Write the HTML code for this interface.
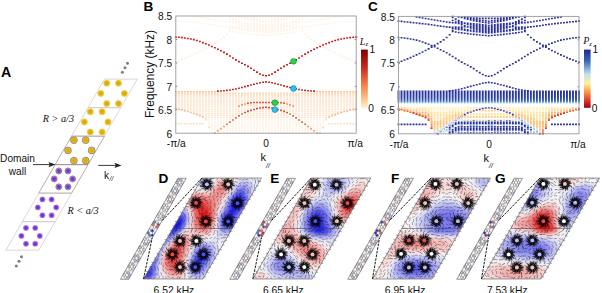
<!DOCTYPE html><html><head><meta charset="utf-8"><style>html,body{margin:0;padding:0;background:#fff;overflow:hidden;width:602px;height:293px;}svg{display:block;}</style></head><body>
<svg width="602" height="293" viewBox="0 0 602 293">
<defs>
<radialGradient id="gy"><stop offset="0" stop-color="#d8a400"/><stop offset="0.6" stop-color="#e3b510"/><stop offset="1" stop-color="#f3dc86"/></radialGradient>
<radialGradient id="gp"><stop offset="0" stop-color="#6a20c8"/><stop offset="0.6" stop-color="#8a48d8"/><stop offset="1" stop-color="#c4a8ec"/></radialGradient>
<linearGradient id="cbB" x1="0" y1="0" x2="0" y2="1"><stop offset="0" stop-color="#7a0000"/><stop offset="0.3" stop-color="#c8281c"/><stop offset="0.6" stop-color="#f2804a"/><stop offset="0.85" stop-color="#fcc890"/><stop offset="1" stop-color="#fff2dc"/></linearGradient>
<linearGradient id="cbC" x1="0" y1="0" x2="0" y2="1"><stop offset="0" stop-color="#1e2a8a"/><stop offset="0.2" stop-color="#3a6ab8"/><stop offset="0.42" stop-color="#bfe0ee"/><stop offset="0.58" stop-color="#fff0a0"/><stop offset="0.75" stop-color="#f88a40"/><stop offset="0.9" stop-color="#d42a20"/><stop offset="1" stop-color="#9a0020"/></linearGradient>
<linearGradient id="colC" x1="0" y1="0" x2="0" y2="1"><stop offset="0" stop-color="#28309a"/><stop offset="0.55" stop-color="#2a3ea6"/><stop offset="0.8" stop-color="#3a6ab8"/><stop offset="1" stop-color="#b8e0f0"/></linearGradient>
<radialGradient id="gR"><stop offset="0" stop-color="#e81818"/><stop offset="0.5" stop-color="#f06a6a" stop-opacity="0.8"/><stop offset="1" stop-color="#f8c8c8" stop-opacity="0"/></radialGradient>
<radialGradient id="gB"><stop offset="0" stop-color="#1c1cf0"/><stop offset="0.5" stop-color="#6a6af0" stop-opacity="0.8"/><stop offset="1" stop-color="#c8c8f8" stop-opacity="0"/></radialGradient>
<radialGradient id="gW"><stop offset="0" stop-color="#ffffff"/><stop offset="1" stop-color="#ffffff" stop-opacity="0"/></radialGradient>
<linearGradient id="colC2" x1="0" y1="0" x2="0" y2="1"><stop offset="0" stop-color="#2a309c"/><stop offset="0.5" stop-color="#3048b0"/><stop offset="1" stop-color="#2a3aa0"/></linearGradient>
<filter id="blur1" x="-10%" y="-10%" width="120%" height="120%"><feGaussianBlur stdDeviation="1.6"/></filter><filter id="blur2" x="-20%" y="-20%" width="140%" height="140%"><feGaussianBlur stdDeviation="1.3"/></filter>
</defs>
<rect width="602" height="293" fill="#fff"/>
<polygon points="104.37,79.15 137.28,79.15 120.83,107.65 87.92,107.65" fill="none" stroke="#cfc6c2" stroke-width="0.7"/>
<polygon points="87.97,107.65 120.88,107.65 104.43,136.15 71.52,136.15" fill="none" stroke="#cfc6c2" stroke-width="0.7"/>
<polygon points="71.57,136.15 104.48,136.15 88.03,164.65 55.12,164.65" fill="none" stroke="#948a86" stroke-width="0.7"/>
<polygon points="55.17,164.65 88.08,164.65 71.63,193.15 38.72,193.15" fill="none" stroke="#948a86" stroke-width="0.7"/>
<polygon points="38.77,193.15 71.68,193.15 55.23,221.65 22.32,221.65" fill="none" stroke="#cfc6c2" stroke-width="0.7"/>
<polygon points="22.37,221.65 55.28,221.65 38.83,250.15 5.92,250.15" fill="none" stroke="#cfc6c2" stroke-width="0.7"/>
<circle cx="124.4" cy="93.4" r="3.5" fill="url(#gy)"/>
<circle cx="118.5" cy="103.62" r="3.5" fill="url(#gy)"/>
<circle cx="106.7" cy="103.62" r="3.5" fill="url(#gy)"/>
<circle cx="100.8" cy="93.4" r="3.5" fill="url(#gy)"/>
<circle cx="106.7" cy="83.18" r="3.5" fill="url(#gy)"/>
<circle cx="118.5" cy="83.18" r="3.5" fill="url(#gy)"/>
<circle cx="108" cy="121.9" r="3.5" fill="url(#gy)"/>
<circle cx="102.1" cy="132.12" r="3.5" fill="url(#gy)"/>
<circle cx="90.3" cy="132.12" r="3.5" fill="url(#gy)"/>
<circle cx="84.4" cy="121.9" r="3.5" fill="url(#gy)"/>
<circle cx="90.3" cy="111.68" r="3.5" fill="url(#gy)"/>
<circle cx="102.1" cy="111.68" r="3.5" fill="url(#gy)"/>
<circle cx="91.6" cy="150.4" r="3.5" fill="url(#gy)"/>
<circle cx="91.6" cy="150.4" r="3.4" fill="none" stroke="#7a7270" stroke-width="0.75"/>
<circle cx="85.7" cy="160.62" r="3.5" fill="url(#gy)"/>
<circle cx="85.7" cy="160.62" r="3.4" fill="none" stroke="#7a7270" stroke-width="0.75"/>
<circle cx="73.9" cy="160.62" r="3.5" fill="url(#gy)"/>
<circle cx="73.9" cy="160.62" r="3.4" fill="none" stroke="#7a7270" stroke-width="0.75"/>
<circle cx="68" cy="150.4" r="3.5" fill="url(#gy)"/>
<circle cx="68" cy="150.4" r="3.4" fill="none" stroke="#7a7270" stroke-width="0.75"/>
<circle cx="73.9" cy="140.18" r="3.5" fill="url(#gy)"/>
<circle cx="73.9" cy="140.18" r="3.4" fill="none" stroke="#7a7270" stroke-width="0.75"/>
<circle cx="85.7" cy="140.18" r="3.5" fill="url(#gy)"/>
<circle cx="85.7" cy="140.18" r="3.4" fill="none" stroke="#7a7270" stroke-width="0.75"/>
<circle cx="72.6" cy="178.9" r="3.0" fill="url(#gp)"/>
<circle cx="72.6" cy="178.9" r="3.0" fill="none" stroke="#7a7270" stroke-width="0.75"/>
<circle cx="68" cy="186.87" r="3.0" fill="url(#gp)"/>
<circle cx="68" cy="186.87" r="3.0" fill="none" stroke="#7a7270" stroke-width="0.75"/>
<circle cx="58.8" cy="186.87" r="3.0" fill="url(#gp)"/>
<circle cx="58.8" cy="186.87" r="3.0" fill="none" stroke="#7a7270" stroke-width="0.75"/>
<circle cx="54.2" cy="178.9" r="3.0" fill="url(#gp)"/>
<circle cx="54.2" cy="178.9" r="3.0" fill="none" stroke="#7a7270" stroke-width="0.75"/>
<circle cx="58.8" cy="170.93" r="3.0" fill="url(#gp)"/>
<circle cx="58.8" cy="170.93" r="3.0" fill="none" stroke="#7a7270" stroke-width="0.75"/>
<circle cx="68" cy="170.93" r="3.0" fill="url(#gp)"/>
<circle cx="68" cy="170.93" r="3.0" fill="none" stroke="#7a7270" stroke-width="0.75"/>
<circle cx="56.2" cy="207.4" r="3.0" fill="url(#gp)"/>
<circle cx="51.6" cy="215.37" r="3.0" fill="url(#gp)"/>
<circle cx="42.4" cy="215.37" r="3.0" fill="url(#gp)"/>
<circle cx="37.8" cy="207.4" r="3.0" fill="url(#gp)"/>
<circle cx="42.4" cy="199.43" r="3.0" fill="url(#gp)"/>
<circle cx="51.6" cy="199.43" r="3.0" fill="url(#gp)"/>
<circle cx="39.8" cy="235.9" r="3.0" fill="url(#gp)"/>
<circle cx="35.2" cy="243.87" r="3.0" fill="url(#gp)"/>
<circle cx="26" cy="243.87" r="3.0" fill="url(#gp)"/>
<circle cx="21.4" cy="235.9" r="3.0" fill="url(#gp)"/>
<circle cx="26" cy="227.93" r="3.0" fill="url(#gp)"/>
<circle cx="35.2" cy="227.93" r="3.0" fill="url(#gp)"/>
<circle cx="127.5" cy="63.3" r="1.5" fill="#8a7878"/>
<circle cx="125" cy="67.8" r="1.5" fill="#8a7878"/>
<circle cx="122.4" cy="72.2" r="1.5" fill="#8a7878"/>
<circle cx="21.5" cy="256.7" r="1.5" fill="#8a7878"/>
<circle cx="19" cy="261.3" r="1.5" fill="#8a7878"/>
<circle cx="16.3" cy="265.9" r="1.5" fill="#8a7878"/>
<line x1="33" y1="164.6" x2="50" y2="164.6" stroke="#222" stroke-width="0.9"/>
<polygon points="55.5,164.6 48.5,161.9 49.8,164.6 48.5,167.3" fill="#222"/>
<line x1="98.3" y1="165.4" x2="116" y2="165.4" stroke="#222" stroke-width="0.9"/>
<polygon points="121.5,165.4 114.5,162.7 115.8,165.4 114.5,168.1" fill="#222"/>
<text x="1" y="77.2" font-size="14.2" text-anchor="start" font-weight="bold" font-style="normal" font-family='"Liberation Sans", sans-serif' fill="#000" >A</text>
<text x="17.5" y="161.8" font-size="10.1" text-anchor="middle" font-weight="normal" font-style="normal" font-family='"Liberation Sans", sans-serif' fill="#111" >Domain</text>
<text x="17.5" y="174.8" font-size="10.1" text-anchor="middle" font-weight="normal" font-style="normal" font-family='"Liberation Sans", sans-serif' fill="#111" >wall</text>
<text x="104" y="179" font-size="10.1" text-anchor="start" font-weight="normal" font-style="normal" font-family='"Liberation Sans", sans-serif' fill="#111" >k</text>
<text x="109.6" y="181.4" font-size="6.5" text-anchor="start" font-weight="normal" font-style="italic" font-family='"Liberation Sans", sans-serif' fill="#111" >//</text>
<text x="42.8" y="122" font-size="10.2" text-anchor="start" font-weight="normal" font-style="italic" font-family='"Liberation Serif", serif' fill="#111" >R &gt; a/3</text>
<text x="67.5" y="214.3" font-size="10.2" text-anchor="start" font-weight="normal" font-style="italic" font-family='"Liberation Serif", serif' fill="#111" >R &lt; a/3</text>
<path fill="#c8181c" d="M174.85 36.3h1.9v1.6h-1.9zM177.86 36.51h1.9v1.6h-1.9zM180.86 36.83h1.9v1.6h-1.9zM183.87 37.23h1.9v1.6h-1.9zM186.88 37.71h1.9v1.6h-1.9zM189.88 38.25h1.9v1.6h-1.9zM192.89 38.87h1.9v1.6h-1.9zM195.9 39.71h1.9v1.6h-1.9zM198.9 40.72h1.9v1.6h-1.9zM201.91 41.85h1.9v1.6h-1.9zM204.92 43.02h1.9v1.6h-1.9zM207.92 44.23h1.9v1.6h-1.9zM210.93 45.55h1.9v1.6h-1.9zM213.94 46.94h1.9v1.6h-1.9zM216.94 48.42h1.9v1.6h-1.9zM219.95 49.96h1.9v1.6h-1.9zM222.96 51.56h1.9v1.6h-1.9zM225.96 53.32h1.9v1.6h-1.9zM228.97 55.21h1.9v1.6h-1.9zM231.98 57.15h1.9v1.6h-1.9zM234.98 59.05h1.9v1.6h-1.9zM237.99 60.83h1.9v1.6h-1.9zM241 62.42h1.9v1.6h-1.9zM244 63.95h1.9v1.6h-1.9zM247.01 65.55h1.9v1.6h-1.9zM250.02 67.38h1.9v1.6h-1.9zM253.02 69.4h1.9v1.6h-1.9zM256.03 71.37h1.9v1.6h-1.9zM259.04 73.25h1.9v1.6h-1.9zM262.04 74.51h1.9v1.6h-1.9zM265.05 74.97h1.9v1.6h-1.9zM268.06 74.51h1.9v1.6h-1.9zM271.06 73.25h1.9v1.6h-1.9zM274.07 71.37h1.9v1.6h-1.9zM277.08 69.4h1.9v1.6h-1.9zM280.08 67.38h1.9v1.6h-1.9zM283.09 65.55h1.9v1.6h-1.9zM286.1 63.95h1.9v1.6h-1.9zM289.1 62.42h1.9v1.6h-1.9zM292.11 60.83h1.9v1.6h-1.9zM295.12 59.05h1.9v1.6h-1.9zM298.12 57.15h1.9v1.6h-1.9zM301.13 55.21h1.9v1.6h-1.9zM304.14 53.32h1.9v1.6h-1.9zM307.14 51.56h1.9v1.6h-1.9zM310.15 49.96h1.9v1.6h-1.9zM313.16 48.42h1.9v1.6h-1.9zM316.16 46.94h1.9v1.6h-1.9zM319.17 45.55h1.9v1.6h-1.9zM322.18 44.23h1.9v1.6h-1.9zM325.18 43.02h1.9v1.6h-1.9zM328.19 41.85h1.9v1.6h-1.9zM331.2 40.72h1.9v1.6h-1.9zM334.2 39.71h1.9v1.6h-1.9zM337.21 38.87h1.9v1.6h-1.9zM340.22 38.25h1.9v1.6h-1.9zM343.22 37.71h1.9v1.6h-1.9zM346.23 37.23h1.9v1.6h-1.9zM349.24 36.83h1.9v1.6h-1.9zM352.24 36.51h1.9v1.6h-1.9zM355.25 36.3h1.9v1.6h-1.9z"/>
<path fill="#c42a1c" d="M216.94 90.33h1.9v1.6h-1.9zM219.95 90.13h1.9v1.6h-1.9zM222.96 89.88h1.9v1.6h-1.9zM225.96 89.58h1.9v1.6h-1.9zM228.97 89.2h1.9v1.6h-1.9zM231.98 88.73h1.9v1.6h-1.9zM234.98 88.17h1.9v1.6h-1.9zM237.99 87.47h1.9v1.6h-1.9zM241 86.68h1.9v1.6h-1.9zM244 85.85h1.9v1.6h-1.9zM247.01 85.05h1.9v1.6h-1.9zM250.02 84.24h1.9v1.6h-1.9zM253.02 83.4h1.9v1.6h-1.9zM256.03 82.63h1.9v1.6h-1.9zM259.04 82.01h1.9v1.6h-1.9zM262.04 81.49h1.9v1.6h-1.9zM265.05 81.07h1.9v1.6h-1.9zM268.06 81.49h1.9v1.6h-1.9zM271.06 82.01h1.9v1.6h-1.9zM274.07 82.63h1.9v1.6h-1.9zM277.08 83.4h1.9v1.6h-1.9zM280.08 84.24h1.9v1.6h-1.9zM283.09 85.05h1.9v1.6h-1.9zM286.1 85.85h1.9v1.6h-1.9zM289.1 86.68h1.9v1.6h-1.9zM292.11 87.47h1.9v1.6h-1.9zM295.12 88.17h1.9v1.6h-1.9zM298.12 88.73h1.9v1.6h-1.9zM301.13 89.2h1.9v1.6h-1.9zM304.14 89.58h1.9v1.6h-1.9zM307.14 89.88h1.9v1.6h-1.9zM310.15 90.13h1.9v1.6h-1.9zM313.16 90.33h1.9v1.6h-1.9z"/>
<path fill="#fef0e0" d="M174.85 61h1.9v1.6h-1.9zM177.86 59.92h1.9v1.6h-1.9zM180.86 58.77h1.9v1.6h-1.9zM183.87 57.57h1.9v1.6h-1.9zM186.88 56.31h1.9v1.6h-1.9zM189.88 55h1.9v1.6h-1.9zM192.89 53.64h1.9v1.6h-1.9zM195.9 52.23h1.9v1.6h-1.9zM198.9 50.76h1.9v1.6h-1.9zM201.91 49.22h1.9v1.6h-1.9zM204.92 47.6h1.9v1.6h-1.9zM207.92 45.89h1.9v1.6h-1.9zM210.93 44.13h1.9v1.6h-1.9zM213.94 42.41h1.9v1.6h-1.9zM216.94 40.61h1.9v1.6h-1.9zM219.95 38.61h1.9v1.6h-1.9zM222.96 36.28h1.9v1.6h-1.9zM225.96 33.51h1.9v1.6h-1.9zM228.97 29.26h1.9v1.6h-1.9zM301.13 29.26h1.9v1.6h-1.9zM304.14 33.51h1.9v1.6h-1.9zM307.14 36.28h1.9v1.6h-1.9zM310.15 38.61h1.9v1.6h-1.9zM313.16 40.61h1.9v1.6h-1.9zM316.16 42.41h1.9v1.6h-1.9zM319.17 44.13h1.9v1.6h-1.9zM322.18 45.89h1.9v1.6h-1.9zM325.18 47.6h1.9v1.6h-1.9zM328.19 49.22h1.9v1.6h-1.9zM331.2 50.76h1.9v1.6h-1.9zM334.2 52.23h1.9v1.6h-1.9zM337.21 53.64h1.9v1.6h-1.9zM340.22 55h1.9v1.6h-1.9zM343.22 56.31h1.9v1.6h-1.9zM346.23 57.57h1.9v1.6h-1.9zM349.24 58.77h1.9v1.6h-1.9zM352.24 59.92h1.9v1.6h-1.9zM355.25 61h1.9v1.6h-1.9z"/>
<path fill="#fff4e8" d="M192.89 15.65h1.9v1.6h-1.9zM195.9 16.21h1.9v1.6h-1.9zM198.9 16.77h1.9v1.6h-1.9zM201.91 17.3h1.9v1.6h-1.9zM204.92 17.82h1.9v1.6h-1.9zM207.92 18.32h1.9v1.6h-1.9zM210.93 18.79h1.9v1.6h-1.9zM213.94 19.28h1.9v1.6h-1.9zM216.94 19.78h1.9v1.6h-1.9zM219.95 20.28h1.9v1.6h-1.9zM222.96 20.74h1.9v1.6h-1.9zM225.96 21.15h1.9v1.6h-1.9zM228.97 21.48h1.9v1.6h-1.9zM231.98 21.71h1.9v1.6h-1.9zM234.98 21.85h1.9v1.6h-1.9zM237.99 21.95h1.9v1.6h-1.9zM241 22.04h1.9v1.6h-1.9zM244 22.14h1.9v1.6h-1.9zM247.01 22.29h1.9v1.6h-1.9zM250.02 22.5h1.9v1.6h-1.9zM253.02 22.77h1.9v1.6h-1.9zM256.03 23.11h1.9v1.6h-1.9zM259.04 23.5h1.9v1.6h-1.9zM262.04 23.92h1.9v1.6h-1.9zM265.05 24.38h1.9v1.6h-1.9zM268.06 23.92h1.9v1.6h-1.9zM271.06 23.5h1.9v1.6h-1.9zM274.07 23.11h1.9v1.6h-1.9zM277.08 22.77h1.9v1.6h-1.9zM280.08 22.5h1.9v1.6h-1.9zM283.09 22.29h1.9v1.6h-1.9zM286.1 22.14h1.9v1.6h-1.9zM289.1 22.04h1.9v1.6h-1.9zM292.11 21.95h1.9v1.6h-1.9zM295.12 21.85h1.9v1.6h-1.9zM298.12 21.71h1.9v1.6h-1.9zM301.13 21.48h1.9v1.6h-1.9zM304.14 21.15h1.9v1.6h-1.9zM307.14 20.74h1.9v1.6h-1.9zM310.15 20.28h1.9v1.6h-1.9zM313.16 19.78h1.9v1.6h-1.9zM316.16 19.28h1.9v1.6h-1.9zM319.17 18.79h1.9v1.6h-1.9zM322.18 18.32h1.9v1.6h-1.9zM325.18 17.82h1.9v1.6h-1.9zM328.19 17.3h1.9v1.6h-1.9zM331.2 16.77h1.9v1.6h-1.9zM334.2 16.21h1.9v1.6h-1.9zM337.21 15.65h1.9v1.6h-1.9zM174.85 19.89h1.9v1.6h-1.9zM177.86 20.2h1.9v1.6h-1.9zM180.86 20.52h1.9v1.6h-1.9zM183.87 20.84h1.9v1.6h-1.9zM186.88 21.16h1.9v1.6h-1.9zM189.88 21.48h1.9v1.6h-1.9zM192.89 21.8h1.9v1.6h-1.9zM195.9 22.13h1.9v1.6h-1.9zM198.9 22.46h1.9v1.6h-1.9zM201.91 22.79h1.9v1.6h-1.9zM204.92 23.15h1.9v1.6h-1.9zM207.92 23.57h1.9v1.6h-1.9zM210.93 24.02h1.9v1.6h-1.9zM213.94 24.47h1.9v1.6h-1.9zM216.94 24.92h1.9v1.6h-1.9zM219.95 25.32h1.9v1.6h-1.9zM222.96 25.68h1.9v1.6h-1.9zM225.96 25.95h1.9v1.6h-1.9zM228.97 26.13h1.9v1.6h-1.9zM231.98 26.18h1.9v1.6h-1.9zM234.98 26.07h1.9v1.6h-1.9zM237.99 25.85h1.9v1.6h-1.9zM241 25.59h1.9v1.6h-1.9zM244 25.37h1.9v1.6h-1.9zM247.01 25.28h1.9v1.6h-1.9zM250.02 25.32h1.9v1.6h-1.9zM253.02 25.43h1.9v1.6h-1.9zM256.03 25.61h1.9v1.6h-1.9zM259.04 25.86h1.9v1.6h-1.9zM262.04 26.19h1.9v1.6h-1.9zM265.05 26.58h1.9v1.6h-1.9zM268.06 26.19h1.9v1.6h-1.9zM271.06 25.86h1.9v1.6h-1.9zM274.07 25.61h1.9v1.6h-1.9zM277.08 25.43h1.9v1.6h-1.9zM280.08 25.32h1.9v1.6h-1.9zM283.09 25.28h1.9v1.6h-1.9zM286.1 25.37h1.9v1.6h-1.9zM289.1 25.59h1.9v1.6h-1.9zM292.11 25.85h1.9v1.6h-1.9zM295.12 26.07h1.9v1.6h-1.9zM298.12 26.18h1.9v1.6h-1.9zM301.13 26.13h1.9v1.6h-1.9zM304.14 25.95h1.9v1.6h-1.9zM307.14 25.68h1.9v1.6h-1.9zM310.15 25.32h1.9v1.6h-1.9zM313.16 24.92h1.9v1.6h-1.9zM316.16 24.47h1.9v1.6h-1.9zM319.17 24.02h1.9v1.6h-1.9zM322.18 23.57h1.9v1.6h-1.9zM325.18 23.15h1.9v1.6h-1.9zM328.19 22.79h1.9v1.6h-1.9zM331.2 22.46h1.9v1.6h-1.9zM334.2 22.13h1.9v1.6h-1.9zM337.21 21.8h1.9v1.6h-1.9zM340.22 21.48h1.9v1.6h-1.9zM343.22 21.16h1.9v1.6h-1.9zM346.23 20.84h1.9v1.6h-1.9zM349.24 20.52h1.9v1.6h-1.9zM352.24 20.2h1.9v1.6h-1.9zM355.25 19.89h1.9v1.6h-1.9zM241 15.53h1.9v1.6h-1.9zM244 16.06h1.9v1.6h-1.9zM247.01 16.51h1.9v1.6h-1.9zM250.02 16.81h1.9v1.6h-1.9zM253.02 16.95h1.9v1.6h-1.9zM256.03 17.05h1.9v1.6h-1.9zM259.04 17.13h1.9v1.6h-1.9zM262.04 17.18h1.9v1.6h-1.9zM265.05 17.2h1.9v1.6h-1.9zM268.06 17.18h1.9v1.6h-1.9zM271.06 17.13h1.9v1.6h-1.9zM274.07 17.05h1.9v1.6h-1.9zM277.08 16.95h1.9v1.6h-1.9zM280.08 16.81h1.9v1.6h-1.9zM283.09 16.51h1.9v1.6h-1.9zM286.1 16.06h1.9v1.6h-1.9zM289.1 15.53h1.9v1.6h-1.9zM237.99 16.23h1.9v1.6h-1.9zM241 17.19h1.9v1.6h-1.9zM244 18.06h1.9v1.6h-1.9zM247.01 18.79h1.9v1.6h-1.9zM250.02 19.43h1.9v1.6h-1.9zM253.02 20.04h1.9v1.6h-1.9zM256.03 20.59h1.9v1.6h-1.9zM259.04 21.07h1.9v1.6h-1.9zM262.04 21.48h1.9v1.6h-1.9zM265.05 21.79h1.9v1.6h-1.9zM268.06 21.48h1.9v1.6h-1.9zM271.06 21.07h1.9v1.6h-1.9zM274.07 20.59h1.9v1.6h-1.9zM277.08 20.04h1.9v1.6h-1.9zM280.08 19.43h1.9v1.6h-1.9zM283.09 18.79h1.9v1.6h-1.9zM286.1 18.06h1.9v1.6h-1.9zM289.1 17.19h1.9v1.6h-1.9zM292.11 16.23h1.9v1.6h-1.9zM228.97 15.3h1.9v1.6h-1.9zM231.98 18.31h1.9v1.6h-1.9zM234.98 20.55h1.9v1.6h-1.9zM237.99 22.61h1.9v1.6h-1.9zM241 24.4h1.9v1.6h-1.9zM244 25.83h1.9v1.6h-1.9zM247.01 26.78h1.9v1.6h-1.9zM250.02 27.44h1.9v1.6h-1.9zM253.02 28.03h1.9v1.6h-1.9zM256.03 28.54h1.9v1.6h-1.9zM259.04 28.93h1.9v1.6h-1.9zM262.04 29.19h1.9v1.6h-1.9zM265.05 29.28h1.9v1.6h-1.9zM268.06 29.19h1.9v1.6h-1.9zM271.06 28.93h1.9v1.6h-1.9zM274.07 28.54h1.9v1.6h-1.9zM277.08 28.03h1.9v1.6h-1.9zM280.08 27.44h1.9v1.6h-1.9zM283.09 26.78h1.9v1.6h-1.9zM286.1 25.83h1.9v1.6h-1.9zM289.1 24.4h1.9v1.6h-1.9zM292.11 22.61h1.9v1.6h-1.9zM295.12 20.55h1.9v1.6h-1.9zM298.12 18.31h1.9v1.6h-1.9zM301.13 15.3h1.9v1.6h-1.9zM228.97 27.28h1.9v1.6h-1.9zM231.98 27.73h1.9v1.6h-1.9zM234.98 28.17h1.9v1.6h-1.9zM237.99 28.59h1.9v1.6h-1.9zM241 29h1.9v1.6h-1.9zM244 29.4h1.9v1.6h-1.9zM247.01 29.78h1.9v1.6h-1.9zM250.02 30.14h1.9v1.6h-1.9zM253.02 30.49h1.9v1.6h-1.9zM256.03 30.83h1.9v1.6h-1.9zM259.04 31.16h1.9v1.6h-1.9zM262.04 31.47h1.9v1.6h-1.9zM265.05 31.77h1.9v1.6h-1.9zM268.06 31.47h1.9v1.6h-1.9zM271.06 31.16h1.9v1.6h-1.9zM274.07 30.83h1.9v1.6h-1.9zM277.08 30.49h1.9v1.6h-1.9zM280.08 30.14h1.9v1.6h-1.9zM283.09 29.78h1.9v1.6h-1.9zM286.1 29.4h1.9v1.6h-1.9zM289.1 29h1.9v1.6h-1.9zM292.11 28.59h1.9v1.6h-1.9zM295.12 28.17h1.9v1.6h-1.9zM298.12 27.73h1.9v1.6h-1.9zM301.13 27.28h1.9v1.6h-1.9zM228.97 30.27h1.9v1.6h-1.9zM231.98 30.75h1.9v1.6h-1.9zM234.98 31.2h1.9v1.6h-1.9zM237.99 31.63h1.9v1.6h-1.9zM241 32.04h1.9v1.6h-1.9zM244 32.42h1.9v1.6h-1.9zM247.01 32.77h1.9v1.6h-1.9zM250.02 33.1h1.9v1.6h-1.9zM253.02 33.41h1.9v1.6h-1.9zM256.03 33.71h1.9v1.6h-1.9zM259.04 33.98h1.9v1.6h-1.9zM262.04 34.24h1.9v1.6h-1.9zM265.05 34.47h1.9v1.6h-1.9zM268.06 34.24h1.9v1.6h-1.9zM271.06 33.98h1.9v1.6h-1.9zM274.07 33.71h1.9v1.6h-1.9zM277.08 33.41h1.9v1.6h-1.9zM280.08 33.1h1.9v1.6h-1.9zM283.09 32.77h1.9v1.6h-1.9zM286.1 32.42h1.9v1.6h-1.9zM289.1 32.04h1.9v1.6h-1.9zM292.11 31.63h1.9v1.6h-1.9zM295.12 31.2h1.9v1.6h-1.9zM298.12 30.75h1.9v1.6h-1.9zM301.13 30.27h1.9v1.6h-1.9zM234.98 15.76h1.9v1.6h-1.9zM237.99 16.3h1.9v1.6h-1.9zM241 16.78h1.9v1.6h-1.9zM244 17.24h1.9v1.6h-1.9zM247.01 17.67h1.9v1.6h-1.9zM250.02 18.09h1.9v1.6h-1.9zM253.02 18.5h1.9v1.6h-1.9zM256.03 18.89h1.9v1.6h-1.9zM259.04 19.27h1.9v1.6h-1.9zM262.04 19.64h1.9v1.6h-1.9zM265.05 19.99h1.9v1.6h-1.9zM268.06 19.64h1.9v1.6h-1.9zM271.06 19.27h1.9v1.6h-1.9zM274.07 18.89h1.9v1.6h-1.9zM277.08 18.5h1.9v1.6h-1.9zM280.08 18.09h1.9v1.6h-1.9zM283.09 17.67h1.9v1.6h-1.9zM286.1 17.24h1.9v1.6h-1.9zM289.1 16.78h1.9v1.6h-1.9zM292.11 16.3h1.9v1.6h-1.9zM295.12 15.76h1.9v1.6h-1.9zM228.97 16.3h1.9v1.6h-1.9zM231.98 17.87h1.9v1.6h-1.9zM234.98 19.28h1.9v1.6h-1.9zM237.99 20.56h1.9v1.6h-1.9zM241 21.85h1.9v1.6h-1.9zM244 22.93h1.9v1.6h-1.9zM247.01 23.59h1.9v1.6h-1.9zM250.02 23.92h1.9v1.6h-1.9zM253.02 24.21h1.9v1.6h-1.9zM256.03 24.45h1.9v1.6h-1.9zM259.04 24.63h1.9v1.6h-1.9zM262.04 24.74h1.9v1.6h-1.9zM265.05 24.78h1.9v1.6h-1.9zM268.06 24.74h1.9v1.6h-1.9zM271.06 24.63h1.9v1.6h-1.9zM274.07 24.45h1.9v1.6h-1.9zM277.08 24.21h1.9v1.6h-1.9zM280.08 23.92h1.9v1.6h-1.9zM283.09 23.59h1.9v1.6h-1.9zM286.1 22.93h1.9v1.6h-1.9zM289.1 21.85h1.9v1.6h-1.9zM292.11 20.56h1.9v1.6h-1.9zM295.12 19.28h1.9v1.6h-1.9zM298.12 17.87h1.9v1.6h-1.9zM301.13 16.3h1.9v1.6h-1.9zM231.98 25.71h1.9v1.6h-1.9zM234.98 26.58h1.9v1.6h-1.9zM237.99 27.36h1.9v1.6h-1.9zM241 28.01h1.9v1.6h-1.9zM244 28.52h1.9v1.6h-1.9zM247.01 28.99h1.9v1.6h-1.9zM250.02 29.43h1.9v1.6h-1.9zM253.02 29.83h1.9v1.6h-1.9zM256.03 30.18h1.9v1.6h-1.9zM259.04 30.46h1.9v1.6h-1.9zM262.04 30.67h1.9v1.6h-1.9zM265.05 30.77h1.9v1.6h-1.9zM268.06 30.67h1.9v1.6h-1.9zM271.06 30.46h1.9v1.6h-1.9zM274.07 30.18h1.9v1.6h-1.9zM277.08 29.83h1.9v1.6h-1.9zM280.08 29.43h1.9v1.6h-1.9zM283.09 28.99h1.9v1.6h-1.9zM286.1 28.52h1.9v1.6h-1.9zM289.1 28.01h1.9v1.6h-1.9zM292.11 27.36h1.9v1.6h-1.9zM295.12 26.58h1.9v1.6h-1.9zM298.12 25.71h1.9v1.6h-1.9zM228.97 19.24h1.9v1.6h-1.9zM231.98 20.76h1.9v1.6h-1.9zM234.98 22.16h1.9v1.6h-1.9zM237.99 23.4h1.9v1.6h-1.9zM241 24.48h1.9v1.6h-1.9zM244 25.34h1.9v1.6h-1.9zM247.01 25.98h1.9v1.6h-1.9zM250.02 26.49h1.9v1.6h-1.9zM253.02 26.96h1.9v1.6h-1.9zM256.03 27.36h1.9v1.6h-1.9zM259.04 27.69h1.9v1.6h-1.9zM262.04 27.9h1.9v1.6h-1.9zM265.05 27.98h1.9v1.6h-1.9zM268.06 27.9h1.9v1.6h-1.9zM271.06 27.69h1.9v1.6h-1.9zM274.07 27.36h1.9v1.6h-1.9zM277.08 26.96h1.9v1.6h-1.9zM280.08 26.49h1.9v1.6h-1.9zM283.09 25.98h1.9v1.6h-1.9zM286.1 25.34h1.9v1.6h-1.9zM289.1 24.48h1.9v1.6h-1.9zM292.11 23.4h1.9v1.6h-1.9zM295.12 22.16h1.9v1.6h-1.9zM298.12 20.76h1.9v1.6h-1.9zM301.13 19.24h1.9v1.6h-1.9z"/>
<path fill="#fbc08e" d="M174.85 90.96h1.9v1.5h-1.9zM177.86 90.96h1.9v1.5h-1.9zM180.86 90.96h1.9v1.5h-1.9zM183.87 90.96h1.9v1.5h-1.9zM186.88 90.96h1.9v1.5h-1.9zM189.88 90.96h1.9v1.5h-1.9zM192.89 90.96h1.9v1.5h-1.9zM195.9 90.96h1.9v1.5h-1.9zM198.9 90.96h1.9v1.5h-1.9zM201.91 90.96h1.9v1.5h-1.9zM204.92 90.96h1.9v1.5h-1.9zM207.92 90.96h1.9v1.5h-1.9zM210.93 90.96h1.9v1.5h-1.9zM213.94 90.96h1.9v1.5h-1.9zM316.16 90.96h1.9v1.5h-1.9zM319.17 90.96h1.9v1.5h-1.9zM322.18 90.96h1.9v1.5h-1.9zM325.18 90.96h1.9v1.5h-1.9zM328.19 90.96h1.9v1.5h-1.9zM331.2 90.96h1.9v1.5h-1.9zM334.2 90.96h1.9v1.5h-1.9zM337.21 90.96h1.9v1.5h-1.9zM340.22 90.96h1.9v1.5h-1.9zM343.22 90.96h1.9v1.5h-1.9zM346.23 90.96h1.9v1.5h-1.9zM349.24 90.96h1.9v1.5h-1.9zM352.24 90.96h1.9v1.5h-1.9zM355.25 90.96h1.9v1.5h-1.9z"/>
<path fill="#fdd8b4" d="M174.85 92.56h1.9v1.5h-1.9zM174.85 94.15h1.9v1.5h-1.9zM177.86 92.56h1.9v1.5h-1.9zM177.86 94.15h1.9v1.5h-1.9zM180.86 92.56h1.9v1.5h-1.9zM180.86 94.15h1.9v1.5h-1.9zM183.87 92.56h1.9v1.5h-1.9zM183.87 94.15h1.9v1.5h-1.9zM186.88 92.56h1.9v1.5h-1.9zM186.88 94.15h1.9v1.5h-1.9zM189.88 92.56h1.9v1.5h-1.9zM189.88 94.15h1.9v1.5h-1.9zM192.89 92.56h1.9v1.5h-1.9zM192.89 94.15h1.9v1.5h-1.9zM195.9 92.56h1.9v1.5h-1.9zM195.9 94.15h1.9v1.5h-1.9zM198.9 92.56h1.9v1.5h-1.9zM198.9 94.15h1.9v1.5h-1.9zM201.91 92.56h1.9v1.5h-1.9zM201.91 94.15h1.9v1.5h-1.9zM204.92 92.56h1.9v1.5h-1.9zM204.92 94.15h1.9v1.5h-1.9zM207.92 92.56h1.9v1.5h-1.9zM207.92 94.15h1.9v1.5h-1.9zM210.93 92.56h1.9v1.5h-1.9zM210.93 94.15h1.9v1.5h-1.9zM213.94 92.56h1.9v1.5h-1.9zM213.94 94.15h1.9v1.5h-1.9zM216.94 92.56h1.9v1.5h-1.9zM216.94 94.15h1.9v1.5h-1.9zM219.95 92.56h1.9v1.5h-1.9zM219.95 94.15h1.9v1.5h-1.9zM222.96 92.56h1.9v1.5h-1.9zM222.96 94.15h1.9v1.5h-1.9zM225.96 92.56h1.9v1.5h-1.9zM225.96 94.15h1.9v1.5h-1.9zM228.97 92.56h1.9v1.5h-1.9zM228.97 94.15h1.9v1.5h-1.9zM231.98 92.56h1.9v1.5h-1.9zM231.98 94.15h1.9v1.5h-1.9zM234.98 92.56h1.9v1.5h-1.9zM234.98 94.15h1.9v1.5h-1.9zM237.99 92.56h1.9v1.5h-1.9zM237.99 94.15h1.9v1.5h-1.9zM241 92.56h1.9v1.5h-1.9zM241 94.15h1.9v1.5h-1.9zM244 92.56h1.9v1.5h-1.9zM244 94.15h1.9v1.5h-1.9zM247.01 92.56h1.9v1.5h-1.9zM247.01 94.15h1.9v1.5h-1.9zM250.02 92.56h1.9v1.5h-1.9zM250.02 94.15h1.9v1.5h-1.9zM253.02 92.56h1.9v1.5h-1.9zM253.02 94.15h1.9v1.5h-1.9zM256.03 92.56h1.9v1.5h-1.9zM256.03 94.15h1.9v1.5h-1.9zM259.04 92.56h1.9v1.5h-1.9zM259.04 94.15h1.9v1.5h-1.9zM262.04 92.56h1.9v1.5h-1.9zM262.04 94.15h1.9v1.5h-1.9zM265.05 92.56h1.9v1.5h-1.9zM265.05 94.15h1.9v1.5h-1.9zM268.06 92.56h1.9v1.5h-1.9zM268.06 94.15h1.9v1.5h-1.9zM271.06 92.56h1.9v1.5h-1.9zM271.06 94.15h1.9v1.5h-1.9zM274.07 92.56h1.9v1.5h-1.9zM274.07 94.15h1.9v1.5h-1.9zM277.08 92.56h1.9v1.5h-1.9zM277.08 94.15h1.9v1.5h-1.9zM280.08 92.56h1.9v1.5h-1.9zM280.08 94.15h1.9v1.5h-1.9zM283.09 92.56h1.9v1.5h-1.9zM283.09 94.15h1.9v1.5h-1.9zM286.1 92.56h1.9v1.5h-1.9zM286.1 94.15h1.9v1.5h-1.9zM289.1 92.56h1.9v1.5h-1.9zM289.1 94.15h1.9v1.5h-1.9zM292.11 92.56h1.9v1.5h-1.9zM292.11 94.15h1.9v1.5h-1.9zM295.12 92.56h1.9v1.5h-1.9zM295.12 94.15h1.9v1.5h-1.9zM298.12 92.56h1.9v1.5h-1.9zM298.12 94.15h1.9v1.5h-1.9zM301.13 92.56h1.9v1.5h-1.9zM301.13 94.15h1.9v1.5h-1.9zM304.14 92.56h1.9v1.5h-1.9zM304.14 94.15h1.9v1.5h-1.9zM307.14 92.56h1.9v1.5h-1.9zM307.14 94.15h1.9v1.5h-1.9zM310.15 92.56h1.9v1.5h-1.9zM310.15 94.15h1.9v1.5h-1.9zM313.16 92.56h1.9v1.5h-1.9zM313.16 94.15h1.9v1.5h-1.9zM316.16 92.56h1.9v1.5h-1.9zM316.16 94.15h1.9v1.5h-1.9zM319.17 92.56h1.9v1.5h-1.9zM319.17 94.15h1.9v1.5h-1.9zM322.18 92.56h1.9v1.5h-1.9zM322.18 94.15h1.9v1.5h-1.9zM325.18 92.56h1.9v1.5h-1.9zM325.18 94.15h1.9v1.5h-1.9zM328.19 92.56h1.9v1.5h-1.9zM328.19 94.15h1.9v1.5h-1.9zM331.2 92.56h1.9v1.5h-1.9zM331.2 94.15h1.9v1.5h-1.9zM334.2 92.56h1.9v1.5h-1.9zM334.2 94.15h1.9v1.5h-1.9zM337.21 92.56h1.9v1.5h-1.9zM337.21 94.15h1.9v1.5h-1.9zM340.22 92.56h1.9v1.5h-1.9zM340.22 94.15h1.9v1.5h-1.9zM343.22 92.56h1.9v1.5h-1.9zM343.22 94.15h1.9v1.5h-1.9zM346.23 92.56h1.9v1.5h-1.9zM346.23 94.15h1.9v1.5h-1.9zM349.24 92.56h1.9v1.5h-1.9zM349.24 94.15h1.9v1.5h-1.9zM352.24 92.56h1.9v1.5h-1.9zM352.24 94.15h1.9v1.5h-1.9zM355.25 92.56h1.9v1.5h-1.9zM355.25 94.15h1.9v1.5h-1.9z"/>
<path fill="#fee8d4" d="M174.85 95.74h1.9v1.5h-1.9zM174.85 97.34h1.9v1.5h-1.9zM174.85 98.93h1.9v1.5h-1.9zM174.85 100.52h1.9v1.5h-1.9zM174.85 102.12h1.9v1.5h-1.9zM174.85 103.71h1.9v1.5h-1.9zM177.86 95.74h1.9v1.5h-1.9zM177.86 97.34h1.9v1.5h-1.9zM177.86 98.93h1.9v1.5h-1.9zM177.86 100.52h1.9v1.5h-1.9zM177.86 102.12h1.9v1.5h-1.9zM177.86 103.71h1.9v1.5h-1.9zM180.86 95.74h1.9v1.5h-1.9zM180.86 97.34h1.9v1.5h-1.9zM180.86 98.93h1.9v1.5h-1.9zM180.86 100.52h1.9v1.5h-1.9zM180.86 102.12h1.9v1.5h-1.9zM180.86 103.71h1.9v1.5h-1.9zM183.87 95.74h1.9v1.5h-1.9zM183.87 97.34h1.9v1.5h-1.9zM183.87 98.93h1.9v1.5h-1.9zM183.87 100.52h1.9v1.5h-1.9zM183.87 102.12h1.9v1.5h-1.9zM183.87 103.71h1.9v1.5h-1.9zM186.88 95.74h1.9v1.5h-1.9zM186.88 97.34h1.9v1.5h-1.9zM186.88 98.93h1.9v1.5h-1.9zM186.88 100.52h1.9v1.5h-1.9zM186.88 102.12h1.9v1.5h-1.9zM186.88 103.71h1.9v1.5h-1.9zM189.88 95.74h1.9v1.5h-1.9zM189.88 97.34h1.9v1.5h-1.9zM189.88 98.93h1.9v1.5h-1.9zM189.88 100.52h1.9v1.5h-1.9zM189.88 102.12h1.9v1.5h-1.9zM189.88 103.71h1.9v1.5h-1.9zM192.89 95.74h1.9v1.5h-1.9zM192.89 97.34h1.9v1.5h-1.9zM192.89 98.93h1.9v1.5h-1.9zM192.89 100.52h1.9v1.5h-1.9zM192.89 102.12h1.9v1.5h-1.9zM192.89 103.71h1.9v1.5h-1.9zM195.9 95.74h1.9v1.5h-1.9zM195.9 97.34h1.9v1.5h-1.9zM195.9 98.93h1.9v1.5h-1.9zM195.9 100.52h1.9v1.5h-1.9zM195.9 102.12h1.9v1.5h-1.9zM195.9 103.71h1.9v1.5h-1.9zM198.9 95.74h1.9v1.5h-1.9zM198.9 97.34h1.9v1.5h-1.9zM198.9 98.93h1.9v1.5h-1.9zM198.9 100.52h1.9v1.5h-1.9zM198.9 102.12h1.9v1.5h-1.9zM198.9 103.71h1.9v1.5h-1.9zM201.91 95.74h1.9v1.5h-1.9zM201.91 97.34h1.9v1.5h-1.9zM201.91 98.93h1.9v1.5h-1.9zM201.91 100.52h1.9v1.5h-1.9zM201.91 102.12h1.9v1.5h-1.9zM201.91 103.71h1.9v1.5h-1.9zM204.92 95.74h1.9v1.5h-1.9zM204.92 97.34h1.9v1.5h-1.9zM204.92 98.93h1.9v1.5h-1.9zM204.92 100.52h1.9v1.5h-1.9zM204.92 102.12h1.9v1.5h-1.9zM204.92 103.71h1.9v1.5h-1.9zM207.92 95.74h1.9v1.5h-1.9zM207.92 97.34h1.9v1.5h-1.9zM207.92 98.93h1.9v1.5h-1.9zM207.92 100.52h1.9v1.5h-1.9zM207.92 102.12h1.9v1.5h-1.9zM207.92 103.71h1.9v1.5h-1.9zM210.93 95.74h1.9v1.5h-1.9zM210.93 97.34h1.9v1.5h-1.9zM210.93 98.93h1.9v1.5h-1.9zM210.93 100.52h1.9v1.5h-1.9zM210.93 102.12h1.9v1.5h-1.9zM210.93 103.71h1.9v1.5h-1.9zM213.94 95.74h1.9v1.5h-1.9zM213.94 97.34h1.9v1.5h-1.9zM213.94 98.93h1.9v1.5h-1.9zM213.94 100.52h1.9v1.5h-1.9zM213.94 102.12h1.9v1.5h-1.9zM213.94 103.71h1.9v1.5h-1.9zM216.94 95.74h1.9v1.5h-1.9zM216.94 97.34h1.9v1.5h-1.9zM216.94 98.93h1.9v1.5h-1.9zM216.94 100.52h1.9v1.5h-1.9zM216.94 102.12h1.9v1.5h-1.9zM216.94 103.71h1.9v1.5h-1.9zM219.95 95.74h1.9v1.5h-1.9zM219.95 97.34h1.9v1.5h-1.9zM219.95 98.93h1.9v1.5h-1.9zM219.95 100.52h1.9v1.5h-1.9zM219.95 102.12h1.9v1.5h-1.9zM219.95 103.71h1.9v1.5h-1.9zM222.96 95.74h1.9v1.5h-1.9zM222.96 97.34h1.9v1.5h-1.9zM222.96 98.93h1.9v1.5h-1.9zM222.96 100.52h1.9v1.5h-1.9zM222.96 102.12h1.9v1.5h-1.9zM222.96 103.71h1.9v1.5h-1.9zM225.96 95.74h1.9v1.5h-1.9zM225.96 97.34h1.9v1.5h-1.9zM225.96 98.93h1.9v1.5h-1.9zM225.96 100.52h1.9v1.5h-1.9zM225.96 102.12h1.9v1.5h-1.9zM225.96 103.71h1.9v1.5h-1.9zM228.97 95.74h1.9v1.5h-1.9zM228.97 97.34h1.9v1.5h-1.9zM228.97 98.93h1.9v1.5h-1.9zM228.97 100.52h1.9v1.5h-1.9zM228.97 102.12h1.9v1.5h-1.9zM228.97 103.71h1.9v1.5h-1.9zM231.98 95.74h1.9v1.5h-1.9zM231.98 97.34h1.9v1.5h-1.9zM231.98 98.93h1.9v1.5h-1.9zM231.98 100.52h1.9v1.5h-1.9zM231.98 102.12h1.9v1.5h-1.9zM231.98 103.71h1.9v1.5h-1.9zM234.98 95.74h1.9v1.5h-1.9zM234.98 97.34h1.9v1.5h-1.9zM234.98 98.93h1.9v1.5h-1.9zM234.98 100.52h1.9v1.5h-1.9zM234.98 102.12h1.9v1.5h-1.9zM234.98 103.71h1.9v1.5h-1.9zM237.99 95.74h1.9v1.5h-1.9zM237.99 97.34h1.9v1.5h-1.9zM237.99 98.93h1.9v1.5h-1.9zM237.99 100.52h1.9v1.5h-1.9zM237.99 102.12h1.9v1.5h-1.9zM237.99 103.71h1.9v1.5h-1.9zM241 95.74h1.9v1.5h-1.9zM241 97.34h1.9v1.5h-1.9zM241 98.93h1.9v1.5h-1.9zM241 100.52h1.9v1.5h-1.9zM241 102.12h1.9v1.5h-1.9zM241 103.71h1.9v1.5h-1.9zM244 95.74h1.9v1.5h-1.9zM244 97.34h1.9v1.5h-1.9zM244 98.93h1.9v1.5h-1.9zM244 100.52h1.9v1.5h-1.9zM244 102.12h1.9v1.5h-1.9zM244 103.71h1.9v1.5h-1.9zM247.01 95.74h1.9v1.5h-1.9zM247.01 97.34h1.9v1.5h-1.9zM247.01 98.93h1.9v1.5h-1.9zM247.01 100.52h1.9v1.5h-1.9zM247.01 102.12h1.9v1.5h-1.9zM247.01 103.71h1.9v1.5h-1.9zM250.02 95.74h1.9v1.5h-1.9zM250.02 97.34h1.9v1.5h-1.9zM250.02 98.93h1.9v1.5h-1.9zM250.02 100.52h1.9v1.5h-1.9zM250.02 102.12h1.9v1.5h-1.9zM250.02 103.71h1.9v1.5h-1.9zM253.02 95.74h1.9v1.5h-1.9zM253.02 97.34h1.9v1.5h-1.9zM253.02 98.93h1.9v1.5h-1.9zM253.02 100.52h1.9v1.5h-1.9zM253.02 102.12h1.9v1.5h-1.9zM253.02 103.71h1.9v1.5h-1.9zM256.03 95.74h1.9v1.5h-1.9zM256.03 97.34h1.9v1.5h-1.9zM256.03 98.93h1.9v1.5h-1.9zM256.03 100.52h1.9v1.5h-1.9zM256.03 102.12h1.9v1.5h-1.9zM256.03 103.71h1.9v1.5h-1.9zM259.04 95.74h1.9v1.5h-1.9zM259.04 97.34h1.9v1.5h-1.9zM259.04 98.93h1.9v1.5h-1.9zM259.04 100.52h1.9v1.5h-1.9zM259.04 102.12h1.9v1.5h-1.9zM259.04 103.71h1.9v1.5h-1.9zM262.04 95.74h1.9v1.5h-1.9zM262.04 97.34h1.9v1.5h-1.9zM262.04 98.93h1.9v1.5h-1.9zM262.04 100.52h1.9v1.5h-1.9zM262.04 102.12h1.9v1.5h-1.9zM262.04 103.71h1.9v1.5h-1.9zM265.05 95.74h1.9v1.5h-1.9zM265.05 97.34h1.9v1.5h-1.9zM265.05 98.93h1.9v1.5h-1.9zM265.05 100.52h1.9v1.5h-1.9zM265.05 102.12h1.9v1.5h-1.9zM265.05 103.71h1.9v1.5h-1.9zM268.06 95.74h1.9v1.5h-1.9zM268.06 97.34h1.9v1.5h-1.9zM268.06 98.93h1.9v1.5h-1.9zM268.06 100.52h1.9v1.5h-1.9zM268.06 102.12h1.9v1.5h-1.9zM268.06 103.71h1.9v1.5h-1.9zM271.06 95.74h1.9v1.5h-1.9zM271.06 97.34h1.9v1.5h-1.9zM271.06 98.93h1.9v1.5h-1.9zM271.06 100.52h1.9v1.5h-1.9zM271.06 102.12h1.9v1.5h-1.9zM271.06 103.71h1.9v1.5h-1.9zM274.07 95.74h1.9v1.5h-1.9zM274.07 97.34h1.9v1.5h-1.9zM274.07 98.93h1.9v1.5h-1.9zM274.07 100.52h1.9v1.5h-1.9zM274.07 102.12h1.9v1.5h-1.9zM274.07 103.71h1.9v1.5h-1.9zM277.08 95.74h1.9v1.5h-1.9zM277.08 97.34h1.9v1.5h-1.9zM277.08 98.93h1.9v1.5h-1.9zM277.08 100.52h1.9v1.5h-1.9zM277.08 102.12h1.9v1.5h-1.9zM277.08 103.71h1.9v1.5h-1.9zM280.08 95.74h1.9v1.5h-1.9zM280.08 97.34h1.9v1.5h-1.9zM280.08 98.93h1.9v1.5h-1.9zM280.08 100.52h1.9v1.5h-1.9zM280.08 102.12h1.9v1.5h-1.9zM280.08 103.71h1.9v1.5h-1.9zM283.09 95.74h1.9v1.5h-1.9zM283.09 97.34h1.9v1.5h-1.9zM283.09 98.93h1.9v1.5h-1.9zM283.09 100.52h1.9v1.5h-1.9zM283.09 102.12h1.9v1.5h-1.9zM283.09 103.71h1.9v1.5h-1.9zM286.1 95.74h1.9v1.5h-1.9zM286.1 97.34h1.9v1.5h-1.9zM286.1 98.93h1.9v1.5h-1.9zM286.1 100.52h1.9v1.5h-1.9zM286.1 102.12h1.9v1.5h-1.9zM286.1 103.71h1.9v1.5h-1.9zM289.1 95.74h1.9v1.5h-1.9zM289.1 97.34h1.9v1.5h-1.9zM289.1 98.93h1.9v1.5h-1.9zM289.1 100.52h1.9v1.5h-1.9zM289.1 102.12h1.9v1.5h-1.9zM289.1 103.71h1.9v1.5h-1.9zM292.11 95.74h1.9v1.5h-1.9zM292.11 97.34h1.9v1.5h-1.9zM292.11 98.93h1.9v1.5h-1.9zM292.11 100.52h1.9v1.5h-1.9zM292.11 102.12h1.9v1.5h-1.9zM292.11 103.71h1.9v1.5h-1.9zM295.12 95.74h1.9v1.5h-1.9zM295.12 97.34h1.9v1.5h-1.9zM295.12 98.93h1.9v1.5h-1.9zM295.12 100.52h1.9v1.5h-1.9zM295.12 102.12h1.9v1.5h-1.9zM295.12 103.71h1.9v1.5h-1.9zM298.12 95.74h1.9v1.5h-1.9zM298.12 97.34h1.9v1.5h-1.9zM298.12 98.93h1.9v1.5h-1.9zM298.12 100.52h1.9v1.5h-1.9zM298.12 102.12h1.9v1.5h-1.9zM298.12 103.71h1.9v1.5h-1.9zM301.13 95.74h1.9v1.5h-1.9zM301.13 97.34h1.9v1.5h-1.9zM301.13 98.93h1.9v1.5h-1.9zM301.13 100.52h1.9v1.5h-1.9zM301.13 102.12h1.9v1.5h-1.9zM301.13 103.71h1.9v1.5h-1.9zM304.14 95.74h1.9v1.5h-1.9zM304.14 97.34h1.9v1.5h-1.9zM304.14 98.93h1.9v1.5h-1.9zM304.14 100.52h1.9v1.5h-1.9zM304.14 102.12h1.9v1.5h-1.9zM304.14 103.71h1.9v1.5h-1.9zM307.14 95.74h1.9v1.5h-1.9zM307.14 97.34h1.9v1.5h-1.9zM307.14 98.93h1.9v1.5h-1.9zM307.14 100.52h1.9v1.5h-1.9zM307.14 102.12h1.9v1.5h-1.9zM307.14 103.71h1.9v1.5h-1.9zM310.15 95.74h1.9v1.5h-1.9zM310.15 97.34h1.9v1.5h-1.9zM310.15 98.93h1.9v1.5h-1.9zM310.15 100.52h1.9v1.5h-1.9zM310.15 102.12h1.9v1.5h-1.9zM310.15 103.71h1.9v1.5h-1.9zM313.16 95.74h1.9v1.5h-1.9zM313.16 97.34h1.9v1.5h-1.9zM313.16 98.93h1.9v1.5h-1.9zM313.16 100.52h1.9v1.5h-1.9zM313.16 102.12h1.9v1.5h-1.9zM313.16 103.71h1.9v1.5h-1.9zM316.16 95.74h1.9v1.5h-1.9zM316.16 97.34h1.9v1.5h-1.9zM316.16 98.93h1.9v1.5h-1.9zM316.16 100.52h1.9v1.5h-1.9zM316.16 102.12h1.9v1.5h-1.9zM316.16 103.71h1.9v1.5h-1.9zM319.17 95.74h1.9v1.5h-1.9zM319.17 97.34h1.9v1.5h-1.9zM319.17 98.93h1.9v1.5h-1.9zM319.17 100.52h1.9v1.5h-1.9zM319.17 102.12h1.9v1.5h-1.9zM319.17 103.71h1.9v1.5h-1.9zM322.18 95.74h1.9v1.5h-1.9zM322.18 97.34h1.9v1.5h-1.9zM322.18 98.93h1.9v1.5h-1.9zM322.18 100.52h1.9v1.5h-1.9zM322.18 102.12h1.9v1.5h-1.9zM322.18 103.71h1.9v1.5h-1.9zM325.18 95.74h1.9v1.5h-1.9zM325.18 97.34h1.9v1.5h-1.9zM325.18 98.93h1.9v1.5h-1.9zM325.18 100.52h1.9v1.5h-1.9zM325.18 102.12h1.9v1.5h-1.9zM325.18 103.71h1.9v1.5h-1.9zM328.19 95.74h1.9v1.5h-1.9zM328.19 97.34h1.9v1.5h-1.9zM328.19 98.93h1.9v1.5h-1.9zM328.19 100.52h1.9v1.5h-1.9zM328.19 102.12h1.9v1.5h-1.9zM328.19 103.71h1.9v1.5h-1.9zM331.2 95.74h1.9v1.5h-1.9zM331.2 97.34h1.9v1.5h-1.9zM331.2 98.93h1.9v1.5h-1.9zM331.2 100.52h1.9v1.5h-1.9zM331.2 102.12h1.9v1.5h-1.9zM331.2 103.71h1.9v1.5h-1.9zM334.2 95.74h1.9v1.5h-1.9zM334.2 97.34h1.9v1.5h-1.9zM334.2 98.93h1.9v1.5h-1.9zM334.2 100.52h1.9v1.5h-1.9zM334.2 102.12h1.9v1.5h-1.9zM334.2 103.71h1.9v1.5h-1.9zM337.21 95.74h1.9v1.5h-1.9zM337.21 97.34h1.9v1.5h-1.9zM337.21 98.93h1.9v1.5h-1.9zM337.21 100.52h1.9v1.5h-1.9zM337.21 102.12h1.9v1.5h-1.9zM337.21 103.71h1.9v1.5h-1.9zM340.22 95.74h1.9v1.5h-1.9zM340.22 97.34h1.9v1.5h-1.9zM340.22 98.93h1.9v1.5h-1.9zM340.22 100.52h1.9v1.5h-1.9zM340.22 102.12h1.9v1.5h-1.9zM340.22 103.71h1.9v1.5h-1.9zM343.22 95.74h1.9v1.5h-1.9zM343.22 97.34h1.9v1.5h-1.9zM343.22 98.93h1.9v1.5h-1.9zM343.22 100.52h1.9v1.5h-1.9zM343.22 102.12h1.9v1.5h-1.9zM343.22 103.71h1.9v1.5h-1.9zM346.23 95.74h1.9v1.5h-1.9zM346.23 97.34h1.9v1.5h-1.9zM346.23 98.93h1.9v1.5h-1.9zM346.23 100.52h1.9v1.5h-1.9zM346.23 102.12h1.9v1.5h-1.9zM346.23 103.71h1.9v1.5h-1.9zM349.24 95.74h1.9v1.5h-1.9zM349.24 97.34h1.9v1.5h-1.9zM349.24 98.93h1.9v1.5h-1.9zM349.24 100.52h1.9v1.5h-1.9zM349.24 102.12h1.9v1.5h-1.9zM349.24 103.71h1.9v1.5h-1.9zM352.24 95.74h1.9v1.5h-1.9zM352.24 97.34h1.9v1.5h-1.9zM352.24 98.93h1.9v1.5h-1.9zM352.24 100.52h1.9v1.5h-1.9zM352.24 102.12h1.9v1.5h-1.9zM352.24 103.71h1.9v1.5h-1.9zM355.25 95.74h1.9v1.5h-1.9zM355.25 97.34h1.9v1.5h-1.9zM355.25 98.93h1.9v1.5h-1.9zM355.25 100.52h1.9v1.5h-1.9zM355.25 102.12h1.9v1.5h-1.9zM355.25 103.71h1.9v1.5h-1.9z"/>
<path fill="#fde6cf" d="M174.85 105.36h1.9v1.3h-1.9zM174.85 107.23h1.9v1.3h-1.9zM177.86 105.36h1.9v1.3h-1.9zM177.86 107.23h1.9v1.3h-1.9zM177.86 109.11h1.9v1.3h-1.9zM180.86 105.36h1.9v1.3h-1.9zM180.86 107.23h1.9v1.3h-1.9zM180.86 109.11h1.9v1.3h-1.9zM183.87 105.36h1.9v1.3h-1.9zM183.87 107.23h1.9v1.3h-1.9zM183.87 109.11h1.9v1.3h-1.9zM186.88 105.36h1.9v1.3h-1.9zM186.88 107.23h1.9v1.3h-1.9zM186.88 109.11h1.9v1.3h-1.9zM186.88 110.99h1.9v1.3h-1.9zM189.88 105.36h1.9v1.3h-1.9zM189.88 107.23h1.9v1.3h-1.9zM189.88 109.11h1.9v1.3h-1.9zM189.88 110.99h1.9v1.3h-1.9zM192.89 105.36h1.9v1.3h-1.9zM192.89 107.23h1.9v1.3h-1.9zM192.89 109.11h1.9v1.3h-1.9zM192.89 110.99h1.9v1.3h-1.9zM192.89 112.86h1.9v1.3h-1.9zM195.9 105.36h1.9v1.3h-1.9zM195.9 107.23h1.9v1.3h-1.9zM195.9 109.11h1.9v1.3h-1.9zM195.9 110.99h1.9v1.3h-1.9zM195.9 112.86h1.9v1.3h-1.9zM195.9 114.74h1.9v1.3h-1.9zM198.9 105.36h1.9v1.3h-1.9zM198.9 107.23h1.9v1.3h-1.9zM198.9 109.11h1.9v1.3h-1.9zM198.9 110.99h1.9v1.3h-1.9zM198.9 112.86h1.9v1.3h-1.9zM198.9 114.74h1.9v1.3h-1.9zM201.91 105.36h1.9v1.3h-1.9zM201.91 107.23h1.9v1.3h-1.9zM201.91 109.11h1.9v1.3h-1.9zM201.91 110.99h1.9v1.3h-1.9zM201.91 112.86h1.9v1.3h-1.9zM201.91 114.74h1.9v1.3h-1.9zM201.91 116.61h1.9v1.3h-1.9zM204.92 105.36h1.9v1.3h-1.9zM204.92 107.23h1.9v1.3h-1.9zM204.92 109.11h1.9v1.3h-1.9zM204.92 110.99h1.9v1.3h-1.9zM204.92 112.86h1.9v1.3h-1.9zM204.92 114.74h1.9v1.3h-1.9zM204.92 116.61h1.9v1.3h-1.9zM207.92 105.36h1.9v1.3h-1.9zM207.92 107.23h1.9v1.3h-1.9zM207.92 109.11h1.9v1.3h-1.9zM207.92 110.99h1.9v1.3h-1.9zM207.92 112.86h1.9v1.3h-1.9zM207.92 114.74h1.9v1.3h-1.9zM207.92 116.61h1.9v1.3h-1.9zM210.93 105.36h1.9v1.3h-1.9zM210.93 107.23h1.9v1.3h-1.9zM210.93 109.11h1.9v1.3h-1.9zM210.93 110.99h1.9v1.3h-1.9zM210.93 112.86h1.9v1.3h-1.9zM210.93 114.74h1.9v1.3h-1.9zM210.93 116.61h1.9v1.3h-1.9zM213.94 105.36h1.9v1.3h-1.9zM213.94 107.23h1.9v1.3h-1.9zM213.94 109.11h1.9v1.3h-1.9zM213.94 110.99h1.9v1.3h-1.9zM213.94 112.86h1.9v1.3h-1.9zM213.94 114.74h1.9v1.3h-1.9zM213.94 116.61h1.9v1.3h-1.9zM216.94 105.36h1.9v1.3h-1.9zM216.94 107.23h1.9v1.3h-1.9zM216.94 109.11h1.9v1.3h-1.9zM216.94 110.99h1.9v1.3h-1.9zM216.94 112.86h1.9v1.3h-1.9zM216.94 114.74h1.9v1.3h-1.9zM216.94 116.61h1.9v1.3h-1.9zM219.95 105.36h1.9v1.3h-1.9zM219.95 107.23h1.9v1.3h-1.9zM219.95 109.11h1.9v1.3h-1.9zM219.95 110.99h1.9v1.3h-1.9zM219.95 112.86h1.9v1.3h-1.9zM219.95 114.74h1.9v1.3h-1.9zM219.95 116.61h1.9v1.3h-1.9zM222.96 105.36h1.9v1.3h-1.9zM222.96 107.23h1.9v1.3h-1.9zM222.96 109.11h1.9v1.3h-1.9zM222.96 110.99h1.9v1.3h-1.9zM222.96 112.86h1.9v1.3h-1.9zM222.96 114.74h1.9v1.3h-1.9zM222.96 116.61h1.9v1.3h-1.9zM225.96 105.36h1.9v1.3h-1.9zM225.96 107.23h1.9v1.3h-1.9zM225.96 109.11h1.9v1.3h-1.9zM225.96 110.99h1.9v1.3h-1.9zM225.96 112.86h1.9v1.3h-1.9zM225.96 114.74h1.9v1.3h-1.9zM225.96 116.61h1.9v1.3h-1.9zM228.97 105.36h1.9v1.3h-1.9zM228.97 107.23h1.9v1.3h-1.9zM228.97 109.11h1.9v1.3h-1.9zM228.97 110.99h1.9v1.3h-1.9zM228.97 112.86h1.9v1.3h-1.9zM228.97 114.74h1.9v1.3h-1.9zM228.97 116.61h1.9v1.3h-1.9zM231.98 105.36h1.9v1.3h-1.9zM231.98 107.23h1.9v1.3h-1.9zM231.98 109.11h1.9v1.3h-1.9zM231.98 110.99h1.9v1.3h-1.9zM231.98 112.86h1.9v1.3h-1.9zM231.98 114.74h1.9v1.3h-1.9zM231.98 116.61h1.9v1.3h-1.9zM234.98 105.36h1.9v1.3h-1.9zM234.98 107.23h1.9v1.3h-1.9zM234.98 109.11h1.9v1.3h-1.9zM234.98 110.99h1.9v1.3h-1.9zM234.98 112.86h1.9v1.3h-1.9zM234.98 114.74h1.9v1.3h-1.9zM237.99 105.36h1.9v1.3h-1.9zM237.99 107.23h1.9v1.3h-1.9zM237.99 109.11h1.9v1.3h-1.9zM237.99 110.99h1.9v1.3h-1.9zM237.99 112.86h1.9v1.3h-1.9zM241 105.36h1.9v1.3h-1.9zM241 107.23h1.9v1.3h-1.9zM241 109.11h1.9v1.3h-1.9zM241 110.99h1.9v1.3h-1.9zM241 116.61h1.9v1.3h-1.9zM244 105.36h1.9v1.3h-1.9zM244 107.23h1.9v1.3h-1.9zM244 109.11h1.9v1.3h-1.9zM244 114.74h1.9v1.3h-1.9zM244 116.61h1.9v1.3h-1.9zM247.01 105.36h1.9v1.3h-1.9zM247.01 107.23h1.9v1.3h-1.9zM247.01 109.11h1.9v1.3h-1.9zM247.01 112.86h1.9v1.3h-1.9zM247.01 114.74h1.9v1.3h-1.9zM247.01 116.61h1.9v1.3h-1.9zM250.02 105.36h1.9v1.3h-1.9zM250.02 107.23h1.9v1.3h-1.9zM250.02 112.86h1.9v1.3h-1.9zM250.02 114.74h1.9v1.3h-1.9zM250.02 116.61h1.9v1.3h-1.9zM253.02 105.36h1.9v1.3h-1.9zM253.02 107.23h1.9v1.3h-1.9zM253.02 110.99h1.9v1.3h-1.9zM253.02 112.86h1.9v1.3h-1.9zM253.02 114.74h1.9v1.3h-1.9zM253.02 116.61h1.9v1.3h-1.9zM256.03 105.36h1.9v1.3h-1.9zM256.03 110.99h1.9v1.3h-1.9zM256.03 112.86h1.9v1.3h-1.9zM256.03 114.74h1.9v1.3h-1.9zM256.03 116.61h1.9v1.3h-1.9zM259.04 105.36h1.9v1.3h-1.9zM259.04 109.11h1.9v1.3h-1.9zM259.04 110.99h1.9v1.3h-1.9zM259.04 112.86h1.9v1.3h-1.9zM259.04 114.74h1.9v1.3h-1.9zM259.04 116.61h1.9v1.3h-1.9zM262.04 105.36h1.9v1.3h-1.9zM262.04 109.11h1.9v1.3h-1.9zM262.04 110.99h1.9v1.3h-1.9zM262.04 112.86h1.9v1.3h-1.9zM262.04 114.74h1.9v1.3h-1.9zM262.04 116.61h1.9v1.3h-1.9zM265.05 105.36h1.9v1.3h-1.9zM265.05 109.11h1.9v1.3h-1.9zM265.05 110.99h1.9v1.3h-1.9zM265.05 112.86h1.9v1.3h-1.9zM265.05 114.74h1.9v1.3h-1.9zM265.05 116.61h1.9v1.3h-1.9zM268.06 105.36h1.9v1.3h-1.9zM268.06 109.11h1.9v1.3h-1.9zM268.06 110.99h1.9v1.3h-1.9zM268.06 112.86h1.9v1.3h-1.9zM268.06 114.74h1.9v1.3h-1.9zM268.06 116.61h1.9v1.3h-1.9zM271.06 105.36h1.9v1.3h-1.9zM271.06 109.11h1.9v1.3h-1.9zM271.06 110.99h1.9v1.3h-1.9zM271.06 112.86h1.9v1.3h-1.9zM271.06 114.74h1.9v1.3h-1.9zM271.06 116.61h1.9v1.3h-1.9zM274.07 105.36h1.9v1.3h-1.9zM274.07 110.99h1.9v1.3h-1.9zM274.07 112.86h1.9v1.3h-1.9zM274.07 114.74h1.9v1.3h-1.9zM274.07 116.61h1.9v1.3h-1.9zM277.08 105.36h1.9v1.3h-1.9zM277.08 107.23h1.9v1.3h-1.9zM277.08 110.99h1.9v1.3h-1.9zM277.08 112.86h1.9v1.3h-1.9zM277.08 114.74h1.9v1.3h-1.9zM277.08 116.61h1.9v1.3h-1.9zM280.08 105.36h1.9v1.3h-1.9zM280.08 107.23h1.9v1.3h-1.9zM280.08 112.86h1.9v1.3h-1.9zM280.08 114.74h1.9v1.3h-1.9zM280.08 116.61h1.9v1.3h-1.9zM283.09 105.36h1.9v1.3h-1.9zM283.09 107.23h1.9v1.3h-1.9zM283.09 109.11h1.9v1.3h-1.9zM283.09 112.86h1.9v1.3h-1.9zM283.09 114.74h1.9v1.3h-1.9zM283.09 116.61h1.9v1.3h-1.9zM286.1 105.36h1.9v1.3h-1.9zM286.1 107.23h1.9v1.3h-1.9zM286.1 109.11h1.9v1.3h-1.9zM286.1 114.74h1.9v1.3h-1.9zM286.1 116.61h1.9v1.3h-1.9zM289.1 105.36h1.9v1.3h-1.9zM289.1 107.23h1.9v1.3h-1.9zM289.1 109.11h1.9v1.3h-1.9zM289.1 110.99h1.9v1.3h-1.9zM289.1 116.61h1.9v1.3h-1.9zM292.11 105.36h1.9v1.3h-1.9zM292.11 107.23h1.9v1.3h-1.9zM292.11 109.11h1.9v1.3h-1.9zM292.11 110.99h1.9v1.3h-1.9zM292.11 112.86h1.9v1.3h-1.9zM295.12 105.36h1.9v1.3h-1.9zM295.12 107.23h1.9v1.3h-1.9zM295.12 109.11h1.9v1.3h-1.9zM295.12 110.99h1.9v1.3h-1.9zM295.12 112.86h1.9v1.3h-1.9zM295.12 114.74h1.9v1.3h-1.9zM298.12 105.36h1.9v1.3h-1.9zM298.12 107.23h1.9v1.3h-1.9zM298.12 109.11h1.9v1.3h-1.9zM298.12 110.99h1.9v1.3h-1.9zM298.12 112.86h1.9v1.3h-1.9zM298.12 114.74h1.9v1.3h-1.9zM298.12 116.61h1.9v1.3h-1.9zM301.13 105.36h1.9v1.3h-1.9zM301.13 107.23h1.9v1.3h-1.9zM301.13 109.11h1.9v1.3h-1.9zM301.13 110.99h1.9v1.3h-1.9zM301.13 112.86h1.9v1.3h-1.9zM301.13 114.74h1.9v1.3h-1.9zM301.13 116.61h1.9v1.3h-1.9zM304.14 105.36h1.9v1.3h-1.9zM304.14 107.23h1.9v1.3h-1.9zM304.14 109.11h1.9v1.3h-1.9zM304.14 110.99h1.9v1.3h-1.9zM304.14 112.86h1.9v1.3h-1.9zM304.14 114.74h1.9v1.3h-1.9zM304.14 116.61h1.9v1.3h-1.9zM307.14 105.36h1.9v1.3h-1.9zM307.14 107.23h1.9v1.3h-1.9zM307.14 109.11h1.9v1.3h-1.9zM307.14 110.99h1.9v1.3h-1.9zM307.14 112.86h1.9v1.3h-1.9zM307.14 114.74h1.9v1.3h-1.9zM307.14 116.61h1.9v1.3h-1.9zM310.15 105.36h1.9v1.3h-1.9zM310.15 107.23h1.9v1.3h-1.9zM310.15 109.11h1.9v1.3h-1.9zM310.15 110.99h1.9v1.3h-1.9zM310.15 112.86h1.9v1.3h-1.9zM310.15 114.74h1.9v1.3h-1.9zM310.15 116.61h1.9v1.3h-1.9zM313.16 105.36h1.9v1.3h-1.9zM313.16 107.23h1.9v1.3h-1.9zM313.16 109.11h1.9v1.3h-1.9zM313.16 110.99h1.9v1.3h-1.9zM313.16 112.86h1.9v1.3h-1.9zM313.16 114.74h1.9v1.3h-1.9zM313.16 116.61h1.9v1.3h-1.9zM316.16 105.36h1.9v1.3h-1.9zM316.16 107.23h1.9v1.3h-1.9zM316.16 109.11h1.9v1.3h-1.9zM316.16 110.99h1.9v1.3h-1.9zM316.16 112.86h1.9v1.3h-1.9zM316.16 114.74h1.9v1.3h-1.9zM316.16 116.61h1.9v1.3h-1.9zM319.17 105.36h1.9v1.3h-1.9zM319.17 107.23h1.9v1.3h-1.9zM319.17 109.11h1.9v1.3h-1.9zM319.17 110.99h1.9v1.3h-1.9zM319.17 112.86h1.9v1.3h-1.9zM319.17 114.74h1.9v1.3h-1.9zM319.17 116.61h1.9v1.3h-1.9zM322.18 105.36h1.9v1.3h-1.9zM322.18 107.23h1.9v1.3h-1.9zM322.18 109.11h1.9v1.3h-1.9zM322.18 110.99h1.9v1.3h-1.9zM322.18 112.86h1.9v1.3h-1.9zM322.18 114.74h1.9v1.3h-1.9zM322.18 116.61h1.9v1.3h-1.9zM325.18 105.36h1.9v1.3h-1.9zM325.18 107.23h1.9v1.3h-1.9zM325.18 109.11h1.9v1.3h-1.9zM325.18 110.99h1.9v1.3h-1.9zM325.18 112.86h1.9v1.3h-1.9zM325.18 114.74h1.9v1.3h-1.9zM325.18 116.61h1.9v1.3h-1.9zM328.19 105.36h1.9v1.3h-1.9zM328.19 107.23h1.9v1.3h-1.9zM328.19 109.11h1.9v1.3h-1.9zM328.19 110.99h1.9v1.3h-1.9zM328.19 112.86h1.9v1.3h-1.9zM328.19 114.74h1.9v1.3h-1.9zM328.19 116.61h1.9v1.3h-1.9zM331.2 105.36h1.9v1.3h-1.9zM331.2 107.23h1.9v1.3h-1.9zM331.2 109.11h1.9v1.3h-1.9zM331.2 110.99h1.9v1.3h-1.9zM331.2 112.86h1.9v1.3h-1.9zM331.2 114.74h1.9v1.3h-1.9zM334.2 105.36h1.9v1.3h-1.9zM334.2 107.23h1.9v1.3h-1.9zM334.2 109.11h1.9v1.3h-1.9zM334.2 110.99h1.9v1.3h-1.9zM334.2 112.86h1.9v1.3h-1.9zM334.2 114.74h1.9v1.3h-1.9zM337.21 105.36h1.9v1.3h-1.9zM337.21 107.23h1.9v1.3h-1.9zM337.21 109.11h1.9v1.3h-1.9zM337.21 110.99h1.9v1.3h-1.9zM337.21 112.86h1.9v1.3h-1.9zM340.22 105.36h1.9v1.3h-1.9zM340.22 107.23h1.9v1.3h-1.9zM340.22 109.11h1.9v1.3h-1.9zM340.22 110.99h1.9v1.3h-1.9zM343.22 105.36h1.9v1.3h-1.9zM343.22 107.23h1.9v1.3h-1.9zM343.22 109.11h1.9v1.3h-1.9zM343.22 110.99h1.9v1.3h-1.9zM346.23 105.36h1.9v1.3h-1.9zM346.23 107.23h1.9v1.3h-1.9zM346.23 109.11h1.9v1.3h-1.9zM346.23 110.99h1.9v1.3h-1.9zM349.24 105.36h1.9v1.3h-1.9zM349.24 107.23h1.9v1.3h-1.9zM349.24 109.11h1.9v1.3h-1.9zM352.24 105.36h1.9v1.3h-1.9zM352.24 107.23h1.9v1.3h-1.9zM352.24 109.11h1.9v1.3h-1.9zM355.25 105.36h1.9v1.3h-1.9zM355.25 107.23h1.9v1.3h-1.9z"/>
<path fill="#f8b98c" d="M174.85 107.79h1.9v1.6h-1.9zM177.86 108.42h1.9v1.6h-1.9zM180.86 109.12h1.9v1.6h-1.9zM183.87 109.9h1.9v1.6h-1.9zM186.88 110.76h1.9v1.6h-1.9zM189.88 111.72h1.9v1.6h-1.9zM192.89 112.71h1.9v1.6h-1.9zM195.9 113.68h1.9v1.6h-1.9zM198.9 114.84h1.9v1.6h-1.9zM201.91 116.21h1.9v1.6h-1.9zM204.92 118.59h1.9v1.6h-1.9zM207.92 126.79h1.9v1.6h-1.9zM319.17 132.4h1.9v1.6h-1.9zM322.18 126.79h1.9v1.6h-1.9zM325.18 118.59h1.9v1.6h-1.9zM328.19 116.21h1.9v1.6h-1.9zM331.2 114.84h1.9v1.6h-1.9zM334.2 113.68h1.9v1.6h-1.9zM337.21 112.71h1.9v1.6h-1.9zM340.22 111.72h1.9v1.6h-1.9zM343.22 110.76h1.9v1.6h-1.9zM346.23 109.9h1.9v1.6h-1.9zM349.24 109.12h1.9v1.6h-1.9zM352.24 108.42h1.9v1.6h-1.9zM355.25 107.79h1.9v1.6h-1.9z"/>
<path fill="#fde0c0" d="M174.85 123.02h1.9v1.6h-1.9zM177.86 123.02h1.9v1.6h-1.9zM180.86 123.02h1.9v1.6h-1.9zM183.87 123.02h1.9v1.6h-1.9zM186.88 123.02h1.9v1.6h-1.9zM189.88 123.02h1.9v1.6h-1.9zM192.89 123.02h1.9v1.6h-1.9zM195.9 123.02h1.9v1.6h-1.9zM198.9 123.02h1.9v1.6h-1.9zM201.91 123.02h1.9v1.6h-1.9zM328.19 123.02h1.9v1.6h-1.9zM331.2 123.02h1.9v1.6h-1.9zM334.2 123.02h1.9v1.6h-1.9zM337.21 123.02h1.9v1.6h-1.9zM340.22 123.02h1.9v1.6h-1.9zM343.22 123.02h1.9v1.6h-1.9zM346.23 123.02h1.9v1.6h-1.9zM349.24 123.02h1.9v1.6h-1.9zM352.24 123.02h1.9v1.6h-1.9zM355.25 123.02h1.9v1.6h-1.9z"/>
<path fill="#fef2e6" d="M204.92 118.49h1.9v1.3h-1.9zM207.92 118.49h1.9v1.3h-1.9zM207.92 120.36h1.9v1.3h-1.9zM207.92 122.24h1.9v1.3h-1.9zM207.92 124.11h1.9v1.3h-1.9zM207.92 125.99h1.9v1.3h-1.9zM207.92 127.86h1.9v1.3h-1.9zM210.93 118.49h1.9v1.3h-1.9zM210.93 120.36h1.9v1.3h-1.9zM210.93 122.24h1.9v1.3h-1.9zM210.93 124.11h1.9v1.3h-1.9zM210.93 125.99h1.9v1.3h-1.9zM210.93 127.86h1.9v1.3h-1.9zM210.93 129.74h1.9v1.3h-1.9zM210.93 131.61h1.9v1.3h-1.9zM213.94 118.49h1.9v1.3h-1.9zM213.94 120.36h1.9v1.3h-1.9zM213.94 122.24h1.9v1.3h-1.9zM213.94 124.11h1.9v1.3h-1.9zM213.94 125.99h1.9v1.3h-1.9zM213.94 127.86h1.9v1.3h-1.9zM213.94 129.74h1.9v1.3h-1.9zM216.94 118.49h1.9v1.3h-1.9zM216.94 120.36h1.9v1.3h-1.9zM216.94 122.24h1.9v1.3h-1.9zM216.94 124.11h1.9v1.3h-1.9zM216.94 125.99h1.9v1.3h-1.9zM216.94 127.86h1.9v1.3h-1.9zM216.94 131.61h1.9v1.3h-1.9zM219.95 118.49h1.9v1.3h-1.9zM219.95 120.36h1.9v1.3h-1.9zM219.95 122.24h1.9v1.3h-1.9zM219.95 124.11h1.9v1.3h-1.9zM219.95 125.99h1.9v1.3h-1.9zM219.95 129.74h1.9v1.3h-1.9zM219.95 131.61h1.9v1.3h-1.9zM222.96 118.49h1.9v1.3h-1.9zM222.96 120.36h1.9v1.3h-1.9zM222.96 122.24h1.9v1.3h-1.9zM222.96 124.11h1.9v1.3h-1.9zM222.96 127.86h1.9v1.3h-1.9zM222.96 129.74h1.9v1.3h-1.9zM222.96 131.61h1.9v1.3h-1.9zM225.96 118.49h1.9v1.3h-1.9zM225.96 120.36h1.9v1.3h-1.9zM225.96 122.24h1.9v1.3h-1.9zM225.96 125.99h1.9v1.3h-1.9zM225.96 127.86h1.9v1.3h-1.9zM225.96 129.74h1.9v1.3h-1.9zM225.96 131.61h1.9v1.3h-1.9zM228.97 118.49h1.9v1.3h-1.9zM228.97 124.11h1.9v1.3h-1.9zM228.97 125.99h1.9v1.3h-1.9zM228.97 127.86h1.9v1.3h-1.9zM228.97 129.74h1.9v1.3h-1.9zM228.97 131.61h1.9v1.3h-1.9zM231.98 122.24h1.9v1.3h-1.9zM231.98 124.11h1.9v1.3h-1.9zM231.98 125.99h1.9v1.3h-1.9zM231.98 127.86h1.9v1.3h-1.9zM231.98 129.74h1.9v1.3h-1.9zM231.98 131.61h1.9v1.3h-1.9zM234.98 120.36h1.9v1.3h-1.9zM234.98 122.24h1.9v1.3h-1.9zM234.98 124.11h1.9v1.3h-1.9zM234.98 125.99h1.9v1.3h-1.9zM234.98 127.86h1.9v1.3h-1.9zM234.98 129.74h1.9v1.3h-1.9zM234.98 131.61h1.9v1.3h-1.9zM237.99 118.49h1.9v1.3h-1.9zM237.99 120.36h1.9v1.3h-1.9zM237.99 122.24h1.9v1.3h-1.9zM237.99 124.11h1.9v1.3h-1.9zM237.99 125.99h1.9v1.3h-1.9zM237.99 127.86h1.9v1.3h-1.9zM237.99 129.74h1.9v1.3h-1.9zM237.99 131.61h1.9v1.3h-1.9zM241 118.49h1.9v1.3h-1.9zM241 120.36h1.9v1.3h-1.9zM241 122.24h1.9v1.3h-1.9zM241 124.11h1.9v1.3h-1.9zM241 125.99h1.9v1.3h-1.9zM241 127.86h1.9v1.3h-1.9zM241 129.74h1.9v1.3h-1.9zM241 131.61h1.9v1.3h-1.9zM244 118.49h1.9v1.3h-1.9zM244 120.36h1.9v1.3h-1.9zM244 122.24h1.9v1.3h-1.9zM244 124.11h1.9v1.3h-1.9zM244 125.99h1.9v1.3h-1.9zM244 127.86h1.9v1.3h-1.9zM244 129.74h1.9v1.3h-1.9zM244 131.61h1.9v1.3h-1.9zM247.01 118.49h1.9v1.3h-1.9zM247.01 120.36h1.9v1.3h-1.9zM247.01 122.24h1.9v1.3h-1.9zM247.01 124.11h1.9v1.3h-1.9zM247.01 125.99h1.9v1.3h-1.9zM247.01 127.86h1.9v1.3h-1.9zM247.01 129.74h1.9v1.3h-1.9zM247.01 131.61h1.9v1.3h-1.9zM250.02 118.49h1.9v1.3h-1.9zM250.02 120.36h1.9v1.3h-1.9zM250.02 122.24h1.9v1.3h-1.9zM250.02 124.11h1.9v1.3h-1.9zM250.02 125.99h1.9v1.3h-1.9zM250.02 127.86h1.9v1.3h-1.9zM250.02 129.74h1.9v1.3h-1.9zM250.02 131.61h1.9v1.3h-1.9zM253.02 118.49h1.9v1.3h-1.9zM253.02 120.36h1.9v1.3h-1.9zM253.02 122.24h1.9v1.3h-1.9zM253.02 124.11h1.9v1.3h-1.9zM253.02 125.99h1.9v1.3h-1.9zM253.02 127.86h1.9v1.3h-1.9zM253.02 129.74h1.9v1.3h-1.9zM253.02 131.61h1.9v1.3h-1.9zM256.03 118.49h1.9v1.3h-1.9zM256.03 120.36h1.9v1.3h-1.9zM256.03 122.24h1.9v1.3h-1.9zM256.03 124.11h1.9v1.3h-1.9zM256.03 125.99h1.9v1.3h-1.9zM256.03 127.86h1.9v1.3h-1.9zM256.03 129.74h1.9v1.3h-1.9zM256.03 131.61h1.9v1.3h-1.9zM259.04 118.49h1.9v1.3h-1.9zM259.04 120.36h1.9v1.3h-1.9zM259.04 122.24h1.9v1.3h-1.9zM259.04 124.11h1.9v1.3h-1.9zM259.04 125.99h1.9v1.3h-1.9zM259.04 127.86h1.9v1.3h-1.9zM259.04 129.74h1.9v1.3h-1.9zM259.04 131.61h1.9v1.3h-1.9zM262.04 118.49h1.9v1.3h-1.9zM262.04 120.36h1.9v1.3h-1.9zM262.04 122.24h1.9v1.3h-1.9zM262.04 124.11h1.9v1.3h-1.9zM262.04 125.99h1.9v1.3h-1.9zM262.04 127.86h1.9v1.3h-1.9zM262.04 129.74h1.9v1.3h-1.9zM262.04 131.61h1.9v1.3h-1.9zM265.05 118.49h1.9v1.3h-1.9zM265.05 120.36h1.9v1.3h-1.9zM265.05 122.24h1.9v1.3h-1.9zM265.05 124.11h1.9v1.3h-1.9zM265.05 125.99h1.9v1.3h-1.9zM265.05 127.86h1.9v1.3h-1.9zM265.05 129.74h1.9v1.3h-1.9zM265.05 131.61h1.9v1.3h-1.9zM268.06 118.49h1.9v1.3h-1.9zM268.06 120.36h1.9v1.3h-1.9zM268.06 122.24h1.9v1.3h-1.9zM268.06 124.11h1.9v1.3h-1.9zM268.06 125.99h1.9v1.3h-1.9zM268.06 127.86h1.9v1.3h-1.9zM268.06 129.74h1.9v1.3h-1.9zM268.06 131.61h1.9v1.3h-1.9zM271.06 118.49h1.9v1.3h-1.9zM271.06 120.36h1.9v1.3h-1.9zM271.06 122.24h1.9v1.3h-1.9zM271.06 124.11h1.9v1.3h-1.9zM271.06 125.99h1.9v1.3h-1.9zM271.06 127.86h1.9v1.3h-1.9zM271.06 129.74h1.9v1.3h-1.9zM271.06 131.61h1.9v1.3h-1.9zM274.07 118.49h1.9v1.3h-1.9zM274.07 120.36h1.9v1.3h-1.9zM274.07 122.24h1.9v1.3h-1.9zM274.07 124.11h1.9v1.3h-1.9zM274.07 125.99h1.9v1.3h-1.9zM274.07 127.86h1.9v1.3h-1.9zM274.07 129.74h1.9v1.3h-1.9zM274.07 131.61h1.9v1.3h-1.9zM277.08 118.49h1.9v1.3h-1.9zM277.08 120.36h1.9v1.3h-1.9zM277.08 122.24h1.9v1.3h-1.9zM277.08 124.11h1.9v1.3h-1.9zM277.08 125.99h1.9v1.3h-1.9zM277.08 127.86h1.9v1.3h-1.9zM277.08 129.74h1.9v1.3h-1.9zM277.08 131.61h1.9v1.3h-1.9zM280.08 118.49h1.9v1.3h-1.9zM280.08 120.36h1.9v1.3h-1.9zM280.08 122.24h1.9v1.3h-1.9zM280.08 124.11h1.9v1.3h-1.9zM280.08 125.99h1.9v1.3h-1.9zM280.08 127.86h1.9v1.3h-1.9zM280.08 129.74h1.9v1.3h-1.9zM280.08 131.61h1.9v1.3h-1.9zM283.09 118.49h1.9v1.3h-1.9zM283.09 120.36h1.9v1.3h-1.9zM283.09 122.24h1.9v1.3h-1.9zM283.09 124.11h1.9v1.3h-1.9zM283.09 125.99h1.9v1.3h-1.9zM283.09 127.86h1.9v1.3h-1.9zM283.09 129.74h1.9v1.3h-1.9zM283.09 131.61h1.9v1.3h-1.9zM286.1 118.49h1.9v1.3h-1.9zM286.1 120.36h1.9v1.3h-1.9zM286.1 122.24h1.9v1.3h-1.9zM286.1 124.11h1.9v1.3h-1.9zM286.1 125.99h1.9v1.3h-1.9zM286.1 127.86h1.9v1.3h-1.9zM286.1 129.74h1.9v1.3h-1.9zM286.1 131.61h1.9v1.3h-1.9zM289.1 118.49h1.9v1.3h-1.9zM289.1 120.36h1.9v1.3h-1.9zM289.1 122.24h1.9v1.3h-1.9zM289.1 124.11h1.9v1.3h-1.9zM289.1 125.99h1.9v1.3h-1.9zM289.1 127.86h1.9v1.3h-1.9zM289.1 129.74h1.9v1.3h-1.9zM289.1 131.61h1.9v1.3h-1.9zM292.11 118.49h1.9v1.3h-1.9zM292.11 120.36h1.9v1.3h-1.9zM292.11 122.24h1.9v1.3h-1.9zM292.11 124.11h1.9v1.3h-1.9zM292.11 125.99h1.9v1.3h-1.9zM292.11 127.86h1.9v1.3h-1.9zM292.11 129.74h1.9v1.3h-1.9zM292.11 131.61h1.9v1.3h-1.9zM295.12 120.36h1.9v1.3h-1.9zM295.12 122.24h1.9v1.3h-1.9zM295.12 124.11h1.9v1.3h-1.9zM295.12 125.99h1.9v1.3h-1.9zM295.12 127.86h1.9v1.3h-1.9zM295.12 129.74h1.9v1.3h-1.9zM295.12 131.61h1.9v1.3h-1.9zM298.12 122.24h1.9v1.3h-1.9zM298.12 124.11h1.9v1.3h-1.9zM298.12 125.99h1.9v1.3h-1.9zM298.12 127.86h1.9v1.3h-1.9zM298.12 129.74h1.9v1.3h-1.9zM298.12 131.61h1.9v1.3h-1.9zM301.13 118.49h1.9v1.3h-1.9zM301.13 124.11h1.9v1.3h-1.9zM301.13 125.99h1.9v1.3h-1.9zM301.13 127.86h1.9v1.3h-1.9zM301.13 129.74h1.9v1.3h-1.9zM301.13 131.61h1.9v1.3h-1.9zM304.14 118.49h1.9v1.3h-1.9zM304.14 120.36h1.9v1.3h-1.9zM304.14 122.24h1.9v1.3h-1.9zM304.14 125.99h1.9v1.3h-1.9zM304.14 127.86h1.9v1.3h-1.9zM304.14 129.74h1.9v1.3h-1.9zM304.14 131.61h1.9v1.3h-1.9zM307.14 118.49h1.9v1.3h-1.9zM307.14 120.36h1.9v1.3h-1.9zM307.14 122.24h1.9v1.3h-1.9zM307.14 124.11h1.9v1.3h-1.9zM307.14 127.86h1.9v1.3h-1.9zM307.14 129.74h1.9v1.3h-1.9zM307.14 131.61h1.9v1.3h-1.9zM310.15 118.49h1.9v1.3h-1.9zM310.15 120.36h1.9v1.3h-1.9zM310.15 122.24h1.9v1.3h-1.9zM310.15 124.11h1.9v1.3h-1.9zM310.15 125.99h1.9v1.3h-1.9zM310.15 129.74h1.9v1.3h-1.9zM310.15 131.61h1.9v1.3h-1.9zM313.16 118.49h1.9v1.3h-1.9zM313.16 120.36h1.9v1.3h-1.9zM313.16 122.24h1.9v1.3h-1.9zM313.16 124.11h1.9v1.3h-1.9zM313.16 125.99h1.9v1.3h-1.9zM313.16 127.86h1.9v1.3h-1.9zM313.16 131.61h1.9v1.3h-1.9zM316.16 118.49h1.9v1.3h-1.9zM316.16 120.36h1.9v1.3h-1.9zM316.16 122.24h1.9v1.3h-1.9zM316.16 124.11h1.9v1.3h-1.9zM316.16 125.99h1.9v1.3h-1.9zM316.16 127.86h1.9v1.3h-1.9zM316.16 129.74h1.9v1.3h-1.9zM319.17 118.49h1.9v1.3h-1.9zM319.17 120.36h1.9v1.3h-1.9zM319.17 122.24h1.9v1.3h-1.9zM319.17 124.11h1.9v1.3h-1.9zM319.17 125.99h1.9v1.3h-1.9zM319.17 127.86h1.9v1.3h-1.9zM319.17 129.74h1.9v1.3h-1.9zM319.17 131.61h1.9v1.3h-1.9zM322.18 118.49h1.9v1.3h-1.9zM322.18 120.36h1.9v1.3h-1.9zM322.18 122.24h1.9v1.3h-1.9zM322.18 124.11h1.9v1.3h-1.9zM322.18 125.99h1.9v1.3h-1.9zM322.18 127.86h1.9v1.3h-1.9zM325.18 118.49h1.9v1.3h-1.9z"/>
<path fill="#f19a66" d="M213.94 132.18h1.9v1.6h-1.9zM216.94 129.99h1.9v1.6h-1.9zM219.95 127.81h1.9v1.6h-1.9zM222.96 125.65h1.9v1.6h-1.9zM307.14 125.65h1.9v1.6h-1.9zM310.15 127.81h1.9v1.6h-1.9zM313.16 129.99h1.9v1.6h-1.9zM316.16 132.18h1.9v1.6h-1.9z"/>
<path fill="#ea6a3a" d="M225.96 123.49h1.9v1.6h-1.9zM228.97 121.33h1.9v1.6h-1.9zM231.98 119.14h1.9v1.6h-1.9zM234.98 117.03h1.9v1.6h-1.9zM237.99 115.12h1.9v1.6h-1.9zM241 113.27h1.9v1.6h-1.9zM289.1 113.27h1.9v1.6h-1.9zM292.11 115.12h1.9v1.6h-1.9zM295.12 117.03h1.9v1.6h-1.9zM298.12 119.14h1.9v1.6h-1.9zM301.13 121.33h1.9v1.6h-1.9zM304.14 123.49h1.9v1.6h-1.9z"/>
<path fill="#e0452a" d="M244 111.68h1.9v1.6h-1.9zM247.01 110.57h1.9v1.6h-1.9zM250.02 109.57h1.9v1.6h-1.9zM253.02 108.65h1.9v1.6h-1.9zM256.03 107.85h1.9v1.6h-1.9zM259.04 107.21h1.9v1.6h-1.9zM262.04 106.79h1.9v1.6h-1.9zM265.05 106.62h1.9v1.6h-1.9zM268.06 106.79h1.9v1.6h-1.9zM271.06 107.21h1.9v1.6h-1.9zM274.07 107.85h1.9v1.6h-1.9zM277.08 108.65h1.9v1.6h-1.9zM280.08 109.57h1.9v1.6h-1.9zM283.09 110.57h1.9v1.6h-1.9zM286.1 111.68h1.9v1.6h-1.9z"/>
<path fill="#f09a6a" d="M237.99 105.34h1.9v1.6h-1.9zM241 104.11h1.9v1.6h-1.9zM244 103.14h1.9v1.6h-1.9zM286.1 103.14h1.9v1.6h-1.9zM289.1 104.11h1.9v1.6h-1.9zM292.11 105.34h1.9v1.6h-1.9z"/>
<path fill="#e25a36" d="M247.01 102.41h1.9v1.6h-1.9zM250.02 101.94h1.9v1.6h-1.9zM253.02 101.71h1.9v1.6h-1.9zM256.03 101.69h1.9v1.6h-1.9zM259.04 101.69h1.9v1.6h-1.9zM262.04 101.69h1.9v1.6h-1.9zM265.05 101.69h1.9v1.6h-1.9zM268.06 101.69h1.9v1.6h-1.9zM271.06 101.69h1.9v1.6h-1.9zM274.07 101.69h1.9v1.6h-1.9zM277.08 101.71h1.9v1.6h-1.9zM280.08 101.94h1.9v1.6h-1.9zM283.09 102.41h1.9v1.6h-1.9z"/>
<circle cx="293.5" cy="61.3" r="2.9" fill="#20e020" stroke="#155a9a" stroke-width="0.5"/>
<circle cx="293.5" cy="88.5" r="2.9" fill="#20c8f0" stroke="#155a9a" stroke-width="0.5"/>
<circle cx="274.9" cy="102.7" r="2.9" fill="#20e020" stroke="#155a9a" stroke-width="0.5"/>
<circle cx="274.9" cy="109.6" r="2.9" fill="#20c8f0" stroke="#155a9a" stroke-width="0.5"/>
<rect x="175.8" y="16" width="180.4" height="117.2" fill="none" stroke="#9a9a9a" stroke-width="0.9"/>
<line x1="175.8" y1="39.44" x2="177.3" y2="39.44" stroke="#777" stroke-width="0.8"/>
<line x1="356.2" y1="39.44" x2="354.7" y2="39.44" stroke="#777" stroke-width="0.8"/>
<line x1="175.8" y1="62.88" x2="177.3" y2="62.88" stroke="#777" stroke-width="0.8"/>
<line x1="356.2" y1="62.88" x2="354.7" y2="62.88" stroke="#777" stroke-width="0.8"/>
<line x1="175.8" y1="86.32" x2="177.3" y2="86.32" stroke="#777" stroke-width="0.8"/>
<line x1="356.2" y1="86.32" x2="354.7" y2="86.32" stroke="#777" stroke-width="0.8"/>
<line x1="175.8" y1="109.76" x2="177.3" y2="109.76" stroke="#777" stroke-width="0.8"/>
<line x1="356.2" y1="109.76" x2="354.7" y2="109.76" stroke="#777" stroke-width="0.8"/>
<rect x="361" y="49.6" width="6.8" height="58.8" fill="url(#cbB)"/>
<text x="359.8" y="44.5" font-size="10" text-anchor="start" font-weight="normal" font-style="italic" font-family='"Liberation Serif", serif' fill="#111" >L</text>
<text x="365.6" y="46.2" font-size="6.5" text-anchor="start" font-weight="normal" font-style="italic" font-family='"Liberation Serif", serif' fill="#111" >z</text>
<text x="369.6" y="53.2" font-size="10.2" text-anchor="start" font-weight="normal" font-style="normal" font-family='"Liberation Sans", sans-serif' fill="#111" >1</text>
<text x="368.3" y="111.9" font-size="10.2" text-anchor="start" font-weight="normal" font-style="normal" font-family='"Liberation Sans", sans-serif' fill="#111" >0</text>
<text x="172.2" y="20.3" font-size="10.2" text-anchor="end" font-weight="normal" font-style="normal" font-family='"Liberation Sans", sans-serif' fill="#111" >8.5</text>
<text x="172.2" y="43.74" font-size="10.2" text-anchor="end" font-weight="normal" font-style="normal" font-family='"Liberation Sans", sans-serif' fill="#111" >8</text>
<text x="172.2" y="67.18" font-size="10.2" text-anchor="end" font-weight="normal" font-style="normal" font-family='"Liberation Sans", sans-serif' fill="#111" >7.5</text>
<text x="172.2" y="90.62" font-size="10.2" text-anchor="end" font-weight="normal" font-style="normal" font-family='"Liberation Sans", sans-serif' fill="#111" >7</text>
<text x="172.2" y="114.06" font-size="10.2" text-anchor="end" font-weight="normal" font-style="normal" font-family='"Liberation Sans", sans-serif' fill="#111" >6.5</text>
<text x="172.2" y="137.5" font-size="10.2" text-anchor="end" font-weight="normal" font-style="normal" font-family='"Liberation Sans", sans-serif' fill="#111" >6</text>
<text x="176.3" y="147.1" font-size="10.2" text-anchor="middle" font-weight="normal" font-style="normal" font-family='"Liberation Sans", sans-serif' fill="#111" >-&#960;/a</text>
<text x="266.2" y="147.1" font-size="10.2" text-anchor="middle" font-weight="normal" font-style="normal" font-family='"Liberation Sans", sans-serif' fill="#111" >0</text>
<text x="355.2" y="147.1" font-size="10.2" text-anchor="middle" font-weight="normal" font-style="normal" font-family='"Liberation Sans", sans-serif' fill="#111" >&#960;/a</text>
<text x="260.5" y="161.4" font-size="11" text-anchor="start" font-weight="normal" font-style="normal" font-family='"Liberation Sans", sans-serif' fill="#111" >k</text>
<text x="266" y="167.5" font-size="7" text-anchor="start" font-weight="normal" font-style="italic" font-family='"Liberation Sans", sans-serif' fill="#111" >//</text>
<text x="154.3" y="74" font-size="11.9" text-anchor="middle" font-weight="normal" font-style="normal" font-family='"Liberation Sans", sans-serif' fill="#111" transform="rotate(-90 154.3 74)">Frequency (kHz)</text>
<text x="143.5" y="10.9" font-size="13.6" text-anchor="start" font-weight="bold" font-style="normal" font-family='"Liberation Sans", sans-serif' fill="#000" >B</text>
<path fill="#2a309c" d="M397.55 36.73h1.9v1.6h-1.9zM400.56 36.95h1.9v1.6h-1.9zM403.57 37.27h1.9v1.6h-1.9zM406.57 37.67h1.9v1.6h-1.9zM409.58 38.14h1.9v1.6h-1.9zM412.59 38.69h1.9v1.6h-1.9zM415.6 39.31h1.9v1.6h-1.9zM418.61 40.15h1.9v1.6h-1.9zM421.62 41.16h1.9v1.6h-1.9zM424.62 42.29h1.9v1.6h-1.9zM427.63 43.47h1.9v1.6h-1.9zM430.64 44.68h1.9v1.6h-1.9zM433.65 46h1.9v1.6h-1.9zM436.66 47.4h1.9v1.6h-1.9zM439.67 48.88h1.9v1.6h-1.9zM442.68 50.42h1.9v1.6h-1.9zM445.68 52.02h1.9v1.6h-1.9zM448.69 53.78h1.9v1.6h-1.9zM451.7 55.68h1.9v1.6h-1.9zM454.71 57.62h1.9v1.6h-1.9zM457.72 59.53h1.9v1.6h-1.9zM460.73 61.3h1.9v1.6h-1.9zM463.73 62.9h1.9v1.6h-1.9zM466.74 64.43h1.9v1.6h-1.9zM469.75 66.03h1.9v1.6h-1.9zM472.76 67.87h1.9v1.6h-1.9zM475.77 69.9h1.9v1.6h-1.9zM478.78 71.86h1.9v1.6h-1.9zM481.78 73.75h1.9v1.6h-1.9zM484.79 75.01h1.9v1.6h-1.9zM487.8 75.47h1.9v1.6h-1.9zM490.81 75.01h1.9v1.6h-1.9zM493.82 73.75h1.9v1.6h-1.9zM496.83 71.86h1.9v1.6h-1.9zM499.83 69.9h1.9v1.6h-1.9zM502.84 67.87h1.9v1.6h-1.9zM505.85 66.03h1.9v1.6h-1.9zM508.86 64.43h1.9v1.6h-1.9zM511.87 62.9h1.9v1.6h-1.9zM514.88 61.3h1.9v1.6h-1.9zM517.88 59.53h1.9v1.6h-1.9zM520.89 57.62h1.9v1.6h-1.9zM523.9 55.68h1.9v1.6h-1.9zM526.91 53.78h1.9v1.6h-1.9zM529.92 52.02h1.9v1.6h-1.9zM532.92 50.42h1.9v1.6h-1.9zM535.93 48.88h1.9v1.6h-1.9zM538.94 47.4h1.9v1.6h-1.9zM541.95 46h1.9v1.6h-1.9zM544.96 44.68h1.9v1.6h-1.9zM547.97 43.47h1.9v1.6h-1.9zM550.97 42.29h1.9v1.6h-1.9zM553.98 41.16h1.9v1.6h-1.9zM556.99 40.15h1.9v1.6h-1.9zM560 39.31h1.9v1.6h-1.9zM563.01 38.69h1.9v1.6h-1.9zM566.02 38.14h1.9v1.6h-1.9zM569.02 37.67h1.9v1.6h-1.9zM572.03 37.27h1.9v1.6h-1.9zM575.04 36.95h1.9v1.6h-1.9zM578.05 36.73h1.9v1.6h-1.9zM448.69 90.11h1.9v1.6h-1.9zM451.7 89.73h1.9v1.6h-1.9zM454.71 89.26h1.9v1.6h-1.9zM457.72 88.7h1.9v1.6h-1.9zM460.73 87.99h1.9v1.6h-1.9zM463.73 87.2h1.9v1.6h-1.9zM466.74 86.37h1.9v1.6h-1.9zM469.75 85.57h1.9v1.6h-1.9zM472.76 84.76h1.9v1.6h-1.9zM475.77 83.92h1.9v1.6h-1.9zM478.78 83.14h1.9v1.6h-1.9zM481.78 82.52h1.9v1.6h-1.9zM484.79 82h1.9v1.6h-1.9zM487.8 81.58h1.9v1.6h-1.9zM490.81 82h1.9v1.6h-1.9zM493.82 82.52h1.9v1.6h-1.9zM496.83 83.14h1.9v1.6h-1.9zM499.83 83.92h1.9v1.6h-1.9zM502.84 84.76h1.9v1.6h-1.9zM505.85 85.57h1.9v1.6h-1.9zM508.86 86.37h1.9v1.6h-1.9zM511.87 87.2h1.9v1.6h-1.9zM514.88 87.99h1.9v1.6h-1.9zM517.88 88.7h1.9v1.6h-1.9zM520.89 89.26h1.9v1.6h-1.9zM523.9 89.73h1.9v1.6h-1.9zM526.91 90.11h1.9v1.6h-1.9zM397.55 61.48h1.9v1.6h-1.9zM400.56 60.4h1.9v1.6h-1.9zM403.57 59.25h1.9v1.6h-1.9zM406.57 58.04h1.9v1.6h-1.9zM409.58 56.78h1.9v1.6h-1.9zM412.59 55.47h1.9v1.6h-1.9zM415.6 54.11h1.9v1.6h-1.9zM418.61 52.7h1.9v1.6h-1.9zM421.62 51.22h1.9v1.6h-1.9zM424.62 49.68h1.9v1.6h-1.9zM427.63 48.05h1.9v1.6h-1.9zM430.64 46.34h1.9v1.6h-1.9zM433.65 44.58h1.9v1.6h-1.9zM436.66 42.86h1.9v1.6h-1.9zM439.67 41.06h1.9v1.6h-1.9zM442.68 39.05h1.9v1.6h-1.9zM445.68 36.72h1.9v1.6h-1.9zM448.69 33.94h1.9v1.6h-1.9zM451.7 29.69h1.9v1.6h-1.9zM523.9 29.69h1.9v1.6h-1.9zM526.91 33.94h1.9v1.6h-1.9zM529.92 36.72h1.9v1.6h-1.9zM532.92 39.05h1.9v1.6h-1.9zM535.93 41.06h1.9v1.6h-1.9zM538.94 42.86h1.9v1.6h-1.9zM541.95 44.58h1.9v1.6h-1.9zM544.96 46.34h1.9v1.6h-1.9zM547.97 48.05h1.9v1.6h-1.9zM550.97 49.68h1.9v1.6h-1.9zM553.98 51.22h1.9v1.6h-1.9zM556.99 52.7h1.9v1.6h-1.9zM560 54.11h1.9v1.6h-1.9zM563.01 55.47h1.9v1.6h-1.9zM566.02 56.78h1.9v1.6h-1.9zM569.02 58.04h1.9v1.6h-1.9zM572.03 59.25h1.9v1.6h-1.9zM575.04 60.4h1.9v1.6h-1.9zM578.05 61.48h1.9v1.6h-1.9zM415.6 16.05h1.9v1.6h-1.9zM418.61 16.62h1.9v1.6h-1.9zM421.62 17.17h1.9v1.6h-1.9zM424.62 17.7h1.9v1.6h-1.9zM427.63 18.22h1.9v1.6h-1.9zM430.64 18.72h1.9v1.6h-1.9zM433.65 19.2h1.9v1.6h-1.9zM436.66 19.69h1.9v1.6h-1.9zM439.67 20.19h1.9v1.6h-1.9zM442.68 20.69h1.9v1.6h-1.9zM445.68 21.15h1.9v1.6h-1.9zM448.69 21.56h1.9v1.6h-1.9zM451.7 21.89h1.9v1.6h-1.9zM454.71 22.12h1.9v1.6h-1.9zM457.72 22.26h1.9v1.6h-1.9zM460.73 22.36h1.9v1.6h-1.9zM463.73 22.45h1.9v1.6h-1.9zM466.74 22.56h1.9v1.6h-1.9zM469.75 22.7h1.9v1.6h-1.9zM472.76 22.91h1.9v1.6h-1.9zM475.77 23.19h1.9v1.6h-1.9zM478.78 23.52h1.9v1.6h-1.9zM481.78 23.91h1.9v1.6h-1.9zM484.79 24.34h1.9v1.6h-1.9zM487.8 24.8h1.9v1.6h-1.9zM490.81 24.34h1.9v1.6h-1.9zM493.82 23.91h1.9v1.6h-1.9zM496.83 23.52h1.9v1.6h-1.9zM499.83 23.19h1.9v1.6h-1.9zM502.84 22.91h1.9v1.6h-1.9zM505.85 22.7h1.9v1.6h-1.9zM508.86 22.56h1.9v1.6h-1.9zM511.87 22.45h1.9v1.6h-1.9zM514.88 22.36h1.9v1.6h-1.9zM517.88 22.26h1.9v1.6h-1.9zM520.89 22.12h1.9v1.6h-1.9zM523.9 21.89h1.9v1.6h-1.9zM526.91 21.56h1.9v1.6h-1.9zM529.92 21.15h1.9v1.6h-1.9zM532.92 20.69h1.9v1.6h-1.9zM535.93 20.19h1.9v1.6h-1.9zM538.94 19.69h1.9v1.6h-1.9zM541.95 19.2h1.9v1.6h-1.9zM544.96 18.72h1.9v1.6h-1.9zM547.97 18.22h1.9v1.6h-1.9zM550.97 17.7h1.9v1.6h-1.9zM553.98 17.17h1.9v1.6h-1.9zM556.99 16.62h1.9v1.6h-1.9zM560 16.05h1.9v1.6h-1.9zM397.55 20.3h1.9v1.6h-1.9zM400.56 20.61h1.9v1.6h-1.9zM403.57 20.93h1.9v1.6h-1.9zM406.57 21.25h1.9v1.6h-1.9zM409.58 21.57h1.9v1.6h-1.9zM412.59 21.89h1.9v1.6h-1.9zM415.6 22.21h1.9v1.6h-1.9zM418.61 22.54h1.9v1.6h-1.9zM421.62 22.87h1.9v1.6h-1.9zM424.62 23.2h1.9v1.6h-1.9zM427.63 23.57h1.9v1.6h-1.9zM430.64 23.98h1.9v1.6h-1.9zM433.65 24.43h1.9v1.6h-1.9zM436.66 24.89h1.9v1.6h-1.9zM439.67 25.33h1.9v1.6h-1.9zM442.68 25.74h1.9v1.6h-1.9zM445.68 26.1h1.9v1.6h-1.9zM448.69 26.37h1.9v1.6h-1.9zM451.7 26.55h1.9v1.6h-1.9zM454.71 26.6h1.9v1.6h-1.9zM457.72 26.49h1.9v1.6h-1.9zM460.73 26.27h1.9v1.6h-1.9zM463.73 26.01h1.9v1.6h-1.9zM466.74 25.79h1.9v1.6h-1.9zM469.75 25.7h1.9v1.6h-1.9zM472.76 25.74h1.9v1.6h-1.9zM475.77 25.85h1.9v1.6h-1.9zM478.78 26.03h1.9v1.6h-1.9zM481.78 26.28h1.9v1.6h-1.9zM484.79 26.61h1.9v1.6h-1.9zM487.8 27h1.9v1.6h-1.9zM490.81 26.61h1.9v1.6h-1.9zM493.82 26.28h1.9v1.6h-1.9zM496.83 26.03h1.9v1.6h-1.9zM499.83 25.85h1.9v1.6h-1.9zM502.84 25.74h1.9v1.6h-1.9zM505.85 25.7h1.9v1.6h-1.9zM508.86 25.79h1.9v1.6h-1.9zM511.87 26.01h1.9v1.6h-1.9zM514.88 26.27h1.9v1.6h-1.9zM517.88 26.49h1.9v1.6h-1.9zM520.89 26.6h1.9v1.6h-1.9zM523.9 26.55h1.9v1.6h-1.9zM526.91 26.37h1.9v1.6h-1.9zM529.92 26.1h1.9v1.6h-1.9zM532.92 25.74h1.9v1.6h-1.9zM535.93 25.33h1.9v1.6h-1.9zM538.94 24.89h1.9v1.6h-1.9zM541.95 24.43h1.9v1.6h-1.9zM544.96 23.98h1.9v1.6h-1.9zM547.97 23.57h1.9v1.6h-1.9zM550.97 23.2h1.9v1.6h-1.9zM553.98 22.87h1.9v1.6h-1.9zM556.99 22.54h1.9v1.6h-1.9zM560 22.21h1.9v1.6h-1.9zM563.01 21.89h1.9v1.6h-1.9zM566.02 21.57h1.9v1.6h-1.9zM569.02 21.25h1.9v1.6h-1.9zM572.03 20.93h1.9v1.6h-1.9zM575.04 20.61h1.9v1.6h-1.9zM578.05 20.3h1.9v1.6h-1.9zM463.73 15.93h1.9v1.6h-1.9zM466.74 16.46h1.9v1.6h-1.9zM469.75 16.91h1.9v1.6h-1.9zM472.76 17.22h1.9v1.6h-1.9zM475.77 17.36h1.9v1.6h-1.9zM478.78 17.46h1.9v1.6h-1.9zM481.78 17.53h1.9v1.6h-1.9zM484.79 17.58h1.9v1.6h-1.9zM487.8 17.6h1.9v1.6h-1.9zM490.81 17.58h1.9v1.6h-1.9zM493.82 17.53h1.9v1.6h-1.9zM496.83 17.46h1.9v1.6h-1.9zM499.83 17.36h1.9v1.6h-1.9zM502.84 17.22h1.9v1.6h-1.9zM505.85 16.91h1.9v1.6h-1.9zM508.86 16.46h1.9v1.6h-1.9zM511.87 15.93h1.9v1.6h-1.9zM460.73 16.63h1.9v1.6h-1.9zM463.73 17.6h1.9v1.6h-1.9zM466.74 18.47h1.9v1.6h-1.9zM469.75 19.2h1.9v1.6h-1.9zM472.76 19.84h1.9v1.6h-1.9zM475.77 20.45h1.9v1.6h-1.9zM478.78 21h1.9v1.6h-1.9zM481.78 21.48h1.9v1.6h-1.9zM484.79 21.89h1.9v1.6h-1.9zM487.8 22.2h1.9v1.6h-1.9zM490.81 21.89h1.9v1.6h-1.9zM493.82 21.48h1.9v1.6h-1.9zM496.83 21h1.9v1.6h-1.9zM499.83 20.45h1.9v1.6h-1.9zM502.84 19.84h1.9v1.6h-1.9zM505.85 19.2h1.9v1.6h-1.9zM508.86 18.47h1.9v1.6h-1.9zM511.87 17.6h1.9v1.6h-1.9zM514.88 16.63h1.9v1.6h-1.9zM451.7 15.7h1.9v1.6h-1.9zM454.71 18.72h1.9v1.6h-1.9zM457.72 20.96h1.9v1.6h-1.9zM460.73 23.02h1.9v1.6h-1.9zM463.73 24.82h1.9v1.6h-1.9zM466.74 26.25h1.9v1.6h-1.9zM469.75 27.2h1.9v1.6h-1.9zM472.76 27.86h1.9v1.6h-1.9zM475.77 28.45h1.9v1.6h-1.9zM478.78 28.96h1.9v1.6h-1.9zM481.78 29.35h1.9v1.6h-1.9zM484.79 29.61h1.9v1.6h-1.9zM487.8 29.7h1.9v1.6h-1.9zM490.81 29.61h1.9v1.6h-1.9zM493.82 29.35h1.9v1.6h-1.9zM496.83 28.96h1.9v1.6h-1.9zM499.83 28.45h1.9v1.6h-1.9zM502.84 27.86h1.9v1.6h-1.9zM505.85 27.2h1.9v1.6h-1.9zM508.86 26.25h1.9v1.6h-1.9zM511.87 24.82h1.9v1.6h-1.9zM514.88 23.02h1.9v1.6h-1.9zM517.88 20.96h1.9v1.6h-1.9zM520.89 18.72h1.9v1.6h-1.9zM523.9 15.7h1.9v1.6h-1.9zM451.7 27.7h1.9v1.6h-1.9zM454.71 28.15h1.9v1.6h-1.9zM457.72 28.59h1.9v1.6h-1.9zM460.73 29.02h1.9v1.6h-1.9zM463.73 29.43h1.9v1.6h-1.9zM466.74 29.82h1.9v1.6h-1.9zM469.75 30.2h1.9v1.6h-1.9zM472.76 30.56h1.9v1.6h-1.9zM475.77 30.92h1.9v1.6h-1.9zM478.78 31.26h1.9v1.6h-1.9zM481.78 31.59h1.9v1.6h-1.9zM484.79 31.9h1.9v1.6h-1.9zM487.8 32.2h1.9v1.6h-1.9zM490.81 31.9h1.9v1.6h-1.9zM493.82 31.59h1.9v1.6h-1.9zM496.83 31.26h1.9v1.6h-1.9zM499.83 30.92h1.9v1.6h-1.9zM502.84 30.56h1.9v1.6h-1.9zM505.85 30.2h1.9v1.6h-1.9zM508.86 29.82h1.9v1.6h-1.9zM511.87 29.43h1.9v1.6h-1.9zM514.88 29.02h1.9v1.6h-1.9zM517.88 28.59h1.9v1.6h-1.9zM520.89 28.15h1.9v1.6h-1.9zM523.9 27.7h1.9v1.6h-1.9zM451.7 30.7h1.9v1.6h-1.9zM454.71 31.17h1.9v1.6h-1.9zM457.72 31.63h1.9v1.6h-1.9zM460.73 32.06h1.9v1.6h-1.9zM463.73 32.47h1.9v1.6h-1.9zM466.74 32.85h1.9v1.6h-1.9zM469.75 33.2h1.9v1.6h-1.9zM472.76 33.53h1.9v1.6h-1.9zM475.77 33.84h1.9v1.6h-1.9zM478.78 34.14h1.9v1.6h-1.9zM481.78 34.42h1.9v1.6h-1.9zM484.79 34.67h1.9v1.6h-1.9zM487.8 34.9h1.9v1.6h-1.9zM490.81 34.67h1.9v1.6h-1.9zM493.82 34.42h1.9v1.6h-1.9zM496.83 34.14h1.9v1.6h-1.9zM499.83 33.84h1.9v1.6h-1.9zM502.84 33.53h1.9v1.6h-1.9zM505.85 33.2h1.9v1.6h-1.9zM508.86 32.85h1.9v1.6h-1.9zM511.87 32.47h1.9v1.6h-1.9zM514.88 32.06h1.9v1.6h-1.9zM517.88 31.63h1.9v1.6h-1.9zM520.89 31.17h1.9v1.6h-1.9zM523.9 30.7h1.9v1.6h-1.9zM457.72 16.16h1.9v1.6h-1.9zM460.73 16.7h1.9v1.6h-1.9zM463.73 17.19h1.9v1.6h-1.9zM466.74 17.64h1.9v1.6h-1.9zM469.75 18.08h1.9v1.6h-1.9zM472.76 18.49h1.9v1.6h-1.9zM475.77 18.9h1.9v1.6h-1.9zM478.78 19.3h1.9v1.6h-1.9zM481.78 19.68h1.9v1.6h-1.9zM484.79 20.05h1.9v1.6h-1.9zM487.8 20.4h1.9v1.6h-1.9zM490.81 20.05h1.9v1.6h-1.9zM493.82 19.68h1.9v1.6h-1.9zM496.83 19.3h1.9v1.6h-1.9zM499.83 18.9h1.9v1.6h-1.9zM502.84 18.49h1.9v1.6h-1.9zM505.85 18.08h1.9v1.6h-1.9zM508.86 17.64h1.9v1.6h-1.9zM511.87 17.19h1.9v1.6h-1.9zM514.88 16.7h1.9v1.6h-1.9zM517.88 16.16h1.9v1.6h-1.9zM451.7 16.7h1.9v1.6h-1.9zM454.71 18.27h1.9v1.6h-1.9zM457.72 19.69h1.9v1.6h-1.9zM460.73 20.97h1.9v1.6h-1.9zM463.73 22.26h1.9v1.6h-1.9zM466.74 23.35h1.9v1.6h-1.9zM469.75 24h1.9v1.6h-1.9zM472.76 24.34h1.9v1.6h-1.9zM475.77 24.63h1.9v1.6h-1.9zM478.78 24.87h1.9v1.6h-1.9zM481.78 25.05h1.9v1.6h-1.9zM484.79 25.16h1.9v1.6h-1.9zM487.8 25.2h1.9v1.6h-1.9zM490.81 25.16h1.9v1.6h-1.9zM493.82 25.05h1.9v1.6h-1.9zM496.83 24.87h1.9v1.6h-1.9zM499.83 24.63h1.9v1.6h-1.9zM502.84 24.34h1.9v1.6h-1.9zM505.85 24h1.9v1.6h-1.9zM508.86 23.35h1.9v1.6h-1.9zM511.87 22.26h1.9v1.6h-1.9zM514.88 20.97h1.9v1.6h-1.9zM517.88 19.69h1.9v1.6h-1.9zM520.89 18.27h1.9v1.6h-1.9zM523.9 16.7h1.9v1.6h-1.9zM454.71 26.13h1.9v1.6h-1.9zM457.72 27h1.9v1.6h-1.9zM460.73 27.79h1.9v1.6h-1.9zM463.73 28.44h1.9v1.6h-1.9zM466.74 28.94h1.9v1.6h-1.9zM469.75 29.41h1.9v1.6h-1.9zM472.76 29.85h1.9v1.6h-1.9zM475.77 30.26h1.9v1.6h-1.9zM478.78 30.61h1.9v1.6h-1.9zM481.78 30.89h1.9v1.6h-1.9zM484.79 31.09h1.9v1.6h-1.9zM487.8 31.2h1.9v1.6h-1.9zM490.81 31.09h1.9v1.6h-1.9zM493.82 30.89h1.9v1.6h-1.9zM496.83 30.61h1.9v1.6h-1.9zM499.83 30.26h1.9v1.6h-1.9zM502.84 29.85h1.9v1.6h-1.9zM505.85 29.41h1.9v1.6h-1.9zM508.86 28.94h1.9v1.6h-1.9zM511.87 28.44h1.9v1.6h-1.9zM514.88 27.79h1.9v1.6h-1.9zM517.88 27h1.9v1.6h-1.9zM520.89 26.13h1.9v1.6h-1.9zM451.7 19.65h1.9v1.6h-1.9zM454.71 21.17h1.9v1.6h-1.9zM457.72 22.57h1.9v1.6h-1.9zM460.73 23.82h1.9v1.6h-1.9zM463.73 24.89h1.9v1.6h-1.9zM466.74 25.76h1.9v1.6h-1.9zM469.75 26.4h1.9v1.6h-1.9zM472.76 26.91h1.9v1.6h-1.9zM475.77 27.38h1.9v1.6h-1.9zM478.78 27.79h1.9v1.6h-1.9zM481.78 28.11h1.9v1.6h-1.9zM484.79 28.32h1.9v1.6h-1.9zM487.8 28.4h1.9v1.6h-1.9zM490.81 28.32h1.9v1.6h-1.9zM493.82 28.11h1.9v1.6h-1.9zM496.83 27.79h1.9v1.6h-1.9zM499.83 27.38h1.9v1.6h-1.9zM502.84 26.91h1.9v1.6h-1.9zM505.85 26.4h1.9v1.6h-1.9zM508.86 25.76h1.9v1.6h-1.9zM511.87 24.89h1.9v1.6h-1.9zM514.88 23.82h1.9v1.6h-1.9zM517.88 22.57h1.9v1.6h-1.9zM520.89 21.17h1.9v1.6h-1.9zM523.9 19.65h1.9v1.6h-1.9zM397.55 123.61h1.9v1.6h-1.9zM400.56 123.61h1.9v1.6h-1.9zM403.57 123.61h1.9v1.6h-1.9zM406.57 123.61h1.9v1.6h-1.9zM409.58 123.61h1.9v1.6h-1.9zM412.59 123.61h1.9v1.6h-1.9zM415.6 123.61h1.9v1.6h-1.9zM418.61 123.61h1.9v1.6h-1.9zM421.62 123.61h1.9v1.6h-1.9zM424.62 123.61h1.9v1.6h-1.9zM436.66 132.78h1.9v1.6h-1.9zM439.67 130.59h1.9v1.6h-1.9zM442.68 128.4h1.9v1.6h-1.9zM445.68 126.24h1.9v1.6h-1.9zM448.69 124.08h1.9v1.6h-1.9zM451.7 121.92h1.9v1.6h-1.9zM454.71 119.71h1.9v1.6h-1.9zM457.72 117.61h1.9v1.6h-1.9zM460.73 115.69h1.9v1.6h-1.9zM463.73 113.84h1.9v1.6h-1.9zM466.74 112.24h1.9v1.6h-1.9zM469.75 111.13h1.9v1.6h-1.9zM472.76 110.14h1.9v1.6h-1.9zM475.77 109.21h1.9v1.6h-1.9zM478.78 108.41h1.9v1.6h-1.9zM481.78 107.77h1.9v1.6h-1.9zM484.79 107.34h1.9v1.6h-1.9zM487.8 107.17h1.9v1.6h-1.9zM490.81 107.34h1.9v1.6h-1.9zM493.82 107.77h1.9v1.6h-1.9zM496.83 108.41h1.9v1.6h-1.9zM499.83 109.21h1.9v1.6h-1.9zM502.84 110.14h1.9v1.6h-1.9zM505.85 111.13h1.9v1.6h-1.9zM508.86 112.24h1.9v1.6h-1.9zM511.87 113.84h1.9v1.6h-1.9zM514.88 115.69h1.9v1.6h-1.9zM517.88 117.61h1.9v1.6h-1.9zM520.89 119.71h1.9v1.6h-1.9zM523.9 121.92h1.9v1.6h-1.9zM526.91 124.08h1.9v1.6h-1.9zM529.92 126.24h1.9v1.6h-1.9zM532.92 128.4h1.9v1.6h-1.9zM535.93 130.59h1.9v1.6h-1.9zM538.94 132.78h1.9v1.6h-1.9zM550.97 123.61h1.9v1.6h-1.9zM553.98 123.61h1.9v1.6h-1.9zM556.99 123.61h1.9v1.6h-1.9zM560 123.61h1.9v1.6h-1.9zM563.01 123.61h1.9v1.6h-1.9zM566.02 123.61h1.9v1.6h-1.9zM569.02 123.61h1.9v1.6h-1.9zM572.03 123.61h1.9v1.6h-1.9zM575.04 123.61h1.9v1.6h-1.9zM578.05 123.61h1.9v1.6h-1.9z"/>
<path fill="url(#colC)" d="M397.55 90.4h1.9v13.2h-1.9zM400.56 90.4h1.9v13.2h-1.9zM403.57 90.4h1.9v13.2h-1.9zM406.57 90.4h1.9v13.2h-1.9zM409.58 90.4h1.9v13.2h-1.9zM412.59 90.4h1.9v13.2h-1.9zM415.6 90.4h1.9v13.2h-1.9zM418.61 90.4h1.9v13.2h-1.9zM421.62 90.4h1.9v13.2h-1.9zM424.62 90.4h1.9v13.2h-1.9zM427.63 90.4h1.9v13.2h-1.9zM430.64 90.4h1.9v13.2h-1.9zM433.65 90.4h1.9v13.2h-1.9zM436.66 90.4h1.9v13.2h-1.9zM439.67 90.4h1.9v13.2h-1.9zM442.68 90.4h1.9v13.2h-1.9zM445.68 90.4h1.9v13.2h-1.9zM448.69 90.4h1.9v13.2h-1.9zM451.7 90.4h1.9v13.2h-1.9zM454.71 90.4h1.9v13.2h-1.9zM457.72 90.4h1.9v13.2h-1.9zM460.73 90.4h1.9v13.2h-1.9zM463.73 90.4h1.9v13.2h-1.9zM466.74 90.4h1.9v13.2h-1.9zM469.75 90.4h1.9v13.2h-1.9zM472.76 90.4h1.9v13.2h-1.9zM475.77 90.4h1.9v13.2h-1.9zM478.78 90.4h1.9v13.2h-1.9zM481.78 90.4h1.9v13.2h-1.9zM484.79 90.4h1.9v13.2h-1.9zM487.8 90.4h1.9v13.2h-1.9zM490.81 90.4h1.9v13.2h-1.9zM493.82 90.4h1.9v13.2h-1.9zM496.83 90.4h1.9v13.2h-1.9zM499.83 90.4h1.9v13.2h-1.9zM502.84 90.4h1.9v13.2h-1.9zM505.85 90.4h1.9v13.2h-1.9zM508.86 90.4h1.9v13.2h-1.9zM511.87 90.4h1.9v13.2h-1.9zM514.88 90.4h1.9v13.2h-1.9zM517.88 90.4h1.9v13.2h-1.9zM520.89 90.4h1.9v13.2h-1.9zM523.9 90.4h1.9v13.2h-1.9zM526.91 90.4h1.9v13.2h-1.9zM529.92 90.4h1.9v13.2h-1.9zM532.92 90.4h1.9v13.2h-1.9zM535.93 90.4h1.9v13.2h-1.9zM538.94 90.4h1.9v13.2h-1.9zM541.95 90.4h1.9v13.2h-1.9zM544.96 90.4h1.9v13.2h-1.9zM547.97 90.4h1.9v13.2h-1.9zM550.97 90.4h1.9v13.2h-1.9zM553.98 90.4h1.9v13.2h-1.9zM556.99 90.4h1.9v13.2h-1.9zM560 90.4h1.9v13.2h-1.9zM563.01 90.4h1.9v13.2h-1.9zM566.02 90.4h1.9v13.2h-1.9zM569.02 90.4h1.9v13.2h-1.9zM572.03 90.4h1.9v13.2h-1.9zM575.04 90.4h1.9v13.2h-1.9zM578.05 90.4h1.9v13.2h-1.9z"/>
<path fill="#fed68e" d="M397.55 107.04h1.9v1.4h-1.9zM400.56 107.04h1.9v1.4h-1.9zM403.57 107.04h1.9v1.4h-1.9zM409.58 108.59h1.9v1.4h-1.9zM412.59 108.59h1.9v1.4h-1.9zM415.6 108.59h1.9v1.4h-1.9zM418.61 108.59h1.9v1.4h-1.9zM418.61 110.14h1.9v1.4h-1.9zM421.62 108.59h1.9v1.4h-1.9zM421.62 110.14h1.9v1.4h-1.9zM424.62 108.59h1.9v1.4h-1.9zM424.62 110.14h1.9v1.4h-1.9zM427.63 110.14h1.9v1.4h-1.9zM427.63 111.69h1.9v1.4h-1.9zM430.64 111.69h1.9v1.4h-1.9zM430.64 113.24h1.9v1.4h-1.9zM430.64 114.79h1.9v1.4h-1.9zM430.64 116.34h1.9v1.4h-1.9zM541.95 111.69h1.9v1.4h-1.9zM541.95 113.24h1.9v1.4h-1.9zM541.95 114.79h1.9v1.4h-1.9zM541.95 116.34h1.9v1.4h-1.9zM541.95 117.88h1.9v1.4h-1.9zM541.95 119.43h1.9v1.4h-1.9zM544.96 111.69h1.9v1.4h-1.9zM544.96 113.24h1.9v1.4h-1.9zM544.96 114.79h1.9v1.4h-1.9zM544.96 116.34h1.9v1.4h-1.9zM547.97 110.14h1.9v1.4h-1.9zM547.97 111.69h1.9v1.4h-1.9zM550.97 108.59h1.9v1.4h-1.9zM550.97 110.14h1.9v1.4h-1.9zM553.98 108.59h1.9v1.4h-1.9zM553.98 110.14h1.9v1.4h-1.9zM556.99 108.59h1.9v1.4h-1.9zM556.99 110.14h1.9v1.4h-1.9zM560 108.59h1.9v1.4h-1.9zM563.01 108.59h1.9v1.4h-1.9zM566.02 108.59h1.9v1.4h-1.9zM572.03 107.04h1.9v1.4h-1.9zM575.04 107.04h1.9v1.4h-1.9zM578.05 107.04h1.9v1.4h-1.9z"/>
<path fill="#f88a50" d="M397.55 108.59h1.9v1.4h-1.9zM400.56 108.59h1.9v1.4h-1.9zM403.57 110.14h1.9v1.4h-1.9zM406.57 110.14h1.9v1.4h-1.9zM409.58 111.69h1.9v1.4h-1.9zM412.59 111.69h1.9v1.4h-1.9zM415.6 113.24h1.9v1.4h-1.9zM418.61 113.24h1.9v1.4h-1.9zM418.61 114.79h1.9v1.4h-1.9zM421.62 114.79h1.9v1.4h-1.9zM424.62 114.79h1.9v1.4h-1.9zM424.62 116.34h1.9v1.4h-1.9zM427.63 117.88h1.9v1.4h-1.9zM427.63 119.43h1.9v1.4h-1.9zM430.64 124.08h1.9v1.4h-1.9zM430.64 125.63h1.9v1.4h-1.9zM430.64 127.18h1.9v1.4h-1.9zM541.95 128.73h1.9v1.4h-1.9zM541.95 130.28h1.9v1.4h-1.9zM541.95 131.83h1.9v1.4h-1.9zM544.96 124.08h1.9v1.4h-1.9zM544.96 125.63h1.9v1.4h-1.9zM544.96 127.18h1.9v1.4h-1.9zM547.97 117.88h1.9v1.4h-1.9zM547.97 119.43h1.9v1.4h-1.9zM550.97 114.79h1.9v1.4h-1.9zM550.97 116.34h1.9v1.4h-1.9zM553.98 114.79h1.9v1.4h-1.9zM556.99 113.24h1.9v1.4h-1.9zM556.99 114.79h1.9v1.4h-1.9zM560 113.24h1.9v1.4h-1.9zM563.01 111.69h1.9v1.4h-1.9zM566.02 111.69h1.9v1.4h-1.9zM569.02 110.14h1.9v1.4h-1.9zM572.03 110.14h1.9v1.4h-1.9zM575.04 108.59h1.9v1.4h-1.9zM578.05 108.59h1.9v1.4h-1.9z"/>
<path fill="#f46a3a" d="M397.55 108.35h1.9v1.6h-1.9zM400.56 108.98h1.9v1.6h-1.9zM403.57 109.68h1.9v1.6h-1.9zM406.57 110.46h1.9v1.6h-1.9zM409.58 111.33h1.9v1.6h-1.9zM566.02 111.33h1.9v1.6h-1.9zM569.02 110.46h1.9v1.6h-1.9zM572.03 109.68h1.9v1.6h-1.9zM575.04 108.98h1.9v1.6h-1.9zM578.05 108.35h1.9v1.6h-1.9z"/>
<path fill="#fcb46c" d="M403.57 108.59h1.9v1.4h-1.9zM406.57 108.59h1.9v1.4h-1.9zM409.58 110.14h1.9v1.4h-1.9zM412.59 110.14h1.9v1.4h-1.9zM415.6 110.14h1.9v1.4h-1.9zM415.6 111.69h1.9v1.4h-1.9zM418.61 111.69h1.9v1.4h-1.9zM421.62 111.69h1.9v1.4h-1.9zM421.62 113.24h1.9v1.4h-1.9zM424.62 111.69h1.9v1.4h-1.9zM424.62 113.24h1.9v1.4h-1.9zM427.63 113.24h1.9v1.4h-1.9zM427.63 114.79h1.9v1.4h-1.9zM427.63 116.34h1.9v1.4h-1.9zM430.64 117.88h1.9v1.4h-1.9zM430.64 119.43h1.9v1.4h-1.9zM430.64 120.98h1.9v1.4h-1.9zM430.64 122.53h1.9v1.4h-1.9zM541.95 120.98h1.9v1.4h-1.9zM541.95 122.53h1.9v1.4h-1.9zM541.95 124.08h1.9v1.4h-1.9zM541.95 125.63h1.9v1.4h-1.9zM541.95 127.18h1.9v1.4h-1.9zM544.96 117.88h1.9v1.4h-1.9zM544.96 119.43h1.9v1.4h-1.9zM544.96 120.98h1.9v1.4h-1.9zM544.96 122.53h1.9v1.4h-1.9zM547.97 113.24h1.9v1.4h-1.9zM547.97 114.79h1.9v1.4h-1.9zM547.97 116.34h1.9v1.4h-1.9zM550.97 111.69h1.9v1.4h-1.9zM550.97 113.24h1.9v1.4h-1.9zM553.98 111.69h1.9v1.4h-1.9zM553.98 113.24h1.9v1.4h-1.9zM556.99 111.69h1.9v1.4h-1.9zM560 110.14h1.9v1.4h-1.9zM560 111.69h1.9v1.4h-1.9zM563.01 110.14h1.9v1.4h-1.9zM566.02 110.14h1.9v1.4h-1.9zM569.02 108.59h1.9v1.4h-1.9zM572.03 108.59h1.9v1.4h-1.9z"/>
<path fill="#fff0b8" d="M406.57 107.04h1.9v1.4h-1.9zM409.58 107.04h1.9v1.4h-1.9zM412.59 107.04h1.9v1.4h-1.9zM415.6 107.04h1.9v1.4h-1.9zM418.61 107.04h1.9v1.4h-1.9zM421.62 107.04h1.9v1.4h-1.9zM424.62 107.04h1.9v1.4h-1.9zM427.63 107.04h1.9v1.4h-1.9zM427.63 108.59h1.9v1.4h-1.9zM430.64 107.04h1.9v1.4h-1.9zM430.64 108.59h1.9v1.4h-1.9zM430.64 110.14h1.9v1.4h-1.9zM466.74 114.79h1.9v1.4h-1.9zM469.75 114.79h1.9v1.4h-1.9zM472.76 114.79h1.9v1.4h-1.9zM475.77 114.79h1.9v1.4h-1.9zM478.78 114.79h1.9v1.4h-1.9zM481.78 114.79h1.9v1.4h-1.9zM484.79 108.59h1.9v1.4h-1.9zM484.79 114.79h1.9v1.4h-1.9zM487.8 108.59h1.9v1.4h-1.9zM487.8 114.79h1.9v1.4h-1.9zM490.81 108.59h1.9v1.4h-1.9zM490.81 114.79h1.9v1.4h-1.9zM493.82 114.79h1.9v1.4h-1.9zM496.83 114.79h1.9v1.4h-1.9zM499.83 114.79h1.9v1.4h-1.9zM502.84 114.79h1.9v1.4h-1.9zM505.85 114.79h1.9v1.4h-1.9zM508.86 114.79h1.9v1.4h-1.9zM541.95 107.04h1.9v1.4h-1.9zM541.95 108.59h1.9v1.4h-1.9zM541.95 110.14h1.9v1.4h-1.9zM544.96 107.04h1.9v1.4h-1.9zM544.96 108.59h1.9v1.4h-1.9zM544.96 110.14h1.9v1.4h-1.9zM547.97 107.04h1.9v1.4h-1.9zM547.97 108.59h1.9v1.4h-1.9zM550.97 107.04h1.9v1.4h-1.9zM553.98 107.04h1.9v1.4h-1.9zM556.99 107.04h1.9v1.4h-1.9zM560 107.04h1.9v1.4h-1.9zM563.01 107.04h1.9v1.4h-1.9zM566.02 107.04h1.9v1.4h-1.9zM569.02 107.04h1.9v1.4h-1.9z"/>
<path fill="#e23a22" d="M412.59 112.28h1.9v1.6h-1.9zM415.6 113.28h1.9v1.6h-1.9zM418.61 114.25h1.9v1.6h-1.9zM421.62 115.41h1.9v1.6h-1.9zM424.62 116.78h1.9v1.6h-1.9zM427.63 119.17h1.9v1.6h-1.9zM430.64 127.38h1.9v1.6h-1.9zM541.95 133h1.9v1.6h-1.9zM544.96 127.38h1.9v1.6h-1.9zM547.97 119.17h1.9v1.6h-1.9zM550.97 116.78h1.9v1.6h-1.9zM553.98 115.41h1.9v1.6h-1.9zM556.99 114.25h1.9v1.6h-1.9zM560 113.28h1.9v1.6h-1.9zM563.01 112.28h1.9v1.6h-1.9z"/>
<path fill="#fff4c8" d="M433.65 107.04h1.9v1.4h-1.9zM433.65 108.59h1.9v1.4h-1.9zM433.65 110.14h1.9v1.4h-1.9zM436.66 107.04h1.9v1.4h-1.9zM436.66 108.59h1.9v1.4h-1.9zM436.66 110.14h1.9v1.4h-1.9zM439.67 107.04h1.9v1.4h-1.9zM439.67 108.59h1.9v1.4h-1.9zM439.67 110.14h1.9v1.4h-1.9zM442.68 107.04h1.9v1.4h-1.9zM442.68 108.59h1.9v1.4h-1.9zM442.68 110.14h1.9v1.4h-1.9zM445.68 107.04h1.9v1.4h-1.9zM445.68 108.59h1.9v1.4h-1.9zM445.68 110.14h1.9v1.4h-1.9zM448.69 107.04h1.9v1.4h-1.9zM448.69 108.59h1.9v1.4h-1.9zM451.7 107.04h1.9v1.4h-1.9zM451.7 108.59h1.9v1.4h-1.9zM454.71 107.04h1.9v1.4h-1.9zM454.71 108.59h1.9v1.4h-1.9zM457.72 107.04h1.9v1.4h-1.9zM457.72 108.59h1.9v1.4h-1.9zM460.73 107.04h1.9v1.4h-1.9zM460.73 108.59h1.9v1.4h-1.9zM463.73 107.04h1.9v1.4h-1.9zM463.73 108.59h1.9v1.4h-1.9zM466.74 108.59h1.9v1.4h-1.9zM469.75 108.59h1.9v1.4h-1.9zM472.76 108.59h1.9v1.4h-1.9zM502.84 108.59h1.9v1.4h-1.9zM505.85 108.59h1.9v1.4h-1.9zM508.86 108.59h1.9v1.4h-1.9zM511.87 107.04h1.9v1.4h-1.9zM511.87 108.59h1.9v1.4h-1.9zM514.88 107.04h1.9v1.4h-1.9zM514.88 108.59h1.9v1.4h-1.9zM517.88 107.04h1.9v1.4h-1.9zM517.88 108.59h1.9v1.4h-1.9zM520.89 107.04h1.9v1.4h-1.9zM520.89 108.59h1.9v1.4h-1.9zM523.9 107.04h1.9v1.4h-1.9zM523.9 108.59h1.9v1.4h-1.9zM526.91 107.04h1.9v1.4h-1.9zM526.91 108.59h1.9v1.4h-1.9zM529.92 107.04h1.9v1.4h-1.9zM529.92 108.59h1.9v1.4h-1.9zM529.92 110.14h1.9v1.4h-1.9zM532.92 107.04h1.9v1.4h-1.9zM532.92 108.59h1.9v1.4h-1.9zM532.92 110.14h1.9v1.4h-1.9zM535.93 107.04h1.9v1.4h-1.9zM535.93 108.59h1.9v1.4h-1.9zM535.93 110.14h1.9v1.4h-1.9zM538.94 107.04h1.9v1.4h-1.9zM538.94 108.59h1.9v1.4h-1.9zM538.94 110.14h1.9v1.4h-1.9z"/>
<path fill="#fee39a" d="M433.65 111.69h1.9v1.4h-1.9zM433.65 113.24h1.9v1.4h-1.9zM433.65 114.79h1.9v1.4h-1.9zM433.65 116.34h1.9v1.4h-1.9zM433.65 117.88h1.9v1.4h-1.9zM433.65 119.43h1.9v1.4h-1.9zM436.66 111.69h1.9v1.4h-1.9zM436.66 113.24h1.9v1.4h-1.9zM436.66 114.79h1.9v1.4h-1.9zM436.66 116.34h1.9v1.4h-1.9zM436.66 117.88h1.9v1.4h-1.9zM436.66 119.43h1.9v1.4h-1.9zM439.67 111.69h1.9v1.4h-1.9zM439.67 113.24h1.9v1.4h-1.9zM439.67 114.79h1.9v1.4h-1.9zM439.67 116.34h1.9v1.4h-1.9zM439.67 117.88h1.9v1.4h-1.9zM442.68 111.69h1.9v1.4h-1.9zM442.68 113.24h1.9v1.4h-1.9zM442.68 114.79h1.9v1.4h-1.9zM442.68 116.34h1.9v1.4h-1.9zM445.68 111.69h1.9v1.4h-1.9zM445.68 113.24h1.9v1.4h-1.9zM445.68 114.79h1.9v1.4h-1.9zM448.69 110.14h1.9v1.4h-1.9zM448.69 111.69h1.9v1.4h-1.9zM448.69 113.24h1.9v1.4h-1.9zM448.69 114.79h1.9v1.4h-1.9zM451.7 110.14h1.9v1.4h-1.9zM451.7 111.69h1.9v1.4h-1.9zM451.7 113.24h1.9v1.4h-1.9zM454.71 110.14h1.9v1.4h-1.9zM454.71 111.69h1.9v1.4h-1.9zM457.72 110.14h1.9v1.4h-1.9zM457.72 111.69h1.9v1.4h-1.9zM460.73 110.14h1.9v1.4h-1.9zM460.73 111.69h1.9v1.4h-1.9zM463.73 110.14h1.9v1.4h-1.9zM463.73 111.69h1.9v1.4h-1.9zM511.87 110.14h1.9v1.4h-1.9zM511.87 111.69h1.9v1.4h-1.9zM514.88 110.14h1.9v1.4h-1.9zM514.88 111.69h1.9v1.4h-1.9zM517.88 110.14h1.9v1.4h-1.9zM517.88 111.69h1.9v1.4h-1.9zM520.89 110.14h1.9v1.4h-1.9zM520.89 111.69h1.9v1.4h-1.9zM523.9 110.14h1.9v1.4h-1.9zM523.9 111.69h1.9v1.4h-1.9zM523.9 113.24h1.9v1.4h-1.9zM526.91 110.14h1.9v1.4h-1.9zM526.91 111.69h1.9v1.4h-1.9zM526.91 113.24h1.9v1.4h-1.9zM526.91 114.79h1.9v1.4h-1.9zM529.92 111.69h1.9v1.4h-1.9zM529.92 113.24h1.9v1.4h-1.9zM529.92 114.79h1.9v1.4h-1.9zM532.92 111.69h1.9v1.4h-1.9zM532.92 113.24h1.9v1.4h-1.9zM532.92 114.79h1.9v1.4h-1.9zM532.92 116.34h1.9v1.4h-1.9zM535.93 111.69h1.9v1.4h-1.9zM535.93 113.24h1.9v1.4h-1.9zM535.93 114.79h1.9v1.4h-1.9zM535.93 116.34h1.9v1.4h-1.9zM535.93 117.88h1.9v1.4h-1.9zM538.94 111.69h1.9v1.4h-1.9zM538.94 113.24h1.9v1.4h-1.9zM538.94 114.79h1.9v1.4h-1.9zM538.94 116.34h1.9v1.4h-1.9zM538.94 117.88h1.9v1.4h-1.9zM538.94 119.43h1.9v1.4h-1.9z"/>
<path fill="#fdc47c" d="M433.65 120.98h1.9v1.4h-1.9zM433.65 122.53h1.9v1.4h-1.9zM433.65 124.08h1.9v1.4h-1.9zM433.65 125.63h1.9v1.4h-1.9zM433.65 127.18h1.9v1.4h-1.9zM433.65 128.73h1.9v1.4h-1.9zM436.66 120.98h1.9v1.4h-1.9zM436.66 122.53h1.9v1.4h-1.9zM436.66 124.08h1.9v1.4h-1.9zM436.66 125.63h1.9v1.4h-1.9zM436.66 127.18h1.9v1.4h-1.9zM436.66 128.73h1.9v1.4h-1.9zM439.67 119.43h1.9v1.4h-1.9zM439.67 120.98h1.9v1.4h-1.9zM439.67 122.53h1.9v1.4h-1.9zM439.67 124.08h1.9v1.4h-1.9zM439.67 125.63h1.9v1.4h-1.9zM439.67 127.18h1.9v1.4h-1.9zM442.68 117.88h1.9v1.4h-1.9zM442.68 119.43h1.9v1.4h-1.9zM442.68 120.98h1.9v1.4h-1.9zM442.68 122.53h1.9v1.4h-1.9zM442.68 124.08h1.9v1.4h-1.9zM442.68 125.63h1.9v1.4h-1.9zM445.68 116.34h1.9v1.4h-1.9zM445.68 117.88h1.9v1.4h-1.9zM445.68 119.43h1.9v1.4h-1.9zM445.68 120.98h1.9v1.4h-1.9zM445.68 122.53h1.9v1.4h-1.9zM448.69 116.34h1.9v1.4h-1.9zM448.69 117.88h1.9v1.4h-1.9zM448.69 119.43h1.9v1.4h-1.9zM448.69 120.98h1.9v1.4h-1.9zM451.7 114.79h1.9v1.4h-1.9zM451.7 116.34h1.9v1.4h-1.9zM451.7 117.88h1.9v1.4h-1.9zM451.7 119.43h1.9v1.4h-1.9zM454.71 113.24h1.9v1.4h-1.9zM454.71 114.79h1.9v1.4h-1.9zM454.71 116.34h1.9v1.4h-1.9zM454.71 117.88h1.9v1.4h-1.9zM457.72 113.24h1.9v1.4h-1.9zM457.72 114.79h1.9v1.4h-1.9zM457.72 116.34h1.9v1.4h-1.9zM460.73 113.24h1.9v1.4h-1.9zM460.73 114.79h1.9v1.4h-1.9zM460.73 116.34h1.9v1.4h-1.9zM514.88 113.24h1.9v1.4h-1.9zM514.88 114.79h1.9v1.4h-1.9zM514.88 116.34h1.9v1.4h-1.9zM517.88 113.24h1.9v1.4h-1.9zM517.88 114.79h1.9v1.4h-1.9zM517.88 116.34h1.9v1.4h-1.9zM520.89 113.24h1.9v1.4h-1.9zM520.89 114.79h1.9v1.4h-1.9zM520.89 116.34h1.9v1.4h-1.9zM520.89 117.88h1.9v1.4h-1.9zM523.9 114.79h1.9v1.4h-1.9zM523.9 116.34h1.9v1.4h-1.9zM523.9 117.88h1.9v1.4h-1.9zM523.9 119.43h1.9v1.4h-1.9zM526.91 116.34h1.9v1.4h-1.9zM526.91 117.88h1.9v1.4h-1.9zM526.91 119.43h1.9v1.4h-1.9zM526.91 120.98h1.9v1.4h-1.9zM529.92 116.34h1.9v1.4h-1.9zM529.92 117.88h1.9v1.4h-1.9zM529.92 119.43h1.9v1.4h-1.9zM529.92 120.98h1.9v1.4h-1.9zM529.92 122.53h1.9v1.4h-1.9zM532.92 117.88h1.9v1.4h-1.9zM532.92 119.43h1.9v1.4h-1.9zM532.92 120.98h1.9v1.4h-1.9zM532.92 122.53h1.9v1.4h-1.9zM532.92 124.08h1.9v1.4h-1.9zM532.92 125.63h1.9v1.4h-1.9zM535.93 119.43h1.9v1.4h-1.9zM535.93 120.98h1.9v1.4h-1.9zM535.93 122.53h1.9v1.4h-1.9zM535.93 124.08h1.9v1.4h-1.9zM535.93 125.63h1.9v1.4h-1.9zM535.93 127.18h1.9v1.4h-1.9zM538.94 120.98h1.9v1.4h-1.9zM538.94 122.53h1.9v1.4h-1.9zM538.94 124.08h1.9v1.4h-1.9zM538.94 125.63h1.9v1.4h-1.9zM538.94 127.18h1.9v1.4h-1.9zM538.94 128.73h1.9v1.4h-1.9z"/>
<path fill="#c8e4f0" d="M433.65 130.28h1.9v1.4h-1.9zM433.65 131.83h1.9v1.4h-1.9zM436.66 130.28h1.9v1.4h-1.9zM436.66 131.83h1.9v1.4h-1.9zM439.67 128.73h1.9v1.4h-1.9zM439.67 130.28h1.9v1.4h-1.9zM442.68 127.18h1.9v1.4h-1.9zM442.68 128.73h1.9v1.4h-1.9zM445.68 124.08h1.9v1.4h-1.9zM445.68 125.63h1.9v1.4h-1.9zM448.69 122.53h1.9v1.4h-1.9zM448.69 124.08h1.9v1.4h-1.9zM451.7 120.98h1.9v1.4h-1.9zM451.7 122.53h1.9v1.4h-1.9zM454.71 119.43h1.9v1.4h-1.9zM457.72 117.88h1.9v1.4h-1.9zM457.72 119.43h1.9v1.4h-1.9zM460.73 117.88h1.9v1.4h-1.9zM460.73 119.43h1.9v1.4h-1.9zM514.88 117.88h1.9v1.4h-1.9zM514.88 119.43h1.9v1.4h-1.9zM517.88 117.88h1.9v1.4h-1.9zM517.88 119.43h1.9v1.4h-1.9zM520.89 119.43h1.9v1.4h-1.9zM523.9 120.98h1.9v1.4h-1.9zM523.9 122.53h1.9v1.4h-1.9zM526.91 122.53h1.9v1.4h-1.9zM526.91 124.08h1.9v1.4h-1.9zM529.92 124.08h1.9v1.4h-1.9zM529.92 125.63h1.9v1.4h-1.9zM532.92 127.18h1.9v1.4h-1.9zM532.92 128.73h1.9v1.4h-1.9zM535.93 128.73h1.9v1.4h-1.9zM535.93 130.28h1.9v1.4h-1.9zM538.94 130.28h1.9v1.4h-1.9zM538.94 131.83h1.9v1.4h-1.9z"/>
<path fill="#9fd0e8" d="M442.68 130.94h1.9v1.5h-1.9zM445.68 128.78h1.9v1.5h-1.9zM445.68 130.32h1.9v1.5h-1.9zM463.73 119.9h1.9v1.5h-1.9zM466.74 119.9h1.9v1.5h-1.9zM469.75 119.9h1.9v1.5h-1.9zM475.77 119.9h1.9v1.5h-1.9zM478.78 119.9h1.9v1.5h-1.9zM481.78 119.9h1.9v1.5h-1.9zM484.79 119.9h1.9v1.5h-1.9zM490.81 119.9h1.9v1.5h-1.9zM496.83 119.9h1.9v1.5h-1.9zM502.84 119.9h1.9v1.5h-1.9zM511.87 119.9h1.9v1.5h-1.9zM529.92 130.32h1.9v1.5h-1.9zM529.92 131.87h1.9v1.5h-1.9zM532.92 130.94h1.9v1.5h-1.9zM532.92 132.49h1.9v1.5h-1.9z"/>
<path fill="#ffffff" d="M442.68 132.49h1.9v1.5h-1.9zM445.68 131.87h1.9v1.5h-1.9zM457.72 124.55h1.9v1.5h-1.9zM463.73 124.55h1.9v1.5h-1.9zM463.73 130.75h1.9v1.5h-1.9zM469.75 130.75h1.9v1.5h-1.9zM484.79 124.55h1.9v1.5h-1.9zM484.79 130.75h1.9v1.5h-1.9zM490.81 130.75h1.9v1.5h-1.9zM496.83 124.55h1.9v1.5h-1.9zM499.83 124.55h1.9v1.5h-1.9zM502.84 130.75h1.9v1.5h-1.9zM511.87 124.55h1.9v1.5h-1.9zM514.88 124.55h1.9v1.5h-1.9zM514.88 130.75h1.9v1.5h-1.9z"/>
<path fill="#2a309c" d="M448.69 126.62h1.9v1.5h-1.9zM448.69 128.17h1.9v1.5h-1.9zM448.69 131.27h1.9v1.5h-1.9zM448.69 132.82h1.9v1.5h-1.9zM451.7 124.45h1.9v1.5h-1.9zM451.7 126h1.9v1.5h-1.9zM451.7 129.1h1.9v1.5h-1.9zM451.7 130.65h1.9v1.5h-1.9zM451.7 132.2h1.9v1.5h-1.9zM454.71 122.25h1.9v1.5h-1.9zM454.71 123.8h1.9v1.5h-1.9zM454.71 126.9h1.9v1.5h-1.9zM454.71 128.45h1.9v1.5h-1.9zM454.71 130h1.9v1.5h-1.9zM457.72 121.45h1.9v1.5h-1.9zM457.72 123h1.9v1.5h-1.9zM457.72 126.1h1.9v1.5h-1.9zM457.72 127.65h1.9v1.5h-1.9zM457.72 129.2h1.9v1.5h-1.9zM457.72 132.3h1.9v1.5h-1.9zM460.73 121.45h1.9v1.5h-1.9zM460.73 123h1.9v1.5h-1.9zM460.73 126.1h1.9v1.5h-1.9zM460.73 127.65h1.9v1.5h-1.9zM460.73 129.2h1.9v1.5h-1.9zM460.73 132.3h1.9v1.5h-1.9zM463.73 121.45h1.9v1.5h-1.9zM463.73 123h1.9v1.5h-1.9zM463.73 126.1h1.9v1.5h-1.9zM463.73 127.65h1.9v1.5h-1.9zM463.73 129.2h1.9v1.5h-1.9zM463.73 132.3h1.9v1.5h-1.9zM466.74 121.45h1.9v1.5h-1.9zM466.74 123h1.9v1.5h-1.9zM466.74 126.1h1.9v1.5h-1.9zM466.74 127.65h1.9v1.5h-1.9zM466.74 129.2h1.9v1.5h-1.9zM466.74 132.3h1.9v1.5h-1.9zM469.75 121.45h1.9v1.5h-1.9zM469.75 123h1.9v1.5h-1.9zM469.75 126.1h1.9v1.5h-1.9zM469.75 127.65h1.9v1.5h-1.9zM469.75 129.2h1.9v1.5h-1.9zM469.75 132.3h1.9v1.5h-1.9zM472.76 121.45h1.9v1.5h-1.9zM472.76 123h1.9v1.5h-1.9zM472.76 126.1h1.9v1.5h-1.9zM472.76 127.65h1.9v1.5h-1.9zM472.76 129.2h1.9v1.5h-1.9zM472.76 132.3h1.9v1.5h-1.9zM475.77 121.45h1.9v1.5h-1.9zM475.77 123h1.9v1.5h-1.9zM475.77 126.1h1.9v1.5h-1.9zM475.77 127.65h1.9v1.5h-1.9zM475.77 129.2h1.9v1.5h-1.9zM475.77 132.3h1.9v1.5h-1.9zM478.78 121.45h1.9v1.5h-1.9zM478.78 123h1.9v1.5h-1.9zM478.78 126.1h1.9v1.5h-1.9zM478.78 127.65h1.9v1.5h-1.9zM478.78 129.2h1.9v1.5h-1.9zM478.78 132.3h1.9v1.5h-1.9zM481.78 121.45h1.9v1.5h-1.9zM481.78 123h1.9v1.5h-1.9zM481.78 126.1h1.9v1.5h-1.9zM481.78 127.65h1.9v1.5h-1.9zM481.78 129.2h1.9v1.5h-1.9zM481.78 132.3h1.9v1.5h-1.9zM484.79 121.45h1.9v1.5h-1.9zM484.79 123h1.9v1.5h-1.9zM484.79 126.1h1.9v1.5h-1.9zM484.79 127.65h1.9v1.5h-1.9zM484.79 129.2h1.9v1.5h-1.9zM484.79 132.3h1.9v1.5h-1.9zM487.8 121.45h1.9v1.5h-1.9zM487.8 123h1.9v1.5h-1.9zM487.8 126.1h1.9v1.5h-1.9zM487.8 127.65h1.9v1.5h-1.9zM487.8 129.2h1.9v1.5h-1.9zM487.8 132.3h1.9v1.5h-1.9zM490.81 121.45h1.9v1.5h-1.9zM490.81 123h1.9v1.5h-1.9zM490.81 126.1h1.9v1.5h-1.9zM490.81 127.65h1.9v1.5h-1.9zM490.81 129.2h1.9v1.5h-1.9zM490.81 132.3h1.9v1.5h-1.9zM493.82 121.45h1.9v1.5h-1.9zM493.82 123h1.9v1.5h-1.9zM493.82 126.1h1.9v1.5h-1.9zM493.82 127.65h1.9v1.5h-1.9zM493.82 129.2h1.9v1.5h-1.9zM493.82 132.3h1.9v1.5h-1.9zM496.83 121.45h1.9v1.5h-1.9zM496.83 123h1.9v1.5h-1.9zM496.83 126.1h1.9v1.5h-1.9zM496.83 127.65h1.9v1.5h-1.9zM496.83 129.2h1.9v1.5h-1.9zM496.83 132.3h1.9v1.5h-1.9zM499.83 121.45h1.9v1.5h-1.9zM499.83 123h1.9v1.5h-1.9zM499.83 126.1h1.9v1.5h-1.9zM499.83 127.65h1.9v1.5h-1.9zM499.83 129.2h1.9v1.5h-1.9zM499.83 132.3h1.9v1.5h-1.9zM502.84 121.45h1.9v1.5h-1.9zM502.84 123h1.9v1.5h-1.9zM502.84 126.1h1.9v1.5h-1.9zM502.84 127.65h1.9v1.5h-1.9zM502.84 129.2h1.9v1.5h-1.9zM502.84 132.3h1.9v1.5h-1.9zM505.85 121.45h1.9v1.5h-1.9zM505.85 123h1.9v1.5h-1.9zM505.85 126.1h1.9v1.5h-1.9zM505.85 127.65h1.9v1.5h-1.9zM505.85 129.2h1.9v1.5h-1.9zM505.85 132.3h1.9v1.5h-1.9zM508.86 121.45h1.9v1.5h-1.9zM508.86 123h1.9v1.5h-1.9zM508.86 126.1h1.9v1.5h-1.9zM508.86 127.65h1.9v1.5h-1.9zM508.86 129.2h1.9v1.5h-1.9zM508.86 132.3h1.9v1.5h-1.9zM511.87 121.45h1.9v1.5h-1.9zM511.87 123h1.9v1.5h-1.9zM511.87 126.1h1.9v1.5h-1.9zM511.87 127.65h1.9v1.5h-1.9zM511.87 129.2h1.9v1.5h-1.9zM511.87 132.3h1.9v1.5h-1.9zM514.88 121.45h1.9v1.5h-1.9zM514.88 123h1.9v1.5h-1.9zM514.88 126.1h1.9v1.5h-1.9zM514.88 127.65h1.9v1.5h-1.9zM514.88 129.2h1.9v1.5h-1.9zM514.88 132.3h1.9v1.5h-1.9zM517.88 121.45h1.9v1.5h-1.9zM517.88 123h1.9v1.5h-1.9zM517.88 126.1h1.9v1.5h-1.9zM517.88 127.65h1.9v1.5h-1.9zM517.88 129.2h1.9v1.5h-1.9zM517.88 132.3h1.9v1.5h-1.9zM520.89 122.25h1.9v1.5h-1.9zM520.89 123.8h1.9v1.5h-1.9zM520.89 126.9h1.9v1.5h-1.9zM520.89 128.45h1.9v1.5h-1.9zM520.89 130h1.9v1.5h-1.9zM523.9 124.45h1.9v1.5h-1.9zM523.9 126h1.9v1.5h-1.9zM523.9 129.1h1.9v1.5h-1.9zM523.9 130.65h1.9v1.5h-1.9zM523.9 132.2h1.9v1.5h-1.9zM526.91 126.62h1.9v1.5h-1.9zM526.91 128.17h1.9v1.5h-1.9zM526.91 131.27h1.9v1.5h-1.9zM526.91 132.82h1.9v1.5h-1.9zM529.92 128.78h1.9v1.5h-1.9z"/>
<path fill="#7fb0dc" d="M448.69 129.72h1.9v1.5h-1.9zM454.71 131.55h1.9v1.5h-1.9zM457.72 130.75h1.9v1.5h-1.9zM460.73 124.55h1.9v1.5h-1.9zM466.74 130.75h1.9v1.5h-1.9zM469.75 124.55h1.9v1.5h-1.9zM472.76 124.55h1.9v1.5h-1.9zM472.76 130.75h1.9v1.5h-1.9zM475.77 124.55h1.9v1.5h-1.9zM481.78 130.75h1.9v1.5h-1.9zM487.8 124.55h1.9v1.5h-1.9zM490.81 124.55h1.9v1.5h-1.9zM493.82 130.75h1.9v1.5h-1.9zM496.83 130.75h1.9v1.5h-1.9zM499.83 130.75h1.9v1.5h-1.9zM502.84 124.55h1.9v1.5h-1.9zM505.85 130.75h1.9v1.5h-1.9zM520.89 125.35h1.9v1.5h-1.9z"/>
<path fill="#cfe6f2" d="M451.7 127.55h1.9v1.5h-1.9zM454.71 125.35h1.9v1.5h-1.9zM460.73 130.75h1.9v1.5h-1.9zM466.74 124.55h1.9v1.5h-1.9zM475.77 130.75h1.9v1.5h-1.9zM478.78 124.55h1.9v1.5h-1.9zM478.78 130.75h1.9v1.5h-1.9zM481.78 124.55h1.9v1.5h-1.9zM487.8 130.75h1.9v1.5h-1.9zM493.82 124.55h1.9v1.5h-1.9zM505.85 124.55h1.9v1.5h-1.9zM508.86 124.55h1.9v1.5h-1.9zM508.86 130.75h1.9v1.5h-1.9zM511.87 130.75h1.9v1.5h-1.9zM517.88 124.55h1.9v1.5h-1.9zM517.88 130.75h1.9v1.5h-1.9zM520.89 131.55h1.9v1.5h-1.9zM523.9 127.55h1.9v1.5h-1.9zM526.91 129.72h1.9v1.5h-1.9z"/>
<path fill="#fdbd6e" d="M463.73 116.34h1.9v1.4h-1.9zM466.74 116.34h1.9v1.4h-1.9zM469.75 116.34h1.9v1.4h-1.9zM472.76 116.34h1.9v1.4h-1.9zM475.77 116.34h1.9v1.4h-1.9zM478.78 110.14h1.9v1.4h-1.9zM478.78 116.34h1.9v1.4h-1.9zM481.78 110.14h1.9v1.4h-1.9zM481.78 116.34h1.9v1.4h-1.9zM484.79 110.14h1.9v1.4h-1.9zM484.79 116.34h1.9v1.4h-1.9zM487.8 110.14h1.9v1.4h-1.9zM487.8 116.34h1.9v1.4h-1.9zM490.81 110.14h1.9v1.4h-1.9zM490.81 116.34h1.9v1.4h-1.9zM493.82 110.14h1.9v1.4h-1.9zM493.82 116.34h1.9v1.4h-1.9zM496.83 110.14h1.9v1.4h-1.9zM496.83 116.34h1.9v1.4h-1.9zM499.83 116.34h1.9v1.4h-1.9zM502.84 116.34h1.9v1.4h-1.9zM505.85 116.34h1.9v1.4h-1.9zM508.86 116.34h1.9v1.4h-1.9zM511.87 116.34h1.9v1.4h-1.9z"/>
<path fill="#ffffff" d="M463.73 117.88h1.9v1.4h-1.9zM466.74 117.88h1.9v1.4h-1.9zM469.75 117.88h1.9v1.4h-1.9zM472.76 111.69h1.9v1.4h-1.9zM472.76 117.88h1.9v1.4h-1.9zM475.77 111.69h1.9v1.4h-1.9zM475.77 117.88h1.9v1.4h-1.9zM478.78 111.69h1.9v1.4h-1.9zM478.78 117.88h1.9v1.4h-1.9zM481.78 111.69h1.9v1.4h-1.9zM481.78 117.88h1.9v1.4h-1.9zM484.79 111.69h1.9v1.4h-1.9zM484.79 117.88h1.9v1.4h-1.9zM487.8 111.69h1.9v1.4h-1.9zM487.8 117.88h1.9v1.4h-1.9zM490.81 111.69h1.9v1.4h-1.9zM490.81 117.88h1.9v1.4h-1.9zM493.82 111.69h1.9v1.4h-1.9zM493.82 117.88h1.9v1.4h-1.9zM496.83 111.69h1.9v1.4h-1.9zM496.83 117.88h1.9v1.4h-1.9zM499.83 111.69h1.9v1.4h-1.9zM499.83 117.88h1.9v1.4h-1.9zM502.84 111.69h1.9v1.4h-1.9zM502.84 117.88h1.9v1.4h-1.9zM505.85 117.88h1.9v1.4h-1.9zM508.86 117.88h1.9v1.4h-1.9zM511.87 117.88h1.9v1.4h-1.9z"/>
<path fill="#fedc88" d="M463.73 119.43h1.9v1.4h-1.9zM466.74 119.43h1.9v1.4h-1.9zM469.75 113.24h1.9v1.4h-1.9zM469.75 119.43h1.9v1.4h-1.9zM472.76 113.24h1.9v1.4h-1.9zM472.76 119.43h1.9v1.4h-1.9zM475.77 113.24h1.9v1.4h-1.9zM475.77 119.43h1.9v1.4h-1.9zM478.78 113.24h1.9v1.4h-1.9zM478.78 119.43h1.9v1.4h-1.9zM481.78 113.24h1.9v1.4h-1.9zM481.78 119.43h1.9v1.4h-1.9zM484.79 113.24h1.9v1.4h-1.9zM484.79 119.43h1.9v1.4h-1.9zM487.8 113.24h1.9v1.4h-1.9zM487.8 119.43h1.9v1.4h-1.9zM490.81 113.24h1.9v1.4h-1.9zM490.81 119.43h1.9v1.4h-1.9zM493.82 113.24h1.9v1.4h-1.9zM493.82 119.43h1.9v1.4h-1.9zM496.83 113.24h1.9v1.4h-1.9zM496.83 119.43h1.9v1.4h-1.9zM499.83 113.24h1.9v1.4h-1.9zM499.83 119.43h1.9v1.4h-1.9zM502.84 113.24h1.9v1.4h-1.9zM502.84 119.43h1.9v1.4h-1.9zM505.85 113.24h1.9v1.4h-1.9zM505.85 119.43h1.9v1.4h-1.9zM508.86 119.43h1.9v1.4h-1.9zM511.87 119.43h1.9v1.4h-1.9z"/>
<path fill="#fee8a8" d="M466.74 107.04h1.9v1.4h-1.9zM469.75 107.04h1.9v1.4h-1.9zM472.76 107.04h1.9v1.4h-1.9zM475.77 107.04h1.9v1.4h-1.9zM478.78 107.04h1.9v1.4h-1.9zM496.83 107.04h1.9v1.4h-1.9zM499.83 107.04h1.9v1.4h-1.9zM502.84 107.04h1.9v1.4h-1.9zM505.85 107.04h1.9v1.4h-1.9zM508.86 107.04h1.9v1.4h-1.9z"/>
<path fill="#fdd08a" d="M466.74 110.14h1.9v1.4h-1.9zM469.75 110.14h1.9v1.4h-1.9zM505.85 110.14h1.9v1.4h-1.9zM508.86 110.14h1.9v1.4h-1.9z"/>
<path fill="#5a82c8" d="M472.76 119.9h1.9v1.5h-1.9zM487.8 119.9h1.9v1.5h-1.9zM493.82 119.9h1.9v1.5h-1.9zM499.83 119.9h1.9v1.5h-1.9zM505.85 119.9h1.9v1.5h-1.9zM508.86 119.9h1.9v1.5h-1.9z"/>
<rect x="398.5" y="16.4" width="180.5" height="117.4" fill="none" stroke="#9a9a9a" stroke-width="0.9"/>
<line x1="398.5" y1="39.88" x2="400" y2="39.88" stroke="#777" stroke-width="0.8"/>
<line x1="579" y1="39.88" x2="577.5" y2="39.88" stroke="#777" stroke-width="0.8"/>
<line x1="398.5" y1="63.36" x2="400" y2="63.36" stroke="#777" stroke-width="0.8"/>
<line x1="579" y1="63.36" x2="577.5" y2="63.36" stroke="#777" stroke-width="0.8"/>
<line x1="398.5" y1="86.84" x2="400" y2="86.84" stroke="#777" stroke-width="0.8"/>
<line x1="579" y1="86.84" x2="577.5" y2="86.84" stroke="#777" stroke-width="0.8"/>
<line x1="398.5" y1="110.32" x2="400" y2="110.32" stroke="#777" stroke-width="0.8"/>
<line x1="579" y1="110.32" x2="577.5" y2="110.32" stroke="#777" stroke-width="0.8"/>
<rect x="584" y="49.6" width="6.6" height="58.2" fill="url(#cbC)"/>
<text x="583.2" y="44.2" font-size="10" text-anchor="start" font-weight="normal" font-style="italic" font-family='"Liberation Serif", serif' fill="#111" >P</text>
<text x="589.2" y="46.2" font-size="6.5" text-anchor="start" font-weight="normal" font-style="italic" font-family='"Liberation Serif", serif' fill="#111" >z</text>
<text x="592.6" y="53.2" font-size="10.2" text-anchor="start" font-weight="normal" font-style="normal" font-family='"Liberation Sans", sans-serif' fill="#111" >1</text>
<text x="591.8" y="111.6" font-size="10.2" text-anchor="start" font-weight="normal" font-style="normal" font-family='"Liberation Sans", sans-serif' fill="#111" >0</text>
<text x="395" y="20.5" font-size="10.2" text-anchor="end" font-weight="normal" font-style="normal" font-family='"Liberation Sans", sans-serif' fill="#111" >8.5</text>
<text x="395" y="43.98" font-size="10.2" text-anchor="end" font-weight="normal" font-style="normal" font-family='"Liberation Sans", sans-serif' fill="#111" >8</text>
<text x="395" y="67.46" font-size="10.2" text-anchor="end" font-weight="normal" font-style="normal" font-family='"Liberation Sans", sans-serif' fill="#111" >7.5</text>
<text x="395" y="90.94" font-size="10.2" text-anchor="end" font-weight="normal" font-style="normal" font-family='"Liberation Sans", sans-serif' fill="#111" >7</text>
<text x="395" y="114.42" font-size="10.2" text-anchor="end" font-weight="normal" font-style="normal" font-family='"Liberation Sans", sans-serif' fill="#111" >6.5</text>
<text x="395" y="137.9" font-size="10.2" text-anchor="end" font-weight="normal" font-style="normal" font-family='"Liberation Sans", sans-serif' fill="#111" >6</text>
<text x="399" y="148" font-size="10.2" text-anchor="middle" font-weight="normal" font-style="normal" font-family='"Liberation Sans", sans-serif' fill="#111" >-&#960;/a</text>
<text x="489" y="148" font-size="10.2" text-anchor="middle" font-weight="normal" font-style="normal" font-family='"Liberation Sans", sans-serif' fill="#111" >0</text>
<text x="578" y="148" font-size="10.2" text-anchor="middle" font-weight="normal" font-style="normal" font-family='"Liberation Sans", sans-serif' fill="#111" >&#960;/a</text>
<text x="483.6" y="162.4" font-size="11" text-anchor="start" font-weight="normal" font-style="normal" font-family='"Liberation Sans", sans-serif' fill="#111" >k</text>
<text x="489" y="168" font-size="7" text-anchor="start" font-weight="normal" font-style="italic" font-family='"Liberation Sans", sans-serif' fill="#111" >//</text>
<text x="368" y="10.9" font-size="13.6" text-anchor="start" font-weight="bold" font-style="normal" font-family='"Liberation Sans", sans-serif' fill="#000" >C</text>
<clipPath id="clipD"><polygon points="202,178 261.5,178 203,279 143.5,279"/></clipPath>
<g clip-path="url(#clipD)">
<g filter="url(#blur1)">
<path fill="#d0d0f8" d="M200 176.5h3.2v3.2h-3.2zM209 182.5h3.2v3.2h-3.2zM236 182.5h3.2v3.2h-3.2zM224 200.5h3.2v3.2h-3.2zM182 206.5h3.2v3.2h-3.2zM212 260.5h3.2v3.2h-3.2zM206 269.5h3.2v3.2h-3.2z"/>
<path fill="#c4c4f4" d="M203 176.5h3.2v3.2h-3.2zM206 176.5h3.2v3.2h-3.2zM185 209.5h3.2v3.2h-3.2zM185 224.5h3.2v3.2h-3.2zM218 230.5h3.2v3.2h-3.2zM194 245.5h3.2v3.2h-3.2zM188 272.5h3.2v3.2h-3.2zM191 275.5h3.2v3.2h-3.2z"/>
<path fill="#d4d4f8" d="M209 176.5h3.2v3.2h-3.2zM239 179.5h3.2v3.2h-3.2zM248 179.5h3.2v3.2h-3.2zM200 185.5h3.2v3.2h-3.2zM251 188.5h3.2v3.2h-3.2zM218 233.5h3.2v3.2h-3.2zM227 233.5h3.2v3.2h-3.2zM158 260.5h3.2v3.2h-3.2z"/>
<path fill="#f0f0f8" d="M212 176.5h3.2v3.2h-3.2zM257 176.5h3.2v3.2h-3.2zM212 179.5h3.2v3.2h-3.2zM257 179.5h3.2v3.2h-3.2zM233 182.5h3.2v3.2h-3.2zM257 182.5h3.2v3.2h-3.2zM230 188.5h3.2v3.2h-3.2zM188 212.5h3.2v3.2h-3.2zM215 224.5h3.2v3.2h-3.2zM197 239.5h3.2v3.2h-3.2zM224 239.5h3.2v3.2h-3.2zM221 242.5h3.2v3.2h-3.2zM158 266.5h3.2v3.2h-3.2zM185 269.5h3.2v3.2h-3.2z"/>
<path fill="#f8e8e8" d="M215 176.5h3.2v3.2h-3.2zM230 185.5h3.2v3.2h-3.2zM197 188.5h3.2v3.2h-3.2zM227 191.5h3.2v3.2h-3.2zM188 209.5h3.2v3.2h-3.2zM212 230.5h3.2v3.2h-3.2zM179 233.5h3.2v3.2h-3.2zM209 233.5h3.2v3.2h-3.2zM200 236.5h3.2v3.2h-3.2zM161 272.5h3.2v3.2h-3.2z"/>
<path fill="#f8d8d8" d="M218 176.5h3.2v3.2h-3.2zM227 176.5h3.2v3.2h-3.2zM215 179.5h3.2v3.2h-3.2zM224 194.5h3.2v3.2h-3.2zM215 215.5h3.2v3.2h-3.2zM206 233.5h3.2v3.2h-3.2zM161 269.5h3.2v3.2h-3.2z"/>
<path fill="#f8d0d0" d="M221 176.5h3.2v3.2h-3.2zM185 200.5h3.2v3.2h-3.2zM212 227.5h3.2v3.2h-3.2zM176 236.5h3.2v3.2h-3.2zM161 257.5h3.2v3.2h-3.2z"/>
<path fill="#f8d4d4" d="M224 176.5h3.2v3.2h-3.2zM212 185.5h3.2v3.2h-3.2zM191 239.5h3.2v3.2h-3.2zM167 275.5h3.2v3.2h-3.2z"/>
<path fill="#f8e4e4" d="M230 176.5h3.2v3.2h-3.2zM194 188.5h3.2v3.2h-3.2zM221 200.5h3.2v3.2h-3.2zM215 218.5h3.2v3.2h-3.2zM197 236.5h3.2v3.2h-3.2zM191 242.5h3.2v3.2h-3.2zM185 257.5h3.2v3.2h-3.2zM167 278.5h3.2v3.2h-3.2z"/>
<path fill="#f8f0f0" d="M233 176.5h3.2v3.2h-3.2zM212 182.5h3.2v3.2h-3.2zM203 236.5h3.2v3.2h-3.2zM161 275.5h3.2v3.2h-3.2z"/>
<path fill="#f4f4f8" d="M236 176.5h3.2v3.2h-3.2zM260 176.5h3.2v3.2h-3.2zM260 179.5h3.2v3.2h-3.2zM257 185.5h3.2v3.2h-3.2zM203 188.5h3.2v3.2h-3.2zM224 197.5h3.2v3.2h-3.2zM182 203.5h3.2v3.2h-3.2zM221 203.5h3.2v3.2h-3.2zM188 221.5h3.2v3.2h-3.2zM212 233.5h3.2v3.2h-3.2zM209 236.5h3.2v3.2h-3.2zM224 242.5h3.2v3.2h-3.2zM191 245.5h3.2v3.2h-3.2zM221 245.5h3.2v3.2h-3.2zM221 248.5h3.2v3.2h-3.2zM158 278.5h3.2v3.2h-3.2z"/>
<path fill="#e8e8f8" d="M239 176.5h3.2v3.2h-3.2zM254 179.5h3.2v3.2h-3.2zM254 182.5h3.2v3.2h-3.2zM197 185.5h3.2v3.2h-3.2zM254 185.5h3.2v3.2h-3.2zM254 188.5h3.2v3.2h-3.2zM188 218.5h3.2v3.2h-3.2zM215 227.5h3.2v3.2h-3.2zM227 236.5h3.2v3.2h-3.2zM218 239.5h3.2v3.2h-3.2zM194 242.5h3.2v3.2h-3.2zM158 263.5h3.2v3.2h-3.2zM158 275.5h3.2v3.2h-3.2zM188 278.5h3.2v3.2h-3.2z"/>
<path fill="#e0e0f8" d="M242 176.5h3.2v3.2h-3.2zM248 176.5h3.2v3.2h-3.2zM251 179.5h3.2v3.2h-3.2zM218 236.5h3.2v3.2h-3.2zM221 236.5h3.2v3.2h-3.2zM209 239.5h3.2v3.2h-3.2zM212 239.5h3.2v3.2h-3.2zM215 242.5h3.2v3.2h-3.2zM161 251.5h3.2v3.2h-3.2zM212 263.5h3.2v3.2h-3.2zM200 278.5h3.2v3.2h-3.2z"/>
<path fill="#dcdcf8" d="M245 176.5h3.2v3.2h-3.2zM251 182.5h3.2v3.2h-3.2zM227 194.5h3.2v3.2h-3.2zM203 239.5h3.2v3.2h-3.2zM206 239.5h3.2v3.2h-3.2zM215 245.5h3.2v3.2h-3.2zM215 257.5h3.2v3.2h-3.2zM206 272.5h3.2v3.2h-3.2zM203 275.5h3.2v3.2h-3.2zM191 278.5h3.2v3.2h-3.2zM197 278.5h3.2v3.2h-3.2z"/>
<path fill="#e4e4f8" d="M251 176.5h3.2v3.2h-3.2zM236 179.5h3.2v3.2h-3.2zM188 215.5h3.2v3.2h-3.2zM215 230.5h3.2v3.2h-3.2zM215 233.5h3.2v3.2h-3.2zM215 236.5h3.2v3.2h-3.2zM224 236.5h3.2v3.2h-3.2zM170 239.5h3.2v3.2h-3.2zM200 239.5h3.2v3.2h-3.2zM215 239.5h3.2v3.2h-3.2zM167 242.5h3.2v3.2h-3.2zM188 254.5h3.2v3.2h-3.2zM209 269.5h3.2v3.2h-3.2zM158 272.5h3.2v3.2h-3.2zM155 278.5h3.2v3.2h-3.2z"/>
<path fill="#ececf8" d="M254 176.5h3.2v3.2h-3.2zM209 185.5h3.2v3.2h-3.2zM254 191.5h3.2v3.2h-3.2zM185 206.5h3.2v3.2h-3.2zM185 227.5h3.2v3.2h-3.2zM182 230.5h3.2v3.2h-3.2zM212 236.5h3.2v3.2h-3.2zM221 239.5h3.2v3.2h-3.2zM218 242.5h3.2v3.2h-3.2zM218 245.5h3.2v3.2h-3.2zM218 248.5h3.2v3.2h-3.2zM218 251.5h3.2v3.2h-3.2zM185 263.5h3.2v3.2h-3.2zM185 266.5h3.2v3.2h-3.2zM158 269.5h3.2v3.2h-3.2zM203 278.5h3.2v3.2h-3.2z"/>
<path fill="#f8f8f8" d="M263 176.5h3.2v3.2h-3.2zM233 179.5h3.2v3.2h-3.2zM194 185.5h3.2v3.2h-3.2zM206 188.5h3.2v3.2h-3.2zM218 209.5h3.2v3.2h-3.2zM185 260.5h3.2v3.2h-3.2zM185 272.5h3.2v3.2h-3.2zM185 275.5h3.2v3.2h-3.2zM185 278.5h3.2v3.2h-3.2z"/>
<path fill="#d8d8f8" d="M197 179.5h3.2v3.2h-3.2zM197 182.5h3.2v3.2h-3.2zM233 185.5h3.2v3.2h-3.2zM251 185.5h3.2v3.2h-3.2zM251 191.5h3.2v3.2h-3.2zM251 194.5h3.2v3.2h-3.2zM221 206.5h3.2v3.2h-3.2zM218 212.5h3.2v3.2h-3.2zM173 236.5h3.2v3.2h-3.2zM212 242.5h3.2v3.2h-3.2zM164 245.5h3.2v3.2h-3.2zM191 248.5h3.2v3.2h-3.2zM215 248.5h3.2v3.2h-3.2zM215 251.5h3.2v3.2h-3.2zM215 254.5h3.2v3.2h-3.2zM209 266.5h3.2v3.2h-3.2zM188 275.5h3.2v3.2h-3.2zM194 278.5h3.2v3.2h-3.2z"/>
<path fill="#c0c0f4" d="M200 179.5h3.2v3.2h-3.2zM200 182.5h3.2v3.2h-3.2zM212 257.5h3.2v3.2h-3.2z"/>
<path fill="#b0b0f4" d="M203 179.5h3.2v3.2h-3.2zM203 182.5h3.2v3.2h-3.2zM242 182.5h3.2v3.2h-3.2zM236 185.5h3.2v3.2h-3.2zM179 230.5h3.2v3.2h-3.2zM221 230.5h3.2v3.2h-3.2zM209 260.5h3.2v3.2h-3.2zM155 272.5h3.2v3.2h-3.2z"/>
<path fill="#b4b4f4" d="M206 179.5h3.2v3.2h-3.2zM206 182.5h3.2v3.2h-3.2zM245 182.5h3.2v3.2h-3.2zM248 188.5h3.2v3.2h-3.2zM248 191.5h3.2v3.2h-3.2zM248 194.5h3.2v3.2h-3.2zM224 203.5h3.2v3.2h-3.2zM221 209.5h3.2v3.2h-3.2zM218 227.5h3.2v3.2h-3.2zM203 242.5h3.2v3.2h-3.2zM212 251.5h3.2v3.2h-3.2zM212 254.5h3.2v3.2h-3.2z"/>
<path fill="#ccccf4" d="M209 179.5h3.2v3.2h-3.2zM242 179.5h3.2v3.2h-3.2zM245 179.5h3.2v3.2h-3.2zM197 242.5h3.2v3.2h-3.2zM200 275.5h3.2v3.2h-3.2z"/>
<path fill="#f4c0c0" d="M218 179.5h3.2v3.2h-3.2zM224 179.5h3.2v3.2h-3.2zM215 182.5h3.2v3.2h-3.2zM227 182.5h3.2v3.2h-3.2zM200 191.5h3.2v3.2h-3.2zM188 233.5h3.2v3.2h-3.2zM170 242.5h3.2v3.2h-3.2zM161 263.5h3.2v3.2h-3.2z"/>
<path fill="#f4b8b8" d="M221 179.5h3.2v3.2h-3.2zM218 200.5h3.2v3.2h-3.2zM215 209.5h3.2v3.2h-3.2zM191 215.5h3.2v3.2h-3.2zM191 218.5h3.2v3.2h-3.2zM191 221.5h3.2v3.2h-3.2zM191 224.5h3.2v3.2h-3.2zM194 230.5h3.2v3.2h-3.2zM185 233.5h3.2v3.2h-3.2zM182 263.5h3.2v3.2h-3.2zM182 266.5h3.2v3.2h-3.2zM164 269.5h3.2v3.2h-3.2zM167 272.5h3.2v3.2h-3.2z"/>
<path fill="#f8cccc" d="M227 179.5h3.2v3.2h-3.2zM188 230.5h3.2v3.2h-3.2zM203 233.5h3.2v3.2h-3.2zM188 245.5h3.2v3.2h-3.2zM185 254.5h3.2v3.2h-3.2zM164 272.5h3.2v3.2h-3.2z"/>
<path fill="#f8e0e0" d="M230 179.5h3.2v3.2h-3.2zM230 182.5h3.2v3.2h-3.2zM191 188.5h3.2v3.2h-3.2zM185 203.5h3.2v3.2h-3.2zM218 206.5h3.2v3.2h-3.2zM185 230.5h3.2v3.2h-3.2zM188 248.5h3.2v3.2h-3.2zM164 275.5h3.2v3.2h-3.2zM170 278.5h3.2v3.2h-3.2zM179 278.5h3.2v3.2h-3.2z"/>
<path fill="#f4a4a4" d="M218 182.5h3.2v3.2h-3.2zM215 185.5h3.2v3.2h-3.2zM191 194.5h3.2v3.2h-3.2zM218 197.5h3.2v3.2h-3.2zM188 200.5h3.2v3.2h-3.2zM215 203.5h3.2v3.2h-3.2zM194 227.5h3.2v3.2h-3.2zM200 230.5h3.2v3.2h-3.2zM203 230.5h3.2v3.2h-3.2zM182 257.5h3.2v3.2h-3.2zM170 272.5h3.2v3.2h-3.2z"/>
<path fill="#f09c9c" d="M221 182.5h3.2v3.2h-3.2zM224 188.5h3.2v3.2h-3.2zM212 191.5h3.2v3.2h-3.2zM191 209.5h3.2v3.2h-3.2zM185 236.5h3.2v3.2h-3.2zM167 269.5h3.2v3.2h-3.2z"/>
<path fill="#f4a8a8" d="M224 182.5h3.2v3.2h-3.2zM188 197.5h3.2v3.2h-3.2zM179 272.5h3.2v3.2h-3.2z"/>
<path fill="#b8b8f4" d="M239 182.5h3.2v3.2h-3.2zM233 188.5h3.2v3.2h-3.2zM248 197.5h3.2v3.2h-3.2zM218 215.5h3.2v3.2h-3.2zM200 242.5h3.2v3.2h-3.2zM206 242.5h3.2v3.2h-3.2zM194 275.5h3.2v3.2h-3.2z"/>
<path fill="#c8c8f4" d="M248 182.5h3.2v3.2h-3.2zM203 185.5h3.2v3.2h-3.2zM230 191.5h3.2v3.2h-3.2zM176 233.5h3.2v3.2h-3.2zM209 242.5h3.2v3.2h-3.2zM212 245.5h3.2v3.2h-3.2zM188 257.5h3.2v3.2h-3.2zM209 263.5h3.2v3.2h-3.2zM203 272.5h3.2v3.2h-3.2zM155 275.5h3.2v3.2h-3.2zM152 278.5h3.2v3.2h-3.2z"/>
<path fill="#ccccf8" d="M206 185.5h3.2v3.2h-3.2zM221 233.5h3.2v3.2h-3.2zM224 233.5h3.2v3.2h-3.2z"/>
<path fill="#f08888" d="M218 185.5h3.2v3.2h-3.2zM215 191.5h3.2v3.2h-3.2zM197 194.5h3.2v3.2h-3.2zM215 194.5h3.2v3.2h-3.2zM212 197.5h3.2v3.2h-3.2zM212 218.5h3.2v3.2h-3.2zM182 251.5h3.2v3.2h-3.2zM164 254.5h3.2v3.2h-3.2z"/>
<path fill="#f08484" d="M221 185.5h3.2v3.2h-3.2zM212 200.5h3.2v3.2h-3.2zM173 242.5h3.2v3.2h-3.2zM167 248.5h3.2v3.2h-3.2z"/>
<path fill="#f09898" d="M224 185.5h3.2v3.2h-3.2zM206 194.5h3.2v3.2h-3.2zM215 200.5h3.2v3.2h-3.2zM212 221.5h3.2v3.2h-3.2zM173 272.5h3.2v3.2h-3.2zM176 272.5h3.2v3.2h-3.2z"/>
<path fill="#f4bcbc" d="M227 185.5h3.2v3.2h-3.2zM194 191.5h3.2v3.2h-3.2zM197 191.5h3.2v3.2h-3.2zM188 194.5h3.2v3.2h-3.2zM191 227.5h3.2v3.2h-3.2zM188 242.5h3.2v3.2h-3.2zM185 251.5h3.2v3.2h-3.2zM182 269.5h3.2v3.2h-3.2zM173 275.5h3.2v3.2h-3.2zM176 275.5h3.2v3.2h-3.2z"/>
<path fill="#9494f0" d="M239 185.5h3.2v3.2h-3.2zM230 194.5h3.2v3.2h-3.2zM224 206.5h3.2v3.2h-3.2zM239 212.5h3.2v3.2h-3.2zM170 236.5h3.2v3.2h-3.2zM155 251.5h3.2v3.2h-3.2zM209 257.5h3.2v3.2h-3.2zM197 272.5h3.2v3.2h-3.2zM152 275.5h3.2v3.2h-3.2z"/>
<path fill="#8c8cf0" d="M242 185.5h3.2v3.2h-3.2zM245 188.5h3.2v3.2h-3.2zM185 215.5h3.2v3.2h-3.2zM236 218.5h3.2v3.2h-3.2zM230 227.5h3.2v3.2h-3.2zM164 239.5h3.2v3.2h-3.2zM194 272.5h3.2v3.2h-3.2z"/>
<path fill="#a0a0f0" d="M245 185.5h3.2v3.2h-3.2zM182 209.5h3.2v3.2h-3.2zM185 212.5h3.2v3.2h-3.2zM161 242.5h3.2v3.2h-3.2zM194 248.5h3.2v3.2h-3.2z"/>
<path fill="#bcbcf4" d="M248 185.5h3.2v3.2h-3.2zM248 200.5h3.2v3.2h-3.2zM242 212.5h3.2v3.2h-3.2zM230 230.5h3.2v3.2h-3.2zM161 248.5h3.2v3.2h-3.2zM212 248.5h3.2v3.2h-3.2zM191 251.5h3.2v3.2h-3.2zM158 257.5h3.2v3.2h-3.2zM206 266.5h3.2v3.2h-3.2zM197 275.5h3.2v3.2h-3.2z"/>
<path fill="#f8f4f4" d="M200 188.5h3.2v3.2h-3.2zM215 221.5h3.2v3.2h-3.2zM206 236.5h3.2v3.2h-3.2zM188 251.5h3.2v3.2h-3.2zM161 278.5h3.2v3.2h-3.2z"/>
<path fill="#f8dcdc" d="M209 188.5h3.2v3.2h-3.2zM188 227.5h3.2v3.2h-3.2zM194 236.5h3.2v3.2h-3.2zM164 248.5h3.2v3.2h-3.2zM182 275.5h3.2v3.2h-3.2zM173 278.5h3.2v3.2h-3.2zM176 278.5h3.2v3.2h-3.2z"/>
<path fill="#f4b4b4" d="M212 188.5h3.2v3.2h-3.2zM209 191.5h3.2v3.2h-3.2zM212 224.5h3.2v3.2h-3.2zM188 236.5h3.2v3.2h-3.2zM188 239.5h3.2v3.2h-3.2z"/>
<path fill="#f09090" d="M215 188.5h3.2v3.2h-3.2zM221 191.5h3.2v3.2h-3.2zM194 194.5h3.2v3.2h-3.2zM218 194.5h3.2v3.2h-3.2zM215 197.5h3.2v3.2h-3.2zM194 224.5h3.2v3.2h-3.2zM182 236.5h3.2v3.2h-3.2zM185 239.5h3.2v3.2h-3.2z"/>
<path fill="#f07c7c" d="M218 188.5h3.2v3.2h-3.2zM212 212.5h3.2v3.2h-3.2zM164 257.5h3.2v3.2h-3.2zM179 263.5h3.2v3.2h-3.2z"/>
<path fill="#f08080" d="M221 188.5h3.2v3.2h-3.2zM218 191.5h3.2v3.2h-3.2zM191 197.5h3.2v3.2h-3.2zM209 197.5h3.2v3.2h-3.2zM212 203.5h3.2v3.2h-3.2zM191 206.5h3.2v3.2h-3.2zM212 206.5h3.2v3.2h-3.2zM212 209.5h3.2v3.2h-3.2zM212 215.5h3.2v3.2h-3.2zM194 221.5h3.2v3.2h-3.2zM206 227.5h3.2v3.2h-3.2zM182 248.5h3.2v3.2h-3.2zM164 260.5h3.2v3.2h-3.2zM167 266.5h3.2v3.2h-3.2zM179 266.5h3.2v3.2h-3.2zM170 269.5h3.2v3.2h-3.2z"/>
<path fill="#f4c8c8" d="M227 188.5h3.2v3.2h-3.2zM191 191.5h3.2v3.2h-3.2zM203 191.5h3.2v3.2h-3.2zM221 197.5h3.2v3.2h-3.2zM188 206.5h3.2v3.2h-3.2zM215 212.5h3.2v3.2h-3.2zM209 230.5h3.2v3.2h-3.2zM191 233.5h3.2v3.2h-3.2zM194 233.5h3.2v3.2h-3.2zM197 233.5h3.2v3.2h-3.2zM200 233.5h3.2v3.2h-3.2zM161 266.5h3.2v3.2h-3.2zM170 275.5h3.2v3.2h-3.2zM179 275.5h3.2v3.2h-3.2z"/>
<path fill="#8888f0" d="M236 188.5h3.2v3.2h-3.2zM233 191.5h3.2v3.2h-3.2zM221 212.5h3.2v3.2h-3.2zM221 227.5h3.2v3.2h-3.2z"/>
<path fill="#6c6cec" d="M239 188.5h3.2v3.2h-3.2zM197 248.5h3.2v3.2h-3.2z"/>
<path fill="#7070ec" d="M242 188.5h3.2v3.2h-3.2zM242 206.5h3.2v3.2h-3.2zM224 209.5h3.2v3.2h-3.2zM179 212.5h3.2v3.2h-3.2zM182 212.5h3.2v3.2h-3.2zM182 224.5h3.2v3.2h-3.2z"/>
<path fill="#f4c4c4" d="M206 191.5h3.2v3.2h-3.2zM191 230.5h3.2v3.2h-3.2zM182 233.5h3.2v3.2h-3.2zM173 239.5h3.2v3.2h-3.2zM167 245.5h3.2v3.2h-3.2zM161 260.5h3.2v3.2h-3.2z"/>
<path fill="#f4b0b0" d="M224 191.5h3.2v3.2h-3.2zM191 212.5h3.2v3.2h-3.2zM206 230.5h3.2v3.2h-3.2zM182 260.5h3.2v3.2h-3.2z"/>
<path fill="#5858ec" d="M236 191.5h3.2v3.2h-3.2zM242 191.5h3.2v3.2h-3.2zM170 224.5h3.2v3.2h-3.2zM230 224.5h3.2v3.2h-3.2zM170 233.5h3.2v3.2h-3.2zM191 266.5h3.2v3.2h-3.2z"/>
<path fill="#4848e8" d="M239 191.5h3.2v3.2h-3.2zM242 194.5h3.2v3.2h-3.2zM182 215.5h3.2v3.2h-3.2zM182 221.5h3.2v3.2h-3.2zM221 221.5h3.2v3.2h-3.2zM194 257.5h3.2v3.2h-3.2zM200 263.5h3.2v3.2h-3.2z"/>
<path fill="#8484f0" d="M245 191.5h3.2v3.2h-3.2zM227 200.5h3.2v3.2h-3.2zM245 200.5h3.2v3.2h-3.2zM233 224.5h3.2v3.2h-3.2zM164 236.5h3.2v3.2h-3.2zM209 254.5h3.2v3.2h-3.2zM191 257.5h3.2v3.2h-3.2zM155 260.5h3.2v3.2h-3.2zM206 260.5h3.2v3.2h-3.2zM200 269.5h3.2v3.2h-3.2zM146 278.5h3.2v3.2h-3.2z"/>
<path fill="#f08c8c" d="M200 194.5h3.2v3.2h-3.2zM212 194.5h3.2v3.2h-3.2zM197 227.5h3.2v3.2h-3.2zM176 239.5h3.2v3.2h-3.2zM164 263.5h3.2v3.2h-3.2zM179 269.5h3.2v3.2h-3.2z"/>
<path fill="#f09494" d="M203 194.5h3.2v3.2h-3.2zM209 194.5h3.2v3.2h-3.2zM185 242.5h3.2v3.2h-3.2zM182 254.5h3.2v3.2h-3.2z"/>
<path fill="#f4acac" d="M221 194.5h3.2v3.2h-3.2zM188 203.5h3.2v3.2h-3.2zM215 206.5h3.2v3.2h-3.2zM197 230.5h3.2v3.2h-3.2zM185 248.5h3.2v3.2h-3.2zM164 251.5h3.2v3.2h-3.2z"/>
<path fill="#5050ec" d="M233 194.5h3.2v3.2h-3.2zM227 206.5h3.2v3.2h-3.2z"/>
<path fill="#2424e8" d="M236 194.5h3.2v3.2h-3.2zM239 194.5h3.2v3.2h-3.2zM176 218.5h3.2v3.2h-3.2zM200 251.5h3.2v3.2h-3.2zM197 257.5h3.2v3.2h-3.2zM197 260.5h3.2v3.2h-3.2zM149 269.5h3.2v3.2h-3.2z"/>
<path fill="#8080f0" d="M245 194.5h3.2v3.2h-3.2zM245 197.5h3.2v3.2h-3.2zM173 233.5h3.2v3.2h-3.2zM200 245.5h3.2v3.2h-3.2zM209 251.5h3.2v3.2h-3.2zM155 254.5h3.2v3.2h-3.2zM149 260.5h3.2v3.2h-3.2z"/>
<path fill="#ec6060" d="M194 197.5h3.2v3.2h-3.2zM179 254.5h3.2v3.2h-3.2zM176 266.5h3.2v3.2h-3.2z"/>
<path fill="#ec5454" d="M197 197.5h3.2v3.2h-3.2zM173 245.5h3.2v3.2h-3.2zM167 260.5h3.2v3.2h-3.2zM170 263.5h3.2v3.2h-3.2z"/>
<path fill="#ec5c5c" d="M200 197.5h3.2v3.2h-3.2zM206 200.5h3.2v3.2h-3.2zM209 206.5h3.2v3.2h-3.2zM194 209.5h3.2v3.2h-3.2zM179 242.5h3.2v3.2h-3.2zM179 251.5h3.2v3.2h-3.2z"/>
<path fill="#ec6868" d="M203 197.5h3.2v3.2h-3.2zM197 224.5h3.2v3.2h-3.2zM167 263.5h3.2v3.2h-3.2zM170 266.5h3.2v3.2h-3.2z"/>
<path fill="#f07878" d="M206 197.5h3.2v3.2h-3.2zM194 218.5h3.2v3.2h-3.2zM200 227.5h3.2v3.2h-3.2zM170 245.5h3.2v3.2h-3.2zM179 260.5h3.2v3.2h-3.2z"/>
<path fill="#acacf4" d="M227 197.5h3.2v3.2h-3.2zM239 215.5h3.2v3.2h-3.2zM182 227.5h3.2v3.2h-3.2zM233 227.5h3.2v3.2h-3.2zM227 230.5h3.2v3.2h-3.2zM158 245.5h3.2v3.2h-3.2zM209 245.5h3.2v3.2h-3.2zM188 260.5h3.2v3.2h-3.2zM188 269.5h3.2v3.2h-3.2zM203 269.5h3.2v3.2h-3.2zM200 272.5h3.2v3.2h-3.2z"/>
<path fill="#5c5cec" d="M230 197.5h3.2v3.2h-3.2zM221 215.5h3.2v3.2h-3.2zM179 227.5h3.2v3.2h-3.2zM152 269.5h3.2v3.2h-3.2zM194 269.5h3.2v3.2h-3.2z"/>
<path fill="#1818e4" d="M233 197.5h3.2v3.2h-3.2zM230 206.5h3.2v3.2h-3.2zM227 212.5h3.2v3.2h-3.2zM224 215.5h3.2v3.2h-3.2zM200 254.5h3.2v3.2h-3.2z"/>
<path fill="#0808e4" d="M236 197.5h3.2v3.2h-3.2zM239 197.5h3.2v3.2h-3.2zM233 200.5h3.2v3.2h-3.2zM236 200.5h3.2v3.2h-3.2zM239 200.5h3.2v3.2h-3.2zM233 203.5h3.2v3.2h-3.2zM236 203.5h3.2v3.2h-3.2zM233 206.5h3.2v3.2h-3.2zM236 206.5h3.2v3.2h-3.2zM227 215.5h3.2v3.2h-3.2zM224 218.5h3.2v3.2h-3.2zM227 218.5h3.2v3.2h-3.2zM176 221.5h3.2v3.2h-3.2zM179 221.5h3.2v3.2h-3.2zM227 221.5h3.2v3.2h-3.2zM176 224.5h3.2v3.2h-3.2z"/>
<path fill="#3c3ce8" d="M242 197.5h3.2v3.2h-3.2zM242 200.5h3.2v3.2h-3.2zM224 224.5h3.2v3.2h-3.2zM170 227.5h3.2v3.2h-3.2z"/>
<path fill="#ec6c6c" d="M191 200.5h3.2v3.2h-3.2zM194 212.5h3.2v3.2h-3.2zM179 257.5h3.2v3.2h-3.2z"/>
<path fill="#e84444" d="M194 200.5h3.2v3.2h-3.2zM167 254.5h3.2v3.2h-3.2zM176 257.5h3.2v3.2h-3.2z"/>
<path fill="#e83434" d="M197 200.5h3.2v3.2h-3.2zM203 203.5h3.2v3.2h-3.2zM197 209.5h3.2v3.2h-3.2zM173 248.5h3.2v3.2h-3.2z"/>
<path fill="#e83838" d="M200 200.5h3.2v3.2h-3.2zM197 212.5h3.2v3.2h-3.2zM197 215.5h3.2v3.2h-3.2zM209 215.5h3.2v3.2h-3.2zM209 218.5h3.2v3.2h-3.2zM176 251.5h3.2v3.2h-3.2z"/>
<path fill="#ec4c4c" d="M203 200.5h3.2v3.2h-3.2zM206 203.5h3.2v3.2h-3.2zM197 221.5h3.2v3.2h-3.2zM209 221.5h3.2v3.2h-3.2zM176 245.5h3.2v3.2h-3.2zM173 263.5h3.2v3.2h-3.2z"/>
<path fill="#ec7070" d="M209 200.5h3.2v3.2h-3.2zM191 203.5h3.2v3.2h-3.2zM203 227.5h3.2v3.2h-3.2zM179 239.5h3.2v3.2h-3.2zM182 242.5h3.2v3.2h-3.2z"/>
<path fill="#3030e8" d="M230 200.5h3.2v3.2h-3.2zM233 212.5h3.2v3.2h-3.2zM197 254.5h3.2v3.2h-3.2zM200 260.5h3.2v3.2h-3.2zM146 269.5h3.2v3.2h-3.2z"/>
<path fill="#e83c3c" d="M194 203.5h3.2v3.2h-3.2zM206 206.5h3.2v3.2h-3.2zM197 218.5h3.2v3.2h-3.2zM203 224.5h3.2v3.2h-3.2zM176 248.5h3.2v3.2h-3.2zM176 254.5h3.2v3.2h-3.2zM173 260.5h3.2v3.2h-3.2z"/>
<path fill="#e82424" d="M197 203.5h3.2v3.2h-3.2zM200 203.5h3.2v3.2h-3.2zM173 251.5h3.2v3.2h-3.2zM170 254.5h3.2v3.2h-3.2zM173 254.5h3.2v3.2h-3.2z"/>
<path fill="#ec6464" d="M209 203.5h3.2v3.2h-3.2zM176 242.5h3.2v3.2h-3.2z"/>
<path fill="#f4cccc" d="M218 203.5h3.2v3.2h-3.2zM191 236.5h3.2v3.2h-3.2zM182 272.5h3.2v3.2h-3.2z"/>
<path fill="#6868ec" d="M227 203.5h3.2v3.2h-3.2zM239 209.5h3.2v3.2h-3.2zM167 230.5h3.2v3.2h-3.2zM176 230.5h3.2v3.2h-3.2z"/>
<path fill="#1c1ce4" d="M230 203.5h3.2v3.2h-3.2zM230 209.5h3.2v3.2h-3.2zM233 209.5h3.2v3.2h-3.2zM146 272.5h3.2v3.2h-3.2z"/>
<path fill="#0c0ce4" d="M239 203.5h3.2v3.2h-3.2zM230 215.5h3.2v3.2h-3.2zM230 218.5h3.2v3.2h-3.2z"/>
<path fill="#4c4cec" d="M242 203.5h3.2v3.2h-3.2zM233 218.5h3.2v3.2h-3.2zM200 248.5h3.2v3.2h-3.2zM206 251.5h3.2v3.2h-3.2zM206 254.5h3.2v3.2h-3.2zM143 272.5h3.2v3.2h-3.2z"/>
<path fill="#9090f0" d="M245 203.5h3.2v3.2h-3.2zM185 218.5h3.2v3.2h-3.2zM206 245.5h3.2v3.2h-3.2zM209 248.5h3.2v3.2h-3.2zM203 266.5h3.2v3.2h-3.2zM140 278.5h3.2v3.2h-3.2z"/>
<path fill="#e84848" d="M194 206.5h3.2v3.2h-3.2zM200 224.5h3.2v3.2h-3.2zM206 224.5h3.2v3.2h-3.2zM170 248.5h3.2v3.2h-3.2zM167 257.5h3.2v3.2h-3.2z"/>
<path fill="#e82828" d="M197 206.5h3.2v3.2h-3.2zM203 206.5h3.2v3.2h-3.2z"/>
<path fill="#e82020" d="M200 206.5h3.2v3.2h-3.2zM200 221.5h3.2v3.2h-3.2z"/>
<path fill="#3434e8" d="M239 206.5h3.2v3.2h-3.2zM173 221.5h3.2v3.2h-3.2zM203 257.5h3.2v3.2h-3.2zM194 260.5h3.2v3.2h-3.2z"/>
<path fill="#a8a8f4" d="M245 206.5h3.2v3.2h-3.2zM179 209.5h3.2v3.2h-3.2zM224 230.5h3.2v3.2h-3.2zM164 242.5h3.2v3.2h-3.2zM155 266.5h3.2v3.2h-3.2zM155 269.5h3.2v3.2h-3.2z"/>
<path fill="#e41c1c" d="M200 209.5h3.2v3.2h-3.2zM203 209.5h3.2v3.2h-3.2zM206 221.5h3.2v3.2h-3.2z"/>
<path fill="#e82c2c" d="M206 209.5h3.2v3.2h-3.2zM170 251.5h3.2v3.2h-3.2z"/>
<path fill="#ec5050" d="M209 209.5h3.2v3.2h-3.2zM176 260.5h3.2v3.2h-3.2z"/>
<path fill="#3838e8" d="M227 209.5h3.2v3.2h-3.2zM236 209.5h3.2v3.2h-3.2zM179 215.5h3.2v3.2h-3.2zM182 218.5h3.2v3.2h-3.2zM227 224.5h3.2v3.2h-3.2zM170 230.5h3.2v3.2h-3.2zM173 230.5h3.2v3.2h-3.2zM194 266.5h3.2v3.2h-3.2z"/>
<path fill="#9898f0" d="M242 209.5h3.2v3.2h-3.2zM155 263.5h3.2v3.2h-3.2zM188 263.5h3.2v3.2h-3.2z"/>
<path fill="#e41414" d="M200 212.5h3.2v3.2h-3.2z"/>
<path fill="#e40808" d="M203 212.5h3.2v3.2h-3.2zM203 215.5h3.2v3.2h-3.2zM206 215.5h3.2v3.2h-3.2zM203 218.5h3.2v3.2h-3.2zM206 218.5h3.2v3.2h-3.2z"/>
<path fill="#e41818" d="M206 212.5h3.2v3.2h-3.2z"/>
<path fill="#e84040" d="M209 212.5h3.2v3.2h-3.2zM170 260.5h3.2v3.2h-3.2z"/>
<path fill="#4040e8" d="M224 212.5h3.2v3.2h-3.2zM233 215.5h3.2v3.2h-3.2zM197 266.5h3.2v3.2h-3.2z"/>
<path fill="#1414e4" d="M230 212.5h3.2v3.2h-3.2z"/>
<path fill="#6060ec" d="M236 212.5h3.2v3.2h-3.2zM176 215.5h3.2v3.2h-3.2zM167 233.5h3.2v3.2h-3.2zM194 254.5h3.2v3.2h-3.2zM149 263.5h3.2v3.2h-3.2zM152 263.5h3.2v3.2h-3.2zM146 266.5h3.2v3.2h-3.2zM152 266.5h3.2v3.2h-3.2zM149 275.5h3.2v3.2h-3.2z"/>
<path fill="#ec7474" d="M194 215.5h3.2v3.2h-3.2zM209 224.5h3.2v3.2h-3.2zM173 269.5h3.2v3.2h-3.2zM176 269.5h3.2v3.2h-3.2z"/>
<path fill="#e40c0c" d="M200 215.5h3.2v3.2h-3.2zM200 218.5h3.2v3.2h-3.2z"/>
<path fill="#7c7cf0" d="M236 215.5h3.2v3.2h-3.2zM203 245.5h3.2v3.2h-3.2zM194 251.5h3.2v3.2h-3.2z"/>
<path fill="#1010e4" d="M179 218.5h3.2v3.2h-3.2zM224 221.5h3.2v3.2h-3.2zM173 224.5h3.2v3.2h-3.2zM173 227.5h3.2v3.2h-3.2z"/>
<path fill="#a4a4f4" d="M218 218.5h3.2v3.2h-3.2zM185 221.5h3.2v3.2h-3.2zM218 224.5h3.2v3.2h-3.2zM167 239.5h3.2v3.2h-3.2zM161 245.5h3.2v3.2h-3.2zM158 254.5h3.2v3.2h-3.2zM206 263.5h3.2v3.2h-3.2zM149 278.5h3.2v3.2h-3.2z"/>
<path fill="#4444e8" d="M221 218.5h3.2v3.2h-3.2zM197 251.5h3.2v3.2h-3.2zM149 266.5h3.2v3.2h-3.2zM146 275.5h3.2v3.2h-3.2z"/>
<path fill="#e41010" d="M203 221.5h3.2v3.2h-3.2z"/>
<path fill="#9c9cf0" d="M218 221.5h3.2v3.2h-3.2zM236 221.5h3.2v3.2h-3.2zM197 245.5h3.2v3.2h-3.2zM158 248.5h3.2v3.2h-3.2zM158 251.5h3.2v3.2h-3.2zM188 266.5h3.2v3.2h-3.2zM191 272.5h3.2v3.2h-3.2z"/>
<path fill="#2828e8" d="M230 221.5h3.2v3.2h-3.2zM203 251.5h3.2v3.2h-3.2zM149 272.5h3.2v3.2h-3.2z"/>
<path fill="#6464ec" d="M233 221.5h3.2v3.2h-3.2zM221 224.5h3.2v3.2h-3.2zM206 248.5h3.2v3.2h-3.2zM206 257.5h3.2v3.2h-3.2zM152 260.5h3.2v3.2h-3.2zM191 260.5h3.2v3.2h-3.2zM200 266.5h3.2v3.2h-3.2zM197 269.5h3.2v3.2h-3.2zM152 272.5h3.2v3.2h-3.2z"/>
<path fill="#2020e8" d="M179 224.5h3.2v3.2h-3.2zM203 254.5h3.2v3.2h-3.2zM200 257.5h3.2v3.2h-3.2z"/>
<path fill="#f8ecec" d="M188 224.5h3.2v3.2h-3.2zM194 239.5h3.2v3.2h-3.2zM161 254.5h3.2v3.2h-3.2zM164 278.5h3.2v3.2h-3.2zM182 278.5h3.2v3.2h-3.2z"/>
<path fill="#1c1ce8" d="M176 227.5h3.2v3.2h-3.2z"/>
<path fill="#f0a0a0" d="M209 227.5h3.2v3.2h-3.2zM179 236.5h3.2v3.2h-3.2zM185 245.5h3.2v3.2h-3.2zM164 266.5h3.2v3.2h-3.2z"/>
<path fill="#7474ec" d="M224 227.5h3.2v3.2h-3.2zM167 236.5h3.2v3.2h-3.2zM203 263.5h3.2v3.2h-3.2zM191 269.5h3.2v3.2h-3.2z"/>
<path fill="#7878f0" d="M227 227.5h3.2v3.2h-3.2zM152 257.5h3.2v3.2h-3.2zM155 257.5h3.2v3.2h-3.2zM143 278.5h3.2v3.2h-3.2z"/>
<path fill="#f07474" d="M182 239.5h3.2v3.2h-3.2zM182 245.5h3.2v3.2h-3.2z"/>
<path fill="#ec5858" d="M179 245.5h3.2v3.2h-3.2zM179 248.5h3.2v3.2h-3.2zM167 251.5h3.2v3.2h-3.2zM176 263.5h3.2v3.2h-3.2zM173 266.5h3.2v3.2h-3.2z"/>
<path fill="#4848ec" d="M203 248.5h3.2v3.2h-3.2z"/>
<path fill="#a0a0f4" d="M191 254.5h3.2v3.2h-3.2z"/>
<path fill="#e83030" d="M170 257.5h3.2v3.2h-3.2zM173 257.5h3.2v3.2h-3.2z"/>
<path fill="#5454ec" d="M203 260.5h3.2v3.2h-3.2zM191 263.5h3.2v3.2h-3.2zM143 275.5h3.2v3.2h-3.2z"/>
<path fill="#2c2ce8" d="M194 263.5h3.2v3.2h-3.2zM197 263.5h3.2v3.2h-3.2z"/>
</g>
<path d="M139.3 178.84l2.56 1.57M142.02 178.75l1.89 2.33M148.57 178.81l-2.66 1.39M149.47 177.7l2.05 2.19M154.75 177.96l0.77 2.9M156.19 179.59l2.95 0.56M161.55 178.18l2.95 0.53M163.69 178.38l2.89 0.82M168.35 178.76l2.91 0.72M171.49 178.86l2.75 1.19M178.78 178.02l-2.33 1.89M180.36 176.71l0.56 2.95M183.59 178.69l2.99 0.19M188.32 180.18l-1.44 -2.63M192.42 180.91l-0.06 -3M195.09 180.91l0.51 -2.96M217.88 177.45l-1.2 2.75M238.79 179.99l2.78 -1.12M241.79 180.39l2.78 -1.13M245.29 179.38l2.99 0.25M250.9 177.51l2.03 2.21M254.64 178.49l1.01 2.82M257.74 178.37l0.09 3M262.58 176.75l-0.23 2.99M140.92 181.99l-1.36 2.67M144.37 182.5l-2.26 1.97M148.46 181.76l-1.31 2.7M150.47 181.48l1.04 2.81M153.28 183.09l2.99 0.29M157.62 181.48l-0.19 2.99M160.05 182.83l2.83 1M167.17 183.11l-2.91 0.74M168.23 182.45l2.99 0.25M173.8 181.39l-2.98 0.36M177.86 181.91l-3 0.02M182.94 181.43l-2.77 1.16M185.29 181.93l-2.87 0.89M190.24 183.63l-2.67 -1.36M192.8 183.41l-0.14 -3M195.69 184.73l-0.13 -3M238.89 183.81l2.65 -1.41M242.76 183.18l2.97 -0.4M246.19 181.74l2.58 1.53M250.57 181.76l1.18 2.76M255.3 180.74l0.36 2.98M258.84 180.05l-0.54 2.95M262.72 181.32l-0.47 2.96M139.01 186.12l3 0.02M144.22 185.57l-1.86 2.35M146.86 184.05l-0.82 2.89M152.3 185.49l-1.81 2.39M154.7 184.37l1.03 2.82M157.87 185.21l2.89 0.8M162.91 185.55l-2.65 1.41M166.32 183.68l-0.61 2.94M170.16 185.32l-2.67 1.36M174.35 185.44l-2.13 2.11M178.7 184.15l-2.19 2.05M182.07 185.48l-2.5 1.66M185.75 184.5l-2.55 1.58M190.35 185.98l-2.91 -0.72M193.53 186.03l-2.34 -1.87M196.95 187.12l-2.53 -1.62M238.2 186.43l2.7 -1.31M243.14 185.85l2.89 0.81M245.85 184.19l2.3 1.92M251.27 185.34l0.9 2.86M254.38 184.22l0.08 3M258.97 184.83l0.1 3M262.62 185.03l-1.05 2.81M140.81 188.82l-1.47 2.62M142.19 188.61l1.47 2.62M148.37 188.11l-1.51 2.59M151.48 188.01l-1.99 2.25M153.43 188.58l2.96 0.48M157.7 188.3l2.97 0.43M162.39 187.14l-0.14 3M167.22 189.91l-3 0.11M168.98 188.97l2.36 1.85M173.55 188.6l-1.23 2.74M178.95 188.17l-1.96 2.27M181.96 188.65l-2.17 2.07M186.63 187.93l-2.72 1.27M189.72 189.15l-2.73 1.23M192.41 189.52l-2.95 0.53M196.03 189.09l-2.98 -0.32M218.83 187.66l-1.48 2.61M238.8 190.45l2.97 -0.41M242.83 187.93l2.41 1.79M247.54 188.36l1.09 2.79M249.61 187.15l1.04 2.81M254.99 187.12l-0.39 2.97M259.08 187.01l-0.35 2.98M262.95 187.76l-0.17 3M140.47 192.15l-0.37 2.98M142.98 191.77l1.09 2.79M148.62 192.8l-2.29 1.94M149.9 191.73l2.68 1.34M155.56 192.73l-2.48 1.69M157.55 190.98l2.02 2.22M163.77 191.19l-2.2 2.04M166.14 192.22l0.56 2.95M170.01 193.01l-2.71 1.29M173.33 190.83l-1.3 2.7M176.76 192.64l-1.46 2.62M182.12 191.15l-1.33 2.69M184.7 192.28l-2.13 2.11M190.14 192.97l-2.69 1.32M193.49 191.82l-2.82 1.02M217.12 191.83l1.27 2.72M243.11 191.4l1.1 2.79M247.78 191.1l0.25 2.99M249.83 190.67l0.42 2.97M254.29 191.51l-0.73 2.91M257.82 191.32l-0.68 2.92M262.44 192.08l-0.54 2.95M140.94 195.52l-1.49 2.6M141.37 195.53l2.8 1.07M148.62 196l-2.87 0.86M152.89 195.6l-3 0.1M154.87 195.81l-1.72 2.45M157.47 195.68l2.99 0.21M160.92 196.06l2.38 1.82M164.83 195.1l2.78 1.14M170.23 194.36l-1.25 2.73M173.12 195.29l-0.38 2.98M177.31 195.2l-0.19 2.99M180.64 194.31l-1.18 2.76M184.57 195.26l-0.46 2.96M207.11 197.51l-2.98 -0.38M210.9 196.94l-2.99 -0.19M214.68 195.01l-2.46 1.71M215.87 197.38l2.69 -1.33M220.02 198.06l1.78 -2.42M223.23 197.88l2.04 -2.2M227.46 198.59l1.34 -2.68M247.13 195.74l-0.13 3M250.77 195.7l-0.7 2.92M254.17 195.76l-0.47 2.96M258.62 195.16l0.06 3M261.56 195.65l0.23 2.99M139.04 198.41l0.87 2.87M144.13 200.19l-2.67 1.36M148.56 198.73l-1.17 2.76M152.14 199.49l-2.57 1.54M153.41 198.8l1.62 2.52M156.63 199.97l2.67 1.36M161.11 197.75l0.82 2.89M164.94 198.97l2.41 1.79M170.81 199.45l-2.37 1.84M173.44 199.49l0.59 2.94M176.47 198.21l0.35 2.98M180.49 198.09l0.99 2.83M182.88 198.83l1.08 2.8M211.39 201.04l-2.29 -1.94M214.39 200.61l-0.9 -2.86M217.28 201.51l0.93 -2.85M220.05 201.38l1.53 -2.58M224.21 202.19l1.76 -2.43M251.67 199.36l-0.67 2.92M254.09 198.35l-0.27 2.99M259.75 197.61l-0.71 2.92M262.82 198l0.32 2.98M139.17 201.98l2.71 1.29M145.21 202.39l-2.89 0.81M145.57 203.64l2.68 1.34M149.57 202.65l2.85 0.93M154.34 202.65l1.94 2.29M159.76 202.77l-1.56 2.56M161.41 201.51l0.25 2.99M166.88 201.21l-1.38 2.66M168.92 202.01l1.93 2.3M171.4 204.25l2.94 -0.6M175.96 203.39l3 -0.15M179.28 202.79l2.82 1.01M182.25 202.97l2.69 1.34M208.31 204.77l-1.45 -2.63M211.3 204.11l-1.73 -2.45M214.81 205.23l0.05 -3M217.89 205.27l0.97 -2.84M220.18 204.71l1.1 -2.79M225.54 204.66l1.12 -2.78M251.24 202.39l-1 2.83M255.33 201.64l-0.87 2.87M258.86 201.32l-0.72 2.91M261.51 201.19l-0.31 2.98M140.83 206.31l-2.59 1.51M143.74 205.95l0.46 2.96M148.37 205.17l-1.5 2.6M151.37 205.65l-1.85 2.36M153.01 205.74l2.35 1.87M156.2 207.84l2.99 0.18M160.67 205.7l2.48 1.69M164.24 206.07l2.15 2.09M168.92 208.93l1.7 -2.47M172.82 207.24l2.48 -1.68M175.93 207.34l2.38 -1.82M178.69 207.26l2.72 -1.27M184.18 206.36l2.12 2.12M207.9 208.68l-1.99 -2.25M210.77 208.17l-0.86 -2.88M215.06 207.66l-0.18 -2.99M217.51 209.15l1.43 -2.64M221.51 208.98l1.52 -2.59M224.41 209.26l1.17 -2.76M252.56 205.11l-1.36 2.67M255.08 205.08l-0.92 2.86M258.2 206.56l-1.25 2.72M261.34 205.95l-0.46 2.97M140.64 209.99l-1.27 2.72M145.34 209.32l-1.84 2.37M146.44 210.36l2.99 0.22M152.28 208.67l-0.81 2.89M153.22 209.11l2.82 1.03M157.42 210.17l2.47 1.7M163.03 211.26l-2.98 0.35M165.09 212.18l1.24 -2.73M168.07 212.72l1.45 -2.63M172.04 211.14l1.79 -2.4M175.16 212.48l1.95 -2.28M179.91 210.93l2.91 -0.74M183.69 209.19l2.59 1.52M186.58 208.36l1.34 2.68M210.68 210.95l-1.03 -2.82M213.8 211.67l-0.03 -3M216.73 211.43l1.11 -2.79M219.89 212.83l1.11 -2.79M224.33 211.69l2.05 -2.19M247.65 208.85l-1.53 2.58M252.34 209.79l-1.14 2.77M255.76 208.23l-0.95 2.84M259.73 208.85l-1.15 2.77M261.79 209.24l-0.47 2.96M141.46 213.31l-2.6 1.49M144.39 211.55l-0.66 2.93M146.22 213.17l2.25 1.99M152.41 212.17l-2.25 1.98M154.02 212.6l1.89 2.33M160.35 213.38l-3 0.12M161.98 212.74l0.79 2.89M164.34 214.99l1.76 -2.43M168.19 215.35l1.79 -2.41M172.31 216.19l1.71 -2.47M176.04 213.93l2.52 -1.63M179.01 213.96l2.64 -1.43M183.17 212.92l1.86 2.35M187.99 212.5l0.75 2.91M191.34 213.03l0.1 3M194.69 213.15l1.01 2.82M214.98 215.41l-0.17 -3M216.65 215.97l0.54 -2.95M240.24 213.5l-1.15 2.77M244.5 212.77l-1.93 2.3M248.28 213.43l-2.26 1.97M251.8 213.24l-1.27 2.72M255.52 213.34l-1.41 2.65M258.52 211.81l-1.08 2.8M262.11 211.78l0.12 3M141.2 216.09l-2.25 1.98M141.65 217.14l2.94 0.59M146.94 216.2l2.42 1.77M152.76 217.06l-2.11 2.14M154.28 217.09l1.14 2.78M158.24 215.68l1.76 2.43M161.43 219.72l1.31 -2.7M164.41 218.82l1.83 -2.38M168.23 219l1.31 -2.7M173.36 219.1l1.7 -2.47M176.51 218.83l2.32 -1.91M178.7 217.24l2.82 -1.03M184.63 215.21l0.99 2.83M188.71 216.37l0.29 2.99M192.42 216.34l0.2 2.99M240.62 216.06l-0.65 2.93M244.63 216.51l-1.78 2.42M248.15 215.41l-1.68 2.48M252.13 217l-1.94 2.29M255.45 217.17l-2.12 2.12M258.76 215.27l-1.12 2.78M260.42 216.11l2.57 1.55M138.15 220.07l2.66 1.38M143.09 220.06l1.73 2.45M147.23 219.76l-1.65 2.5M151.86 219.01l0.39 2.97M153.82 219.46l1.43 2.64M156.85 220.44l1.7 2.47M161.89 222.61l0.92 -2.86M165.71 222.41l1.54 -2.58M168.54 222.69l1.92 -2.3M172.53 222.82l1.5 -2.6M176.21 221.68l2.06 -2.18M179.08 219.54l2.52 1.62M184.9 219.25l-0.73 2.91M188.84 219.17l-0.35 2.98M192.3 219.93l-0.12 3M194.52 219.55l0.62 2.94M239.62 220.48l-0.73 2.91M244.98 218.96l-1.65 2.5M247.1 219.56l-0.68 2.92M251.53 219.86l-1.31 2.7M255.15 220.56l-2.02 2.22M259.14 220.8l-2.24 1.99M264.48 220.02l-2.98 0.31M139.55 223.71l2.05 2.19M144.17 223.23l-1.42 2.64M145.78 223.91l2.39 1.82M150.25 223.44l-0.07 3M155.75 222.85l-2.52 1.63M158.86 225.58l-2.65 -1.41M161.66 225.57l0.85 -2.88M165.84 226.76l1.59 -2.55M169.49 226.78l1.2 -2.75M173.34 225.81l1.51 -2.59M176.02 225.82l1.62 -2.52M180.46 222.43l-0.86 2.87M185.52 222.77l-0.8 2.89M189.2 222.32l-0.22 2.99M191.4 223.34l0.08 3M217.47 226.18l0.03 -3M240.13 223.83l-1.68 2.49M244.45 222.8l-1.28 2.71M248.28 222.26l-0.68 2.92M250.56 224.06l-0.9 2.86M254.73 223.04l-1.75 2.44M256.72 223.83l2.64 1.43M262.84 224.45l-2.51 1.65M139.48 226.65l2.63 1.44M145.38 227.04l-2.77 1.15M148.18 227.65l-2.45 1.72M152.85 227.73l-2.13 2.11M156.23 228.28l-2.78 1.12M158.56 229.7l0.08 -3M162.44 229.97l1.25 -2.73M165.08 229.69l0.94 -2.85M168.4 228.37l1.3 -2.7M172.34 230.06l0.91 -2.86M177.79 227.86l-2.9 0.76M181.06 226.68l-1.6 2.54M184.7 225.93l-1.96 2.27M189.83 226.58l-1.65 2.5M192.1 227.39l0.11 3M194.95 226.54l1.84 2.37M218.03 228.87l0.18 -2.99M240.8 227.15l-2.08 2.16M244.71 226.44l-1.03 2.82M248.91 226.37l-1.42 2.64M251.68 227.42l-0.68 2.92M256.45 226.86l-2.97 0.39M259.47 227.65l-2.72 1.28M261.59 227.62l2.79 1.1M139.87 230.38l-1.73 2.45M141.76 230.33l2.17 2.07M148.67 230.4l-2.27 1.96M151.86 229.64l-2.43 1.76M156.82 230.59l-2.99 0.23M158.45 233.06l0.32 -2.98M161.88 233.4l1.67 -2.49M165.39 232.88l1.43 -2.64M170.14 233.86l-0.22 -2.99M189.17 230.65l-2.54 1.59M208.5 232.71l2.54 -1.59M213.85 232.73l1.47 -2.62M217.75 233.35l-0.77 -2.9M223.05 231.52l-2.44 -1.74M226.16 232.48l-2.88 -0.83M234.62 231.65l-2.7 1.3M237.02 231.08l-2.38 1.83M241.03 229.94l-1.43 2.64M243.45 230.89l-1.33 2.69M247.71 230.51l-1.59 2.54M251.01 230.13l-1.35 2.68M253.76 230.85l1.97 2.26M256.82 230.65l2.52 1.63M260.56 230.12l2.67 1.37M140.58 234.17l0.08 3M144.93 233.92l-1.86 2.36M148 232.86l-1.72 2.46M151.96 234.4l-1.67 2.49M155.29 234.14l-2.92 0.7M158.21 236.89l1.01 -2.82M161.48 235.78l0.56 -2.95M166.12 236.72l0.47 -2.96M171.13 235.33l-2.41 -1.79M205.56 234.35l2.92 -0.67M208.04 235.91l2.64 -1.43M213.15 235.37l1.33 -2.69M218.28 236.81l-0.95 -2.85M222.23 235.34l-2.71 -1.3M226.84 234.57l-2.95 0.57M229.5 234.38l-2.95 0.53M234.52 233.64l-2.78 1.13M237.68 233.25l-2.32 1.9M240.71 234.32l-1.9 2.33M245.04 233.05l-2.18 2.06M248.49 233.03l-1.92 2.31M249.7 234.17l2.98 0.35M252.83 233.91l2.18 2.06M257.81 233.95l-0.16 3M262.32 233.2l-2.1 2.14M141.25 236.99l-1.63 2.52M144.92 237.49l-1.83 2.37M148.33 237.76l-1.59 2.54M152.91 237.88l-1.91 2.31M155.11 240.32l-0.09 -3M158.53 239.75l0.77 -2.9M161.46 239.14l1.11 -2.79M167.07 240.46l-1.66 -2.5M209.49 238.4l2.85 -0.93M213.81 239.34l1.57 -2.55M219.43 239.01l-2.97 -0.42M223.82 237.59l-2.93 0.64M226.38 237.33l-2.97 0.44M231.05 237.02l-2.72 1.27M234.47 237.93l-2.56 1.56M237.22 238.81l-2.87 0.87M241.4 236.94l-2.35 1.86M244.43 237.78l-2.06 2.18M248.4 238.74l-2.97 0.4M251.58 237.98l0.11 3M254.75 237.65l-0.73 2.91M259.79 237.57l-2.63 1.44M262.12 236.36l-0.64 2.93M139.67 241.01l-0.69 2.92M145.13 239.76l-0.98 2.83M148.11 239.88l-1.24 2.73M150.95 240.8l-1.62 2.53M154.47 243.44l1.25 -2.73M158.66 243.96l1.11 -2.79M162.98 243.71l0.28 -2.99M167.46 241.29l-2.42 1.77M209.39 241.85l2.59 1.51M212.66 241.73l2.45 1.73M217.49 240.38l-0.58 2.94M223.69 241.25l-2.73 1.24M226.03 240.64l-2.58 1.53M229.97 241.46l-2.83 0.98M233.66 241.09l-2.93 0.64M236.7 240.88l-2.9 0.78M241.65 241.39l-2.48 1.69M244.91 241.22l-1.77 2.42M246.7 240.41l2.36 1.86M252.67 240.31l-2.1 2.14M254.17 242.64l2.95 0.55M258.09 242.19l2.61 1.48M261.85 240.28l1.88 2.34M140.42 244.95l-0.74 2.91M144.17 244.94l-0.1 3M148.11 243.14l-0.5 2.96M149.47 245.98l2.47 -1.7M153.06 246.25l2.07 -2.17M156.8 247.67l1.42 -2.64M162.55 246.4l-0.52 -2.95M166.48 243.63l-2.19 2.05M212.65 244.65l1.29 2.71M217.42 244.7l0.31 2.98M223.11 245.02l-1.45 2.63M226.01 244.33l-1.39 2.66M229.63 244.23l-2.41 1.78M233.43 244.52l-2.38 1.83M237.83 245.25l-2.02 2.22M238.27 244.16l2.69 1.33M244.31 245.9l-2.88 0.85M247.07 245l1.27 2.72M253.3 246.27l-3 0.04M256.47 243.86l-2.43 1.76M256.87 245.54l2.98 0.3M263.26 244.32l-1.4 2.66M141.09 247.54l-0.45 2.97M144.19 246.9l0.35 2.98M146.47 250.6l2.46 -1.72M148.97 250.44l2.28 -1.96M154.7 250.64l1.61 -2.53M157.1 250.44l1.88 -2.34M163.26 246.99l-1.11 2.79M187.66 251.14l0.35 -2.98M214.29 246.78l1.29 2.71M217.73 247.84l0.65 2.93M221.46 246.77l-0.25 2.99M225.93 247.7l-1.01 2.82M229.96 247.33l-1.73 2.45M233.14 246.67l0.12 3M233.87 249.33l3 0.1M239.74 246.78l0.98 2.83M242.54 247.42l2.53 1.6M247.62 247.89l0.41 2.97M249.87 248.1l1.34 2.68M255.95 248.49l-2.62 1.46M259.46 248.79l-2.33 1.89M261.04 248.39l3 0.02M139.13 251.65l0.15 3M143.29 254.14l2.69 -1.33M146.28 253.57l2.24 -2M150.03 253.05l1.43 -2.64M153.79 253.06l1.85 -2.36M156.36 253.31l2.75 -1.19M183.82 253.91l0.14 -3M188.28 253.64l0.86 -2.87M190.58 254.7l1.49 -2.6M214.66 251.35l-0.36 2.98M218.12 250.2l0.6 2.94M221.79 250.25l0.01 3M225.15 250.83l-0.23 2.99M229.05 250.27l-0.6 2.94M231.37 251.6l1.88 2.34M235.07 251.67l2.82 1.01M238.84 251.21l1.32 2.7M245.52 252.08l-2.23 2M246.22 250.65l1.41 2.65M251.85 250.38l-1.54 2.57M256.46 251.67l-2.16 2.09M257.17 251.96l1.31 2.7M261.88 251.08l2.37 1.84M139.24 256.1l2.93 -0.62M143.5 258.07l1.89 -2.33M146.56 256.68l2.21 -2.03M150.7 256.35l1.91 -2.32M154.27 256.37l2.2 -2.03M158.99 253.81l-0.49 2.96M184.86 256.71l0.73 -2.91M186.75 257.08l0.84 -2.88M192.01 257.74l1.08 -2.8M218 254.28l0.12 3M222.52 254.46l-0.89 2.87M224.6 253.69l-0.93 2.85M228.21 253.92l1.82 2.39M230.89 254.64l2.63 1.44M234.75 255.63l2.44 1.75M240.1 254.62l1.21 2.75M245.69 256.57l-2.96 0.52M249.11 255.62l-3 0.09M250.92 255.06l-0.47 2.96M254.01 254.59l1.67 2.49M258.75 253.62l0.28 2.99M261.04 254.48l2.7 1.31M138.19 259.7l2.1 -2.15M143.6 261.2l1.54 -2.58M146.34 260.75l1.85 -2.36M151.27 261.3l1.35 -2.68M154.51 258.01l1.71 2.46M158.04 258.27l-0.32 2.98M162.58 257.63l-1.15 2.77M214.86 257.65l-0.92 2.86M217.57 257.95l-1.13 2.78M221.85 259.05l-1.35 2.68M224.72 258.52l-0.98 2.84M228.57 257.4l0.51 2.96M233.98 260.04l-2.98 0.31M235.07 259.98l2.99 0.3M238.35 259.23l1.97 2.26M243.28 257.77l2.47 1.7M247.06 258.8l0.61 2.94M250.09 258.82l0.48 2.96M253.39 258.53l2.76 1.17M258.81 259.02l-1.83 2.37M262.52 257.92l-2.61 1.48M138.11 264l2.04 -2.2M142.28 263.45l1.45 -2.62M146.1 263.68l1.14 -2.77M150.45 263.67l2.09 -2.16M156.02 260.73l-0.74 2.91M159.86 261.78l-1.08 2.8M161.98 261.88l-0.67 2.93M165.25 262.07l1.03 2.82M210.11 262.53l-1.2 2.75M215.42 262.28l-1.18 2.76M219.41 260.86l-1.5 2.6M222.15 261.95l-1.61 2.53M226.08 260.58l-0.49 2.96M228.03 260.84l-0.46 2.96M232.98 262.55l-2.8 1.07M238.23 262.85l-2.23 2.01M238.66 262.52l2.19 2.05M243.66 260.79l1.56 2.56M247.23 261.36l0.71 2.91M249.33 263.29l2.88 0.85M254.13 261.98l2.12 2.12M260.06 261.65l-2.91 0.72M261.76 261.28l-1.13 2.78M138.61 268.74l1.34 -2.68M143.29 267.39l1.89 -2.33M146.66 267.16l2.33 -1.89M149.04 267.68l2.72 -1.27M154.94 265.25l0.03 3M157.68 265.92l0.21 2.99M163.08 264.66l0.08 3M165.91 264.41l1.9 2.32M207.34 265.1l-1.34 2.68M210.24 265.1l-1.71 2.46M215.51 265.13l-1.57 2.56M218.89 264.26l-1.24 2.73M222.01 265.31l-1.66 2.5M226.01 265.6l-1.33 2.69M228.36 264.22l-1.01 2.82M232.16 265.63l-1.01 2.82M234.84 265.48l0.86 2.87M240.45 264.92l-2.44 1.74M245.42 266.38l-2.96 0.48M247.63 266.09l-1.43 2.64M252.15 265l-0.86 2.88M256.57 266.05l-2.85 0.95M259.59 264.39l-1.53 2.58M263.49 264.7l-1.94 2.28M139.6 270.3l1.73 -2.45M143.46 270.78l1.97 -2.27M145.84 271.8l1.62 -2.53M151.26 267.62l1.01 2.82M155.23 268l-0.12 3M158.15 268.29l0.26 2.99M162.5 268.7l1.33 2.69M165.6 268.02l2.12 2.12M207.66 268.77l-1.07 2.8M211.22 269.22l-1.29 2.71M214.07 269.47l-1.52 2.59M219.25 268.31l-1.51 2.59M222.58 268.38l-1.86 2.35M226.35 269.14l-2.85 0.95M226.8 269.98l2.95 0.55M234.04 268.85l-1.93 2.29M237.05 269.09l-1.86 2.36M239.86 267.89l1.68 2.48M244.45 270.07l-2.56 1.56M249.62 269.4l-2.82 1.01M252.29 270.86l-2.99 0.27M252.55 270.07l2.89 0.8M259.44 269.38l-2.75 1.19M260.34 269.38l2.55 1.58M138.77 274.84l1.19 -2.75M143.41 273.84l1.64 -2.51M146.91 275.08l0.15 -3M151.87 273l-1.43 2.64M156.23 273.11l-1.44 2.63M158.05 272.55l-0.03 3M160.89 272.42l0.92 2.86M165.09 271.61l1.61 2.53M167.98 272.94l2.26 1.97M207.55 272.63l-1.98 2.26M210.51 271.95l-1.4 2.65M214.61 272.31l-1.21 2.74M219.25 272.69l-1.29 2.71M222.69 273.78l-2.81 1.04M224.95 271.32l0.19 2.99M227.26 273.87l2.96 0.46M233.98 273.61l-2.44 1.75M234.43 274.08l2.91 0.73M239.86 271.29l-1.35 2.68M245.71 273.5l-2.9 0.77M245.4 272.52l2.55 1.58M251.64 273.85l-2.96 0.51M255.9 273.38l-2.67 1.36M257.77 271.11l0.75 2.9M262.41 272.25l-1.79 2.41M141.16 278.27l-0.37 -2.98M144.73 278.43l-1.36 -2.67M149.36 276.13l-2.86 0.89M151.47 277.15l-2.69 1.33M155.71 277.02l-2.37 1.85M160.04 275.72l-1.44 2.63M162.67 275.73l0.7 2.92M164.85 276.57l2.46 1.71M167.41 275.93l2.43 1.76M171.26 277.3l2.81 1.06M184.55 278.68l0.65 -2.93M189.98 278.5l-1.88 -2.34M204.9 277.07l-2.45 1.73M207.62 274.86l-1.58 2.55M210.97 276.45l-1.73 2.45M215.34 276.06l-1.84 2.37M218.11 275.91l-1.75 2.44M223.36 276.06l-2.35 1.86M223.78 276.07l2.94 0.61M227.68 276.71l2.19 2.05M232.71 275.25l-1.21 2.75M235.86 276l-1.12 2.78M241.55 277.19l-2.88 0.85M245.2 275.67l-2.89 0.82M245.52 277.52l2.96 0.46M251.51 275.37l0.44 2.97M254.24 275.3l1.19 2.75M259.55 275l-1.65 2.5M262.57 276.77l-1.92 2.31" stroke="#222" stroke-width="0.55" opacity="0.7" fill="none"/>
<path d="M200.53 180.69l-1 -2.83M202.62 179.62l-0.02 -3M205.06 179.44l1.17 -2.76M209.55 179.21l2.83 -1.01M211.7 178.54l2.96 -0.49M222.49 180.65l-0.82 -2.89M225.26 181.28l0.09 -3M227.63 179.35l1.83 -2.38M231.13 179.25l2.87 -0.88M235.34 178.77l3 0.11M200.9 183.18l-1.81 -2.39M212 182.22l2.8 1.08M219.38 183.29l-2.07 -2.17M221.76 184.03l-2.15 -2.1M234.71 181.46l2.86 0.91M201.1 185.8l-2.65 -1.41M212.77 184.96l1.96 2.27M219.63 186.13l-2.65 -1.4M223.64 186.08l-2.76 -1.17M235.55 184.67l2.16 2.08M201.14 190.05l-2.99 0.24M203.71 188.5l-2.96 0.48M210.78 188.1l0.12 3M213.43 187.97l1.02 2.82M222.3 189.02l-3 -0.11M227.26 189.09l-2.47 1.7M231.75 188.36l-0.12 3M236.56 188.44l1.22 2.74M195.58 193.22l1.8 -2.4M197.52 194.86l2.34 -1.88M203.64 192.78l-2.62 1.47M207.66 190.96l-1.72 2.45M210.92 192.4l-0.69 2.92M213.66 190.52l0.4 2.97M223.75 192.81l-2.76 1.17M226.46 193.01l-2.34 1.88M229.28 191.45l-1.61 2.53M231.9 192.04l-0.75 2.9M235.64 194.84l1.38 -2.66M239.08 194.62l2.31 -1.91M187.91 198.58l-1.16 -2.77M191.06 197.57l-0.12 -3M194.61 197.16l1.45 -2.63M198.2 197.92l2.78 -1.14M200.47 196.65l2.92 -0.69M233.15 198.03l0.08 -3M235.82 198.29l1.26 -2.72M239.34 196.9l2.55 -1.59M242.81 197.61l2.98 -0.3M189.47 201.59l-1.84 -2.37M202.33 198.83l2.96 0.46M204.56 199.93l2.8 1.09M230.03 200.71l-1.55 -2.57M232.37 202.05l-1.67 -2.49M242.32 199.12l3 0.1M245.25 199.58l2.9 0.78M190.14 204.42l-2.67 -1.36M192.22 203.92l-2.59 -1.52M201.84 203.35l2 2.23M229.49 203.49l-2.35 -1.86M241.86 202.78l2.3 1.93M246.19 202.93l2.36 1.86M188.69 206.98l-2.95 -0.54M193.23 207.3l-2.9 0.77M199.74 205.7l0.39 2.97M202.44 206.18l1.09 2.8M229.82 206.92l-2.91 -0.74M233.52 206.3l-2.98 -0.32M243.46 205.39l1.4 2.65M246.07 205.94l1.61 2.53M193.33 210.51l-2.58 1.53M195.64 208.63l-2.17 2.07M199.38 209.35l-0.71 2.92M201.78 208.22l0.33 2.98M205.5 212.09l1.81 -2.39M228.54 212.48l2.01 -2.23M233.19 210.54l-2.83 1M236.56 209.67l-2.3 1.93M239.64 209.11l-1.13 2.78M243.54 209.07l0.3 2.99M200 214.9l-0.12 -3M201.99 215.73l0.36 -2.98M205.74 214.16l1.92 -2.3M209.08 214.02l2.69 -1.33M222 216.44l-0.56 -2.95M223.99 215.11l0.37 -2.98M228.67 215.34l2.19 -2.05M230.32 215.2l2.61 -1.47M237.6 212.47l-1.89 2.33M197.29 219.02l-1.71 -2.47M199.04 219.39l-1.61 -2.53M202.45 219.11l-0.53 -2.95M209.32 217.63l2.99 -0.2M212.87 217.89l2.91 0.72M218.76 219.37l-1.87 -2.35M222.23 218.07l-0.99 -2.83M231.55 217.3l2.98 -0.37M233.89 217.41l2.98 0.33M200.51 221.7l-2.29 -1.94M213.05 220.18l2.56 1.56M219.39 221.73l-2.37 -1.84M223.41 222.7l-2.62 -1.45M235.64 220.35l2.52 1.63M197.48 225.2l-2.89 -0.79M201.37 224.59l-2.97 -0.42M209.86 223.28l0.98 2.84M213.87 223.42l1.74 2.44M223.4 225.31l-3 -0.16M232.22 223.5l0.89 2.86M236.3 223.74l1.67 2.49M201.49 227.88l-2.9 0.78M204.38 227.42l-2.5 1.66M206.56 226.12l-1.79 2.41M210.85 226.81l0.08 3M213.52 226.3l0.9 2.86M223.46 228.16l-2.9 0.76M226.34 227.89l-2.53 1.61M230.16 227.07l-1.19 2.75M232.46 226.37l-0.06 3M236.07 226.96l0.79 2.89M173.06 233.98l-0.3 -2.98M175.75 232.31l0.68 -2.92M179.3 232.21l1.74 -2.45M183.6 232.58l2.68 -1.35M191.11 232.75l0.34 -2.98M195.03 232.17l1.54 -2.57M198.32 233.34l2.45 -1.73M204.54 229.69l-2.28 1.95M207.21 230.66l-1.57 2.56M230.34 230.34l-1.32 2.69M174.32 236.24l-0.5 -2.96M176.66 236.18l0.39 -2.97M179.83 235.22l1.98 -2.26M183.04 235.46l2.84 -0.96M185.85 235.45l3 -0.13M192.69 237.22l-0.08 -3M194.57 237.16l1.03 -2.82M198.27 236.48l2.77 -1.15M200.78 235.84l2.97 -0.39M171.19 239.52l-1.98 -2.26M173.96 239.44l-1.69 -2.48M189.42 240.51l-2.14 -2.1M202.41 238.32l2.84 0.96M205.05 237.53l2.85 0.94M170.52 242.31l-2.57 -1.54M174.67 242.91l-2.78 -1.14M183.93 241.68l1.6 2.54M186.74 241.31l2.12 2.12M201.93 240.14l2.45 1.73M205.04 241.83l2.08 2.16M168.72 246.22l0.8 -2.89M175.7 245.19l-3 0.13M177.81 244.95l-2.87 0.86M183.5 244.05l0.17 3M190.54 245.6l-3 -0.11M193.34 245.91l-2.89 0.82M198.6 244.25l-0.69 2.92M203.02 243.94l1.23 2.74M204.64 246.78l2.27 -1.96M207.93 246.89l2.83 -1M166.81 250.03l-0.56 -2.95M168.99 251.27l-0.13 -3M173.02 249.28l2.32 -1.9M178.86 247.55l-2.34 1.87M180.99 248.31l-1.64 2.51M184.07 247.36l-0.44 2.97M192.65 247.9l-2.79 1.09M196.05 248.25l-2.07 2.17M199.9 250.87l-0.08 -3M202.09 249.5l1.4 -2.65M205.61 250.21l2.84 -0.95M209.42 249.76l3 0.14M163.93 252.73l-1.88 -2.34M166.63 253.09l-1.7 -2.47M175.65 251.85l2.97 0.42M179.79 251.76l2.8 1.07M196.1 253.32l-1.96 -2.27M208.48 251.72l2.9 0.76M163.35 255.97l-2.6 -1.49M168.13 257.1l-2.94 -0.61M180.62 255.07l2.13 2.12M196.18 256.86l-2.78 -1.13M199.78 256.49l-2.88 -0.85M209.51 254.33l2.24 2M212.51 254.79l2.22 2.02M167.76 259.12l-2.99 0.2M173.36 258.83l-1.63 2.52M176.31 258.96l-0.1 3M179.33 261.63l1.77 -2.42M182.16 261.14l2.65 -1.41M185.95 260.53l2.97 -0.42M191.13 261.97l0.14 -3M194.22 260.24l1.61 -2.53M200.63 258.99l-2.9 0.76M203.12 258.72l-2.32 1.9M207.48 258.71l0 3M208.99 258.38l0.65 2.93M170.14 261.77l-2.54 1.6M173.35 261l-1.66 2.5M183.77 262.69l2.98 -0.35M188.56 265.24l-1.64 -2.51M197.56 263.32l2.92 -0.71M202.35 263.46l2.92 0.68M206.9 261.85l-0.82 2.89M171.72 267.23l-2.32 -1.9M173.85 267.19l-2.25 -1.98M189.63 267.36l-2.29 -1.94M200.98 266.03l2.54 1.59M171.56 270.17l-2.82 -1.02M174.19 270.18l-2.91 -0.72M186.49 268.38l1.81 2.39M202.67 268.84l1.76 2.43M174.43 274.15l-2.94 0.62M178.52 273.16l-2.49 1.68M181.73 272.25l-1.26 2.72M184.92 272.9l-0.03 3M190.12 272.94l-2.97 0.41M193.52 271.95l-2.7 1.32M196.31 273.02l-1.62 2.52M199.49 271.14l0.17 3M202.63 272.2l0.79 2.89M178.77 276.62l-2.19 2.05M180.72 276.55l-1.73 2.45M192.45 275.89l-2.53 1.61M197.04 276.31l-1.45 2.63M200.04 275.52l-0.52 2.95" stroke="#111" stroke-width="0.6" opacity="0.8" fill="none"/>
<path d="M209.9 184.24L213.51 187.28M209.85 184.84L212.71 187.3M209.5 185.79L211.07 190.34M209.54 185.72L212.43 188.55M209.19 186.24L210.75 190.12M208.19 187.01L209.01 191.29M207.45 187.25L205.38 191.18M207.1 187.29L205.04 190.5M206.54 187.28L205.08 189.76M206.39 187.26L203.39 189.98M205.28 186.83L202.4 188.63M204.58 186.2L199.99 186.83M204.46 186.05L200.85 186.38M204.19 185.58L200.07 185.93M204 185.08L200.3 183.43M203.9 184.44L201.17 182.23M204.01 183.5L201.19 181.3M204.09 183.24L201.08 180.85M204.38 182.68L203.54 179.45M204.98 182L203.63 178M205.76 181.52L207.24 178.65M205.62 181.59L205.85 178.81M206.47 181.33L207.18 176.96M207.63 181.39L210.88 179.24M207.52 181.36L210.89 179.09M208.51 181.77L211.54 179.65M208.84 182.02L211.9 181.08M209.09 182.25L212.78 181.43M209.64 183.09L212.43 183.47M209.77 183.44L213.14 183.87M231.19 184.06L234.04 185.89M231.18 184.6L235.22 186.18M230.86 185.69L232.27 189.48M230.49 186.24L231.79 188.71M230.42 186.31L232.1 189.87M229.45 187.03L228.56 191.47M229.04 187.18L228.22 190.86M228.38 187.29L225.57 191.04M228.13 187.3L225.76 189.99M227.24 187.14L224.24 190.2M226.63 186.85L222.97 189.29M226.31 186.63L222.57 187.41M225.66 185.9L221.38 185.41M225.42 185.44L222.01 184.76M225.24 184.77L222.59 183.98M225.2 184.34L221.45 182.16M225.29 183.57L223.34 180.52M225.35 183.36L223.66 179.98M225.56 182.87L223.86 179.63M226 182.26L224.14 178.73M226.38 181.92L226.8 177.7M227.6 181.36L228.72 178.55M227.52 181.38L228.26 177.77M228.87 181.37L231.76 179.77M229.36 181.54L231.71 179.82M229.69 181.69L232.04 180.22M230.04 181.93L233.92 179.56M230.56 182.45L233.85 181.16M231.03 183.3L234.75 183.11M231.18 183.95L235.03 185.31M199 202.8L201.2 204.99M198.85 203.72L200.35 206.41M198.87 203.66L201.81 207.2M198.37 204.64L199.92 208.01M198.02 205.02L198.18 208.88M197.2 205.55L196.81 208.42M197.22 205.54L197.49 209.21M195.99 205.8L194.27 208.61M195.84 205.8L193.49 208.22M194.82 205.56L191.32 207.74M194.22 205.22L190.63 206.87M193.98 205.02L190.24 206.03M193.64 204.65L190.1 205.86M193.39 204.28L189.85 204.97M193.08 203.49L189.72 201.76M193.03 203.2L190.36 201.66M193.04 202.29L190.91 199.97M193.41 201.28L191.07 198.34M193.54 201.08L192.07 196.59M193.8 200.76L193.27 196.23M194.66 200.12L195.1 197.09M194.88 200.02L195.95 196.23M195.58 199.83L197.12 196.7M196.07 199.8L198.71 197.38M196.65 199.87L200.12 197.17M197.61 200.27L201.71 199.09M197.81 200.41L200.95 199.94M198.41 201.02L202.14 201.38M198.72 201.54L202.07 202.64M198.93 202.15L202.88 202.53M240.5 203.14L243.15 204.88M240.4 203.97L243.05 206.96M240.22 204.48L242.39 207.03M240.02 204.83L241.76 208.25M239.66 205.28L239.9 209.37M238.62 205.98L238.54 210.44M238.76 205.92L237.76 209.16M237.51 206.2L234.61 209.84M237.31 206.19L236.15 208.95M236.49 206.03L234.04 207.84M235.96 205.78L232.21 206.76M235.47 205.41L232.64 205.79M235.07 204.96L230.8 205.11M234.64 204.09L231.16 203.18M234.63 204.07L231.21 203.03M234.52 202.83L231.35 200.03M234.67 202.21L231.34 199.54M234.62 202.38L232.27 199.12M234.88 201.74L233.1 199.58M235.63 200.85L234.44 197.72M235.79 200.73L236.4 197.44M236.87 200.27L237.67 196.78M236.87 200.27L237.99 196.95M237.88 200.22L240.88 197.26M238.56 200.39L241.42 198.3M239.32 200.81L242.03 199.36M239.63 201.09L242.83 200.4M239.71 201.17L244.13 200.53M240.07 201.65L244.3 200.45M240.38 202.36L243.54 203.13M208.88 221.78L211.27 224.36M208.76 222.3L210.5 225.56M208.64 222.62L210.81 225.82M208.23 223.28L210.04 226.1M208.15 223.39L209.32 226.45M207.57 223.9L208.58 227.39M207.05 224.17L206.96 227.56M206.19 224.39L204.89 227.87M205.71 224.39L204.46 227.17M204.81 224.2L202.84 226.45M204.61 224.11L200.84 226.17M203.87 223.61L199.87 225.47M203.69 223.43L200.68 223.77M203.19 222.68L198.88 221.87M203.02 222.25L199.07 221.36M202.91 221.12L199.7 217.99M203.05 220.48L200.67 218.48M203.35 219.82L201.68 217.02M203.52 219.57L202.34 215.6M203.69 219.37L203.44 215.93M204.8 218.61L205.26 215.05M205.02 218.53L206.4 215.13M205.4 218.44L207.06 215.72M205.77 218.4L208.56 214.94M207.14 218.67L209.85 215.46M207.48 218.85L211.35 217.61M208.17 219.44L211.65 219.62M208.26 219.55L211.43 219.93M208.69 220.3L212.93 220.17M208.75 220.47L212.56 221.61M231.2 221.3L234.12 222.36M231.02 222.43L232.69 225.32M230.88 222.74L231.8 225.82M230.66 223.12L232.63 226.81M230.3 223.54L231.71 228.02M229.88 223.88L229.85 228.1M228.95 224.3L227.36 227.29M228.4 224.39L226.91 228.7M227.88 224.38L226.06 227.38M227.1 224.19L223.86 226.32M226.63 223.96L222.6 225.24M226.43 223.82L222.61 225.54M225.95 223.39L222.36 223.84M225.65 222.97L222.72 222.83M225.24 221.91L221.72 221.41M225.22 221.02L221.96 218.32M225.27 220.76L221.94 218.48M225.47 220.15L223.54 217.97M225.66 219.8L224.35 217.37M226.2 219.16L225.08 215.12M227.02 218.64L227.14 214.17M227.2 218.57L228.19 214.75M228.21 218.4L229.43 214M228.51 218.42L230.86 216.4M229.03 218.52L232.09 215.02M229.58 218.73L232.93 216.88M229.9 218.93L233.6 216.86M230.48 219.46L233.55 219.58M231.09 220.6L233.94 221.39M231.19 221.17L233.67 222.33M182.99 240.65L185.58 242.12M182.99 241.16L185.25 242.7M182.82 241.92L185.27 245.4M182.49 242.57L184.53 246.04M181.94 243.19L183.83 247.33M181.51 243.49L182.16 247.29M180.59 243.84L178.94 248.32M179.94 243.9L178.21 247.11M179.45 243.85L175.83 246.92M178.99 243.73L176.52 247.21M178.15 243.26L174.73 243.71M177.75 242.89L174.75 243.19M177.6 242.7L173.65 242.37M177.15 241.85L174.15 241.89M177.08 241.57L172.6 240.94M177 240.84L173.15 239.15M177.11 240.1L173.52 237.17M177.35 239.49L176.37 236.41M177.73 238.94L176.1 235.97M177.85 238.8L177.26 235.78M178.7 238.19L178.08 234.04M178.97 238.08L179.47 234.33M179.35 237.97L179.77 235M180.74 237.99L182.92 234.52M180.8 238.01L183.1 234.13M181.79 238.49L185.53 236.36M182.04 238.7L186.05 237.85M182.25 238.92L185.73 237.34M182.77 239.75L185.86 239.57M182.83 239.9L185.83 239.9M199.39 240.66L203.42 242.68M199.26 241.81L201.58 243.51M199.22 241.92L200.73 244.53M199.02 242.36L200.97 246.61M198.18 243.32L199.66 247.32M198.16 243.33L198.34 246.92M197.1 243.82L195.5 247.76M196.51 243.9L194.44 246.25M196.38 243.9L195.05 247.95M195.37 243.72L193.46 245.8M194.58 243.29L190.57 244.57M194.67 243.35L190.63 244.44M194 242.71L190.95 243.42M193.67 242.15L190.95 242.12M193.56 241.85L188.96 240.11M193.43 241.34L190.52 240.82M193.44 240.41L189.87 238.75M193.57 239.9L191.28 235.9M193.94 239.18L192.72 236.48M194.28 238.78L192.76 234.58M194.72 238.41L193.76 234.51M195.28 238.12L196.73 234.77M195.72 237.98L196.34 234.39M196.41 237.9L199.18 234.05M197.69 238.19L200.57 237.04M197.68 238.19L200.62 236.91M198.63 238.89L202.13 238.62M198.8 239.1L202.42 239.55M199.07 239.53L202.98 238.93M199.38 240.59L202.62 243.11M175.37 254.83L178.11 257.47M175.32 255.1L177.79 257.7M175.27 255.26L178.4 257.73M175.02 255.86L177.08 258.42M174.1 256.87L173.47 259.95M174.11 256.87L174.44 260.04M173.22 257.29L171.98 261.01M172.96 257.35L171.33 260.89M172.51 257.4L171.14 261.69M171.34 257.21L168.2 259.69M171.13 257.12L167.47 259.57M170.66 256.85L166.35 258.26M169.81 255.92L165.37 255.35M169.56 255.36L166.54 254.42M169.57 255.38L164.93 254.05M169.4 254.48L165.79 252.97M169.57 253.4L167.26 249.47M169.78 252.94L167.6 248.8M169.88 252.77L168.71 250.27M170.72 251.91L171.3 248.52M170.89 251.81L170.42 248.55M171.17 251.66L171.19 247M171.89 251.44L173.15 248.15M173.03 251.47L175.38 248.07M173.15 251.5L176.68 249.26M173.77 251.73L177.22 250.12M174.14 251.96L177.84 249.49M174.58 252.34L178.1 250.78M175.07 253.03L179.38 253.71M175.31 253.66L178.87 254.06M206.48 254.03L210.77 255.36M206.45 254.96L208.81 258.09M206.3 255.47L208.19 258.02M205.97 256.1L206.74 259.51M205.41 256.71L206.22 260.44M205.25 256.83L204.88 260.55M204.62 257.18L204.88 260.34M203.59 257.4L201 260.69M203.13 257.38L200.52 260.88M202.86 257.33L199.83 259.58M202.36 257.17L199.27 259.94M201.51 256.64L197.46 257.22M201.28 256.41L196.93 256.86M200.67 255.39L196.38 253.87M200.51 254.61L196.23 253.42M200.5 254.5L196.5 252.39M200.69 253.36L197.78 250.67M200.79 253.12L199 249.82M201.21 252.46L199.81 248.81M201.64 252.05L200.72 249.29M202.36 251.62L202.73 247.61M202.96 251.45L204.3 247.16M203.58 251.4L204.86 248.09M203.72 251.41L205.99 247.67M204.33 251.52L206.71 247.84M204.96 251.78L208.05 248.77M205.81 252.49L208.67 252.16M205.88 252.58L210.68 252.46M206.38 253.56L210.04 255.42M206.47 253.97L209.76 255.07M182.99 267.37L186.89 269.42M182.99 267.32L186.19 269.93M182.81 268.15L184.72 270.71M182.57 268.64L184.6 272.14M182.27 269.06L183.77 272.69M181.64 269.61L181.84 274.24M181.24 269.83L180.07 273.83M180.25 270.09L178.25 273.58M179.91 270.1L178.16 272.89M178.67 269.79L175.27 272.61M178.89 269.89L175.55 272.73M178.16 269.47L174.65 271.24M177.43 268.64L174.11 268.07M177.46 268.69L174.92 269.24M177.17 268.1L173.09 266.79M177 267.02L173.73 264.99M177.1 266.34L175.41 263.4M177.35 265.69L174.83 262.56M177.36 265.67L174.88 262.76M177.95 264.91L176.42 260.94M178.86 264.33L180.06 261.19M178.84 264.34L179.32 260.05M179.99 264.1L182.63 261.16M180.15 264.1L181.66 260.44M181 264.27L183.97 260.87M181.8 264.7L185.28 262.23M182.06 264.92L185.24 263.36M182.17 265.03L185.14 265.1M182.84 266.15L187.29 267.45M182.96 266.63L187.17 268.28M198.29 267.4L200.94 269.04M198.26 267.58L200.76 269.95M198.02 268.37L200.51 271.37M197.77 268.8L199.44 272.5M197.22 269.4L197.03 273.94M196.78 269.71L195.74 273.3M195.87 270.05L193.95 273.38M195.97 270.02L194.23 272.66M194.94 270.08L192.39 273.65M194.38 269.96L191.71 273.53M193.97 269.79L190.77 271.19M193.25 269.29L190.11 270.54M192.78 268.74L188.69 269.07M192.43 267.98L189.74 266.55M192.31 267.33L188.42 265.04M192.32 267.47L188.46 266.9M192.47 266.11L189.98 264.1M192.54 265.92L190.74 263.85M192.96 265.22L190.87 262.14M193.23 264.93L192.98 261.47M193.59 264.63L192.83 260.07M194.41 264.23L195.31 261.28M195.03 264.11L197.26 260.16M195.61 264.12L198.84 260.66M196.18 264.23L199.28 261.93M197.07 264.68L201.3 262.64M197.12 264.72L201.58 263.06M197.86 265.54L202.44 265.97M197.97 265.73L201.67 265.64M198.15 266.16L200.95 267.18" stroke="#0a0a0a" stroke-width="0.6" opacity="0.85" fill="none"/>
<g filter="url(#blur2)">
<circle cx="206.9" cy="184.3" r="5.0" fill="#000" opacity="0.5"/>
<circle cx="228.2" cy="184.3" r="5.0" fill="#000" opacity="0.5"/>
<circle cx="196" cy="202.8" r="5.0" fill="#000" opacity="0.5"/>
<circle cx="237.5" cy="203.2" r="5.0" fill="#000" opacity="0.5"/>
<circle cx="205.9" cy="221.4" r="5.0" fill="#000" opacity="0.5"/>
<circle cx="228.2" cy="221.4" r="5.0" fill="#000" opacity="0.5"/>
<circle cx="180" cy="240.9" r="5.0" fill="#000" opacity="0.5"/>
<circle cx="196.4" cy="240.9" r="5.0" fill="#000" opacity="0.5"/>
<circle cx="172.4" cy="254.4" r="5.0" fill="#000" opacity="0.5"/>
<circle cx="203.5" cy="254.4" r="5.0" fill="#000" opacity="0.5"/>
<circle cx="180" cy="267.1" r="5.0" fill="#000" opacity="0.5"/>
<circle cx="195.3" cy="267.1" r="5.0" fill="#000" opacity="0.5"/>
</g>
<path d="M208.8 184.39L211.52 185.72M208.65 185.03L210.87 187.28M208.15 185.73L208.89 188.24M207.57 186.08L207.46 189.47M206.87 186.2L205.62 189M206.07 186.01L203.95 187.78M205.43 185.51L202.95 186.15M205.19 185.13L202.07 185.3M205 184.18L202.78 182.97M205.11 183.65L202.82 181.53M205.54 182.98L204.15 179.82M206.15 182.56L206.09 179.18M206.85 182.4L207.98 179.51M207.74 182.6L209.92 180.77M208.17 182.89L210.62 181.81M208.62 183.49L211.64 183.39M230.1 184.26L232.77 185.37M229.96 185.02L231.91 187.06M229.57 185.61L230.78 188.45M228.94 186.05L228.91 189.07M228.29 186.2L227.3 188.67M227.33 185.99L225.11 187.77M226.86 185.64L224.04 186.77M226.4 184.9L223.66 184.61M226.3 184.3L223.89 183.2M226.38 183.75L223.97 181.74M226.75 183.07L225.5 180.5M227.49 182.54L227.58 179.61M228.19 182.4L229.27 180.06M228.87 182.52L231.06 180.21M229.57 182.98L232.41 181.91M229.88 183.41L232.85 183.18M197.9 202.73L201.01 203.88M197.79 203.44L200.08 205.54M197.3 204.19L198.56 207.44M196.83 204.51L197.04 207.9M195.85 204.69L194.52 207.15M195.42 204.61L193.38 206.95M194.74 204.22L191.85 205.61M194.29 203.62L191.39 203.71M194.1 202.69L191.63 201.41M194.33 201.9L192.34 199.45M194.59 201.53L193.19 198.59M195.29 201.04L195.42 198.53M196.17 200.91L197.63 198.21M196.86 201.11L199.47 198.86M197.22 201.35L200.15 199.83M197.77 202.12L200.54 202.27M239.4 203.29L242.43 204.71M239.27 203.9L241.6 206.16M238.89 204.5L239.97 207.08M238.24 204.95L238.17 207.59M237.54 205.1L236.41 207.89M236.92 205.01L234.87 207.42M236.12 204.51L233.69 205.33M235.7 203.82L233.07 203.55M235.6 203.25L233.21 202.23M235.76 202.45L234.01 200.5M236.1 201.91L234.81 199.07M236.73 201.46L236.63 198.11M237.39 201.3L238.36 198.75M238.34 201.5L240.84 199.31M238.83 201.85L241.48 200.79M239.28 202.54L242.33 202.68M207.8 221.32L210.76 222.42M207.58 222.28L209.29 224.46M207.22 222.76L208.36 225.71M206.68 223.13L206.66 225.68M206.01 223.3L204.92 226.37M205.14 223.14L202.9 225.28M204.51 222.7L201.56 223.78M204.09 221.98L200.98 221.69M204.01 221.22L201.7 219.88M204.2 220.55L202.23 218.23M204.64 219.97L203.72 217.13M205.28 219.6L205.5 216.61M205.79 219.5L206.76 216.99M206.47 219.59L208.37 217.42M207.12 219.95L209.53 218.8M207.64 220.64L210.37 220.66M230.1 221.51L232.38 222.73M229.94 222.16L232.37 224.63M229.63 222.65L231.19 225.73M228.75 223.22L228.43 226.58M228.02 223.29L226.56 225.92M227.31 223.08L224.73 225.24M226.79 222.67L224.06 223.57M226.43 222.09L223.85 221.93M226.31 221.55L223.91 220.67M226.47 220.62L224.75 218.64M226.74 220.19L225.45 217.61M227.51 219.63L227.56 216.2M228.16 219.5L229.2 217.11M228.89 219.63L230.91 217.62M229.46 219.98L232.41 218.56M229.88 220.51L232.95 220.24M181.89 240.74L185 241.73M181.75 241.64L183.95 243.9M181.3 242.29L182.45 245.37M180.63 242.69L180.44 245.87M179.92 242.8L178.61 245.51M179.24 242.64L176.79 245.02M178.8 242.37L176 243.84M178.21 241.54L175.37 241.35M178.1 241.02L175.75 240.09M178.26 240.14L176.23 237.96M178.75 239.46L177.94 236.8M179.13 239.21L178.97 236.4M180.16 239.01L181.7 235.98M180.9 239.23L182.97 237.66M181.43 239.64L184.4 238.65M181.7 240.06L184.82 239.88M198.3 240.97L201.1 242.27M198.21 241.47L200.48 243.43M197.61 242.37L198.4 245.17M196.95 242.72L196.61 245.37M196.26 242.79L194.98 245.12M195.69 242.66L193.39 244.99M195.19 242.36L192.31 243.87M194.6 241.49L191.25 241.25M194.5 240.79L191.87 239.46M194.71 240.02L193.1 237.95M195.13 239.48L194.02 236.32M195.68 239.14L195.71 235.86M196.36 239L197.44 236.44M197.21 239.18L199.15 237.58M197.69 239.51L200.81 238.05M198.2 240.3L201.17 240.55M174.3 254.48L176.86 255.74M174.14 255.17L176.41 257.55M173.67 255.81L174.44 258.28M173.1 256.17L172.98 258.94M172.29 256.3L171.07 258.53M171.7 256.17L169.63 258.22M171.05 255.74L168.33 256.81M170.69 255.22L167.33 255.42M170.5 254.49L168.01 253.49M170.64 253.68L168.73 251.67M171.13 252.98L169.97 249.73M171.51 252.72L171.23 249.59M172.32 252.5L173.32 249.98M173.2 252.68L175.2 250.98M173.77 253.08L176.96 251.82M174.11 253.57L177 253.45M205.4 254.3L208.05 255.31M205.19 255.26L207.21 257.66M204.89 255.7L205.94 258.21M204.16 256.18L203.97 258.77M203.55 256.3L202.51 258.72M202.8 256.17L200.56 258.45M202.14 255.72L199.18 256.87M201.74 255.11L198.44 255.08M201.6 254.34L198.48 252.96M201.74 253.68L199.43 251.37M202.17 253.05L200.94 250.02M202.8 252.63L202.92 249.95M203.6 252.5L204.91 249.9M204.34 252.7L206.94 250.38M204.8 253.01L207.62 251.77M205.24 253.64L207.97 253.67M181.89 266.93L184.7 267.85M181.79 267.74L184.14 269.9M181.29 268.49L182.44 271.58M180.83 268.81L180.9 271.43M179.87 269L178.46 271.74M179.16 268.81L176.93 270.7M178.74 268.53L176.41 269.55M178.18 267.65L175.06 267.31M178.1 267.02L175.69 265.8M178.22 266.43L175.88 264.21M178.77 265.65L177.73 262.47M179.26 265.35L179.24 262.01M179.86 265.2L180.9 262.11M180.88 265.42L182.92 263.84M181.23 265.65L183.59 264.56M181.79 266.47L184.47 266.7M197.2 267L200.09 268.07M197.08 267.77L199.48 270.02M196.66 268.43L197.87 271.34M196 268.87L195.98 272.35M195.21 269L193.99 271.35M194.63 268.88L192.27 271.41M193.92 268.4L191.41 269.25M193.6 267.95L190.4 268.15M193.4 267.1L190.44 265.85M193.6 266.25L191.78 264.04M193.84 265.88L192.42 263.12M194.5 265.38L194.39 262.16M195.47 265.21L196.83 262.8M195.98 265.32L197.99 263.29M196.58 265.7L199.34 264.44M197.12 266.55L200.12 266.88" stroke="#050505" stroke-width="0.95" fill="none"/>
<circle cx="206.9" cy="184.3" r="1.9" fill="#b8bcf4"/>
<circle cx="228.2" cy="184.3" r="1.9" fill="#f4bcbc"/>
<circle cx="196" cy="202.8" r="1.9" fill="#f04848"/>
<circle cx="237.5" cy="203.2" r="1.9" fill="#4a52f0"/>
<circle cx="205.9" cy="221.4" r="1.9" fill="#f04848"/>
<circle cx="228.2" cy="221.4" r="1.9" fill="#4a52f0"/>
<circle cx="180" cy="240.9" r="1.9" fill="#f4bcbc"/>
<circle cx="196.4" cy="240.9" r="1.9" fill="#ffffff"/>
<circle cx="172.4" cy="254.4" r="1.9" fill="#f04848"/>
<circle cx="203.5" cy="254.4" r="1.9" fill="#4a52f0"/>
<circle cx="180" cy="267.1" r="1.9" fill="#f4bcbc"/>
<circle cx="195.3" cy="267.1" r="1.9" fill="#4a52f0"/>
</g>
<path d="M258.75 181.03l2.6 0.6M201.25 181.03l-2.6 -0.6M256.11 185.57l2.6 0.6M198.61 185.57l-2.6 -0.6M253.48 190.12l2.6 0.6M195.98 190.12l-2.6 -0.6M250.85 194.66l2.6 0.6M193.35 194.66l-2.6 -0.6M248.22 199.21l2.6 0.6M190.72 199.21l-2.6 -0.6M245.58 203.75l2.6 0.6M188.08 203.75l-2.6 -0.6M242.95 208.3l2.6 0.6M185.45 208.3l-2.6 -0.6M240.32 212.84l2.6 0.6M182.82 212.84l-2.6 -0.6M237.69 217.39l2.6 0.6M180.19 217.39l-2.6 -0.6M235.05 221.94l2.6 0.6M177.55 221.94l-2.6 -0.6M232.42 226.48l2.6 0.6M174.92 226.48l-2.6 -0.6M229.79 231.03l2.6 0.6M172.29 231.03l-2.6 -0.6M227.16 235.57l2.6 0.6M169.66 235.57l-2.6 -0.6M224.52 240.12l2.6 0.6M167.02 240.12l-2.6 -0.6M221.89 244.66l2.6 0.6M164.39 244.66l-2.6 -0.6M219.26 249.2l2.6 0.6M161.76 249.2l-2.6 -0.6M216.62 253.75l2.6 0.6M159.12 253.75l-2.6 -0.6M213.99 258.3l2.6 0.6M156.49 258.3l-2.6 -0.6M211.36 262.84l2.6 0.6M153.86 262.84l-2.6 -0.6M208.73 267.38l2.6 0.6M151.23 267.38l-2.6 -0.6M206.09 271.93l2.6 0.6M148.59 271.93l-2.6 -0.6M203.46 276.48l2.6 0.6M145.96 276.48l-2.6 -0.6" stroke="#333" stroke-width="0.5" fill="none" opacity="0.8"/>
<line x1="172.8" y1="228.5" x2="232.3" y2="228.5" stroke="#444" stroke-width="0.5"/>
<polygon points="202,178 261.5,178 203,279 143.5,279" fill="none" stroke="#555" stroke-width="0.6"/>
<polygon points="178,178.3 186.2,178.3 128.63,279.3 120.43,279.3" fill="#f4f4f4"/>
<path d="M183.57 183.18L182.4 183.86L181.23 183.18L181.23 181.83L182.4 181.16L183.57 181.83zM182.22 185.52L181.05 186.2L179.88 185.52L179.88 184.17L181.05 183.5L182.22 184.17zM174.72 189.26L173.55 189.94L172.38 189.26L172.38 187.91L173.55 187.24L174.72 187.91zM173.98 200.02L172.81 200.69L171.64 200.02L171.64 198.67L172.81 197.99L173.98 198.67zM168.58 200.02L167.41 200.69L166.24 200.02L166.24 198.67L167.41 197.99L168.58 198.67zM169.18 208.43L168.01 209.11L166.84 208.43L166.84 207.08L168.01 206.41L169.18 207.08zM167.83 210.77L166.66 211.45L165.49 210.77L165.49 209.42L166.66 208.75L167.83 209.42zM165.13 210.77L163.96 211.45L162.79 210.77L162.79 209.42L163.96 208.75L165.13 209.42zM165.13 206.1L163.96 206.77L162.79 206.1L162.79 204.75L163.96 204.07L165.13 204.75zM167.83 206.1L166.66 206.77L165.49 206.1L165.49 204.75L166.66 204.07L167.83 204.75zM163.03 219.19L161.86 219.86L160.69 219.19L160.69 217.84L161.86 217.16L163.03 217.84zM160.33 219.19L159.16 219.86L157.99 219.19L157.99 217.84L159.16 217.16L160.33 217.84zM158.98 216.85L157.81 217.53L156.64 216.85L156.64 215.5L157.81 214.83L158.98 215.5zM160.33 214.51L159.16 215.19L157.99 214.51L157.99 213.16L159.16 212.49L160.33 213.16zM163.03 214.51L161.86 215.19L160.69 214.51L160.69 213.16L161.86 212.49L163.03 213.16zM155.53 227.6L154.36 228.28L153.19 227.6L153.19 226.25L154.36 225.58L155.53 226.25zM158.23 222.93L157.06 223.6L155.89 222.93L155.89 221.58L157.06 220.9L158.23 221.58zM154.79 233.68L153.62 234.36L152.45 233.68L152.45 232.33L153.62 231.66L154.79 232.33zM150.74 231.35L149.57 232.02L148.4 231.35L148.4 230L149.57 229.32L150.74 230zM149.99 242.1L148.82 242.78L147.65 242.1L147.65 240.75L148.82 240.08L149.99 240.75zM144.59 242.1L143.42 242.78L142.25 242.1L142.25 240.75L143.42 240.08L144.59 240.75zM145.94 239.76L144.77 240.44L143.6 239.76L143.6 238.41L144.77 237.74L145.94 238.41zM148.64 239.76L147.47 240.44L146.3 239.76L146.3 238.41L147.47 237.74L148.64 238.41zM145.19 250.52L144.02 251.19L142.85 250.52L142.85 249.17L144.02 248.49L145.19 249.17zM143.84 252.85L142.67 253.53L141.5 252.85L141.5 251.5L142.67 250.83L143.84 251.5zM141.14 252.85L139.97 253.53L138.8 252.85L138.8 251.5L139.97 250.83L141.14 251.5zM139.79 250.52L138.62 251.19L137.45 250.52L137.45 249.17L138.62 248.49L139.79 249.17zM143.84 248.18L142.67 248.85L141.5 248.18L141.5 246.83L142.67 246.15L143.84 246.83zM134.99 258.93L133.82 259.61L132.65 258.93L132.65 257.58L133.82 256.91L134.99 257.58zM135.6 267.35L134.43 268.03L133.26 267.35L133.26 266L134.43 265.32L135.6 266zM134.25 269.69L133.08 270.36L131.91 269.69L131.91 268.34L133.08 267.66L134.25 268.34zM131.55 269.69L130.38 270.36L129.21 269.69L129.21 268.34L130.38 267.66L131.55 268.34zM131.55 265.01L130.38 265.69L129.21 265.01L129.21 263.66L130.38 262.99L131.55 263.66zM126.75 278.1L125.58 278.78L124.41 278.1L124.41 276.75L125.58 276.08L126.75 276.75zM125.4 275.77L124.23 276.44L123.06 275.77L123.06 274.42L124.23 273.74L125.4 274.42zM126.75 273.43L125.58 274.1L124.41 273.43L124.41 272.08L125.58 271.4L126.75 272.08z" fill="#ffffff" stroke="#555" stroke-width="0.45"/>
<path d="M179.52 185.52L178.35 186.2L177.18 185.52L177.18 184.17L178.35 183.5L179.52 184.17zM178.17 183.18L177 183.86L175.83 183.18L175.83 181.83L177 181.16L178.17 181.83zM179.52 180.85L178.35 181.52L177.18 180.85L177.18 179.5L178.35 178.82L179.52 179.5zM182.22 180.85L181.05 181.52L179.88 180.85L179.88 179.5L181.05 178.82L182.22 179.5zM178.77 191.6L177.6 192.28L176.43 191.6L176.43 190.25L177.6 189.58L178.77 190.25zM177.42 193.94L176.25 194.61L175.08 193.94L175.08 192.59L176.25 191.91L177.42 192.59zM173.37 191.6L172.2 192.28L171.03 191.6L171.03 190.25L172.2 189.58L173.37 190.25zM172.63 202.35L171.46 203.03L170.29 202.35L170.29 201L171.46 200.33L172.63 201zM169.93 197.68L168.76 198.35L167.59 197.68L167.59 196.33L168.76 195.65L169.93 196.33zM163.78 208.43L162.61 209.11L161.44 208.43L161.44 207.08L162.61 206.41L163.78 207.08zM164.38 216.85L163.21 217.53L162.04 216.85L162.04 215.5L163.21 214.83L164.38 215.5zM148.64 244.44L147.47 245.11L146.3 244.44L146.3 243.09L147.47 242.41L148.64 243.09zM145.94 244.44L144.77 245.11L143.6 244.44L143.6 243.09L144.77 242.41L145.94 243.09zM141.14 248.18L139.97 248.85L138.8 248.18L138.8 246.83L139.97 246.15L141.14 246.83zM140.39 258.93L139.22 259.61L138.05 258.93L138.05 257.58L139.22 256.91L140.39 257.58zM139.04 261.27L137.87 261.95L136.7 261.27L136.7 259.92L137.87 259.25L139.04 259.92zM136.34 261.27L135.17 261.95L134 261.27L134 259.92L135.17 259.25L136.34 259.92zM136.34 256.6L135.17 257.27L134 256.6L134 255.25L135.17 254.57L136.34 255.25zM130.8 275.77L129.63 276.44L128.46 275.77L128.46 274.42L129.63 273.74L130.8 274.42zM129.45 278.1L128.28 278.78L127.11 278.1L127.11 276.75L128.28 276.08L129.45 276.75zM129.45 273.43L128.28 274.1L127.11 273.43L127.11 272.08L128.28 271.4L129.45 272.08z" fill="#c8c8f4" stroke="#555" stroke-width="0.45"/>
<path d="M174.72 193.94L173.55 194.61L172.38 193.94L172.38 192.59L173.55 191.91L174.72 192.59zM177.42 189.26L176.25 189.94L175.08 189.26L175.08 187.91L176.25 187.24L177.42 187.91zM169.93 202.35L168.76 203.03L167.59 202.35L167.59 201L168.76 200.33L169.93 201zM172.63 197.68L171.46 198.35L170.29 197.68L170.29 196.33L171.46 195.65L172.63 196.33zM139.04 256.6L137.87 257.27L136.7 256.6L136.7 255.25L137.87 254.57L139.04 255.25zM130.2 267.35L129.03 268.03L127.86 267.35L127.86 266L129.03 265.32L130.2 266zM134.25 265.01L133.08 265.69L131.91 265.01L131.91 263.66L133.08 262.99L134.25 263.66z" fill="#f4c8c8" stroke="#555" stroke-width="0.45"/>
<path d="M159.58 225.27L158.41 225.94L157.24 225.27L157.24 223.92L158.41 223.24L159.58 223.92z" fill="#e02828" stroke="#555" stroke-width="0.45"/>
<path d="M158.23 227.6L157.06 228.28L155.89 227.6L155.89 226.25L157.06 225.58L158.23 226.25zM154.18 225.27L153.01 225.94L151.84 225.27L151.84 223.92L153.01 223.24L154.18 223.92z" fill="#f07070" stroke="#555" stroke-width="0.45"/>
<path d="M155.53 222.93L154.36 223.6L153.19 222.93L153.19 221.58L154.36 220.9L155.53 221.58zM150.74 236.02L149.57 236.7L148.4 236.02L148.4 234.67L149.57 234L150.74 234.67zM149.39 233.68L148.22 234.36L147.05 233.68L147.05 232.33L148.22 231.66L149.39 232.33z" fill="#7070f0" stroke="#555" stroke-width="0.45"/>
<path d="M153.44 236.02L152.27 236.7L151.1 236.02L151.1 234.67L152.27 234L153.44 234.67zM153.44 231.35L152.27 232.02L151.1 231.35L151.1 230L152.27 229.32L153.44 230z" fill="#2828e0" stroke="#555" stroke-width="0.45"/>
<path d="M173.2 186.72h8.2M168.41 195.13h8.2M163.61 203.55h8.2M158.81 211.97h8.2M154.01 220.38h8.2M149.22 228.8h8.2M144.42 237.22h8.2M139.62 245.63h8.2M134.82 254.05h8.2M130.02 262.47h8.2M125.23 270.88h8.2" stroke="#888" stroke-width="0.4" fill="none"/>
<polygon points="178,178.3 186.2,178.3 128.63,279.3 120.43,279.3" fill="none" stroke="#707070" stroke-width="0.7"/>
<line x1="202" y1="178" x2="161.86" y2="221" stroke="#000" stroke-width="0.9" stroke-dasharray="2.6,1.1"/>
<line x1="143.5" y1="279" x2="152.17" y2="238" stroke="#000" stroke-width="0.9" stroke-dasharray="2.6,1.1"/>
<text x="158.5" y="182.9" font-size="13.6" text-anchor="start" font-weight="bold" font-style="normal" font-family='"Liberation Sans", sans-serif' fill="#000" >D</text>
<text x="153.6" y="293.6" font-size="10.3" text-anchor="start" font-weight="normal" font-style="normal" font-family='"Liberation Sans", sans-serif' fill="#111" >6.52 kHz</text>
<clipPath id="clipE"><polygon points="311.3,178 370.8,178 312.3,279 252.8,279"/></clipPath>
<g clip-path="url(#clipE)">
<g filter="url(#blur1)">
<path fill="#f8e4e4" d="M309.3 176.5h3.2v3.2h-3.2zM312.3 176.5h3.2v3.2h-3.2zM360.3 179.5h3.2v3.2h-3.2zM363.3 179.5h3.2v3.2h-3.2zM354.3 182.5h3.2v3.2h-3.2zM366.3 182.5h3.2v3.2h-3.2zM351.3 185.5h3.2v3.2h-3.2zM366.3 185.5h3.2v3.2h-3.2zM336.3 218.5h3.2v3.2h-3.2zM342.3 224.5h3.2v3.2h-3.2zM276.3 242.5h3.2v3.2h-3.2zM285.3 245.5h3.2v3.2h-3.2zM327.3 251.5h3.2v3.2h-3.2zM312.3 266.5h3.2v3.2h-3.2zM258.3 278.5h3.2v3.2h-3.2z"/>
<path fill="#f8e8e8" d="M315.3 176.5h3.2v3.2h-3.2zM363.3 176.5h3.2v3.2h-3.2zM357.3 179.5h3.2v3.2h-3.2zM366.3 179.5h3.2v3.2h-3.2zM342.3 191.5h3.2v3.2h-3.2zM333.3 200.5h3.2v3.2h-3.2zM333.3 203.5h3.2v3.2h-3.2zM273.3 242.5h3.2v3.2h-3.2zM288.3 248.5h3.2v3.2h-3.2zM291.3 251.5h3.2v3.2h-3.2zM294.3 254.5h3.2v3.2h-3.2zM264.3 272.5h3.2v3.2h-3.2zM255.3 278.5h3.2v3.2h-3.2zM261.3 278.5h3.2v3.2h-3.2z"/>
<path fill="#f8f4f4" d="M318.3 176.5h3.2v3.2h-3.2zM372.3 176.5h3.2v3.2h-3.2zM318.3 179.5h3.2v3.2h-3.2zM318.3 182.5h3.2v3.2h-3.2zM318.3 185.5h3.2v3.2h-3.2zM336.3 194.5h3.2v3.2h-3.2zM300.3 209.5h3.2v3.2h-3.2zM267.3 245.5h3.2v3.2h-3.2zM270.3 245.5h3.2v3.2h-3.2zM273.3 245.5h3.2v3.2h-3.2zM327.3 248.5h3.2v3.2h-3.2zM306.3 266.5h3.2v3.2h-3.2zM315.3 269.5h3.2v3.2h-3.2zM267.3 275.5h3.2v3.2h-3.2zM264.3 278.5h3.2v3.2h-3.2z"/>
<path fill="#ececf8" d="M321.3 176.5h3.2v3.2h-3.2zM339.3 191.5h3.2v3.2h-3.2zM312.3 197.5h3.2v3.2h-3.2zM330.3 200.5h3.2v3.2h-3.2zM303.3 206.5h3.2v3.2h-3.2zM333.3 212.5h3.2v3.2h-3.2zM297.3 224.5h3.2v3.2h-3.2zM330.3 248.5h3.2v3.2h-3.2zM264.3 257.5h3.2v3.2h-3.2zM300.3 263.5h3.2v3.2h-3.2zM261.3 266.5h3.2v3.2h-3.2z"/>
<path fill="#dcdcf8" d="M324.3 176.5h3.2v3.2h-3.2zM345.3 176.5h3.2v3.2h-3.2zM342.3 188.5h3.2v3.2h-3.2zM321.3 194.5h3.2v3.2h-3.2zM330.3 194.5h3.2v3.2h-3.2zM315.3 197.5h3.2v3.2h-3.2zM327.3 197.5h3.2v3.2h-3.2zM300.3 230.5h3.2v3.2h-3.2zM339.3 230.5h3.2v3.2h-3.2zM333.3 236.5h3.2v3.2h-3.2zM279.3 248.5h3.2v3.2h-3.2zM300.3 266.5h3.2v3.2h-3.2zM303.3 269.5h3.2v3.2h-3.2zM273.3 275.5h3.2v3.2h-3.2zM285.3 278.5h3.2v3.2h-3.2z"/>
<path fill="#d0d0f8" d="M327.3 176.5h3.2v3.2h-3.2zM342.3 176.5h3.2v3.2h-3.2zM324.3 179.5h3.2v3.2h-3.2zM345.3 179.5h3.2v3.2h-3.2zM324.3 191.5h3.2v3.2h-3.2zM321.3 197.5h3.2v3.2h-3.2zM303.3 209.5h3.2v3.2h-3.2zM336.3 227.5h3.2v3.2h-3.2zM330.3 236.5h3.2v3.2h-3.2zM291.3 257.5h3.2v3.2h-3.2zM279.3 275.5h3.2v3.2h-3.2zM294.3 278.5h3.2v3.2h-3.2z"/>
<path fill="#c8c8f4" d="M330.3 176.5h3.2v3.2h-3.2zM339.3 176.5h3.2v3.2h-3.2zM324.3 188.5h3.2v3.2h-3.2zM327.3 191.5h3.2v3.2h-3.2zM333.3 191.5h3.2v3.2h-3.2zM324.3 200.5h3.2v3.2h-3.2zM327.3 203.5h3.2v3.2h-3.2zM330.3 209.5h3.2v3.2h-3.2zM300.3 218.5h3.2v3.2h-3.2zM336.3 230.5h3.2v3.2h-3.2zM315.3 236.5h3.2v3.2h-3.2zM327.3 236.5h3.2v3.2h-3.2zM276.3 251.5h3.2v3.2h-3.2zM270.3 257.5h3.2v3.2h-3.2zM267.3 266.5h3.2v3.2h-3.2zM282.3 275.5h3.2v3.2h-3.2zM309.3 275.5h3.2v3.2h-3.2zM300.3 278.5h3.2v3.2h-3.2zM303.3 278.5h3.2v3.2h-3.2z"/>
<path fill="#c0c0f4" d="M333.3 176.5h3.2v3.2h-3.2zM336.3 176.5h3.2v3.2h-3.2zM342.3 179.5h3.2v3.2h-3.2zM342.3 185.5h3.2v3.2h-3.2zM315.3 200.5h3.2v3.2h-3.2zM300.3 224.5h3.2v3.2h-3.2zM306.3 233.5h3.2v3.2h-3.2zM324.3 236.5h3.2v3.2h-3.2zM279.3 251.5h3.2v3.2h-3.2zM285.3 254.5h3.2v3.2h-3.2zM303.3 272.5h3.2v3.2h-3.2zM288.3 275.5h3.2v3.2h-3.2z"/>
<path fill="#e8e8f8" d="M348.3 176.5h3.2v3.2h-3.2zM333.3 194.5h3.2v3.2h-3.2zM330.3 197.5h3.2v3.2h-3.2zM330.3 203.5h3.2v3.2h-3.2zM300.3 212.5h3.2v3.2h-3.2zM336.3 224.5h3.2v3.2h-3.2zM339.3 227.5h3.2v3.2h-3.2zM309.3 236.5h3.2v3.2h-3.2zM336.3 236.5h3.2v3.2h-3.2zM321.3 239.5h3.2v3.2h-3.2zM327.3 242.5h3.2v3.2h-3.2zM273.3 248.5h3.2v3.2h-3.2zM270.3 251.5h3.2v3.2h-3.2zM267.3 254.5h3.2v3.2h-3.2zM294.3 257.5h3.2v3.2h-3.2zM264.3 260.5h3.2v3.2h-3.2zM297.3 260.5h3.2v3.2h-3.2zM264.3 269.5h3.2v3.2h-3.2zM306.3 269.5h3.2v3.2h-3.2zM270.3 275.5h3.2v3.2h-3.2zM270.3 278.5h3.2v3.2h-3.2z"/>
<path fill="#f0f0f8" d="M351.3 176.5h3.2v3.2h-3.2zM351.3 179.5h3.2v3.2h-3.2zM318.3 191.5h3.2v3.2h-3.2zM315.3 194.5h3.2v3.2h-3.2zM297.3 221.5h3.2v3.2h-3.2zM297.3 227.5h3.2v3.2h-3.2zM327.3 245.5h3.2v3.2h-3.2zM270.3 248.5h3.2v3.2h-3.2zM285.3 248.5h3.2v3.2h-3.2zM267.3 251.5h3.2v3.2h-3.2zM288.3 251.5h3.2v3.2h-3.2zM264.3 254.5h3.2v3.2h-3.2zM291.3 254.5h3.2v3.2h-3.2zM261.3 260.5h3.2v3.2h-3.2zM261.3 263.5h3.2v3.2h-3.2zM303.3 266.5h3.2v3.2h-3.2zM309.3 269.5h3.2v3.2h-3.2zM267.3 272.5h3.2v3.2h-3.2zM315.3 272.5h3.2v3.2h-3.2z"/>
<path fill="#f8f8f8" d="M354.3 176.5h3.2v3.2h-3.2zM351.3 182.5h3.2v3.2h-3.2zM318.3 188.5h3.2v3.2h-3.2zM345.3 188.5h3.2v3.2h-3.2zM333.3 209.5h3.2v3.2h-3.2zM297.3 218.5h3.2v3.2h-3.2zM276.3 245.5h3.2v3.2h-3.2zM279.3 245.5h3.2v3.2h-3.2zM267.3 248.5h3.2v3.2h-3.2zM255.3 266.5h3.2v3.2h-3.2zM261.3 269.5h3.2v3.2h-3.2zM312.3 269.5h3.2v3.2h-3.2z"/>
<path fill="#f8f0f0" d="M357.3 176.5h3.2v3.2h-3.2zM369.3 176.5h3.2v3.2h-3.2zM354.3 179.5h3.2v3.2h-3.2zM369.3 179.5h3.2v3.2h-3.2zM312.3 194.5h3.2v3.2h-3.2zM309.3 197.5h3.2v3.2h-3.2zM333.3 197.5h3.2v3.2h-3.2zM306.3 200.5h3.2v3.2h-3.2zM336.3 221.5h3.2v3.2h-3.2zM297.3 230.5h3.2v3.2h-3.2zM306.3 236.5h3.2v3.2h-3.2zM315.3 239.5h3.2v3.2h-3.2zM282.3 245.5h3.2v3.2h-3.2zM297.3 257.5h3.2v3.2h-3.2zM300.3 260.5h3.2v3.2h-3.2zM303.3 263.5h3.2v3.2h-3.2zM255.3 269.5h3.2v3.2h-3.2zM258.3 269.5h3.2v3.2h-3.2zM249.3 278.5h3.2v3.2h-3.2z"/>
<path fill="#f8ecec" d="M360.3 176.5h3.2v3.2h-3.2zM366.3 176.5h3.2v3.2h-3.2zM315.3 191.5h3.2v3.2h-3.2zM303.3 203.5h3.2v3.2h-3.2zM333.3 206.5h3.2v3.2h-3.2zM297.3 215.5h3.2v3.2h-3.2zM339.3 224.5h3.2v3.2h-3.2zM300.3 233.5h3.2v3.2h-3.2zM270.3 242.5h3.2v3.2h-3.2zM321.3 242.5h3.2v3.2h-3.2zM324.3 245.5h3.2v3.2h-3.2zM309.3 266.5h3.2v3.2h-3.2zM318.3 269.5h3.2v3.2h-3.2zM252.3 278.5h3.2v3.2h-3.2z"/>
<path fill="#f8dcdc" d="M306.3 179.5h3.2v3.2h-3.2zM315.3 182.5h3.2v3.2h-3.2zM357.3 182.5h3.2v3.2h-3.2zM363.3 182.5h3.2v3.2h-3.2zM348.3 188.5h3.2v3.2h-3.2zM312.3 191.5h3.2v3.2h-3.2zM309.3 194.5h3.2v3.2h-3.2zM306.3 197.5h3.2v3.2h-3.2zM294.3 221.5h3.2v3.2h-3.2zM294.3 227.5h3.2v3.2h-3.2zM273.3 239.5h3.2v3.2h-3.2zM279.3 242.5h3.2v3.2h-3.2zM324.3 248.5h3.2v3.2h-3.2zM252.3 275.5h3.2v3.2h-3.2zM264.3 275.5h3.2v3.2h-3.2z"/>
<path fill="#f8d4d4" d="M309.3 179.5h3.2v3.2h-3.2zM363.3 188.5h3.2v3.2h-3.2zM336.3 197.5h3.2v3.2h-3.2zM294.3 218.5h3.2v3.2h-3.2zM339.3 221.5h3.2v3.2h-3.2zM282.3 242.5h3.2v3.2h-3.2zM321.3 245.5h3.2v3.2h-3.2zM297.3 254.5h3.2v3.2h-3.2zM300.3 257.5h3.2v3.2h-3.2zM309.3 263.5h3.2v3.2h-3.2zM255.3 272.5h3.2v3.2h-3.2zM261.3 272.5h3.2v3.2h-3.2z"/>
<path fill="#f8d8d8" d="M312.3 179.5h3.2v3.2h-3.2zM360.3 182.5h3.2v3.2h-3.2zM315.3 185.5h3.2v3.2h-3.2zM363.3 185.5h3.2v3.2h-3.2zM300.3 188.5h3.2v3.2h-3.2zM339.3 194.5h3.2v3.2h-3.2zM303.3 200.5h3.2v3.2h-3.2zM336.3 215.5h3.2v3.2h-3.2zM303.3 236.5h3.2v3.2h-3.2zM318.3 242.5h3.2v3.2h-3.2zM303.3 260.5h3.2v3.2h-3.2z"/>
<path fill="#f8e0e0" d="M315.3 179.5h3.2v3.2h-3.2zM315.3 188.5h3.2v3.2h-3.2zM300.3 206.5h3.2v3.2h-3.2zM297.3 212.5h3.2v3.2h-3.2zM294.3 224.5h3.2v3.2h-3.2zM312.3 239.5h3.2v3.2h-3.2zM306.3 263.5h3.2v3.2h-3.2zM315.3 266.5h3.2v3.2h-3.2zM318.3 266.5h3.2v3.2h-3.2zM252.3 272.5h3.2v3.2h-3.2z"/>
<path fill="#e4e4f8" d="M321.3 179.5h3.2v3.2h-3.2zM348.3 182.5h3.2v3.2h-3.2zM318.3 194.5h3.2v3.2h-3.2zM309.3 200.5h3.2v3.2h-3.2zM306.3 203.5h3.2v3.2h-3.2zM333.3 215.5h3.2v3.2h-3.2zM303.3 233.5h3.2v3.2h-3.2zM324.3 239.5h3.2v3.2h-3.2zM333.3 239.5h3.2v3.2h-3.2zM264.3 263.5h3.2v3.2h-3.2zM312.3 272.5h3.2v3.2h-3.2zM273.3 278.5h3.2v3.2h-3.2zM276.3 278.5h3.2v3.2h-3.2zM279.3 278.5h3.2v3.2h-3.2z"/>
<path fill="#bcbcf4" d="M327.3 179.5h3.2v3.2h-3.2zM321.3 200.5h3.2v3.2h-3.2zM330.3 212.5h3.2v3.2h-3.2zM318.3 236.5h3.2v3.2h-3.2zM321.3 236.5h3.2v3.2h-3.2zM288.3 257.5h3.2v3.2h-3.2zM270.3 260.5h3.2v3.2h-3.2zM270.3 269.5h3.2v3.2h-3.2zM297.3 269.5h3.2v3.2h-3.2zM276.3 272.5h3.2v3.2h-3.2zM300.3 272.5h3.2v3.2h-3.2zM291.3 275.5h3.2v3.2h-3.2zM306.3 275.5h3.2v3.2h-3.2z"/>
<path fill="#acacf4" d="M330.3 179.5h3.2v3.2h-3.2zM327.3 182.5h3.2v3.2h-3.2zM327.3 185.5h3.2v3.2h-3.2zM333.3 227.5h3.2v3.2h-3.2zM330.3 233.5h3.2v3.2h-3.2zM282.3 254.5h3.2v3.2h-3.2zM294.3 266.5h3.2v3.2h-3.2zM273.3 269.5h3.2v3.2h-3.2zM282.3 272.5h3.2v3.2h-3.2zM294.3 272.5h3.2v3.2h-3.2z"/>
<path fill="#a8a8f4" d="M333.3 179.5h3.2v3.2h-3.2zM336.3 179.5h3.2v3.2h-3.2zM339.3 185.5h3.2v3.2h-3.2zM330.3 188.5h3.2v3.2h-3.2zM333.3 188.5h3.2v3.2h-3.2zM312.3 203.5h3.2v3.2h-3.2zM330.3 221.5h3.2v3.2h-3.2zM333.3 230.5h3.2v3.2h-3.2zM279.3 254.5h3.2v3.2h-3.2zM285.3 257.5h3.2v3.2h-3.2zM294.3 269.5h3.2v3.2h-3.2zM285.3 272.5h3.2v3.2h-3.2zM291.3 272.5h3.2v3.2h-3.2z"/>
<path fill="#b0b0f4" d="M339.3 179.5h3.2v3.2h-3.2zM336.3 188.5h3.2v3.2h-3.2zM330.3 218.5h3.2v3.2h-3.2zM303.3 230.5h3.2v3.2h-3.2zM276.3 254.5h3.2v3.2h-3.2zM273.3 257.5h3.2v3.2h-3.2zM270.3 263.5h3.2v3.2h-3.2zM270.3 266.5h3.2v3.2h-3.2z"/>
<path fill="#e0e0f8" d="M348.3 179.5h3.2v3.2h-3.2zM321.3 182.5h3.2v3.2h-3.2zM321.3 185.5h3.2v3.2h-3.2zM321.3 188.5h3.2v3.2h-3.2zM321.3 191.5h3.2v3.2h-3.2zM333.3 218.5h3.2v3.2h-3.2zM327.3 239.5h3.2v3.2h-3.2zM330.3 239.5h3.2v3.2h-3.2zM330.3 242.5h3.2v3.2h-3.2zM333.3 242.5h3.2v3.2h-3.2zM330.3 245.5h3.2v3.2h-3.2zM276.3 248.5h3.2v3.2h-3.2zM282.3 248.5h3.2v3.2h-3.2zM267.3 257.5h3.2v3.2h-3.2zM264.3 266.5h3.2v3.2h-3.2zM282.3 278.5h3.2v3.2h-3.2zM312.3 278.5h3.2v3.2h-3.2z"/>
<path fill="#f8d0d0" d="M306.3 182.5h3.2v3.2h-3.2zM303.3 185.5h3.2v3.2h-3.2zM354.3 185.5h3.2v3.2h-3.2zM312.3 188.5h3.2v3.2h-3.2zM300.3 191.5h3.2v3.2h-3.2zM309.3 191.5h3.2v3.2h-3.2zM363.3 191.5h3.2v3.2h-3.2zM297.3 194.5h3.2v3.2h-3.2zM306.3 194.5h3.2v3.2h-3.2zM291.3 203.5h3.2v3.2h-3.2zM300.3 203.5h3.2v3.2h-3.2zM297.3 209.5h3.2v3.2h-3.2zM294.3 230.5h3.2v3.2h-3.2zM297.3 233.5h3.2v3.2h-3.2zM273.3 236.5h3.2v3.2h-3.2zM276.3 239.5h3.2v3.2h-3.2zM309.3 239.5h3.2v3.2h-3.2zM288.3 245.5h3.2v3.2h-3.2zM291.3 248.5h3.2v3.2h-3.2zM294.3 251.5h3.2v3.2h-3.2zM312.3 263.5h3.2v3.2h-3.2zM321.3 263.5h3.2v3.2h-3.2zM258.3 272.5h3.2v3.2h-3.2zM255.3 275.5h3.2v3.2h-3.2z"/>
<path fill="#f4c8c8" d="M309.3 182.5h3.2v3.2h-3.2zM306.3 185.5h3.2v3.2h-3.2zM312.3 185.5h3.2v3.2h-3.2zM303.3 191.5h3.2v3.2h-3.2zM306.3 191.5h3.2v3.2h-3.2zM345.3 191.5h3.2v3.2h-3.2zM303.3 194.5h3.2v3.2h-3.2zM297.3 197.5h3.2v3.2h-3.2zM300.3 197.5h3.2v3.2h-3.2zM300.3 200.5h3.2v3.2h-3.2zM291.3 206.5h3.2v3.2h-3.2zM297.3 206.5h3.2v3.2h-3.2zM294.3 212.5h3.2v3.2h-3.2zM342.3 221.5h3.2v3.2h-3.2zM345.3 221.5h3.2v3.2h-3.2zM279.3 239.5h3.2v3.2h-3.2zM285.3 242.5h3.2v3.2h-3.2zM315.3 242.5h3.2v3.2h-3.2zM306.3 260.5h3.2v3.2h-3.2zM258.3 275.5h3.2v3.2h-3.2z"/>
<path fill="#f4cccc" d="M312.3 182.5h3.2v3.2h-3.2zM357.3 185.5h3.2v3.2h-3.2zM303.3 188.5h3.2v3.2h-3.2zM300.3 194.5h3.2v3.2h-3.2zM294.3 200.5h3.2v3.2h-3.2zM288.3 209.5h3.2v3.2h-3.2zM285.3 215.5h3.2v3.2h-3.2zM261.3 275.5h3.2v3.2h-3.2z"/>
<path fill="#c4c4f4" d="M324.3 182.5h3.2v3.2h-3.2zM324.3 185.5h3.2v3.2h-3.2zM339.3 188.5h3.2v3.2h-3.2zM330.3 191.5h3.2v3.2h-3.2zM309.3 203.5h3.2v3.2h-3.2zM306.3 206.5h3.2v3.2h-3.2zM300.3 221.5h3.2v3.2h-3.2zM333.3 224.5h3.2v3.2h-3.2zM300.3 227.5h3.2v3.2h-3.2zM333.3 233.5h3.2v3.2h-3.2zM282.3 251.5h3.2v3.2h-3.2zM273.3 254.5h3.2v3.2h-3.2zM297.3 266.5h3.2v3.2h-3.2zM273.3 272.5h3.2v3.2h-3.2zM285.3 275.5h3.2v3.2h-3.2z"/>
<path fill="#9c9cf0" d="M330.3 182.5h3.2v3.2h-3.2zM330.3 185.5h3.2v3.2h-3.2zM315.3 203.5h3.2v3.2h-3.2zM309.3 206.5h3.2v3.2h-3.2zM273.3 266.5h3.2v3.2h-3.2z"/>
<path fill="#9494f0" d="M333.3 182.5h3.2v3.2h-3.2zM333.3 185.5h3.2v3.2h-3.2zM303.3 218.5h3.2v3.2h-3.2zM303.3 221.5h3.2v3.2h-3.2zM303.3 227.5h3.2v3.2h-3.2zM327.3 233.5h3.2v3.2h-3.2zM282.3 257.5h3.2v3.2h-3.2zM291.3 266.5h3.2v3.2h-3.2z"/>
<path fill="#9898f0" d="M336.3 182.5h3.2v3.2h-3.2zM336.3 185.5h3.2v3.2h-3.2zM318.3 203.5h3.2v3.2h-3.2zM324.3 206.5h3.2v3.2h-3.2zM330.3 224.5h3.2v3.2h-3.2zM276.3 257.5h3.2v3.2h-3.2zM273.3 263.5h3.2v3.2h-3.2zM279.3 269.5h3.2v3.2h-3.2zM291.3 269.5h3.2v3.2h-3.2z"/>
<path fill="#a4a4f4" d="M339.3 182.5h3.2v3.2h-3.2zM321.3 203.5h3.2v3.2h-3.2zM288.3 272.5h3.2v3.2h-3.2z"/>
<path fill="#b8b8f4" d="M342.3 182.5h3.2v3.2h-3.2zM318.3 200.5h3.2v3.2h-3.2zM327.3 206.5h3.2v3.2h-3.2zM294.3 263.5h3.2v3.2h-3.2zM294.3 275.5h3.2v3.2h-3.2z"/>
<path fill="#ccccf8" d="M345.3 182.5h3.2v3.2h-3.2zM312.3 200.5h3.2v3.2h-3.2zM294.3 260.5h3.2v3.2h-3.2zM267.3 263.5h3.2v3.2h-3.2zM300.3 269.5h3.2v3.2h-3.2z"/>
<path fill="#f4c4c4" d="M309.3 185.5h3.2v3.2h-3.2zM306.3 188.5h3.2v3.2h-3.2zM309.3 188.5h3.2v3.2h-3.2zM351.3 188.5h3.2v3.2h-3.2zM297.3 200.5h3.2v3.2h-3.2zM294.3 203.5h3.2v3.2h-3.2zM297.3 203.5h3.2v3.2h-3.2zM336.3 209.5h3.2v3.2h-3.2zM288.3 212.5h3.2v3.2h-3.2zM285.3 218.5h3.2v3.2h-3.2zM282.3 221.5h3.2v3.2h-3.2zM291.3 221.5h3.2v3.2h-3.2zM291.3 224.5h3.2v3.2h-3.2zM276.3 236.5h3.2v3.2h-3.2zM300.3 236.5h3.2v3.2h-3.2zM324.3 254.5h3.2v3.2h-3.2z"/>
<path fill="#d8d8f8" d="M345.3 185.5h3.2v3.2h-3.2zM327.3 200.5h3.2v3.2h-3.2zM330.3 206.5h3.2v3.2h-3.2zM333.3 221.5h3.2v3.2h-3.2zM336.3 233.5h3.2v3.2h-3.2zM273.3 251.5h3.2v3.2h-3.2zM285.3 251.5h3.2v3.2h-3.2zM270.3 254.5h3.2v3.2h-3.2zM288.3 254.5h3.2v3.2h-3.2zM270.3 272.5h3.2v3.2h-3.2zM309.3 272.5h3.2v3.2h-3.2zM312.3 275.5h3.2v3.2h-3.2zM288.3 278.5h3.2v3.2h-3.2z"/>
<path fill="#f4f4f8" d="M348.3 185.5h3.2v3.2h-3.2zM342.3 227.5h3.2v3.2h-3.2zM318.3 239.5h3.2v3.2h-3.2zM324.3 242.5h3.2v3.2h-3.2zM264.3 251.5h3.2v3.2h-3.2zM261.3 257.5h3.2v3.2h-3.2zM258.3 260.5h3.2v3.2h-3.2zM258.3 263.5h3.2v3.2h-3.2zM258.3 266.5h3.2v3.2h-3.2zM267.3 278.5h3.2v3.2h-3.2z"/>
<path fill="#f8cccc" d="M360.3 185.5h3.2v3.2h-3.2zM303.3 197.5h3.2v3.2h-3.2zM336.3 212.5h3.2v3.2h-3.2zM294.3 215.5h3.2v3.2h-3.2zM324.3 251.5h3.2v3.2h-3.2zM315.3 263.5h3.2v3.2h-3.2zM318.3 263.5h3.2v3.2h-3.2z"/>
<path fill="#b4b4f4" d="M327.3 188.5h3.2v3.2h-3.2zM324.3 203.5h3.2v3.2h-3.2zM303.3 212.5h3.2v3.2h-3.2zM330.3 215.5h3.2v3.2h-3.2zM291.3 260.5h3.2v3.2h-3.2zM279.3 272.5h3.2v3.2h-3.2zM297.3 272.5h3.2v3.2h-3.2zM297.3 275.5h3.2v3.2h-3.2zM300.3 275.5h3.2v3.2h-3.2zM303.3 275.5h3.2v3.2h-3.2z"/>
<path fill="#f4b4b4" d="M354.3 188.5h3.2v3.2h-3.2zM357.3 188.5h3.2v3.2h-3.2zM288.3 224.5h3.2v3.2h-3.2zM279.3 227.5h3.2v3.2h-3.2zM312.3 242.5h3.2v3.2h-3.2zM321.3 251.5h3.2v3.2h-3.2zM321.3 257.5h3.2v3.2h-3.2zM312.3 260.5h3.2v3.2h-3.2zM315.3 260.5h3.2v3.2h-3.2z"/>
<path fill="#f4c0c0" d="M360.3 188.5h3.2v3.2h-3.2zM336.3 200.5h3.2v3.2h-3.2zM294.3 206.5h3.2v3.2h-3.2zM291.3 209.5h3.2v3.2h-3.2zM294.3 209.5h3.2v3.2h-3.2zM291.3 212.5h3.2v3.2h-3.2zM288.3 215.5h3.2v3.2h-3.2zM291.3 215.5h3.2v3.2h-3.2zM291.3 218.5h3.2v3.2h-3.2zM339.3 218.5h3.2v3.2h-3.2zM279.3 224.5h3.2v3.2h-3.2zM291.3 227.5h3.2v3.2h-3.2zM321.3 248.5h3.2v3.2h-3.2zM324.3 257.5h3.2v3.2h-3.2zM321.3 260.5h3.2v3.2h-3.2z"/>
<path fill="#d4d4f8" d="M336.3 191.5h3.2v3.2h-3.2zM324.3 194.5h3.2v3.2h-3.2zM327.3 194.5h3.2v3.2h-3.2zM318.3 197.5h3.2v3.2h-3.2zM324.3 197.5h3.2v3.2h-3.2zM300.3 215.5h3.2v3.2h-3.2zM312.3 236.5h3.2v3.2h-3.2zM267.3 260.5h3.2v3.2h-3.2zM297.3 263.5h3.2v3.2h-3.2zM267.3 269.5h3.2v3.2h-3.2zM276.3 275.5h3.2v3.2h-3.2zM291.3 278.5h3.2v3.2h-3.2zM309.3 278.5h3.2v3.2h-3.2z"/>
<path fill="#f4acac" d="M348.3 191.5h3.2v3.2h-3.2zM339.3 215.5h3.2v3.2h-3.2zM342.3 218.5h3.2v3.2h-3.2zM345.3 218.5h3.2v3.2h-3.2zM282.3 227.5h3.2v3.2h-3.2zM282.3 236.5h3.2v3.2h-3.2zM321.3 254.5h3.2v3.2h-3.2z"/>
<path fill="#f09898" d="M351.3 191.5h3.2v3.2h-3.2zM339.3 212.5h3.2v3.2h-3.2zM306.3 242.5h3.2v3.2h-3.2zM318.3 251.5h3.2v3.2h-3.2zM318.3 254.5h3.2v3.2h-3.2zM309.3 257.5h3.2v3.2h-3.2zM315.3 257.5h3.2v3.2h-3.2z"/>
<path fill="#f09494" d="M354.3 191.5h3.2v3.2h-3.2zM345.3 194.5h3.2v3.2h-3.2zM339.3 200.5h3.2v3.2h-3.2zM348.3 215.5h3.2v3.2h-3.2zM297.3 245.5h3.2v3.2h-3.2zM312.3 257.5h3.2v3.2h-3.2z"/>
<path fill="#f0a0a0" d="M357.3 191.5h3.2v3.2h-3.2zM285.3 233.5h3.2v3.2h-3.2zM288.3 233.5h3.2v3.2h-3.2zM288.3 236.5h3.2v3.2h-3.2zM291.3 236.5h3.2v3.2h-3.2zM291.3 239.5h3.2v3.2h-3.2zM300.3 251.5h3.2v3.2h-3.2zM303.3 254.5h3.2v3.2h-3.2z"/>
<path fill="#f4b8b8" d="M360.3 191.5h3.2v3.2h-3.2zM342.3 194.5h3.2v3.2h-3.2zM285.3 221.5h3.2v3.2h-3.2zM288.3 221.5h3.2v3.2h-3.2zM282.3 224.5h3.2v3.2h-3.2zM291.3 230.5h3.2v3.2h-3.2zM294.3 233.5h3.2v3.2h-3.2zM279.3 236.5h3.2v3.2h-3.2zM288.3 242.5h3.2v3.2h-3.2zM291.3 245.5h3.2v3.2h-3.2zM294.3 248.5h3.2v3.2h-3.2zM297.3 251.5h3.2v3.2h-3.2zM300.3 254.5h3.2v3.2h-3.2zM309.3 260.5h3.2v3.2h-3.2zM318.3 260.5h3.2v3.2h-3.2z"/>
<path fill="#f07878" d="M348.3 194.5h3.2v3.2h-3.2zM312.3 248.5h3.2v3.2h-3.2zM306.3 251.5h3.2v3.2h-3.2z"/>
<path fill="#ec6c6c" d="M351.3 194.5h3.2v3.2h-3.2zM354.3 206.5h3.2v3.2h-3.2zM348.3 212.5h3.2v3.2h-3.2zM309.3 251.5h3.2v3.2h-3.2z"/>
<path fill="#ec7474" d="M354.3 194.5h3.2v3.2h-3.2zM342.3 212.5h3.2v3.2h-3.2zM306.3 248.5h3.2v3.2h-3.2z"/>
<path fill="#f08c8c" d="M357.3 194.5h3.2v3.2h-3.2zM339.3 209.5h3.2v3.2h-3.2zM315.3 248.5h3.2v3.2h-3.2zM306.3 254.5h3.2v3.2h-3.2z"/>
<path fill="#f4b0b0" d="M360.3 194.5h3.2v3.2h-3.2zM339.3 197.5h3.2v3.2h-3.2zM285.3 224.5h3.2v3.2h-3.2zM288.3 227.5h3.2v3.2h-3.2zM279.3 230.5h3.2v3.2h-3.2zM279.3 233.5h3.2v3.2h-3.2zM297.3 236.5h3.2v3.2h-3.2zM285.3 239.5h3.2v3.2h-3.2zM303.3 239.5h3.2v3.2h-3.2z"/>
<path fill="#f08888" d="M342.3 197.5h3.2v3.2h-3.2zM339.3 203.5h3.2v3.2h-3.2zM351.3 212.5h3.2v3.2h-3.2zM345.3 215.5h3.2v3.2h-3.2zM300.3 245.5h3.2v3.2h-3.2zM303.3 251.5h3.2v3.2h-3.2zM315.3 254.5h3.2v3.2h-3.2z"/>
<path fill="#ec6060" d="M345.3 197.5h3.2v3.2h-3.2zM351.3 209.5h3.2v3.2h-3.2zM345.3 212.5h3.2v3.2h-3.2z"/>
<path fill="#e84848" d="M348.3 197.5h3.2v3.2h-3.2z"/>
<path fill="#e84444" d="M351.3 197.5h3.2v3.2h-3.2zM348.3 209.5h3.2v3.2h-3.2z"/>
<path fill="#ec5c5c" d="M354.3 197.5h3.2v3.2h-3.2zM342.3 209.5h3.2v3.2h-3.2z"/>
<path fill="#f08484" d="M357.3 197.5h3.2v3.2h-3.2zM339.3 206.5h3.2v3.2h-3.2zM309.3 245.5h3.2v3.2h-3.2z"/>
<path fill="#ec6464" d="M342.3 200.5h3.2v3.2h-3.2z"/>
<path fill="#e83c3c" d="M345.3 200.5h3.2v3.2h-3.2z"/>
<path fill="#e82828" d="M348.3 200.5h3.2v3.2h-3.2zM345.3 203.5h3.2v3.2h-3.2z"/>
<path fill="#e82c2c" d="M351.3 200.5h3.2v3.2h-3.2zM351.3 203.5h3.2v3.2h-3.2zM345.3 206.5h3.2v3.2h-3.2z"/>
<path fill="#ec5050" d="M354.3 200.5h3.2v3.2h-3.2zM342.3 203.5h3.2v3.2h-3.2zM342.3 206.5h3.2v3.2h-3.2z"/>
<path fill="#f08080" d="M357.3 200.5h3.2v3.2h-3.2zM303.3 245.5h3.2v3.2h-3.2zM306.3 245.5h3.2v3.2h-3.2zM315.3 251.5h3.2v3.2h-3.2z"/>
<path fill="#f4bcbc" d="M336.3 203.5h3.2v3.2h-3.2zM336.3 206.5h3.2v3.2h-3.2zM288.3 218.5h3.2v3.2h-3.2zM276.3 230.5h3.2v3.2h-3.2zM276.3 233.5h3.2v3.2h-3.2zM282.3 239.5h3.2v3.2h-3.2zM306.3 239.5h3.2v3.2h-3.2zM318.3 245.5h3.2v3.2h-3.2zM303.3 257.5h3.2v3.2h-3.2z"/>
<path fill="#e41c1c" d="M348.3 203.5h3.2v3.2h-3.2z"/>
<path fill="#ec5858" d="M354.3 203.5h3.2v3.2h-3.2z"/>
<path fill="#8080f0" d="M312.3 206.5h3.2v3.2h-3.2zM327.3 218.5h3.2v3.2h-3.2zM330.3 227.5h3.2v3.2h-3.2zM324.3 233.5h3.2v3.2h-3.2zM279.3 260.5h3.2v3.2h-3.2zM285.3 263.5h3.2v3.2h-3.2zM282.3 266.5h3.2v3.2h-3.2zM285.3 266.5h3.2v3.2h-3.2z"/>
<path fill="#7474ec" d="M315.3 206.5h3.2v3.2h-3.2zM315.3 233.5h3.2v3.2h-3.2z"/>
<path fill="#7474f0" d="M318.3 206.5h3.2v3.2h-3.2z"/>
<path fill="#8484f0" d="M321.3 206.5h3.2v3.2h-3.2zM306.3 212.5h3.2v3.2h-3.2zM327.3 215.5h3.2v3.2h-3.2zM306.3 230.5h3.2v3.2h-3.2zM330.3 230.5h3.2v3.2h-3.2zM282.3 260.5h3.2v3.2h-3.2zM276.3 263.5h3.2v3.2h-3.2zM279.3 266.5h3.2v3.2h-3.2zM288.3 266.5h3.2v3.2h-3.2z"/>
<path fill="#e82424" d="M348.3 206.5h3.2v3.2h-3.2z"/>
<path fill="#e84040" d="M351.3 206.5h3.2v3.2h-3.2zM345.3 209.5h3.2v3.2h-3.2z"/>
<path fill="#a0a0f0" d="M306.3 209.5h3.2v3.2h-3.2zM327.3 209.5h3.2v3.2h-3.2zM273.3 260.5h3.2v3.2h-3.2zM288.3 260.5h3.2v3.2h-3.2zM291.3 263.5h3.2v3.2h-3.2zM276.3 269.5h3.2v3.2h-3.2z"/>
<path fill="#7878f0" d="M309.3 209.5h3.2v3.2h-3.2z"/>
<path fill="#5c5cec" d="M312.3 209.5h3.2v3.2h-3.2zM309.3 230.5h3.2v3.2h-3.2zM327.3 230.5h3.2v3.2h-3.2z"/>
<path fill="#4c4cec" d="M315.3 209.5h3.2v3.2h-3.2z"/>
<path fill="#5050ec" d="M318.3 209.5h3.2v3.2h-3.2zM324.3 221.5h3.2v3.2h-3.2z"/>
<path fill="#6060ec" d="M321.3 209.5h3.2v3.2h-3.2z"/>
<path fill="#7c7cf0" d="M324.3 209.5h3.2v3.2h-3.2zM327.3 221.5h3.2v3.2h-3.2zM279.3 263.5h3.2v3.2h-3.2zM282.3 263.5h3.2v3.2h-3.2z"/>
<path fill="#5858ec" d="M309.3 212.5h3.2v3.2h-3.2zM324.3 215.5h3.2v3.2h-3.2z"/>
<path fill="#3838e8" d="M312.3 212.5h3.2v3.2h-3.2zM312.3 230.5h3.2v3.2h-3.2z"/>
<path fill="#2c2ce8" d="M315.3 212.5h3.2v3.2h-3.2zM324.3 227.5h3.2v3.2h-3.2z"/>
<path fill="#3434e8" d="M318.3 212.5h3.2v3.2h-3.2zM321.3 215.5h3.2v3.2h-3.2z"/>
<path fill="#4848e8" d="M321.3 212.5h3.2v3.2h-3.2z"/>
<path fill="#6868ec" d="M324.3 212.5h3.2v3.2h-3.2zM306.3 227.5h3.2v3.2h-3.2z"/>
<path fill="#9090f0" d="M327.3 212.5h3.2v3.2h-3.2zM303.3 224.5h3.2v3.2h-3.2zM279.3 257.5h3.2v3.2h-3.2zM285.3 260.5h3.2v3.2h-3.2zM282.3 269.5h3.2v3.2h-3.2zM288.3 269.5h3.2v3.2h-3.2z"/>
<path fill="#a0a0f4" d="M303.3 215.5h3.2v3.2h-3.2zM309.3 233.5h3.2v3.2h-3.2z"/>
<path fill="#6c6cec" d="M306.3 215.5h3.2v3.2h-3.2zM327.3 224.5h3.2v3.2h-3.2zM318.3 233.5h3.2v3.2h-3.2z"/>
<path fill="#4444e8" d="M309.3 215.5h3.2v3.2h-3.2z"/>
<path fill="#2424e8" d="M312.3 215.5h3.2v3.2h-3.2zM315.3 230.5h3.2v3.2h-3.2zM321.3 230.5h3.2v3.2h-3.2z"/>
<path fill="#1818e4" d="M315.3 215.5h3.2v3.2h-3.2zM312.3 227.5h3.2v3.2h-3.2z"/>
<path fill="#2020e8" d="M318.3 215.5h3.2v3.2h-3.2zM312.3 218.5h3.2v3.2h-3.2zM312.3 221.5h3.2v3.2h-3.2zM321.3 224.5h3.2v3.2h-3.2z"/>
<path fill="#f09090" d="M342.3 215.5h3.2v3.2h-3.2zM297.3 242.5h3.2v3.2h-3.2zM300.3 242.5h3.2v3.2h-3.2zM303.3 242.5h3.2v3.2h-3.2zM312.3 245.5h3.2v3.2h-3.2zM300.3 248.5h3.2v3.2h-3.2z"/>
<path fill="#6464ec" d="M306.3 218.5h3.2v3.2h-3.2zM306.3 221.5h3.2v3.2h-3.2zM306.3 224.5h3.2v3.2h-3.2z"/>
<path fill="#3c3ce8" d="M309.3 218.5h3.2v3.2h-3.2zM309.3 221.5h3.2v3.2h-3.2zM309.3 224.5h3.2v3.2h-3.2zM309.3 227.5h3.2v3.2h-3.2zM324.3 230.5h3.2v3.2h-3.2z"/>
<path fill="#1414e4" d="M315.3 218.5h3.2v3.2h-3.2zM315.3 221.5h3.2v3.2h-3.2z"/>
<path fill="#1c1ce4" d="M318.3 218.5h3.2v3.2h-3.2zM318.3 221.5h3.2v3.2h-3.2zM312.3 224.5h3.2v3.2h-3.2zM318.3 230.5h3.2v3.2h-3.2z"/>
<path fill="#3030e8" d="M321.3 218.5h3.2v3.2h-3.2zM321.3 221.5h3.2v3.2h-3.2z"/>
<path fill="#5454ec" d="M324.3 218.5h3.2v3.2h-3.2zM327.3 227.5h3.2v3.2h-3.2z"/>
<path fill="#0c0ce4" d="M315.3 224.5h3.2v3.2h-3.2zM321.3 227.5h3.2v3.2h-3.2z"/>
<path fill="#1010e4" d="M318.3 224.5h3.2v3.2h-3.2z"/>
<path fill="#4040e8" d="M324.3 224.5h3.2v3.2h-3.2z"/>
<path fill="#f4a8a8" d="M285.3 227.5h3.2v3.2h-3.2zM288.3 230.5h3.2v3.2h-3.2zM291.3 233.5h3.2v3.2h-3.2zM288.3 239.5h3.2v3.2h-3.2zM291.3 242.5h3.2v3.2h-3.2zM306.3 257.5h3.2v3.2h-3.2z"/>
<path fill="#0808e4" d="M315.3 227.5h3.2v3.2h-3.2zM318.3 227.5h3.2v3.2h-3.2z"/>
<path fill="#f4a4a4" d="M282.3 230.5h3.2v3.2h-3.2zM282.3 233.5h3.2v3.2h-3.2zM285.3 236.5h3.2v3.2h-3.2zM294.3 236.5h3.2v3.2h-3.2zM300.3 239.5h3.2v3.2h-3.2zM309.3 242.5h3.2v3.2h-3.2zM294.3 245.5h3.2v3.2h-3.2zM315.3 245.5h3.2v3.2h-3.2zM318.3 248.5h3.2v3.2h-3.2zM318.3 257.5h3.2v3.2h-3.2z"/>
<path fill="#f4a0a0" d="M285.3 230.5h3.2v3.2h-3.2zM297.3 248.5h3.2v3.2h-3.2z"/>
<path fill="#8888f0" d="M312.3 233.5h3.2v3.2h-3.2zM276.3 260.5h3.2v3.2h-3.2z"/>
<path fill="#7070ec" d="M321.3 233.5h3.2v3.2h-3.2z"/>
<path fill="#f09c9c" d="M294.3 239.5h3.2v3.2h-3.2zM297.3 239.5h3.2v3.2h-3.2zM294.3 242.5h3.2v3.2h-3.2z"/>
<path fill="#f07c7c" d="M303.3 248.5h3.2v3.2h-3.2zM309.3 254.5h3.2v3.2h-3.2zM312.3 254.5h3.2v3.2h-3.2z"/>
<path fill="#ec7070" d="M309.3 248.5h3.2v3.2h-3.2zM312.3 251.5h3.2v3.2h-3.2z"/>
<path fill="#8c8cf0" d="M288.3 263.5h3.2v3.2h-3.2zM276.3 266.5h3.2v3.2h-3.2zM285.3 269.5h3.2v3.2h-3.2z"/>
<path fill="#ccccf4" d="M306.3 272.5h3.2v3.2h-3.2zM297.3 278.5h3.2v3.2h-3.2zM306.3 278.5h3.2v3.2h-3.2z"/>
</g>
<path d="M251.1 179.11l-2.98 0.37M251.72 177.72l2.48 1.69M255.69 178.98l2.98 0.36M258.26 177.76l2.81 1.06M263.5 177.89l1.89 2.33M269.04 178.43l-2.99 0.24M270.88 177.97l2.3 1.92M272.9 178.27l2.93 0.66M277.6 178.75l3 0M284.24 177.42l-2.27 1.96M287.22 178.79l-2.5 1.66M288.3 177.9l2.94 0.6M294.14 178.81l-2.04 2.2M298.58 176.86l-1.57 2.56M300.99 178.02l-1.62 2.53M306.46 177.37l-2.34 1.88M323.49 179.84l1.05 -2.81M347.96 178.11l1.05 2.81M351.85 177.09l0.32 2.98M358.36 178.64l-2.05 2.19M362.48 178l-2.68 1.35M365.21 178.11l-2.95 0.56M368.25 180.71l-2.2 -2.04M371.97 179.84l-0.44 -2.97M247.6 182.75l2.9 0.76M253.72 181.91l-2.79 1.11M255.56 181.07l2.78 1.13M260.82 182.38l-2.75 1.19M264.05 181.97l-0.92 2.86M269.44 181.94l-2.48 1.69M271.88 181.28l-1.57 2.55M276.5 181.54l-2.05 2.19M280.01 180.96l-2.18 2.06M281.05 181.68l1.14 2.78M286.02 181.21l1.21 2.75M290.72 181.85l-1.9 2.32M293.93 181.24l-1.22 2.74M298.43 180.17l-1.26 2.72M301.88 180.59l-2.04 2.2M305.31 180.63l-2.36 1.85M349.65 181.02l-0.02 3M353.74 180.71l-1.55 2.57M358.14 181.22l-2.17 2.07M361.91 182.36l-2.98 0.35M364.95 183.66l-2.45 -1.73M368.56 184.05l-0.72 -2.91M371.95 184.1l-0.55 -2.95M250.63 185.11l-2.05 2.19M255.32 185.42l-2.84 0.96M257.65 186.28l-2.86 0.91M259.62 184.65l0.97 2.84M261.98 185.36l2.36 1.85M267.42 185.06l2.62 1.46M273.2 186.02l-2.78 1.12M276.89 186.13l-2.97 0.4M280.7 185.16l-2.95 0.55M280.87 184.92l2.77 1.15M287.37 184.2l-1.27 2.72M290.82 185l-1.57 2.55M294.16 183.8l-1.44 2.63M297.5 184.65l-1.55 2.57M301.88 185.06l-1.46 2.62M349.01 184.64l-1.21 2.75M353.9 184.14l-1.92 2.3M357.59 184.87l-2.6 1.5M360.92 184.75l-2.94 0.57M365.28 186.86l-1.41 -2.65M367.46 187.18l-0.34 -2.98M371.89 187.23l0.38 -2.98M251.5 189.58l-2.94 0.62M250.79 189.94l2.97 0.45M258.26 189.08l-2.64 1.43M261.95 188.49l-1.4 2.66M264.75 188.77l-0.74 2.91M266.32 189.45l2.99 0.21M272.79 188.59l-2.92 0.67M275.74 188.57l-2.18 2.06M276.95 188.27l2.95 0.54M283.43 188.19l-1.14 2.77M287.56 188.36l-1.65 2.5M291.29 188.94l-1.76 2.43M293.79 189.15l-1.99 2.25M298.73 187.48l-2.09 2.16M301.52 188.79l-1.96 2.27M326.59 190.44l-1.16 -2.77M351.1 189.44l-2.29 1.93M353.56 188.73l-2.81 1.05M357.11 188.51l-2.91 0.74M360.85 191.29l-2.43 -1.76M364.63 190.8l-0.3 -2.99M368.19 191.04l0.09 -3M372.24 191.86l0.25 -2.99M250.61 192.48l-2.95 0.57M253.61 192.61l-2.95 0.53M256.67 191.89l-1.74 2.45M261.6 192.33l-2.65 1.4M265.27 192.16l-2.4 1.8M267.5 190.81l1.36 2.68M273.9 193.36l-2.99 0.2M276.55 191.52l-2.62 1.47M277.47 191.13l1.56 2.56M283.77 190.78l-1.69 2.48M287.73 192.46l-1.59 2.55M290.51 191.95l-1.99 2.25M293.72 191.85l-1.89 2.33M298.13 191.47l-2.1 2.14M323.7 195.22l-0.43 -2.97M327.66 194.84l-2.33 -1.89M345.91 191.56l-2.64 1.43M353.31 191.79l-2.57 1.55M358.27 192.66l-2.98 -0.3M360.62 195.11l-0.95 -2.85M363.96 193.55l-0.7 -2.92M368.66 193.99l-0.01 -3M370.57 195.27l-0.26 -2.99M248.14 195.75l2.4 1.8M251.01 196.22l2.98 0.33M256.42 195.37l-0.11 3M258.52 195.76l2.51 1.65M263.12 195.57l2.83 1.01M268.57 196.49l-3 0.1M272.44 194.49l-1.11 2.79M276.32 194.28l-1.59 2.55M280.2 194.53l-1.58 2.55M283.14 194.68l-1.06 2.81M286.82 195.77l-1.7 2.47M291.09 194.67l-1.38 2.66M293.58 195.28l-1.38 2.67M314.39 198.06l2.23 -2.01M317.7 197.63l2.46 -1.72M321.2 197.27l2.52 -1.63M327.67 196.63l-2.69 -1.33M331.21 195.41l-2.63 1.45M334.73 196.01l-2.26 1.97M338.92 195.89l-2.41 1.79M357.73 197.72l-1.67 -2.49M359.84 198.55l-0.97 -2.84M363.22 197.76l-0.28 -2.99M367.62 197.54l0.75 -2.9M371.85 198.94l0.35 -2.98M248.4 198.39l2.44 1.75M252.18 199.64l1.65 2.51M256.92 197.88l-0.42 2.97M258.98 198.76l2.83 1M264.51 198.85l0.37 2.98M269.75 199.75l-2.63 1.44M270.57 197.99l1.22 2.74M276.77 200.42l-2.97 0.43M279.54 199.07l-1.49 2.6M282.71 198.55l-1.57 2.56M287.7 198.54l-1.62 2.52M290.6 199l-1.9 2.32M314.35 200.51l2.69 -1.34M318.82 200.71l2.96 -0.51M322.61 198.84l2.71 1.29M327.13 197.96l1.15 2.77M331.36 198.24l-0.52 2.95M334.19 199.25l-1.4 2.65M360.1 200.97l-0.66 -2.93M363.37 202.15l0.81 -2.89M367 201.89l0.78 -2.9M372.03 201.88l0.3 -2.99M250.1 202.22l-1.77 2.42M253.2 202.05l-2.18 2.07M258.74 204.55l-2.99 -0.26M261.68 204.32l-2.99 0.2M265.37 204.36l-2.98 -0.37M268.4 204.68l-2.93 -0.64M270.87 202.83l2.88 0.85M275.99 203.17l-2.38 1.82M280.14 201.51l-1.69 2.48M283.12 201.43l-1.04 2.82M287.66 202.54l-1.32 2.69M290.3 202.17l-1.57 2.55M293.77 202.4l-1.21 2.75M315.08 203.42l2.84 -0.95M318.82 204.13l2.99 0.21M321.3 203.7l2.89 0.79M325.18 202.06l2.51 1.64M329.68 202.43l0.79 2.9M334.65 201.32l0.31 2.98M360.43 205.53l0.26 -2.99M363.93 204.38l0.85 -2.88M368.51 204.47l0.26 -2.99M370.95 204.71l0.39 -2.98M250.87 205.83l-2.62 1.46M254.33 207.27l-2.99 0.23M257.4 206.84l-2.88 0.84M261.68 207.17l-2.98 -0.37M265.69 207.53l-2.98 -0.36M269.52 206.39l-2.99 0.24M273.64 206.4l-2.86 0.89M276.78 206.14l-2.42 1.77M279.44 206.23l-2.22 2.02M283.7 206.39l-1.18 2.76M287.86 206.65l-1.6 2.54M290.35 206l-1.73 2.45M294.68 206.63l-1.59 2.54M314.85 208.42l2.86 -0.92M317.37 207.19l2.96 0.51M322.04 205.82l2.63 1.44M325.62 205.22l2.13 2.11M329.39 204.89l1.77 2.42M334.5 205.53l1.06 2.81M336.9 205.3l0.45 2.97M359.91 207.53l0.51 -2.96M362.63 208.22l1.19 -2.75M368.28 207.98l0.12 -3M372.15 208.5l0.38 -2.98M251.57 209.11l-2.64 1.42M254.47 209.54l-2.57 1.55M257.57 210.14l-2.89 0.81M261.53 210.78l-3 0.12M264.59 209.71l-2.97 -0.42M269.82 210.51l-3 -0.01M273.96 209.65l-2.98 0.33M276.02 208.9l-2.66 1.38M279.94 210.21l-1.91 2.31M283.8 209.67l-2.01 2.23M286.56 209.49l-1.34 2.68M291.33 209.16l-1.24 2.73M294.4 209.56l-2 2.24M318.05 210.67l2.97 0.43M321.45 210.08l2.47 1.7M326.48 208.47l1.99 2.25M330.7 208.71l1.35 2.68M333.47 208.47l1.28 2.71M358.72 210.96l1.61 -2.53M364.32 211.18l1.09 -2.79M367.41 211.83l0.88 -2.87M371.82 212.48l0.75 -2.9M251.32 213.42l-2.18 2.06M254.52 212.35l-2.28 1.95M258.33 213.57l-2.67 1.37M261.38 214l-2.91 0.74M265.45 214.46l-2.92 0.67M270.26 214.65l-3 -0.01M272.96 213.81l-2.99 -0.18M276.44 213.83l-2.9 0.77M280.03 213.47l-2.09 2.15M284.04 212.91l-1.78 2.41M287.22 213.08l-1.86 2.35M290.04 212.48l-1.26 2.72M293.41 214.54l0.69 -2.92M296.29 216.15l1.25 -2.73M303.73 215.98l0.83 -2.88M325.69 213.31l1.26 2.72M348.43 215.23l2.64 -1.43M350.9 215l2.45 -1.74M356.11 215.66l1.56 -2.56M360.54 215.34l1.21 -2.75M363.26 215.93l2.06 -2.18M368.06 215.49l1.13 -2.78M371.24 215.34l0.82 -2.89M250.38 215.64l-1.01 2.82M254.04 216.62l-1.46 2.62M258.49 216.4l-2.52 1.62M262.35 216.11l-2.59 1.51M265.33 216.26l-2.81 1.04M269.96 217.67l-2.8 1.07M273.31 216.52l-2.74 1.23M276.88 217.7l-2.57 1.55M279.29 216.36l-2.26 1.97M283.85 216.65l-1.5 2.6M286.1 215.59l-1.25 2.73M290.14 216.28l-1.73 2.45M292.51 218.23l1.19 -2.76M296.57 218.59l1.5 -2.6M299.63 217.98l1.16 -2.76M303.71 219.46l0.32 -2.98M326.26 215.14l0.61 2.94M348.65 218.62l2.61 -1.48M351.62 218.56l2.67 -1.37M355.21 218.43l2.01 -2.23M360.05 218.73l2.13 -2.12M363.14 218.13l1.38 -2.66M367.89 219.36l1.48 -2.61M371.25 218.99l1.86 -2.35M249.5 218.78l-0.54 2.95M254.35 220.19l-0.77 2.9M255.75 220.3l-0 3M262 219.75l-1.93 2.29M265.6 220.09l-2.52 1.63M269.88 221.06l-2.37 1.84M273.04 220.8l-2.73 1.25M276.61 220.83l-2.49 1.67M280.59 219.64l-2.11 2.13M283.9 219.82l-1.94 2.28M287.63 219.02l-1.57 2.55M291.05 223.26l-1.5 -2.6M292.65 222.31l0.98 -2.83M297.45 222.75l0.45 -2.97M300.14 221.83l0.46 -2.97M347.13 220.43l2.91 -0.72M352.19 221.85l2.54 -1.59M355.81 221.81l2.55 -1.58M359.69 222.6l2.09 -2.16M363.33 222.32l2.21 -2.03M365.97 222.53l2.31 -1.91M369.73 221.95l2.18 -2.06M249.3 223.39l1.4 2.65M253.49 222.91l-0.05 3M256.95 223.39l0.17 3M261.2 223.33l-0.77 2.9M264.72 223.76l-0.52 2.95M269.35 224.02l-1.3 2.7M273 224.34l-2.05 2.19M277.15 223.86l-2.02 2.22M280.38 223.28l-2.55 1.59M284.87 223.73l-2.61 1.48M287.06 224.53l-2.83 1M290.13 225.31l-2.22 -2.01M293.63 226.41l-0.21 -2.99M297.33 225.69l0.71 -2.91M302.07 225.2l-0.17 -2.99M304.64 226.2l0.12 -3M348.69 224.91l2.86 -0.9M351.27 225.49l2.86 -0.9M354.4 225.85l2.51 -1.64M359.27 224.91l2.33 -1.89M362.55 225.39l2.22 -2.01M367.15 224.88l1.85 -2.36M371.12 224.79l1.89 -2.33M248.06 225.73l0.95 2.85M252.25 225.96l1.12 2.78M255.73 226.36l0.66 2.93M260.86 226.28l0.82 2.88M263.1 227.21l0.09 3M266.9 227.32l0.4 2.97M273.26 226l-2.07 2.17M275.77 225.81l-1.45 2.63M279.55 226.63l-2.1 2.14M284.18 227.86l-2.28 1.95M286.9 228.08l-2.69 1.32M291 228.66l-0.61 -2.94M293.85 229.57l-1 -2.83M298 229.59l-0.87 -2.87M300.75 229.05l0.07 -3M305.37 229.92l-0.9 -2.86M326.19 226.75l1.61 2.53M348.31 228.2l2.83 -1M351.42 227.77l2.66 -1.39M355.59 228.08l2.85 -0.94M358.58 227.87l2.86 -0.89M362.97 228.27l2.84 -0.98M366.04 228.44l2.85 -0.95M372.2 225.99l-1.59 2.54M248.83 229.9l1.81 2.39M251.69 229.39l1.83 2.38M256.73 230.17l1.2 2.75M260.26 229.5l1.37 2.67M263.18 230.66l0.99 2.83M268.3 230.43l0.96 2.84M270.84 229.26l-0.41 2.97M276.05 230.96l-0.02 3M278.28 229.35l-0.74 2.91M295.09 231.98l-1.39 -2.66M298.78 232.78l-1.74 -2.44M321.44 231.97l-2.97 -0.4M324.24 232.18l-2.95 0.56M327.99 231.45l-2.36 1.86M330.96 229.76l-0.76 2.9M336.08 231.18l-1.45 2.62M343.87 229.67l2.27 1.96M347.65 230.77l2.19 2.05M351.65 230.55l2.43 1.76M354.82 230.77l1.76 2.43M359.13 230.39l2.85 0.92M362.96 230.84l2.98 0.37M369.38 230.14l-1.66 2.5M371.08 230.65l1.41 2.65M247.77 233.26l1.75 2.44M252.33 234.46l2.21 2.03M254.97 234.2l1.92 2.31M260.49 234.1l1.14 2.77M262.95 233.4l1.71 2.47M268.16 232.85l0.71 2.91M271.78 232.69l0.44 2.97M274.59 234.28l0.85 2.88M278.02 233.25l1.04 2.82M317.56 235.67l-2.89 -0.81M320.72 234.36l-2.93 -0.64M324.88 233.63l-2.86 0.91M327.73 234.38l-2.89 0.81M331.46 235.51l-2.86 0.91M335.06 235.11l-2.77 1.16M339.73 234.39l-2.58 1.54M343.5 233.61l-2.22 2.02M345.64 232.94l-1.45 2.63M350.5 233.69l-1.63 2.52M353.03 234.19l-2.25 1.98M357.2 232.93l-0.97 2.84M360.78 234.65l-2.21 2.02M364.75 233.85l-2.28 1.95M369.67 234.2l-2.26 1.98M371.58 232.82l0.82 2.89M247.45 238.73l3 0.04M252.86 236.96l1.8 2.4M255.78 237.7l2.3 1.93M259.66 237.46l1.94 2.28M262.54 236.9l1.35 2.68M267.32 236.77l1.75 2.43M270.85 238.05l1.98 2.26M273.33 237.76l1.76 2.43M317.42 239.92l-2.86 -0.92M322.03 237.62l-2.99 0.28M324.78 239.38l-2.99 -0.25M328.16 238.47l-2.88 0.84M332.51 237.74l-2.8 1.08M335.75 238.51l-2.4 1.81M338.65 237.12l-1.47 2.61M343.68 236.96l-2.32 1.91M346.38 237.43l-1.88 2.33M351.37 237.73l-2.68 1.35M353.56 238.84l-2.74 1.22M356.87 238.15l-2.38 1.83M359.68 237.5l2.59 1.51M366.02 237.21l-2.67 1.38M369.22 236.48l-1.46 2.62M373.46 237.27l-2.9 0.78M247.96 242.34l2.9 0.75M251.92 241.93l2.39 1.82M256.7 241.13l1.48 2.61M259.93 241.09l1.64 2.51M262.22 240.41l1.77 2.42M266.05 241.03l1.83 2.38M269.51 241.18l2.05 2.19M272.98 242.17l2.6 1.5M317.28 243.05l-2.86 -0.89M320.9 241.33l-2.98 -0.37M323.99 242.21l-2.87 -0.86M329.28 242.43l-2.81 -1.06M331.25 243.76l-2.04 -2.2M332.21 241.85l2.65 1.41M337.17 241.74l2.04 2.2M341.32 241.1l1.08 2.8M345 240.67l0.69 2.92M348.97 239.84l-0.64 2.93M351.37 241.44l1.45 2.63M354.98 240.7l2.53 1.61M360.28 240l1.8 2.4M361.71 241.96l2.96 0.46M368.04 241.33l-1.47 2.62M370.6 240.57l2.46 1.71M248.73 244.99l2.55 1.58M252.93 244.17l0.44 2.97M255.79 243.8l1.87 2.35M260.04 245.56l2.48 1.69M263.29 244.34l2.27 1.96M266.81 243.66l2.11 2.13M270.03 244.02l2.74 1.22M321.45 246.38l-2.33 -1.89M323.87 246.32l-1.89 -2.33M327.35 246.34l-1.35 -2.68M330.36 247.5l-0.71 -2.92M334.98 247.44l-2.3 -1.92M337.32 243.57l1.14 2.77M341.28 243.67l0.75 2.91M345.71 244.22l-0.15 3M350.51 244.75l-1.22 2.74M352.12 243.67l0.96 2.84M356.9 244.41l0.99 2.83M358.3 244.03l2.85 0.94M363.18 243.57l0.9 2.86M368.91 244.04l-1.97 2.26M371.15 243.52l-0.36 2.98M249.54 248.17l-0.68 2.92M254.49 248.04l-1.71 2.47M255.74 247.87l1.48 2.61M259.27 248.47l2.58 1.53M262.49 248.14l2.78 1.12M266.4 248.34l3 0.11M270.05 248.92l2.87 -0.86M296.46 248.86l2.4 1.8M324.78 250.81l-1.96 -2.27M327.98 250.38l-1.91 -2.31M332.11 250.56l-2.07 -2.17M334.77 250.68l-2.5 -1.66M338.07 247.63l-1.92 2.3M343.12 247.35l-1.17 2.76M345.5 246.83l-1.1 2.79M351.07 249.04l-2.35 1.86M354.55 248.15l-2.6 1.5M354.71 249.56l2.96 0.46M360.83 247.04l-0.86 2.87M365.16 248.91l-2.69 1.34M368.53 249.51l-2.94 0.59M370.4 248.36l1.08 2.8M249.81 252l-2.76 1.18M254.19 251.93l-0.86 2.87M258.77 252.12l-3 0.1M258.52 254.54l2.02 -2.22M262.59 252.88l2.05 -2.19M266.37 254.14l2.28 -1.94M292.02 250.5l1.68 2.49M296.4 250.76l2.27 1.97M324.55 254.24l-0.88 -2.87M327.58 252.94l-1.23 -2.74M331.48 254.35l-2.44 -1.74M336.88 252.32l-2.98 -0.36M339.51 251.58l-2.9 0.76M342.82 250.83l-2.41 1.78M346.98 251.2l-2.49 1.68M350.04 251.93l-2.89 0.79M353.57 253.2l-2.82 -1.01M356.22 251.15l1.75 2.44M360.88 250.61l-2.35 1.86M364.99 252.63l-3 0.15M368.63 252.14l-2.95 0.55M372.01 252l-2.72 1.27M249.91 255.28l0.48 2.96M254.07 254.59l-1.77 2.42M257.29 254.5l0.24 2.99M259.05 257.64l1.18 -2.76M264.46 257.82l1.07 -2.8M266.87 256.84l2.02 -2.22M293.34 254.78l2.38 1.83M296.11 255.86l2.38 1.83M300.12 254.19l1.79 2.4M323.73 257.2l-0.34 -2.98M328.46 256.75l-1.28 -2.71M332.28 257.32l-2.33 -1.89M336.46 255.61l-2.92 -0.67M339.57 256.34l-2.98 -0.38M342.68 257.1l-2.84 -0.96M347.46 256.41l-2.68 -1.34M349.53 256.81l-2.32 -1.9M353.15 255.98l-2.34 -1.87M357.62 256.55l-1.69 -2.48M360.67 253.75l-1.38 2.66M364.46 255.17l-1.67 2.49M368.25 254.07l-1.69 2.48M372.98 255.33l-1.59 2.55M251.49 257.92l-2.48 1.68M253.38 257.66l-0.07 3M255.25 257.74l1.22 2.74M259.14 261.3l1.78 -2.42M263.79 260.97l1.27 -2.72M267.48 259.91l1.43 -2.64M269.8 260.61l1.76 -2.43M295.45 257.79l2.52 1.62M322.69 260.91l1.64 -2.51M326.97 261.68l0.57 -2.95M332.06 260.32l-1.88 -2.34M334.73 261.18l-1.64 -2.51M339.72 260.93l-2.25 -1.98M343.54 261.71l-1.66 -2.5M347.05 260.71l-2.04 -2.2M349.22 260.62l-1.83 -2.37M353.64 261.69l-1.36 -2.68M357.56 260.51l-2.05 -2.19M360.15 257.37l1.62 2.53M363.74 257.39l-1.44 2.63M367.76 258.96l-0.8 2.89M373 259.19l-2.89 0.81M249.38 261.45l1.44 2.63M252.54 262.02l2.45 1.74M256.97 263.52l0.79 -2.9M259.83 264.44l1.23 -2.74M263.69 265.4l0.8 -2.89M266.64 263.98l1.22 -2.74M271.91 265.1l0.8 -2.89M321.24 263.79l2.63 -1.44M326.78 263.85l1.98 -2.26M330.52 263.77l0.43 -2.97M334.55 264.34l0.34 -2.98M337.17 264.37l-0.07 -3M342.67 264.31l-1.36 -2.67M346.18 264.55l-0.75 -2.91M350.1 264.5l-1.55 -2.57M353.14 264.65l-1.6 -2.54M357.93 265.07l-0.94 -2.85M360.6 264.11l-1.46 -2.62M363.97 261.77l-0.96 2.84M368.61 263.19l-2.91 0.73M372.86 262.98l-2.27 1.96M247.28 265.29l2.59 1.51M254.34 267.06l-2.78 -1.13M256.31 266.97l0.64 -2.93M260.23 268.3l-0.45 -2.97M264.84 267.07l0.14 -3M267.88 268.24l0.03 -3M270.62 267.14l0.54 -2.95M274.52 268.01l0.08 -3M313.9 265.75l2.92 0.69M318.35 266.61l2.98 0.3M321.17 266.49l3 0.07M326.16 266.17l2.88 -0.84M329.56 266.97l2.42 -1.78M333.3 267.34l1.88 -2.34M337.91 267.94l1.02 -2.82M341.19 268.72l1.5 -2.6M344.82 268.61l0.31 -2.98M349.48 267.98l-0.08 -3M352.93 267.49l-0.53 -2.95M357.47 268.07l-0.95 -2.85M359.61 268.68l-0.56 -2.95M363.89 267.5l-1.71 -2.47M368.43 264.52l-1.75 2.44M370.44 265.89l1.27 2.72M250.27 270.17l-2.9 0.77M254.96 269.21l-2.94 0.6M258.7 270.24l-3 0.03M262.51 270.24l-2.74 -1.23M264.34 270.52l-1.13 -2.78M269.39 271.64l-1.42 -2.64M272.21 270.65l-1.54 -2.57M276.91 270.46l-2.37 -1.84M314.91 269.91l2.91 0.72M318.35 268.85l2.97 0.45M321.12 269.08l2.84 0.97M324.95 269.63l2.99 0.17M330.04 270.82l2.99 -0.2M332.47 271.09l2.84 -0.98M337.82 270.13l2.25 -1.99M339.56 271.5l2.64 -1.43M345.07 270.85l0.89 -2.87M348.6 270.63l0.9 -2.86M353.21 271.36l-0.27 -2.99M357.15 271.53l-0.74 -2.91M360.89 270.78l-1.07 -2.8M365.2 271.65l-0.89 -2.87M367.97 269.4l0.6 2.94M370.19 268.76l2.18 2.06M249.39 272.6l-1.67 2.49M253.26 273.06l-2.13 2.11M257.91 272.78l-2.86 0.89M261.92 272.99l-3 -0.17M265.06 274.09l-2.77 -1.15M269.65 275.46l-2.13 -2.11M272.26 274.38l-2.35 -1.87M276.46 274.06l-2.66 -1.38M280.85 274.53l-3 -0.14M315.26 273.11l2.72 1.27M318.63 273.18l2.3 1.93M322.37 272.69l2.86 0.91M324.92 273.21l2.88 0.84M329.05 273.21l3 0.01M331.91 272.88l3 0.17M336.33 273.53l2.94 -0.62M340.72 275.03l2.62 -1.46M345.18 274.77l2.09 -2.15M348.44 273.9l1.27 -2.72M352.41 274.11l1.15 -2.77M356.62 274.2l0.14 -3M361.29 275.38l0 -3M364.01 274.22l-0.8 -2.89M366.02 271.36l1.73 2.45M370 274.09l2.94 0.57M248.91 276.35l1.96 2.27M252.28 275.47l1.44 2.63M254.57 276.79l2.53 1.61M258.22 276.47l2.96 0.52M263.31 277.89l0.56 -2.95M266.2 279.06l1.84 -2.37M271 279.29l-0.08 -3M275.81 277.19l-2.64 -1.42M280.61 278.12l-2.93 -0.64M283.09 276.61l-2.76 -1.17M294.26 277.86l-2.94 -0.6M299.72 276.67l-2.94 -0.58M311.08 274.75l1.05 2.81M315.44 276.36l-0.26 2.99M319.04 275.12l0.86 2.87M322.45 276.21l1.42 2.64M326.74 276.94l2.51 1.65M330.07 276.87l2.83 0.99M333.26 276.62l3 0.13M335.97 276.68l2.99 0.21M340.91 277.96l3 0.06M343.61 277.02l2.77 -1.15M347.2 277l2.77 -1.15M352.25 278.27l2.3 -1.92M355.9 279l1.64 -2.51M360 277.78l1.04 -2.81M363.61 275.18l0.15 3M368.84 275.81l-1.12 2.78M371.49 276.09l-1.28 2.72" stroke="#222" stroke-width="0.55" opacity="0.7" fill="none"/>
<path d="M308.19 180.05l-0.75 -2.9M312.43 180.22l0.83 -2.88M315.1 180.71l2.33 -1.89M317.57 178.73l2.75 -1.19M328.5 180.59l-1.18 -2.76M330.12 179.82l-0.63 -2.93M334.65 179.74l1.18 -2.76M336.25 180.16l2 -2.23M340.81 178.93l2.93 -0.63M343.24 178.16l2.99 -0.24M309.91 183.94l-1.8 -2.4M321.27 182.29l2.8 1.08M328.78 183.6l-1.98 -2.25M330.85 183.63l-1.78 -2.42M340.76 182.29l2.9 0.77M343.41 182.16l2.8 1.07M306.09 187.2l-2.75 -1.21M310.72 186.1l-2.68 -1.35M319.08 184.12l2.36 1.85M322.98 184.12l2.42 1.77M328.82 185.89l-2.55 -1.58M332.9 186.45l-2.81 -1.06M340.82 185.35l1.76 2.43M344 185.45l2.06 2.18M306.61 189.05l-2.94 -0.61M309.16 189.72l-3 0.04M313.43 189.47l-2.6 1.49M318.97 188.6l0.21 2.99M323.3 188.47l1.34 2.69M332.65 188.5l-3 0.07M339.19 188.42l-0.47 2.96M342.05 188.44l0.74 2.91M344.4 187.42l1.54 2.58M301.34 194.21l1.02 -2.82M304.42 194.7l1.91 -2.31M310.3 192.28l-2.83 1M313.55 191.43l-2.36 1.85M316.05 191.67l-1.55 2.57M319.46 192.16l-0.41 2.97M332.6 192.22l-2.77 1.15M335.09 192.83l-2.3 1.92M338.96 190.8l-1.02 2.82M341.66 190.99l-0.05 3M348.03 194.57l2.07 -2.17M297.5 198.63l-0.89 -2.87M301.44 197.73l0.65 -2.93M303.81 198.02l1.77 -2.42M307.76 196.82l2.79 -1.09M310.61 197.4l3 -0.15M341.62 197.73l-0.37 -2.98M344.55 198.3l0.59 -2.94M347.35 198.01l2.02 -2.22M350.91 197.81l2.9 -0.78M295.42 201.38l-1.91 -2.31M298.49 201.34l-1.57 -2.56M301.09 200.96l-0.59 -2.94M307.91 200.19l2.99 0.25M310.06 199.73l2.95 0.55M338.67 200.42l-1.65 -2.5M343.3 202.15l-1.57 -2.56M352.34 200.06l2.95 0.56M355.4 199.55l2.89 0.82M299.42 203.52l-2.32 -1.9M310.48 203.24l2.16 2.08M338.34 203.47l-2.38 -1.82M342.13 203.85l-2.44 -1.74M352.57 203.35l2.05 2.19M356.17 202.38l2.45 1.73M298.15 206.5l-2.92 -0.67M302.7 207.41l-2.77 1.15M307.84 205.19l0.58 2.94M311.75 205.6l1.51 2.59M343.25 206.97l-3 -0.03M346.19 207.09l-2.7 1.31M352.51 205.8l0.96 2.84M355.2 206.47l1.33 2.69M298.63 210.8l-2.92 0.69M302.35 209.4l-2.61 1.47M306 208.7l-1.4 2.65M308.21 208.95l-0.47 2.96M312.34 208.43l0.84 2.88M315.75 211.91l2 -2.24M337.7 212.14l2.11 -2.13M342.65 210.88l-2.85 0.94M347.24 208.53l-2.16 2.08M350.3 209.27l-0.88 2.87M352.94 208.84l0.15 3M355.37 208.33l0.87 2.87M303.08 212.7l-2.22 2.02M308.09 211.92l-0.89 2.86M311.74 214.92l0.56 -2.95M314.94 214.91l1.84 -2.37M317.78 214.36l2.61 -1.49M322.1 214.27l2.98 -0.34M330.43 215.46l-0.44 -2.97M334.05 216.25l0.67 -2.92M337.21 215.7l2.17 -2.07M340.56 215l2.85 -0.94M347.33 212.51l-1.95 2.28M308.55 218.39l-1.35 -2.68M311.78 219.41l-0.89 -2.87M318.52 217.93l3 -0.06M321.14 217.42l2.97 0.42M330.53 219.3l-1.58 -2.55M339.54 218.28l3 -0.06M343.74 216.93l2.97 0.44M305.99 222.53l-2.56 -1.57M309.26 221.9l-2.43 -1.75M321.21 219.85l2.61 1.47M327.6 222.63l-2.58 -1.54M331.4 221.74l-2.38 -1.83M344.24 219.86l2.58 1.52M310.08 224.93l-2.98 -0.36M313.66 224.72l-2.87 0.87M319.44 223.85l0.63 2.93M321.98 222.63l1.77 2.42M329.4 225.02l-2.92 -0.68M333.05 224.26l-2.98 -0.31M340.53 223.02l0.88 2.87M344.65 223.63l1.6 2.54M310.46 228.37l-2.89 0.8M313.51 226.36l-2.68 1.34M316.06 226.07l-1.79 2.41M320.02 225.72l0.19 2.99M322.76 227.01l0.63 2.93M332.45 228.41l-2.85 0.94M334.8 227.5l-2.6 1.49M338.74 227.63l-1.3 2.7M342.56 227.19l0.16 3M344.28 225.89l0.91 2.86M283.26 233.03l0.2 -2.99M285.14 233.1l0.74 -2.91M288.15 233.03l1.73 -2.45M300.19 233.13l0.63 -2.93M304.42 231.81l1.95 -2.28M307.98 232.03l2.65 -1.41M313.41 229.88l-2.39 1.82M316.66 230.26l-1.58 2.55M339.54 230.45l-1.19 2.75M341.43 229.16l-0.52 2.95M282.55 237.3l-1 -2.83M286.43 236.22l0.82 -2.89M289.27 236.83l2.35 -1.87M291.68 236.26l2.89 -0.81M295 234.98l2.99 -0.21M301.07 236.72l0.31 -2.98M304.64 235.45l2.19 -2.05M307.85 235l2.86 -0.9M311.13 235.88l2.99 0.2M280.82 240.15l-2.1 -2.15M283.44 239.33l-1.55 -2.57M292.74 238.84l2.86 0.9M298.38 240.46l-2.05 -2.19M309.82 238.12l2.89 0.81M279.64 243.5l-2.75 -1.21M284.5 242.88l-2.82 -1.04M292.98 241.1l1.96 2.27M298.09 242.35l-2.63 -1.45M311.44 241.42l2.11 2.13M274.69 247.19l-0.12 -3M277.63 247.69l0.7 -2.92M283.63 245.88l-3 0.12M287.57 245.09l-2.68 1.36M290.57 244.51l-1.12 2.78M293.55 244.56l0.48 2.96M299.54 245.07l-3 -0.04M301.78 245.34l-2.88 0.85M304.85 245.14l-1.87 2.35M308.56 244.92l0.21 2.99M311.84 247.31l1.76 -2.43M315.01 246.12l2.51 -1.64M275.55 250.96l-0.85 -2.88M277.95 249.73l0.47 -2.96M281.08 249.25l2.07 -2.17M287.77 247.38l-2.35 1.86M290 247.28l-1.6 2.54M294.07 247.12l-0.04 3M302.38 248.25l-2.47 1.7M304.96 248.36l-1.75 2.43M307.73 249.95l-0.27 -2.99M313.85 249.38l2.57 -1.55M317.78 249.86l3 0.03M272.33 253.78l-2.16 -2.08M276.75 253.13l-1.43 -2.64M285.31 252.22l2.86 0.89M289.53 251.91l2.75 1.19M303.01 253.6l-2.15 -2.09M305.7 252.99l-1.8 -2.4M317.2 251.9l2.89 0.8M273.71 256.73l-2.76 -1.18M276.45 255.88l-2.68 -1.35M289.4 255.42l2.04 2.2M306.36 255.99l-2.66 -1.39M318.88 255.03l2.02 2.22M276.64 259.45l-2.98 0.36M280.6 258.61l-2.39 1.82M285.49 257.72l0.5 2.96M289.43 259.68l2.12 -2.12M292.03 260.43l2.74 -1.22M301.11 261.72l0.6 -2.94M303.08 261.09l1.54 -2.58M309.32 258.56l-2.96 0.46M316.19 257.51l0.28 2.99M319.17 257.97l1.08 2.8M276.71 263.16l-2.74 1.22M279.57 262.3l-2.34 1.87M283.92 264.27l-0.9 -2.86M286.48 263.64l0.57 -2.95M292.37 262.91l2.98 -0.37M297.66 263.64l-1.1 -2.79M306.27 263.6l2.91 -0.73M313.89 262.31l-1.52 2.59M316.25 260.89l-0.56 2.95M319.32 260.71l0.4 2.97M279.46 267.75l-2.44 -1.75M283.28 267.82l-2.44 -1.75M292.92 266.38l2.42 1.77M298 267l-2.19 -2.05M310.7 266.47l2.42 1.78M280.35 270.37l-2.84 -0.97M283.29 270.15l-2.92 -0.7M293.04 267.97l1.6 2.54M298.92 270.93l-2.98 -0.33M311.61 268l2.01 2.23M284.95 273.77l-2.84 0.96M286.79 272.41l-2.71 1.29M291.23 271.62l-0.86 2.87M293.69 272.97l-0.08 3M298.55 272.72l-2.99 0.2M302.7 272.46l-2.59 1.51M304.9 271.96l-1.82 2.39M308.47 272.09l-0.1 3M312.01 271.32l1.09 2.79M287.47 276.02l-2.26 1.97M290.68 275.69l-1.42 2.64M302.49 275.37l-2.38 1.83M306.36 274.95l-1.3 2.7M309.22 275.18l-0.43 2.97" stroke="#111" stroke-width="0.6" opacity="0.8" fill="none"/>
<path d="M317.8 184.79L321.34 186.99M317.79 184.97L321.5 187.34M317.61 185.74L320.46 189.28M317.19 186.52L317.95 189.95M316.62 187.09L317.16 190.24M316.34 187.27L316.78 189.88M315.7 187.56L315.46 190.34M315.31 187.66L313.01 191.79M314.22 187.64L312.56 190.12M313.75 187.51L311.58 189.97M313.16 187.21L309.32 189.79M312.55 186.69L308 187.68M312.57 186.71L307.87 187.28M311.93 185.57L308.63 184.62M311.89 185.41L307.6 183.53M311.81 184.94L308.15 183.4M311.82 184.31L308.61 180.85M311.93 183.82L308.36 181.17M312.25 183.12L311.1 179.3M312.49 182.79L311.18 179.12M313.15 182.19L313.56 178.2M314.05 181.79L314.17 178.16M314.8 181.7L316 178.43M314.81 181.7L317.13 178.81M315.56 181.8L317.87 178.34M316.29 182.1L318.9 180.12M316.71 182.39L319.65 181.02M317.22 182.93L320.2 182.5M317.52 183.43L321.12 184.72M317.78 184.33L320.89 185M339.48 184.38L342.35 186.75M339.4 185.45L341.54 188.2M339.36 185.6L341.9 188.74M338.87 186.54L340.31 189.8M338.34 187.07L338.2 191.53M337.87 187.37L337.86 190.57M337.19 187.62L335.33 190.1M336.39 187.7L334.54 189.84M336.12 187.68L334.24 191.7M335.19 187.4L332.59 188.64M334.93 187.26L332.63 188.99M334.19 186.61L330.18 186.73M334.12 186.52L329.76 186.46M333.91 186.21L330.53 186.18M333.58 185.4L330.64 184.48M333.51 184.97L329.83 182.36M333.58 184L331.24 181.29M333.71 183.6L332.17 180.22M334.21 182.76L333.02 180.35M334.41 182.55L332.62 178.36M334.81 182.22L335.02 178.27M335.29 181.96L334.92 178.58M336.02 181.74L337.44 179.12M336.58 181.7L339.29 179.12M337.58 181.9L339.93 179.19M337.94 182.07L341.05 181.26M338.81 182.79L341.51 182.22M338.93 182.94L342.94 182.11M339.05 183.12L342.42 183.85M339.4 183.93L343.47 184.63M307.47 202.71L311.03 203.57M307.32 204.12L309.15 207.43M307.16 204.49L309.46 207.53M306.87 204.93L309.03 207.9M306.76 205.08L308.57 208.19M306.19 205.58L306.98 208.41M305.03 206.05L302.95 210.34M304.42 206.1L303.27 208.52M304.16 206.08L302.08 209.6M303.58 205.95L300.97 207.32M302.85 205.6L299.38 208.57M302.45 205.29L298.35 206.6M302.01 204.77L298.01 205.07M301.85 204.5L297.16 204.22M301.65 204.02L298.33 203.56M301.5 203.23L298.88 202.26M301.51 202.81L297.74 200.76M301.82 201.74L300.36 198.69M301.86 201.67L300 198.02M302.31 201.05L300.98 197.92M302.9 200.56L301.83 196.64M303.67 200.22L305.22 195.79M303.82 200.18L304.11 195.96M304.76 200.11L307.77 197.5M305.77 200.38L308.53 199.31M306.31 200.71L310.45 199.11M306.37 200.76L309.9 198.55M307.06 201.54L310.67 202.06M307.1 201.61L311.26 201.14M307.46 202.6L311.97 203.25M350.5 203.07L353.56 205.29M350.4 203.88L353.8 207.02M350.26 204.28L353.52 206.9M350.03 204.71L352.05 208.29M349.61 205.23L350.25 208.7M348.98 205.71L349.05 210.33M348.11 206.04L347.16 210.54M347.99 206.06L347.55 208.79M347.39 206.1L345.01 208.09M346.99 206.06L343.63 208.69M346.26 205.83L342.69 207.82M345.39 205.24L340.94 206.26M344.96 204.7L341.36 205.53M344.63 203.98L340.55 202.38M344.54 203.62L340.58 203.12M344.5 203.26L340.4 200.88M344.65 202.15L342.78 199.1M344.61 202.28L342.6 198.9M344.86 201.67L342.15 198.64M345.48 200.88L345.22 196.57M345.92 200.55L346.21 196.1M346.7 200.21L347.64 196.56M347.48 200.1L348.79 196.85M347.39 200.1L349.86 197.42M348.32 200.21L350.85 198.71M349.08 200.55L352.44 199.51M349.22 200.64L353.27 199.69M349.82 201.2L353.72 200.28M350.05 201.52L353.43 202.08M350.47 202.66L353.65 204.32M318.39 221.49L321.6 223.64M318.3 221.98L320.35 224.7M318.07 222.56L319.42 226.47M317.86 222.91L319.29 225.4M317.65 223.18L318.65 227.33M317.22 223.59L318.29 226.55M316.62 223.94L316.79 226.6M315.59 224.19L313.31 226.98M315.14 224.19L312.91 226.24M314.17 223.94L311.63 226.6M314.28 223.98L310.48 226.1M313.59 223.59L309.64 225.06M312.92 222.88L310.18 223.58M312.57 222.2L308.02 221.81M312.41 221.45L309.19 219.19M312.4 221.16L308.67 218.95M312.45 220.67L310.31 217.66M312.57 220.21L310.52 216.94M312.82 219.67L310.81 217.17M313.28 219.08L312.13 215.12M313.57 218.82L313.08 215.43M314.58 218.32L315.45 215.13M315.04 218.22L316.55 215.12M315.51 218.2L317.96 214.98M315.94 218.25L317.82 215.59M316.59 218.45L319.17 217.04M317.71 219.29L320.52 218.97M317.86 219.49L320.54 218.99M318.27 220.32L321.46 221.26M318.28 220.36L322.7 221.33M339.87 220.77L344.07 222.44M339.87 221.59L344.07 223.27M339.61 222.48L342.12 225.94M339.05 223.29L339.19 226.3M338.65 223.63L338.68 228.23M338.16 223.92L337.2 227.01M338.12 223.94L336.76 227.7M337.22 224.18L335.78 227.64M336.28 224.14L334.31 227.37M336.31 224.14L333.58 227.74M335.12 223.62L331.73 225.03M335.1 223.6L331.62 224.2M334.67 223.21L331.73 223.32M334.07 222.21L330.75 221.75M334 221.97L330.73 220.84M333.9 221.04L329.94 219.54M333.94 220.73L330.3 219.04M334.3 219.71L332.46 216.03M334.4 219.54L331.91 215.82M334.76 219.1L334.38 215.91M335.49 218.55L335.09 215.97M335.99 218.34L337.69 215.33M336.79 218.2L339.04 215.78M336.83 218.2L339.13 215.83M337.86 218.36L340.59 216.8M338.54 218.69L342.54 217.1M339.16 219.22L343.39 217.6M339.06 219.11L342.25 217.41M339.61 219.92L342.38 220.56M339.72 220.18L343.28 221.01M291.9 240.75L296.07 242.74M291.88 241.28L295.08 243.97M291.6 242.22L293.37 244.48M291.55 242.31L293.36 245.98M291.03 243.02L291.69 245.85M290.01 243.69L290.18 247.61M290.09 243.65L289.8 247.28M289.18 243.89L288.38 248.23M288.22 243.82L285.78 245.47M288.28 243.84L284.74 246.67M287.1 243.3L284.55 244.8M286.64 242.87L283.8 243.13M286.66 242.9L282.77 243.16M286.17 242.15L281.63 242.26M286.04 241.8L282.1 239.94M285.9 240.9L283.17 238.73M285.93 240.49L282.03 238.08M286.3 239.4L284.98 235.47M286.6 238.98L285.51 234.43M287.02 238.56L285.99 235.42M287.58 238.21L287.01 234.31M287.71 238.15L288.57 235.36M288.33 237.96L289.75 234.49M289.05 237.9L292.24 234.21M289.78 238.03L293.12 235.69M290.36 238.28L293.82 237.15M290.83 238.61L293.96 236.62M291.2 238.97L294.97 237.91M291.48 239.36L294.59 239.83M291.87 240.47L296.16 242.78M307.3 240.77L310.11 242.27M307.2 241.68L310.34 244.83M306.84 242.5L308.16 245.59M306.61 242.82L307.84 246.35M306.53 242.9L307.91 247.42M305.62 243.6L304.44 247.21M304.96 243.83L302.86 247.46M304.75 243.87L303.43 246.76M303.84 243.86L301.53 246.31M303.3 243.73L300.96 246.72M302.77 243.48L299.7 244.67M302.35 243.18L298.66 243.91M301.68 242.37L297.27 243.06M301.54 242.08L298.23 242.41M301.41 241.69L297.49 241.34M301.3 240.96L298.57 238.34M301.39 240.16L299.69 237.52M301.76 239.3L299.83 235.91M301.79 239.26L300.79 235.39M302.57 238.45L301.86 234.75M302.44 238.55L302.58 235.45M303.17 238.12L303.76 234.8M304.14 237.9L306.83 234.39M304.4 237.9L306.58 235.52M305.18 238.03L307.86 235.21M305.93 238.38L309.17 235.52M306.59 238.96L310.77 237.34M306.54 238.91L310.57 237.76M307.11 239.85L311.54 240.78M307.25 240.33L310.14 241.88M284.1 254.46L287.65 255.93M283.94 255.38L285.96 259.07M283.74 255.83L285.41 258.71M283.47 256.23L284.58 260.46M283.1 256.63L284.49 260.44M282.81 256.86L282.59 260.05M282.32 257.14L280.93 260.21M281.68 257.34L280.9 260.58M280.42 257.32L277.29 259.56M280.03 257.2L277.13 260.53M279.32 256.81L275.57 257.42M279.28 256.78L275.77 258.13M278.92 256.46L275.02 257.51M278.38 255.67L275.26 254.68M278.18 255.1L275.03 254.91M278.11 254.68L274.47 253.31M278.18 253.72L276.09 251.04M278.29 253.35L275.94 249.5M278.69 252.61L277.54 250.07M279.38 251.94L278.01 247.63M279.51 251.86L278.63 248.32M279.89 251.66L280.72 247.35M280.75 251.42L282.84 247.55M281.03 251.4L283.32 247.62M281.65 251.45L283.89 248.15M282.63 251.82L285.61 249.06M283.35 252.41L286.36 251.9M283.48 252.57L287.42 251.72M283.7 252.9L286.8 253.77M284.02 253.7L287.76 255.53M315.48 254.09L319.49 255.64M315.35 255.34L317.52 257.46M315.07 255.94L317.57 259.68M315.01 256.05L315.77 259.76M314.36 256.76L315.1 260.86M313.87 257.07L313.87 260.17M313.43 257.25L312.39 260.79M313.2 257.32L311.71 259.85M312.12 257.38L310.13 260.18M311.29 257.14L308.5 260.11M311.36 257.18L308.5 259.74M310.23 256.36L306.13 257.66M310.26 256.39L305.81 257.57M309.64 255.32L305.87 253.95M309.68 255.41L306.64 254.08M309.5 254.52L306.44 253.54M309.54 253.92L306.61 252.05M309.91 252.89L309.2 249.75M309.89 252.92L307.75 250.29M310.79 251.94L310.59 248.38M311.25 251.67L311.85 247.82M311.86 251.47L313.2 247.73M312.02 251.44L313.86 248.52M312.69 251.41L315.08 248.71M313.18 251.48L316.35 248.13M314.25 251.96L317.66 250.15M314.43 252.1L317.73 251.31M314.83 252.51L318.82 251.62M315.27 253.24L318.33 253.92M315.35 253.47L319.5 253.35M291.9 267.07L295.08 269.37M291.87 267.55L294.88 269.98M291.54 268.52L293.95 271.43M291.27 268.94L292.43 273.16M290.76 269.46L291.85 272.49M290.59 269.58L289.89 273.02M290.17 269.82L289.95 273.98M289.4 270.06L288.93 273.28M288.52 270.08L286.37 273.56M288.05 269.98L286.01 272.7M287.38 269.68L283.69 270.99M287.24 269.6L283.94 270.6M286.63 269.06L283.49 270.27M286.14 268.28L283.22 268.01M285.97 267.76L281.89 266.92M285.92 267.45L281.96 266.76M285.94 266.64L282.72 262.99M286.1 266.01L283.34 263.58M286.24 265.72L283.34 262.77M287.09 264.71L285.89 261.34M287.56 264.41L287.72 260.44M288.34 264.15L290.3 259.83M288.74 264.1L290.3 261.67M289.65 264.2L292.27 260.88M289.96 264.29L293.12 262.17M290.01 264.31L292.7 262.17M290.91 264.88L294.62 264.68M291.16 265.13L295.3 263.8M291.71 266.05L295.21 267.35M291.81 266.37L295.55 267.46M307.28 267.44L310.83 269.14M307.23 267.72L309.02 270.14M306.99 268.43L309.66 272.1M306.46 269.18L308.65 273.2M306.44 269.2L307.85 272.88M305.98 269.59L306.71 273.62M305.2 269.96L304.4 273.04M304.88 270.04L303.93 274.28M304.08 270.09L301.58 272.57M302.99 269.8L300.1 270.83M303.07 269.84L300.53 272.28M302.29 269.33L299.07 271.16M301.65 268.51L298.57 268.61M301.6 268.41L298.13 268.77M301.31 267.31L297.84 265.73M301.3 267.17L298.97 265.1M301.33 266.66L299.1 264.56M301.57 265.85L299.41 263.23M301.78 265.47L300.22 262.27M302.25 264.91L301.5 261.68M302.69 264.57L302.73 260.94M303.67 264.17L305.34 260.15M303.62 264.18L303.93 260.23M304.84 264.15L307.65 262.19M305.05 264.2L307.53 261.6M306.03 264.65L310.01 263.43M306.51 265.08L309.41 264.93M306.46 265.02L310.02 264.19M307.1 266.03L311.22 265.67M307.11 266.06L310.06 266.87" stroke="#0a0a0a" stroke-width="0.6" opacity="0.85" fill="none"/>
<g filter="url(#blur2)">
<circle cx="314.8" cy="184.7" r="5.0" fill="#000" opacity="0.5"/>
<circle cx="336.5" cy="184.7" r="5.0" fill="#000" opacity="0.5"/>
<circle cx="304.5" cy="203.1" r="5.0" fill="#000" opacity="0.5"/>
<circle cx="347.5" cy="203.1" r="5.0" fill="#000" opacity="0.5"/>
<circle cx="315.4" cy="221.2" r="5.0" fill="#000" opacity="0.5"/>
<circle cx="336.9" cy="221.2" r="5.0" fill="#000" opacity="0.5"/>
<circle cx="288.9" cy="240.9" r="5.0" fill="#000" opacity="0.5"/>
<circle cx="304.3" cy="240.9" r="5.0" fill="#000" opacity="0.5"/>
<circle cx="281.1" cy="254.4" r="5.0" fill="#000" opacity="0.5"/>
<circle cx="312.5" cy="254.4" r="5.0" fill="#000" opacity="0.5"/>
<circle cx="288.9" cy="267.1" r="5.0" fill="#000" opacity="0.5"/>
<circle cx="304.3" cy="267.1" r="5.0" fill="#000" opacity="0.5"/>
</g>
<path d="M316.7 184.8L319.31 186.1M316.59 185.33L318.77 187.35M316.18 186L317.23 188.51M315.55 186.45L315.57 189.6M314.85 186.6L313.63 189.86M313.93 186.39L311.54 188.36M313.42 186.01L310.36 187.17M313.09 185.53L310.43 185.61M312.9 184.69L310.13 183.47M313.12 183.82L311.53 181.76M313.49 183.32L312.33 180.28M314.24 182.88L314.59 180.18M314.85 182.8L316.18 179.81M315.62 182.99L317.93 180.97M316.17 183.39L319.11 182.28M316.55 183.97L319.4 184.03M338.4 184.76L340.74 185.92M338.24 185.47L340.32 187.7M337.74 186.14L338.7 189.14M337.39 186.38L337.65 189.51M336.43 186.6L335.11 189.43M335.73 186.44L333.31 188.73M335.17 186.06L332.41 187.18M334.74 185.42L332.02 185.32M334.6 184.75L332.07 183.69M334.75 183.96L332.89 181.95M335.29 183.23L334.58 180.61M335.78 182.94L335.84 180.05M336.66 182.81L337.96 180.52M337.32 182.98L339.47 181.13M337.81 183.32L340.44 182.21M338.31 184.13L341.52 184.42M306.39 202.95L309.35 203.95M306.32 203.65L308.21 205.35M305.92 204.36L307.31 207.25M305.34 204.8L305.45 207.56M304.46 205L303.15 207.95M303.62 204.78L301.06 206.93M303.1 204.39L300.03 205.51M302.75 203.85L299.27 203.92M302.61 203.27L299.39 202.28M302.8 202.26L300.79 199.91M303.13 201.78L301.9 198.91M303.87 201.31L304.08 198.51M304.37 201.2L305.45 197.92M305.18 201.33L307.54 198.8M305.77 201.68L308.5 200.42M306.27 202.42L308.98 202.58M349.4 203.04L352.17 204.13M349.28 203.77L351.61 205.99M348.97 204.31L350.47 207.16M348.08 204.91L347.81 208.34M347.48 205L346.23 207.87M346.74 204.84L344.5 206.95M346.16 204.45L343.13 205.7M345.83 204L342.92 204.23M345.61 203.25L343.23 202.37M345.74 202.38L343.29 199.97M346.17 201.74L345.1 198.95M346.7 201.38L346.62 198.44M347.56 201.2L348.73 198.89M348.38 201.41L350.76 199.45M348.93 201.85L351.62 201.03M349.3 202.49L351.94 202.76M317.29 221.36L319.53 222.64M317.14 221.96L318.84 223.87M316.64 222.64L317.39 225.2M316.27 222.89L316.56 226.31M315.38 223.1L314.25 225.49M314.83 223.01L313.1 224.91M314.13 222.62L311.22 224M313.63 221.9L310.44 221.82M313.5 221.29L310.94 220.27M313.61 220.56L311.8 218.77M313.95 219.98L312.53 217.19M314.56 219.5L314.5 216.89M315.47 219.3L316.74 216.7M315.98 219.39L317.82 217.34M316.61 219.74L319.55 218.18M317.13 220.4L320.4 220.28M338.8 221.32L341.35 222.63M338.68 221.88L340.76 223.92M338.36 222.42L339.82 225.25M337.71 222.92L337.77 225.73M336.78 223.1L335.57 225.31M336.2 222.97L333.98 225.21M335.65 222.63L333.18 223.76M335.15 221.94L332.44 221.88M335 221.09L332.65 219.84M335.12 220.53L332.55 218.18M335.6 219.82L334.52 216.89M336.31 219.39L336.61 216.66M336.86 219.3L337.94 216.69M337.62 219.44L339.76 217.33M338.14 219.76L340.54 218.65M338.67 220.52L342.14 220.6M290.8 241.02L293.27 242.32M290.71 241.46L292.78 243.29M290.37 242.1L291.97 245.07M289.77 242.59L290.06 245.94M289.08 242.79L288.1 246.07M288.11 242.63L285.86 244.66M287.6 242.29L285.26 243.22M287.1 241.5L283.99 241.25M287 241.02L283.78 239.92M287.16 240.14L284.92 237.79M287.68 239.44L286.9 236.71M288.03 239.21L287.91 236.52M289.04 239L290.42 236.33M289.64 239.15L291.51 237.45M290.34 239.66L292.9 238.92M290.71 240.31L293.93 240.57M306.2 240.9L309.07 242.11M306.1 241.52L308.07 243.39M305.5 242.37L306.48 245.57M305.05 242.65L305.1 245.99M304.49 242.79L303.56 245.78M303.7 242.7L301.86 244.68M303.01 242.3L300.58 243.31M302.58 241.71L299.34 241.85M302.4 240.83L299.42 239.45M302.57 240.11L300.27 237.65M302.91 239.61L301.47 236.51M303.71 239.09L303.99 236.11M304.23 239L305.36 236.02M304.99 239.13L307.17 236.91M305.64 239.55L308.51 238.39M306.07 240.2L308.73 240.34M283 254.34L285.64 255.4M282.89 255.03L285.23 257.16M282.55 255.62L283.95 258.38M281.82 256.16L281.8 259.43M280.97 256.3L279.6 258.98M280.49 256.2L278.58 258.26M279.66 255.65L276.47 256.72M279.42 255.28L276.4 255.5M279.2 254.51L276.62 253.54M279.41 253.54L277.82 251.52M279.88 252.94L279.21 250.44M280.3 252.68L280.29 250.04M281.1 252.5L282.34 249.54M281.87 252.66L284.16 250.52M282.41 253.02L284.95 251.98M282.79 253.53L285.76 253.32M314.4 254.47L316.96 255.71M314.3 255.01L316.53 257.02M313.92 255.66L315.24 258.44M313.12 256.19L312.88 258.85M312.69 256.29L311.72 259.51M311.64 256.09L309.46 257.87M311.2 255.79L308.41 257.02M310.8 255.25L307.43 255.48M310.61 254.21L307.77 252.68M310.71 253.76L308.7 251.82M311.17 253.05L310.07 250.23M311.62 252.72L311.34 249.49M312.34 252.51L313.24 249.98M313.35 252.7L315.38 251.08M313.86 253.08L316.55 252.07M314.25 253.65L316.82 253.73M290.8 266.97L293.24 267.9M290.71 267.68L292.59 269.41M290.21 268.48L291.04 270.95M289.75 268.8L289.83 271.33M288.99 269L287.85 272.26M288.14 268.84L285.96 270.87M287.55 268.43L284.52 269.65M287.18 267.91L283.89 268.08M287.01 267.26L283.89 266.25M287.22 266.22L285.54 264.09M287.61 265.71L286.43 262.55M288.1 265.37L288 262.23M288.79 265.2L289.76 262.62M289.72 265.39L291.75 263.71M290.24 265.76L293.39 264.44M290.59 266.22L294 265.91M306.2 266.97L309.28 268.03M306.1 267.7L307.98 269.47M305.65 268.43L306.78 271.21M305.11 268.82L305.11 271.33M304.38 269L303.28 271.89M303.46 268.81L301.18 270.76M302.87 268.35L300.15 269.2M302.53 267.78L299.92 267.6M302.4 267.11L299.96 266.01M302.59 266.26L300.91 264.21M302.92 265.8L301.67 262.96M303.49 265.38L303.35 262.25M304.48 265.21L306.05 262.21M305.01 265.34L307.14 263.22M305.66 265.78L308.39 264.76M306.11 266.52L308.65 266.85" stroke="#050505" stroke-width="0.95" fill="none"/>
<circle cx="314.8" cy="184.7" r="1.9" fill="#ffffff"/>
<circle cx="336.5" cy="184.7" r="1.9" fill="#b8bcf4"/>
<circle cx="304.5" cy="203.1" r="1.9" fill="#f4bcbc"/>
<circle cx="347.5" cy="203.1" r="1.9" fill="#f04848"/>
<circle cx="315.4" cy="221.2" r="1.9" fill="#4a52f0"/>
<circle cx="336.9" cy="221.2" r="1.9" fill="#f4bcbc"/>
<circle cx="288.9" cy="240.9" r="1.9" fill="#f4bcbc"/>
<circle cx="304.3" cy="240.9" r="1.9" fill="#f4bcbc"/>
<circle cx="281.1" cy="254.4" r="1.9" fill="#ffffff"/>
<circle cx="312.5" cy="254.4" r="1.9" fill="#f4bcbc"/>
<circle cx="288.9" cy="267.1" r="1.9" fill="#b8bcf4"/>
<circle cx="304.3" cy="267.1" r="1.9" fill="#ffffff"/>
</g>
<path d="M368.05 181.03l2.6 0.6M310.55 181.03l-2.6 -0.6M365.41 185.57l2.6 0.6M307.91 185.57l-2.6 -0.6M362.78 190.12l2.6 0.6M305.28 190.12l-2.6 -0.6M360.15 194.66l2.6 0.6M302.65 194.66l-2.6 -0.6M357.51 199.21l2.6 0.6M300.01 199.21l-2.6 -0.6M354.88 203.75l2.6 0.6M297.38 203.75l-2.6 -0.6M352.25 208.3l2.6 0.6M294.75 208.3l-2.6 -0.6M349.62 212.84l2.6 0.6M292.12 212.84l-2.6 -0.6M346.99 217.39l2.6 0.6M289.49 217.39l-2.6 -0.6M344.35 221.94l2.6 0.6M286.85 221.94l-2.6 -0.6M341.72 226.48l2.6 0.6M284.22 226.48l-2.6 -0.6M339.09 231.03l2.6 0.6M281.59 231.03l-2.6 -0.6M336.45 235.57l2.6 0.6M278.95 235.57l-2.6 -0.6M333.82 240.12l2.6 0.6M276.32 240.12l-2.6 -0.6M331.19 244.66l2.6 0.6M273.69 244.66l-2.6 -0.6M328.56 249.2l2.6 0.6M271.06 249.2l-2.6 -0.6M325.93 253.75l2.6 0.6M268.43 253.75l-2.6 -0.6M323.29 258.3l2.6 0.6M265.79 258.3l-2.6 -0.6M320.66 262.84l2.6 0.6M263.16 262.84l-2.6 -0.6M318.03 267.38l2.6 0.6M260.53 267.38l-2.6 -0.6M315.4 271.93l2.6 0.6M257.9 271.93l-2.6 -0.6M312.76 276.48l2.6 0.6M255.26 276.48l-2.6 -0.6" stroke="#333" stroke-width="0.5" fill="none" opacity="0.8"/>
<line x1="282.1" y1="228.5" x2="341.6" y2="228.5" stroke="#444" stroke-width="0.5"/>
<polygon points="311.3,178 370.8,178 312.3,279 252.8,279" fill="none" stroke="#555" stroke-width="0.6"/>
<polygon points="287.3,178.3 295.5,178.3 237.93,279.3 229.73,279.3" fill="#f4f4f4"/>
<path d="M292.87 183.18L291.7 183.86L290.53 183.18L290.53 181.83L291.7 181.16L292.87 181.83zM288.82 180.85L287.65 181.52L286.48 180.85L286.48 179.5L287.65 178.82L288.82 179.5zM288.07 191.6L286.9 192.28L285.73 191.6L285.73 190.25L286.9 189.58L288.07 190.25zM284.02 189.26L282.85 189.94L281.68 189.26L281.68 187.91L282.85 187.24L284.02 187.91zM281.93 202.35L280.76 203.03L279.59 202.35L279.59 201L280.76 200.33L281.93 201zM272.33 214.51L271.16 215.19L269.99 214.51L269.99 213.16L271.16 212.49L272.33 213.16zM255.24 244.44L254.07 245.11L252.9 244.44L252.9 243.09L254.07 242.41L255.24 243.09zM255.24 239.76L254.07 240.44L252.9 239.76L252.9 238.41L254.07 237.74L255.24 238.41zM253.14 248.18L251.97 248.85L250.8 248.18L250.8 246.83L251.97 246.15L253.14 246.83zM243.55 269.69L242.38 270.36L241.21 269.69L241.21 268.34L242.38 267.66L243.55 268.34zM239.5 267.35L238.33 268.03L237.16 267.35L237.16 266L238.33 265.32L239.5 266zM240.85 265.01L239.68 265.69L238.51 265.01L238.51 263.66L239.68 262.99L240.85 263.66zM243.55 265.01L242.38 265.69L241.21 265.01L241.21 263.66L242.38 262.99L243.55 263.66zM240.1 275.77L238.93 276.44L237.76 275.77L237.76 274.42L238.93 273.74L240.1 274.42zM238.75 273.43L237.58 274.1L236.41 273.43L236.41 272.08L237.58 271.4L238.75 272.08z" fill="#c8c8f4" stroke="#555" stroke-width="0.45"/>
<path d="M291.52 185.52L290.35 186.2L289.18 185.52L289.18 184.17L290.35 183.5L291.52 184.17zM287.47 183.18L286.3 183.86L285.13 183.18L285.13 181.83L286.3 181.16L287.47 181.83zM291.52 180.85L290.35 181.52L289.18 180.85L289.18 179.5L290.35 178.82L291.52 179.5zM284.02 193.94L282.85 194.61L281.68 193.94L281.68 192.59L282.85 191.91L284.02 192.59zM282.67 191.6L281.5 192.28L280.33 191.6L280.33 190.25L281.5 189.58L282.67 190.25zM286.72 189.26L285.55 189.94L284.38 189.26L284.38 187.91L285.55 187.24L286.72 187.91zM283.28 200.02L282.11 200.69L280.94 200.02L280.94 198.67L282.11 197.99L283.28 198.67zM279.23 202.35L278.06 203.03L276.89 202.35L276.89 201L278.06 200.33L279.23 201zM277.88 200.02L276.71 200.69L275.54 200.02L275.54 198.67L276.71 197.99L277.88 198.67zM279.23 197.68L278.06 198.35L276.89 197.68L276.89 196.33L278.06 195.65L279.23 196.33zM278.48 208.43L277.31 209.11L276.14 208.43L276.14 207.08L277.31 206.41L278.48 207.08zM274.43 210.77L273.26 211.45L272.09 210.77L272.09 209.42L273.26 208.75L274.43 209.42zM274.43 206.1L273.26 206.77L272.09 206.1L272.09 204.75L273.26 204.07L274.43 204.75zM277.13 206.1L275.96 206.77L274.79 206.1L274.79 204.75L275.96 204.07L277.13 204.75zM273.68 216.85L272.51 217.53L271.34 216.85L271.34 215.5L272.51 214.83L273.68 215.5zM269.63 219.19L268.46 219.86L267.29 219.19L267.29 217.84L268.46 217.16L269.63 217.84zM268.28 216.85L267.11 217.53L265.94 216.85L265.94 215.5L267.11 214.83L268.28 215.5zM269.63 214.51L268.46 215.19L267.29 214.51L267.29 213.16L268.46 212.49L269.63 213.16zM267.53 222.93L266.36 223.6L265.19 222.93L265.19 221.58L266.36 220.9L267.53 221.58zM259.29 242.1L258.12 242.78L256.95 242.1L256.95 240.75L258.12 240.08L259.29 240.75zM257.94 244.44L256.77 245.11L255.6 244.44L255.6 243.09L256.77 242.41L257.94 243.09zM257.94 239.76L256.77 240.44L255.6 239.76L255.6 238.41L256.77 237.74L257.94 238.41zM254.49 250.52L253.32 251.19L252.15 250.52L252.15 249.17L253.32 248.49L254.49 249.17zM250.44 252.85L249.27 253.53L248.1 252.85L248.1 251.5L249.27 250.83L250.44 251.5zM249.09 250.52L247.92 251.19L246.75 250.52L246.75 249.17L247.92 248.49L249.09 249.17zM248.34 261.27L247.17 261.95L246 261.27L246 259.92L247.17 259.25L248.34 259.92zM244.29 258.93L243.12 259.61L241.95 258.93L241.95 257.58L243.12 256.91L244.29 257.58zM248.34 256.6L247.17 257.27L246 256.6L246 255.25L247.17 254.57L248.34 255.25zM244.9 267.35L243.73 268.03L242.56 267.35L242.56 266L243.73 265.32L244.9 266zM240.85 269.69L239.68 270.36L238.51 269.69L238.51 268.34L239.68 267.66L240.85 268.34zM238.75 278.1L237.58 278.78L236.41 278.1L236.41 276.75L237.58 276.08L238.75 276.75zM236.05 278.1L234.88 278.78L233.71 278.1L233.71 276.75L234.88 276.08L236.05 276.75zM234.7 275.77L233.53 276.44L232.36 275.77L232.36 274.42L233.53 273.74L234.7 274.42zM236.05 273.43L234.88 274.1L233.71 273.43L233.71 272.08L234.88 271.4L236.05 272.08z" fill="#ffffff" stroke="#555" stroke-width="0.45"/>
<path d="M288.82 185.52L287.65 186.2L286.48 185.52L286.48 184.17L287.65 183.5L288.82 184.17zM286.72 193.94L285.55 194.61L284.38 193.94L284.38 192.59L285.55 191.91L286.72 192.59zM281.93 197.68L280.76 198.35L279.59 197.68L279.59 196.33L280.76 195.65L281.93 196.33zM277.13 210.77L275.96 211.45L274.79 210.77L274.79 209.42L275.96 208.75L277.13 209.42zM273.08 208.43L271.91 209.11L270.74 208.43L270.74 207.08L271.91 206.41L273.08 207.08zM272.33 219.19L271.16 219.86L269.99 219.19L269.99 217.84L271.16 217.16L272.33 217.84zM253.89 242.1L252.72 242.78L251.55 242.1L251.55 240.75L252.72 240.08L253.89 240.75zM253.14 252.85L251.97 253.53L250.8 252.85L250.8 251.5L251.97 250.83L253.14 251.5zM250.44 248.18L249.27 248.85L248.1 248.18L248.1 246.83L249.27 246.15L250.44 246.83zM249.69 258.93L248.52 259.61L247.35 258.93L247.35 257.58L248.52 256.91L249.69 257.58zM245.64 261.27L244.47 261.95L243.3 261.27L243.3 259.92L244.47 259.25L245.64 259.92zM245.64 256.6L244.47 257.27L243.3 256.6L243.3 255.25L244.47 254.57L245.64 255.25z" fill="#f4c8c8" stroke="#555" stroke-width="0.45"/>
<path d="M268.88 225.27L267.71 225.94L266.54 225.27L266.54 223.92L267.71 223.24L268.88 223.92zM262.74 231.35L261.57 232.02L260.4 231.35L260.4 230L261.57 229.32L262.74 230z" fill="#f07070" stroke="#555" stroke-width="0.45"/>
<path d="M267.53 227.6L266.36 228.28L265.19 227.6L265.19 226.25L266.36 225.58L267.53 226.25zM263.48 225.27L262.31 225.94L261.14 225.27L261.14 223.92L262.31 223.24L263.48 223.92zM258.69 233.68L257.52 234.36L256.35 233.68L256.35 232.33L257.52 231.66L258.69 232.33zM260.04 231.35L258.87 232.02L257.7 231.35L257.7 230L258.87 229.32L260.04 230z" fill="#7070f0" stroke="#555" stroke-width="0.45"/>
<path d="M264.83 227.6L263.66 228.28L262.49 227.6L262.49 226.25L263.66 225.58L264.83 226.25zM264.83 222.93L263.66 223.6L262.49 222.93L262.49 221.58L263.66 220.9L264.83 221.58zM264.09 233.68L262.92 234.36L261.75 233.68L261.75 232.33L262.92 231.66L264.09 232.33zM262.74 236.02L261.57 236.7L260.4 236.02L260.4 234.67L261.57 234L262.74 234.67z" fill="#e02828" stroke="#555" stroke-width="0.45"/>
<path d="M260.04 236.02L258.87 236.7L257.7 236.02L257.7 234.67L258.87 234L260.04 234.67z" fill="#2828e0" stroke="#555" stroke-width="0.45"/>
<path d="M282.5 186.72h8.2M277.7 195.13h8.2M272.91 203.55h8.2M268.11 211.97h8.2M263.31 220.38h8.2M258.51 228.8h8.2M253.72 237.22h8.2M248.92 245.63h8.2M244.12 254.05h8.2M239.32 262.47h8.2M234.53 270.88h8.2" stroke="#888" stroke-width="0.4" fill="none"/>
<polygon points="287.3,178.3 295.5,178.3 237.93,279.3 229.73,279.3" fill="none" stroke="#707070" stroke-width="0.7"/>
<line x1="311.3" y1="178" x2="271.16" y2="221" stroke="#000" stroke-width="0.9" stroke-dasharray="2.6,1.1"/>
<line x1="252.8" y1="279" x2="261.47" y2="238" stroke="#000" stroke-width="0.9" stroke-dasharray="2.6,1.1"/>
<text x="270.3" y="182.9" font-size="13.6" text-anchor="start" font-weight="bold" font-style="normal" font-family='"Liberation Sans", sans-serif' fill="#000" >E</text>
<text x="262.9" y="293.6" font-size="10.3" text-anchor="start" font-weight="normal" font-style="normal" font-family='"Liberation Sans", sans-serif' fill="#111" >6.65 kHz</text>
<clipPath id="clipF"><polygon points="431,178 490.5,178 432,279 372.5,279"/></clipPath>
<g clip-path="url(#clipF)">
<g filter="url(#blur1)">
<path fill="#f8dcdc" d="M429 176.5h3.2v3.2h-3.2zM432 176.5h3.2v3.2h-3.2zM438 179.5h3.2v3.2h-3.2zM441 179.5h3.2v3.2h-3.2zM444 179.5h3.2v3.2h-3.2zM450 182.5h3.2v3.2h-3.2zM450 185.5h3.2v3.2h-3.2zM459 185.5h3.2v3.2h-3.2zM441 188.5h3.2v3.2h-3.2zM444 188.5h3.2v3.2h-3.2zM456 188.5h3.2v3.2h-3.2zM471 188.5h3.2v3.2h-3.2zM435 191.5h3.2v3.2h-3.2zM474 191.5h3.2v3.2h-3.2zM423 203.5h3.2v3.2h-3.2zM420 233.5h3.2v3.2h-3.2zM438 236.5h3.2v3.2h-3.2zM450 248.5h3.2v3.2h-3.2zM384 251.5h3.2v3.2h-3.2zM393 254.5h3.2v3.2h-3.2zM390 257.5h3.2v3.2h-3.2zM387 260.5h3.2v3.2h-3.2zM381 263.5h3.2v3.2h-3.2zM384 263.5h3.2v3.2h-3.2z"/>
<path fill="#f8e0e0" d="M435 176.5h3.2v3.2h-3.2zM438 176.5h3.2v3.2h-3.2zM447 179.5h3.2v3.2h-3.2zM453 182.5h3.2v3.2h-3.2zM453 185.5h3.2v3.2h-3.2zM456 185.5h3.2v3.2h-3.2zM468 185.5h3.2v3.2h-3.2zM447 188.5h3.2v3.2h-3.2zM450 188.5h3.2v3.2h-3.2zM453 188.5h3.2v3.2h-3.2zM456 191.5h3.2v3.2h-3.2zM474 197.5h3.2v3.2h-3.2zM411 209.5h3.2v3.2h-3.2zM402 230.5h3.2v3.2h-3.2zM405 230.5h3.2v3.2h-3.2zM441 236.5h3.2v3.2h-3.2zM453 242.5h3.2v3.2h-3.2zM399 251.5h3.2v3.2h-3.2zM381 257.5h3.2v3.2h-3.2zM381 260.5h3.2v3.2h-3.2zM381 266.5h3.2v3.2h-3.2zM381 269.5h3.2v3.2h-3.2z"/>
<path fill="#f8e4e4" d="M441 176.5h3.2v3.2h-3.2zM450 179.5h3.2v3.2h-3.2zM456 182.5h3.2v3.2h-3.2zM459 182.5h3.2v3.2h-3.2zM462 182.5h3.2v3.2h-3.2zM438 191.5h3.2v3.2h-3.2zM468 200.5h3.2v3.2h-3.2zM420 206.5h3.2v3.2h-3.2zM408 209.5h3.2v3.2h-3.2zM414 209.5h3.2v3.2h-3.2zM399 230.5h3.2v3.2h-3.2zM408 230.5h3.2v3.2h-3.2zM444 236.5h3.2v3.2h-3.2zM441 251.5h3.2v3.2h-3.2zM444 251.5h3.2v3.2h-3.2zM447 251.5h3.2v3.2h-3.2zM378 266.5h3.2v3.2h-3.2zM384 266.5h3.2v3.2h-3.2zM378 269.5h3.2v3.2h-3.2zM378 272.5h3.2v3.2h-3.2zM381 272.5h3.2v3.2h-3.2zM378 275.5h3.2v3.2h-3.2z"/>
<path fill="#f8e8e8" d="M444 176.5h3.2v3.2h-3.2zM447 176.5h3.2v3.2h-3.2zM453 179.5h3.2v3.2h-3.2zM465 182.5h3.2v3.2h-3.2zM441 191.5h3.2v3.2h-3.2zM453 191.5h3.2v3.2h-3.2zM435 194.5h3.2v3.2h-3.2zM456 194.5h3.2v3.2h-3.2zM477 194.5h3.2v3.2h-3.2zM432 197.5h3.2v3.2h-3.2zM459 197.5h3.2v3.2h-3.2zM465 200.5h3.2v3.2h-3.2zM471 200.5h3.2v3.2h-3.2zM396 230.5h3.2v3.2h-3.2zM423 233.5h3.2v3.2h-3.2zM447 236.5h3.2v3.2h-3.2zM453 239.5h3.2v3.2h-3.2zM420 251.5h3.2v3.2h-3.2zM438 251.5h3.2v3.2h-3.2zM378 263.5h3.2v3.2h-3.2zM387 263.5h3.2v3.2h-3.2zM375 272.5h3.2v3.2h-3.2zM375 275.5h3.2v3.2h-3.2zM381 275.5h3.2v3.2h-3.2zM375 278.5h3.2v3.2h-3.2zM378 278.5h3.2v3.2h-3.2z"/>
<path fill="#f8ecec" d="M450 176.5h3.2v3.2h-3.2zM456 179.5h3.2v3.2h-3.2zM459 179.5h3.2v3.2h-3.2zM462 179.5h3.2v3.2h-3.2zM468 182.5h3.2v3.2h-3.2zM471 185.5h3.2v3.2h-3.2zM474 188.5h3.2v3.2h-3.2zM444 191.5h3.2v3.2h-3.2zM447 191.5h3.2v3.2h-3.2zM450 191.5h3.2v3.2h-3.2zM477 197.5h3.2v3.2h-3.2zM429 200.5h3.2v3.2h-3.2zM417 209.5h3.2v3.2h-3.2zM408 212.5h3.2v3.2h-3.2zM411 230.5h3.2v3.2h-3.2zM402 251.5h3.2v3.2h-3.2zM411 251.5h3.2v3.2h-3.2zM414 251.5h3.2v3.2h-3.2zM417 251.5h3.2v3.2h-3.2zM423 251.5h3.2v3.2h-3.2zM426 251.5h3.2v3.2h-3.2zM429 251.5h3.2v3.2h-3.2zM432 251.5h3.2v3.2h-3.2zM435 251.5h3.2v3.2h-3.2zM378 260.5h3.2v3.2h-3.2zM375 266.5h3.2v3.2h-3.2zM375 269.5h3.2v3.2h-3.2zM384 269.5h3.2v3.2h-3.2zM372 275.5h3.2v3.2h-3.2zM372 278.5h3.2v3.2h-3.2zM381 278.5h3.2v3.2h-3.2z"/>
<path fill="#f8f0f0" d="M453 176.5h3.2v3.2h-3.2zM456 176.5h3.2v3.2h-3.2zM459 176.5h3.2v3.2h-3.2zM465 179.5h3.2v3.2h-3.2zM477 191.5h3.2v3.2h-3.2zM438 194.5h3.2v3.2h-3.2zM474 200.5h3.2v3.2h-3.2zM426 203.5h3.2v3.2h-3.2zM411 212.5h3.2v3.2h-3.2zM399 227.5h3.2v3.2h-3.2zM402 227.5h3.2v3.2h-3.2zM405 227.5h3.2v3.2h-3.2zM405 251.5h3.2v3.2h-3.2zM408 251.5h3.2v3.2h-3.2zM396 254.5h3.2v3.2h-3.2zM390 260.5h3.2v3.2h-3.2zM372 272.5h3.2v3.2h-3.2zM384 272.5h3.2v3.2h-3.2zM369 278.5h3.2v3.2h-3.2z"/>
<path fill="#f8f4f4" d="M462 176.5h3.2v3.2h-3.2zM465 176.5h3.2v3.2h-3.2zM453 194.5h3.2v3.2h-3.2zM480 194.5h3.2v3.2h-3.2zM462 200.5h3.2v3.2h-3.2zM414 212.5h3.2v3.2h-3.2zM405 215.5h3.2v3.2h-3.2zM408 215.5h3.2v3.2h-3.2zM399 224.5h3.2v3.2h-3.2zM402 224.5h3.2v3.2h-3.2zM450 236.5h3.2v3.2h-3.2zM393 257.5h3.2v3.2h-3.2zM384 275.5h3.2v3.2h-3.2z"/>
<path fill="#f4f4f8" d="M468 176.5h3.2v3.2h-3.2zM471 182.5h3.2v3.2h-3.2zM480 191.5h3.2v3.2h-3.2zM444 194.5h3.2v3.2h-3.2zM447 194.5h3.2v3.2h-3.2zM408 218.5h3.2v3.2h-3.2zM408 221.5h3.2v3.2h-3.2zM408 224.5h3.2v3.2h-3.2zM453 236.5h3.2v3.2h-3.2zM441 254.5h3.2v3.2h-3.2z"/>
<path fill="#ececf8" d="M471 176.5h3.2v3.2h-3.2zM471 179.5h3.2v3.2h-3.2zM474 185.5h3.2v3.2h-3.2zM483 191.5h3.2v3.2h-3.2zM438 197.5h3.2v3.2h-3.2zM453 197.5h3.2v3.2h-3.2zM429 203.5h3.2v3.2h-3.2zM468 203.5h3.2v3.2h-3.2zM471 203.5h3.2v3.2h-3.2zM474 203.5h3.2v3.2h-3.2zM417 212.5h3.2v3.2h-3.2zM414 215.5h3.2v3.2h-3.2zM411 221.5h3.2v3.2h-3.2zM411 224.5h3.2v3.2h-3.2zM417 230.5h3.2v3.2h-3.2zM456 236.5h3.2v3.2h-3.2zM399 254.5h3.2v3.2h-3.2zM390 263.5h3.2v3.2h-3.2zM387 278.5h3.2v3.2h-3.2z"/>
<path fill="#e0e0f8" d="M474 176.5h3.2v3.2h-3.2zM480 188.5h3.2v3.2h-3.2zM417 215.5h3.2v3.2h-3.2zM402 254.5h3.2v3.2h-3.2zM429 254.5h3.2v3.2h-3.2zM396 257.5h3.2v3.2h-3.2zM441 257.5h3.2v3.2h-3.2zM393 260.5h3.2v3.2h-3.2zM390 278.5h3.2v3.2h-3.2z"/>
<path fill="#d0d0f8" d="M477 176.5h3.2v3.2h-3.2zM486 176.5h3.2v3.2h-3.2zM489 179.5h3.2v3.2h-3.2zM441 200.5h3.2v3.2h-3.2zM450 200.5h3.2v3.2h-3.2zM459 203.5h3.2v3.2h-3.2zM471 206.5h3.2v3.2h-3.2zM411 254.5h3.2v3.2h-3.2zM435 257.5h3.2v3.2h-3.2zM441 260.5h3.2v3.2h-3.2zM390 272.5h3.2v3.2h-3.2zM432 278.5h3.2v3.2h-3.2z"/>
<path fill="#c8c8f4" d="M480 176.5h3.2v3.2h-3.2zM483 176.5h3.2v3.2h-3.2zM477 182.5h3.2v3.2h-3.2zM480 185.5h3.2v3.2h-3.2zM435 203.5h3.2v3.2h-3.2zM456 203.5h3.2v3.2h-3.2zM465 206.5h3.2v3.2h-3.2zM426 209.5h3.2v3.2h-3.2zM423 212.5h3.2v3.2h-3.2zM420 218.5h3.2v3.2h-3.2zM420 221.5h3.2v3.2h-3.2zM420 224.5h3.2v3.2h-3.2zM423 230.5h3.2v3.2h-3.2zM444 233.5h3.2v3.2h-3.2zM447 233.5h3.2v3.2h-3.2zM456 233.5h3.2v3.2h-3.2zM399 257.5h3.2v3.2h-3.2zM432 257.5h3.2v3.2h-3.2zM438 260.5h3.2v3.2h-3.2zM393 263.5h3.2v3.2h-3.2zM441 263.5h3.2v3.2h-3.2zM393 275.5h3.2v3.2h-3.2zM399 278.5h3.2v3.2h-3.2zM429 278.5h3.2v3.2h-3.2z"/>
<path fill="#dcdcf8" d="M489 176.5h3.2v3.2h-3.2zM474 182.5h3.2v3.2h-3.2zM462 203.5h3.2v3.2h-3.2zM423 209.5h3.2v3.2h-3.2zM420 212.5h3.2v3.2h-3.2zM420 230.5h3.2v3.2h-3.2zM432 233.5h3.2v3.2h-3.2zM426 254.5h3.2v3.2h-3.2zM390 266.5h3.2v3.2h-3.2z"/>
<path fill="#e8e8f8" d="M492 176.5h3.2v3.2h-3.2zM441 197.5h3.2v3.2h-3.2zM450 197.5h3.2v3.2h-3.2zM465 203.5h3.2v3.2h-3.2zM429 233.5h3.2v3.2h-3.2zM435 254.5h3.2v3.2h-3.2zM444 257.5h3.2v3.2h-3.2zM387 272.5h3.2v3.2h-3.2zM387 275.5h3.2v3.2h-3.2z"/>
<path fill="#f8d0d0" d="M426 179.5h3.2v3.2h-3.2zM429 179.5h3.2v3.2h-3.2zM435 182.5h3.2v3.2h-3.2zM435 185.5h3.2v3.2h-3.2zM432 191.5h3.2v3.2h-3.2zM465 197.5h3.2v3.2h-3.2zM411 206.5h3.2v3.2h-3.2zM414 206.5h3.2v3.2h-3.2zM399 233.5h3.2v3.2h-3.2zM417 233.5h3.2v3.2h-3.2zM450 242.5h3.2v3.2h-3.2zM387 248.5h3.2v3.2h-3.2zM432 248.5h3.2v3.2h-3.2zM435 248.5h3.2v3.2h-3.2zM438 248.5h3.2v3.2h-3.2zM390 254.5h3.2v3.2h-3.2z"/>
<path fill="#f8d4d4" d="M432 179.5h3.2v3.2h-3.2zM438 182.5h3.2v3.2h-3.2zM441 182.5h3.2v3.2h-3.2zM438 185.5h3.2v3.2h-3.2zM441 185.5h3.2v3.2h-3.2zM435 188.5h3.2v3.2h-3.2zM459 188.5h3.2v3.2h-3.2zM459 191.5h3.2v3.2h-3.2zM471 197.5h3.2v3.2h-3.2zM393 236.5h3.2v3.2h-3.2zM432 236.5h3.2v3.2h-3.2zM387 245.5h3.2v3.2h-3.2zM450 245.5h3.2v3.2h-3.2zM447 248.5h3.2v3.2h-3.2zM396 251.5h3.2v3.2h-3.2zM384 257.5h3.2v3.2h-3.2zM387 257.5h3.2v3.2h-3.2z"/>
<path fill="#f8d8d8" d="M435 179.5h3.2v3.2h-3.2zM444 182.5h3.2v3.2h-3.2zM447 182.5h3.2v3.2h-3.2zM444 185.5h3.2v3.2h-3.2zM447 185.5h3.2v3.2h-3.2zM462 185.5h3.2v3.2h-3.2zM465 185.5h3.2v3.2h-3.2zM438 188.5h3.2v3.2h-3.2zM432 194.5h3.2v3.2h-3.2zM459 194.5h3.2v3.2h-3.2zM474 194.5h3.2v3.2h-3.2zM429 197.5h3.2v3.2h-3.2zM462 197.5h3.2v3.2h-3.2zM426 200.5h3.2v3.2h-3.2zM417 206.5h3.2v3.2h-3.2zM396 233.5h3.2v3.2h-3.2zM435 236.5h3.2v3.2h-3.2zM450 239.5h3.2v3.2h-3.2zM384 254.5h3.2v3.2h-3.2zM384 260.5h3.2v3.2h-3.2z"/>
<path fill="#f8f8f8" d="M468 179.5h3.2v3.2h-3.2zM441 194.5h3.2v3.2h-3.2zM450 194.5h3.2v3.2h-3.2zM435 197.5h3.2v3.2h-3.2zM456 197.5h3.2v3.2h-3.2zM477 200.5h3.2v3.2h-3.2zM423 206.5h3.2v3.2h-3.2zM411 215.5h3.2v3.2h-3.2zM405 218.5h3.2v3.2h-3.2zM402 221.5h3.2v3.2h-3.2zM405 221.5h3.2v3.2h-3.2zM405 224.5h3.2v3.2h-3.2zM408 227.5h3.2v3.2h-3.2zM414 230.5h3.2v3.2h-3.2zM426 233.5h3.2v3.2h-3.2zM444 254.5h3.2v3.2h-3.2zM387 266.5h3.2v3.2h-3.2zM384 278.5h3.2v3.2h-3.2z"/>
<path fill="#d8d8f8" d="M474 179.5h3.2v3.2h-3.2zM477 185.5h3.2v3.2h-3.2zM483 188.5h3.2v3.2h-3.2zM438 200.5h3.2v3.2h-3.2zM453 200.5h3.2v3.2h-3.2zM432 203.5h3.2v3.2h-3.2zM417 218.5h3.2v3.2h-3.2zM417 221.5h3.2v3.2h-3.2zM405 254.5h3.2v3.2h-3.2zM420 254.5h3.2v3.2h-3.2zM423 254.5h3.2v3.2h-3.2zM438 257.5h3.2v3.2h-3.2zM390 275.5h3.2v3.2h-3.2zM393 278.5h3.2v3.2h-3.2z"/>
<path fill="#c4c4f4" d="M477 179.5h3.2v3.2h-3.2zM483 185.5h3.2v3.2h-3.2zM420 227.5h3.2v3.2h-3.2zM450 233.5h3.2v3.2h-3.2zM453 233.5h3.2v3.2h-3.2z"/>
<path fill="#b8b8f4" d="M480 179.5h3.2v3.2h-3.2zM483 179.5h3.2v3.2h-3.2zM480 182.5h3.2v3.2h-3.2zM441 203.5h3.2v3.2h-3.2zM450 203.5h3.2v3.2h-3.2zM423 215.5h3.2v3.2h-3.2zM423 221.5h3.2v3.2h-3.2zM423 224.5h3.2v3.2h-3.2zM402 257.5h3.2v3.2h-3.2zM393 266.5h3.2v3.2h-3.2zM438 269.5h3.2v3.2h-3.2zM435 272.5h3.2v3.2h-3.2zM408 278.5h3.2v3.2h-3.2zM420 278.5h3.2v3.2h-3.2z"/>
<path fill="#c0c0f4" d="M486 179.5h3.2v3.2h-3.2zM486 182.5h3.2v3.2h-3.2zM438 203.5h3.2v3.2h-3.2zM396 260.5h3.2v3.2h-3.2zM402 278.5h3.2v3.2h-3.2zM426 278.5h3.2v3.2h-3.2z"/>
<path fill="#f4c4c4" d="M426 182.5h3.2v3.2h-3.2zM429 185.5h3.2v3.2h-3.2zM468 191.5h3.2v3.2h-3.2zM426 197.5h3.2v3.2h-3.2zM417 203.5h3.2v3.2h-3.2zM405 233.5h3.2v3.2h-3.2zM408 233.5h3.2v3.2h-3.2zM411 233.5h3.2v3.2h-3.2zM447 245.5h3.2v3.2h-3.2zM390 248.5h3.2v3.2h-3.2zM399 248.5h3.2v3.2h-3.2zM408 248.5h3.2v3.2h-3.2z"/>
<path fill="#f4c8c8" d="M429 182.5h3.2v3.2h-3.2zM432 185.5h3.2v3.2h-3.2zM462 191.5h3.2v3.2h-3.2zM429 194.5h3.2v3.2h-3.2zM423 200.5h3.2v3.2h-3.2zM411 203.5h3.2v3.2h-3.2zM402 233.5h3.2v3.2h-3.2zM414 233.5h3.2v3.2h-3.2zM396 236.5h3.2v3.2h-3.2zM429 236.5h3.2v3.2h-3.2zM393 239.5h3.2v3.2h-3.2zM390 245.5h3.2v3.2h-3.2zM402 248.5h3.2v3.2h-3.2zM405 248.5h3.2v3.2h-3.2zM426 248.5h3.2v3.2h-3.2zM390 251.5h3.2v3.2h-3.2zM393 251.5h3.2v3.2h-3.2z"/>
<path fill="#f8cccc" d="M432 182.5h3.2v3.2h-3.2zM462 188.5h3.2v3.2h-3.2zM468 188.5h3.2v3.2h-3.2zM471 191.5h3.2v3.2h-3.2zM468 197.5h3.2v3.2h-3.2zM420 203.5h3.2v3.2h-3.2zM390 242.5h3.2v3.2h-3.2zM441 248.5h3.2v3.2h-3.2zM444 248.5h3.2v3.2h-3.2zM387 251.5h3.2v3.2h-3.2zM387 254.5h3.2v3.2h-3.2z"/>
<path fill="#b4b4f4" d="M483 182.5h3.2v3.2h-3.2zM444 203.5h3.2v3.2h-3.2zM447 203.5h3.2v3.2h-3.2zM459 206.5h3.2v3.2h-3.2zM429 209.5h3.2v3.2h-3.2zM468 209.5h3.2v3.2h-3.2zM426 212.5h3.2v3.2h-3.2zM423 218.5h3.2v3.2h-3.2zM426 230.5h3.2v3.2h-3.2zM426 257.5h3.2v3.2h-3.2zM438 266.5h3.2v3.2h-3.2zM393 269.5h3.2v3.2h-3.2zM411 278.5h3.2v3.2h-3.2zM414 278.5h3.2v3.2h-3.2zM417 278.5h3.2v3.2h-3.2z"/>
<path fill="#f4bcbc" d="M423 185.5h3.2v3.2h-3.2zM426 185.5h3.2v3.2h-3.2zM399 236.5h3.2v3.2h-3.2zM426 236.5h3.2v3.2h-3.2zM435 239.5h3.2v3.2h-3.2zM438 239.5h3.2v3.2h-3.2zM441 239.5h3.2v3.2h-3.2zM393 245.5h3.2v3.2h-3.2zM435 245.5h3.2v3.2h-3.2zM438 245.5h3.2v3.2h-3.2zM441 245.5h3.2v3.2h-3.2zM444 245.5h3.2v3.2h-3.2zM414 248.5h3.2v3.2h-3.2zM417 248.5h3.2v3.2h-3.2zM420 248.5h3.2v3.2h-3.2z"/>
<path fill="#ccccf4" d="M486 185.5h3.2v3.2h-3.2zM441 233.5h3.2v3.2h-3.2z"/>
<path fill="#f4b4b4" d="M420 188.5h3.2v3.2h-3.2zM423 188.5h3.2v3.2h-3.2zM426 191.5h3.2v3.2h-3.2zM417 200.5h3.2v3.2h-3.2zM402 236.5h3.2v3.2h-3.2zM432 239.5h3.2v3.2h-3.2zM396 242.5h3.2v3.2h-3.2zM435 242.5h3.2v3.2h-3.2zM438 242.5h3.2v3.2h-3.2zM441 242.5h3.2v3.2h-3.2zM396 245.5h3.2v3.2h-3.2zM399 245.5h3.2v3.2h-3.2zM429 245.5h3.2v3.2h-3.2z"/>
<path fill="#f4b8b8" d="M426 188.5h3.2v3.2h-3.2zM426 194.5h3.2v3.2h-3.2zM423 197.5h3.2v3.2h-3.2zM414 200.5h3.2v3.2h-3.2zM420 200.5h3.2v3.2h-3.2zM396 239.5h3.2v3.2h-3.2zM444 242.5h3.2v3.2h-3.2zM432 245.5h3.2v3.2h-3.2z"/>
<path fill="#f4c0c0" d="M429 188.5h3.2v3.2h-3.2zM429 191.5h3.2v3.2h-3.2zM465 191.5h3.2v3.2h-3.2zM465 194.5h3.2v3.2h-3.2zM468 194.5h3.2v3.2h-3.2zM414 203.5h3.2v3.2h-3.2zM444 239.5h3.2v3.2h-3.2zM393 242.5h3.2v3.2h-3.2zM447 242.5h3.2v3.2h-3.2zM393 248.5h3.2v3.2h-3.2zM396 248.5h3.2v3.2h-3.2zM411 248.5h3.2v3.2h-3.2zM423 248.5h3.2v3.2h-3.2z"/>
<path fill="#f4cccc" d="M432 188.5h3.2v3.2h-3.2zM465 188.5h3.2v3.2h-3.2zM462 194.5h3.2v3.2h-3.2zM471 194.5h3.2v3.2h-3.2zM447 239.5h3.2v3.2h-3.2zM429 248.5h3.2v3.2h-3.2z"/>
<path fill="#f0f0f8" d="M477 188.5h3.2v3.2h-3.2zM432 200.5h3.2v3.2h-3.2zM459 200.5h3.2v3.2h-3.2zM420 209.5h3.2v3.2h-3.2zM411 218.5h3.2v3.2h-3.2zM411 227.5h3.2v3.2h-3.2zM438 254.5h3.2v3.2h-3.2zM387 269.5h3.2v3.2h-3.2z"/>
<path fill="#f4acac" d="M420 191.5h3.2v3.2h-3.2zM423 191.5h3.2v3.2h-3.2zM417 194.5h3.2v3.2h-3.2zM417 197.5h3.2v3.2h-3.2zM420 197.5h3.2v3.2h-3.2zM405 236.5h3.2v3.2h-3.2zM429 239.5h3.2v3.2h-3.2zM399 242.5h3.2v3.2h-3.2zM405 245.5h3.2v3.2h-3.2z"/>
<path fill="#f4a8a8" d="M420 194.5h3.2v3.2h-3.2zM420 236.5h3.2v3.2h-3.2zM426 245.5h3.2v3.2h-3.2z"/>
<path fill="#f4b0b0" d="M423 194.5h3.2v3.2h-3.2zM423 236.5h3.2v3.2h-3.2zM399 239.5h3.2v3.2h-3.2zM432 242.5h3.2v3.2h-3.2zM402 245.5h3.2v3.2h-3.2z"/>
<path fill="#e4e4f8" d="M444 197.5h3.2v3.2h-3.2zM447 197.5h3.2v3.2h-3.2zM435 200.5h3.2v3.2h-3.2zM456 200.5h3.2v3.2h-3.2zM426 206.5h3.2v3.2h-3.2zM414 218.5h3.2v3.2h-3.2zM414 221.5h3.2v3.2h-3.2zM414 224.5h3.2v3.2h-3.2zM414 227.5h3.2v3.2h-3.2zM432 254.5h3.2v3.2h-3.2z"/>
<path fill="#ccccf8" d="M444 200.5h3.2v3.2h-3.2zM447 200.5h3.2v3.2h-3.2zM429 206.5h3.2v3.2h-3.2zM468 206.5h3.2v3.2h-3.2zM420 215.5h3.2v3.2h-3.2zM438 233.5h3.2v3.2h-3.2zM396 278.5h3.2v3.2h-3.2z"/>
<path fill="#bcbcf4" d="M453 203.5h3.2v3.2h-3.2zM432 206.5h3.2v3.2h-3.2zM462 206.5h3.2v3.2h-3.2zM471 209.5h3.2v3.2h-3.2zM429 257.5h3.2v3.2h-3.2zM435 260.5h3.2v3.2h-3.2zM438 263.5h3.2v3.2h-3.2zM393 272.5h3.2v3.2h-3.2zM396 275.5h3.2v3.2h-3.2zM432 275.5h3.2v3.2h-3.2zM405 278.5h3.2v3.2h-3.2zM423 278.5h3.2v3.2h-3.2z"/>
<path fill="#acacf4" d="M435 206.5h3.2v3.2h-3.2zM465 209.5h3.2v3.2h-3.2zM471 212.5h3.2v3.2h-3.2zM426 221.5h3.2v3.2h-3.2zM405 257.5h3.2v3.2h-3.2zM432 260.5h3.2v3.2h-3.2zM435 263.5h3.2v3.2h-3.2zM435 269.5h3.2v3.2h-3.2z"/>
<path fill="#a4a4f4" d="M438 206.5h3.2v3.2h-3.2zM432 209.5h3.2v3.2h-3.2zM426 218.5h3.2v3.2h-3.2zM459 230.5h3.2v3.2h-3.2zM408 257.5h3.2v3.2h-3.2zM411 257.5h3.2v3.2h-3.2zM414 257.5h3.2v3.2h-3.2zM417 257.5h3.2v3.2h-3.2zM402 275.5h3.2v3.2h-3.2z"/>
<path fill="#9c9cf0" d="M441 206.5h3.2v3.2h-3.2zM444 206.5h3.2v3.2h-3.2zM450 206.5h3.2v3.2h-3.2zM429 221.5h3.2v3.2h-3.2zM465 221.5h3.2v3.2h-3.2zM462 224.5h3.2v3.2h-3.2zM426 227.5h3.2v3.2h-3.2zM432 263.5h3.2v3.2h-3.2zM396 266.5h3.2v3.2h-3.2zM396 269.5h3.2v3.2h-3.2zM432 269.5h3.2v3.2h-3.2zM429 272.5h3.2v3.2h-3.2zM405 275.5h3.2v3.2h-3.2z"/>
<path fill="#9898f0" d="M447 206.5h3.2v3.2h-3.2zM459 209.5h3.2v3.2h-3.2zM465 212.5h3.2v3.2h-3.2zM468 215.5h3.2v3.2h-3.2zM429 218.5h3.2v3.2h-3.2zM429 224.5h3.2v3.2h-3.2zM456 230.5h3.2v3.2h-3.2zM399 272.5h3.2v3.2h-3.2zM408 275.5h3.2v3.2h-3.2zM420 275.5h3.2v3.2h-3.2z"/>
<path fill="#a0a0f4" d="M453 206.5h3.2v3.2h-3.2zM468 212.5h3.2v3.2h-3.2z"/>
<path fill="#a8a8f4" d="M456 206.5h3.2v3.2h-3.2zM426 215.5h3.2v3.2h-3.2zM426 224.5h3.2v3.2h-3.2zM420 257.5h3.2v3.2h-3.2zM399 260.5h3.2v3.2h-3.2zM396 263.5h3.2v3.2h-3.2zM435 266.5h3.2v3.2h-3.2zM396 272.5h3.2v3.2h-3.2zM432 272.5h3.2v3.2h-3.2zM426 275.5h3.2v3.2h-3.2z"/>
<path fill="#d4d4f8" d="M474 206.5h3.2v3.2h-3.2zM417 224.5h3.2v3.2h-3.2zM417 227.5h3.2v3.2h-3.2zM435 233.5h3.2v3.2h-3.2zM408 254.5h3.2v3.2h-3.2zM414 254.5h3.2v3.2h-3.2zM417 254.5h3.2v3.2h-3.2zM390 269.5h3.2v3.2h-3.2z"/>
<path fill="#9494f0" d="M435 209.5h3.2v3.2h-3.2zM429 215.5h3.2v3.2h-3.2zM465 218.5h3.2v3.2h-3.2zM432 221.5h3.2v3.2h-3.2zM462 221.5h3.2v3.2h-3.2zM459 224.5h3.2v3.2h-3.2zM459 227.5h3.2v3.2h-3.2zM402 260.5h3.2v3.2h-3.2zM426 260.5h3.2v3.2h-3.2zM432 266.5h3.2v3.2h-3.2zM411 275.5h3.2v3.2h-3.2zM414 275.5h3.2v3.2h-3.2zM417 275.5h3.2v3.2h-3.2z"/>
<path fill="#8c8cf0" d="M438 209.5h3.2v3.2h-3.2zM456 209.5h3.2v3.2h-3.2zM462 212.5h3.2v3.2h-3.2zM459 221.5h3.2v3.2h-3.2zM432 224.5h3.2v3.2h-3.2zM456 224.5h3.2v3.2h-3.2zM453 230.5h3.2v3.2h-3.2zM429 263.5h3.2v3.2h-3.2zM429 269.5h3.2v3.2h-3.2zM402 272.5h3.2v3.2h-3.2z"/>
<path fill="#8484f0" d="M441 209.5h3.2v3.2h-3.2zM450 209.5h3.2v3.2h-3.2zM435 212.5h3.2v3.2h-3.2zM459 212.5h3.2v3.2h-3.2zM462 215.5h3.2v3.2h-3.2zM456 221.5h3.2v3.2h-3.2zM435 224.5h3.2v3.2h-3.2zM453 224.5h3.2v3.2h-3.2zM435 230.5h3.2v3.2h-3.2zM450 230.5h3.2v3.2h-3.2zM399 266.5h3.2v3.2h-3.2zM429 266.5h3.2v3.2h-3.2zM423 272.5h3.2v3.2h-3.2z"/>
<path fill="#8080f0" d="M444 209.5h3.2v3.2h-3.2zM447 209.5h3.2v3.2h-3.2zM435 218.5h3.2v3.2h-3.2zM459 218.5h3.2v3.2h-3.2zM438 221.5h3.2v3.2h-3.2zM453 221.5h3.2v3.2h-3.2zM447 230.5h3.2v3.2h-3.2zM408 260.5h3.2v3.2h-3.2zM420 260.5h3.2v3.2h-3.2zM405 272.5h3.2v3.2h-3.2z"/>
<path fill="#8888f0" d="M453 209.5h3.2v3.2h-3.2zM432 215.5h3.2v3.2h-3.2zM432 218.5h3.2v3.2h-3.2zM462 218.5h3.2v3.2h-3.2zM435 221.5h3.2v3.2h-3.2zM429 227.5h3.2v3.2h-3.2zM456 227.5h3.2v3.2h-3.2zM405 260.5h3.2v3.2h-3.2zM423 260.5h3.2v3.2h-3.2zM399 269.5h3.2v3.2h-3.2z"/>
<path fill="#a0a0f0" d="M462 209.5h3.2v3.2h-3.2zM429 212.5h3.2v3.2h-3.2zM462 227.5h3.2v3.2h-3.2zM429 230.5h3.2v3.2h-3.2zM429 260.5h3.2v3.2h-3.2zM423 275.5h3.2v3.2h-3.2z"/>
<path fill="#9090f0" d="M432 212.5h3.2v3.2h-3.2zM465 215.5h3.2v3.2h-3.2zM432 230.5h3.2v3.2h-3.2zM399 263.5h3.2v3.2h-3.2zM426 272.5h3.2v3.2h-3.2z"/>
<path fill="#7878f0" d="M438 212.5h3.2v3.2h-3.2zM438 218.5h3.2v3.2h-3.2zM456 218.5h3.2v3.2h-3.2zM441 224.5h3.2v3.2h-3.2zM444 224.5h3.2v3.2h-3.2zM447 224.5h3.2v3.2h-3.2zM411 260.5h3.2v3.2h-3.2zM414 260.5h3.2v3.2h-3.2zM402 269.5h3.2v3.2h-3.2zM408 272.5h3.2v3.2h-3.2z"/>
<path fill="#7474ec" d="M441 212.5h3.2v3.2h-3.2zM453 212.5h3.2v3.2h-3.2zM438 215.5h3.2v3.2h-3.2zM456 215.5h3.2v3.2h-3.2zM441 218.5h3.2v3.2h-3.2zM453 218.5h3.2v3.2h-3.2zM426 266.5h3.2v3.2h-3.2zM411 272.5h3.2v3.2h-3.2zM417 272.5h3.2v3.2h-3.2z"/>
<path fill="#7070ec" d="M444 212.5h3.2v3.2h-3.2zM447 212.5h3.2v3.2h-3.2zM450 212.5h3.2v3.2h-3.2zM444 218.5h3.2v3.2h-3.2zM447 218.5h3.2v3.2h-3.2zM450 218.5h3.2v3.2h-3.2zM435 227.5h3.2v3.2h-3.2zM450 227.5h3.2v3.2h-3.2zM423 263.5h3.2v3.2h-3.2zM402 266.5h3.2v3.2h-3.2zM414 272.5h3.2v3.2h-3.2z"/>
<path fill="#7c7cf0" d="M456 212.5h3.2v3.2h-3.2zM435 215.5h3.2v3.2h-3.2zM459 215.5h3.2v3.2h-3.2zM441 221.5h3.2v3.2h-3.2zM444 221.5h3.2v3.2h-3.2zM447 221.5h3.2v3.2h-3.2zM450 221.5h3.2v3.2h-3.2zM438 224.5h3.2v3.2h-3.2zM450 224.5h3.2v3.2h-3.2zM432 227.5h3.2v3.2h-3.2zM453 227.5h3.2v3.2h-3.2zM438 230.5h3.2v3.2h-3.2zM441 230.5h3.2v3.2h-3.2zM444 230.5h3.2v3.2h-3.2zM417 260.5h3.2v3.2h-3.2zM402 263.5h3.2v3.2h-3.2zM426 263.5h3.2v3.2h-3.2zM426 269.5h3.2v3.2h-3.2zM420 272.5h3.2v3.2h-3.2z"/>
<path fill="#6c6cec" d="M441 215.5h3.2v3.2h-3.2zM453 215.5h3.2v3.2h-3.2zM447 227.5h3.2v3.2h-3.2zM405 263.5h3.2v3.2h-3.2zM405 269.5h3.2v3.2h-3.2zM423 269.5h3.2v3.2h-3.2z"/>
<path fill="#6868ec" d="M444 215.5h3.2v3.2h-3.2zM447 215.5h3.2v3.2h-3.2zM450 215.5h3.2v3.2h-3.2zM438 227.5h3.2v3.2h-3.2zM423 266.5h3.2v3.2h-3.2z"/>
<path fill="#b0b0f4" d="M423 227.5h3.2v3.2h-3.2zM423 257.5h3.2v3.2h-3.2zM399 275.5h3.2v3.2h-3.2zM429 275.5h3.2v3.2h-3.2z"/>
<path fill="#6464ec" d="M441 227.5h3.2v3.2h-3.2zM444 227.5h3.2v3.2h-3.2zM408 263.5h3.2v3.2h-3.2zM420 263.5h3.2v3.2h-3.2zM405 266.5h3.2v3.2h-3.2zM420 269.5h3.2v3.2h-3.2z"/>
<path fill="#f4a4a4" d="M408 236.5h3.2v3.2h-3.2zM402 239.5h3.2v3.2h-3.2zM402 242.5h3.2v3.2h-3.2zM429 242.5h3.2v3.2h-3.2zM408 245.5h3.2v3.2h-3.2z"/>
<path fill="#f4a0a0" d="M411 236.5h3.2v3.2h-3.2zM417 236.5h3.2v3.2h-3.2zM423 245.5h3.2v3.2h-3.2z"/>
<path fill="#f0a0a0" d="M414 236.5h3.2v3.2h-3.2zM426 239.5h3.2v3.2h-3.2zM411 245.5h3.2v3.2h-3.2z"/>
<path fill="#f09c9c" d="M405 239.5h3.2v3.2h-3.2zM405 242.5h3.2v3.2h-3.2zM426 242.5h3.2v3.2h-3.2zM414 245.5h3.2v3.2h-3.2zM420 245.5h3.2v3.2h-3.2z"/>
<path fill="#f09494" d="M408 239.5h3.2v3.2h-3.2zM423 239.5h3.2v3.2h-3.2zM408 242.5h3.2v3.2h-3.2z"/>
<path fill="#f08c8c" d="M411 239.5h3.2v3.2h-3.2zM420 239.5h3.2v3.2h-3.2zM411 242.5h3.2v3.2h-3.2zM420 242.5h3.2v3.2h-3.2z"/>
<path fill="#f08888" d="M414 239.5h3.2v3.2h-3.2zM417 239.5h3.2v3.2h-3.2zM414 242.5h3.2v3.2h-3.2zM417 242.5h3.2v3.2h-3.2z"/>
<path fill="#f09090" d="M423 242.5h3.2v3.2h-3.2z"/>
<path fill="#f09898" d="M417 245.5h3.2v3.2h-3.2z"/>
<path fill="#5c5cec" d="M411 263.5h3.2v3.2h-3.2zM414 263.5h3.2v3.2h-3.2zM420 266.5h3.2v3.2h-3.2zM411 269.5h3.2v3.2h-3.2zM417 269.5h3.2v3.2h-3.2z"/>
<path fill="#6060ec" d="M417 263.5h3.2v3.2h-3.2zM408 269.5h3.2v3.2h-3.2z"/>
<path fill="#5858ec" d="M408 266.5h3.2v3.2h-3.2zM414 269.5h3.2v3.2h-3.2z"/>
<path fill="#5454ec" d="M411 266.5h3.2v3.2h-3.2zM417 266.5h3.2v3.2h-3.2z"/>
<path fill="#5050ec" d="M414 266.5h3.2v3.2h-3.2z"/>
</g>
<path d="M368.77 178.44l1.86 2.36M372.65 178.61l-1.44 2.63M375.17 177.98l1.7 2.47M380.95 176.5l-0.15 3M384.62 179.2l-2.68 1.35M385.76 178.64l2.9 0.76M389.15 177.35l2.2 2.04M394.08 177.6l1.94 2.29M400.21 177.06l-1.37 2.67M403.54 176.79l-1.49 2.61M406.19 177.93l-1.72 2.46M410.79 178.08l-2.37 1.84M413.43 178.35l-2.02 2.22M418.42 179.08l-2.53 1.62M421.68 179.26l-2.74 1.23M426.22 178.1l-2.96 0.47M469.11 179.87l-1.59 -2.55M471.53 179.58l0.66 -2.93M475.83 180.01l1.61 -2.53M478.29 181.17l1.5 -2.6M482.38 178.83l3 0.06M486.57 178.38l2.53 1.61M489.64 177.32l1.67 2.49M368.02 182.06l2.77 1.16M372.81 181.69l1 2.83M375.31 182.12l1.43 2.64M378.31 181.28l2.9 0.76M385.48 182.26l-1.84 2.37M386.97 181.36l2.53 1.6M391.71 182.37l-3 0.02M395.32 180.34l-0.19 2.99M399.97 181.25l-1.64 2.52M402.49 180.77l-2.08 2.16M406.95 181.18l-1.62 2.52M411.39 180.59l-2.23 2.01M414.53 181.8l-2.07 2.18M417.49 180.94l-2.06 2.18M422.55 182.48l-2.42 1.77M470.8 182.79l-2.06 -2.18M472.57 184.78l-1.52 -2.59M476.22 183.3l0.01 -3M478.9 183.26l0.81 -2.89M483.27 181.09l2.18 2.06M487.42 180.33l1.3 2.7M491.37 180.99l0.64 2.93M367.08 184.74l2.63 1.44M372.68 184.92l1.4 2.65M377.37 185.13l-2.31 1.92M381.75 185.09l-2.22 2.02M384.36 185.33l-0.45 2.97M388.66 186.77l-2.98 0.34M389.77 184.91l2.7 1.31M395.72 185.45l-1.29 2.71M398.67 185.69l-1.72 2.46M403.37 184.52l-1.65 2.51M406.73 184.58l-1.2 2.75M410.22 183.87l-1.81 2.39M413.82 185.24l-2.07 2.17M418.21 185.63l-2.1 2.14M421.73 184.72l-2.77 1.16M469.34 185.78l-2.87 -0.88M472.81 187.39l-2.21 -2.02M476.58 187.4l-1.96 -2.27M481.24 187.61l-2.5 -1.66M484.89 185.55l-3 -0.1M488.06 185.12l-2.24 1.99M491.62 184.44l-1.34 2.69M369.82 188.63l-2.93 0.67M373.26 188.17l-1.02 2.82M374.28 187.64l2.46 1.72M379.18 188.73l2.3 1.92M382.68 187.21l1.29 2.71M389.11 189.89l-2.92 0.7M389.87 188.6l2.58 1.54M395.72 187.16l-0.89 2.87M399.26 187.36l-1.2 2.75M401.88 189.04l-0.84 2.88M407.31 187.77l-1.33 2.69M410.57 188.35l-1.81 2.39M415.1 188.77l-1.95 2.28M418.64 188.6l-1.91 2.31M421.73 189.2l-2.48 1.69M425.84 188.49l-2.99 0.18M445.76 189.94l2.98 -0.36M470.39 189.86l-2.41 -1.79M473.8 191.03l-1.79 -2.41M476.96 191.6l-1.87 -2.35M481.67 191.07l-2.46 -1.72M486.16 188.83l-3 0.08M488.6 188.81l-2.59 1.51M492.84 188.84l-2.47 1.71M369.57 191.2l-2.42 1.78M371.32 191.26l2.56 1.56M374.17 192.21l2.96 0.49M380.01 191.81l-0.21 2.99M383.89 191.13l1.28 2.71M389.17 191.77l-2.85 0.94M391.26 191.53l0.6 2.94M395.47 190.68l-0.36 2.98M398.9 191.37l-0.59 2.94M401.95 191.42l-1.12 2.78M407.43 190.95l-0.96 2.84M410.76 192.37l-1.49 2.6M413.89 191.1l-1.48 2.61M418.79 192.04l-1.48 2.61M441.92 192.93l3 -0.13M445.42 193.94l3 -0.04M448.56 192.61l3 -0.15M476.85 195l-0.99 -2.83M482.03 194.84l-2.15 -2.1M485.14 193.38l-2.86 -0.89M489.68 191.77l-2.75 1.2M492.88 191.58l-2.4 1.8M369.89 196.04l-2.34 1.88M371.41 196.34l2.15 2.09M377.88 195.92l-2.99 0.27M379.88 196.01l-1.01 2.83M382.48 194.68l0.83 2.88M386.34 194.29l1.61 2.53M390.91 194.36l1.45 2.62M394.57 195.03l-0.21 2.99M397.75 194.8l-0.06 3M402.58 194.85l-1.15 2.77M405.93 194.98l-0.98 2.84M409.56 194.98l-1.22 2.74M414.38 194.44l-1.49 2.6M435.05 197.84l1.86 -2.36M437.2 196.79l2.4 -1.81M442.46 197.26l2.88 -0.84M446.02 197.38l2.95 -0.52M448.94 196.69l2.84 0.98M453.42 196.18l2.54 1.59M456.88 195.82l2.35 1.87M479.49 198.96l0.21 -2.99M485.88 196.54l-2.39 -1.81M487.79 197.78l-2.16 -2.08M491.29 195.98l0.16 3M366.75 200.43l3 0M372.38 198.32l1 2.83M375.77 198.72l0.29 2.99M378.52 201.88l2.26 -1.97M381.92 201.51l2.45 -1.73M385.29 199.34l2.99 -0.29M390.98 199.73l2.11 2.13M394.61 198.4l0.64 2.93M398.59 198.76l-0.32 2.98M402.47 198.59l-0.8 2.89M405.98 197.84l-0.48 2.96M410.53 198.26l-0.56 2.95M413.99 198.16l0.45 2.97M437.47 200.19l2.72 -1.27M441.65 200.84l2.99 -0.27M444.96 199.76l2.99 0.25M449.15 199.75l3 0.11M453.25 199.93l2.75 1.21M455.68 199.79l2.49 1.67M478.74 201.24l1.86 -2.35M482.94 201.71l2.55 -1.57M485.7 200.62l2.82 -1.03M489.58 199.01l2.66 1.38M366.72 203.72l2.96 0.46M374.6 203.63l-2.99 0.26M374.92 203.87l2.33 -1.89M378.5 204.95l1.91 -2.32M382.32 204.51l2.78 -1.14M386.33 203.87l2.97 -0.44M389.64 202.78l2.84 0.97M394.96 201.87l0.65 2.93M398.68 202.23l0.91 2.86M402.02 202.85l0.64 2.93M405.64 201.93l0.12 3M409.11 201.51l0.02 3M412.28 201.71l1.35 2.68M437.88 203.54l2.83 -1M442.25 203.1l3 0.08M445.82 203.51l2.95 0.52M448.76 203.03l2.94 0.6M451.78 202.96l2.99 0.24M455.82 203.37l2.71 1.28M478.15 203.11l2.93 -0.67M481.66 203.94l3 -0.07M485 202.79l2.99 0.3M488.9 202.39l2.62 1.47M369.75 206.37l-0.65 2.93M371.73 208.68l2.2 -2.04M375.87 207.76l2.22 -2.02M379.12 208.27l2.02 -2.21M382.27 208.81l1.82 -2.39M387.04 208.39l2.6 -1.5M390.08 205.63l2.6 1.49M393.53 205.57l1.46 2.62M397.66 205.52l1.4 2.66M401.83 206.57l0.96 2.84M405.79 204.56l0.51 2.96M407.86 206.23l2.07 2.17M411.07 206.87l2.9 0.76M434.6 207.91l2.9 -0.75M438.18 207.7l2.96 -0.46M440.82 207.09l2.89 -0.79M445.45 207.38l3 -0.05M449.79 207.1l2.9 0.76M453.6 206.19l2.88 0.82M478.58 206.4l3 -0.12M481.23 207.61l2.97 0.44M486.64 206.42l2.44 1.74M489.97 207.03l2.69 1.32M368.78 208.65l0.59 2.94M372.74 212.56l1.57 -2.56M375.53 212.76l1.41 -2.65M378.42 211.15l1.62 -2.52M382.16 212.34l1.28 -2.72M386.52 212.04l1.95 -2.28M390.18 210.19l2.83 0.99M394.82 209.83l1.5 2.6M398.1 208.75l1.58 2.55M401.07 209.82l1.29 2.71M404.88 209.46l2.29 1.94M408.34 210.97l2.97 0.44M412.43 211.18l2.97 -0.42M438.42 210.6l2.63 -1.45M441.75 210.03l3 -0.01M446.19 209.74l3 0.09M449.54 210.85l3 0.03M452.37 209.72l2.91 0.74M478.37 209.67l2.81 1.06M481.7 209.87l2.77 1.15M486.81 209.23l1.97 2.26M490.65 209.97l1.7 2.47M369.18 212.73l-2.06 2.18M372.83 214.86l0.66 -2.93M376.21 215.45l0.27 -2.99M379.02 216.23l0.39 -2.97M384.19 215.06l0.7 -2.92M387.55 215.4l1.77 -2.42M390.46 212.93l2.95 0.55M393.85 212.34l2.13 2.12M398.63 213.51l0.89 2.87M401.73 212.74l1.85 2.36M405.2 213.49l2.36 1.85M408.83 214.13l2.99 -0.27M412.55 213.79l2.86 -0.91M414.85 214.71l2.68 -1.34M419.79 214.43l2.32 -1.9M424.38 215.83l2.09 -2.15M444.63 214.16l2.91 -0.74M467.62 213.48l2.19 2.05M472.29 213.52l1.76 2.43M474.71 213.14l1.77 2.42M479.5 213.55l0.93 2.85M483.28 213.29l0.92 2.86M487.13 212.11l1.25 2.73M490.18 213.32l0.87 2.87M369.4 216.5l-1.91 2.31M373.31 215.88l-2.19 2.05M375.75 219.42l-0.36 -2.98M380.52 218.18l-0.32 -2.98M384.14 219.48l-0.81 -2.89M387.3 218.84l-1.2 -2.75M392.6 218.54l-2.38 -1.82M395.45 215.72l-0.55 2.95M398.14 216.18l-0.21 2.99M401.72 217.2l2.14 2.1M404.66 216.8l2.98 0.3M408.27 219.12l2.72 -1.26M412.2 217.79l2.53 -1.62M415.86 219.16l1.52 -2.58M419.4 219.7l1.6 -2.54M424.67 218.53l0.91 -2.86M468.11 215.33l1.36 2.68M472.98 216.27l0.22 2.99M475.11 215.16l0.99 2.83M480.93 216.24l-0.31 2.98M483.39 215.1l0.29 2.99M486.7 215.31l-0.24 2.99M491.82 216.07l-0.6 2.94M367.11 220.59l3 0.11M372.58 222.61l-1.11 -2.79M377.8 221.95l-1.6 -2.54M380.97 222.09l-1.51 -2.59M385.3 222.77l-2.29 -1.94M388.64 221.42l-2.21 -2.03M392.55 221.67l-2.98 -0.35M396.98 220.33l-2.53 1.61M399.59 218.86l-1.45 2.63M403.33 219.05l-0.07 3M404.73 222.34l1.65 -2.5M408.85 221.9l1.51 -2.59M413.34 222.17l0.43 -2.97M416.52 221.72l0.31 -2.98M421.72 222.81l-0.64 -2.93M424.86 221.89l-0.04 -3M474.5 220.79l-2.19 2.05M476.2 220.22l-1.64 2.51M481.14 220.72l-1.61 2.53M483.53 220.38l-1.49 2.6M488.61 220.53l-1.61 2.53M493.04 220.24l-1.93 2.29M367.15 223.9l3 0M373.58 225.05l-1.52 -2.59M377.06 225.11l-2.62 -1.47M381.43 224.76l-2.71 -1.29M384.71 224.39l-2.85 -0.93M388.57 225.09l-2.96 0.46M392.6 224.4l-2.95 0.55M396.99 224.81l-2.68 1.35M400.14 223.35l-2.82 1.03M402.99 223.37l-2.79 1.1M407.65 225.07l-1.58 -2.55M409.99 226.77l-0.97 -2.84M412.56 225.12l-0.28 -2.99M416.13 226.01l0.2 -2.99M419.62 226.04l0.83 -2.88M424.34 226.4l0.12 -3M445.9 223.9l2.71 1.28M473.79 222.97l-2.28 1.95M476.48 223.4l-2.25 1.98M482.18 222.85l-2.38 1.83M485.34 224.47l-2.57 1.54M487.92 223.77l-1.84 2.37M491.58 224.11l-2.48 1.69M370.06 226.01l-1.59 2.54M371.84 227.88l2.92 0.67M378.53 228.45l-2.99 0.2M381.38 227.8l-3 0.02M384.47 227.97l-3 0.11M389.66 228.24l-2.95 0.57M392.03 226.97l-2.72 1.26M396.11 227.24l-2.6 1.5M400.78 228.03l-2.99 0.19M404.78 228.3l-2.98 -0.33M407.7 229.32l-2.54 -1.6M410.44 228.9l-0.95 -2.85M413.6 230l-1.73 -2.45M417.42 230.13l-0.53 -2.95M421.09 230.44l-0.48 -2.96M424.48 229.22l1.18 -2.76M444.7 227.46l2.83 1.01M470.15 227.49l-1.93 2.3M473.74 226.97l-1.8 2.4M477.64 228.1l-2.53 1.61M482.25 228.19l-2.54 1.6M484.97 226.34l-2.46 1.72M488.77 228.05l-2.57 1.54M491.22 226.56l-1.94 2.29M370.15 230.11l-1.32 2.69M374.87 230.3l-2.73 1.24M377.18 230.48l-2.83 0.99M381.79 230.1l-2.59 1.51M384.27 230.28l-2.87 0.89M388.68 231.97l-2.81 1.05M391.92 231.61l-2.72 1.26M396.6 231.56l-2.91 0.73M401.09 230.89l-3 0.16M418.44 231.77l-2.67 -1.37M432.9 231.7l-2.83 -0.99M444.21 231.79l-3 -0.04M448.54 231.48l-3 0.07M451.78 231.63l-3 0.14M467.55 231.46l-2.86 0.92M470.6 230.42l-2.19 2.05M473.64 230.38l-2.29 1.94M477.92 229.98l-2.65 1.41M480.97 230.69l-2.79 1.11M484.34 230.81l-2.71 1.29M489.26 230.84l-2.55 1.59M491.76 230.17l-2.7 1.3M368.97 233.84l1.85 2.36M373.31 234.85l-2.35 1.87M376.79 234.18l-1.98 2.26M381.25 234.15l-2.24 2M383.96 233.42l-2.13 2.11M389.1 234.17l-1.76 2.43M391.89 233.52l-2.11 2.13M396.51 233.42l-2.32 1.9M399.68 234.77l-2.43 1.77M437.78 235.3l-2.97 -0.45M439.95 235.57l-2.98 0.31M444.19 235.79l-2.99 0.27M447.95 234.62l-3 -0.17M452.67 235.32l-3 0.17M454.68 234.16l-3 0.09M459.18 233.93l-2.98 0.37M463.83 233.75l-2.86 0.89M465.88 234.49l-2.9 0.78M470.08 233.61l-2.84 0.98M473.19 234.66l-2.84 0.96M478.78 235.36l-2.97 0.43M481.85 235.37l-2.98 0.37M486.01 233.96l-2.73 1.24M488.98 235.12l-2.94 0.59M491.76 233.87l-2.89 0.81M366.61 237.9l2.92 0.69M373.24 236.56l-1.61 2.53M377.09 237.57l-0.99 2.83M379.88 237.24l-0.85 2.88M385.15 237.9l-1.12 2.78M389.46 237.19l-2.2 2.04M391.79 238.33l-2.08 2.16M396.56 238.17l-2.33 1.89M437.58 238.57l-2.91 -0.71M441.67 238.9l-2.98 0.3M444.31 238.56l-2.99 -0.29M448.33 238.1l-2.93 -0.65M450.92 240.18l-2.55 -1.58M456.26 239.05l-2.95 -0.53M458.21 239.26l-2.75 -1.2M462.44 239.17l-2.99 -0.21M466.27 238.93l-3 -0.1M471.15 238.17l-2.87 0.88M473.59 239.19l-2.96 0.47M477.82 238.84l-2.97 0.43M481.59 237.59l-2.78 1.12M485.76 237.16l-2.9 0.78M489.62 238.47l-2.89 0.8M493.38 237.48l-2.89 0.81M370.28 240.79l-2.97 0.44M373.43 239.91l0.19 2.99M376.84 239.91l-0.13 3M379.74 240.39l-0.46 2.96M384.92 239.91l-1.61 2.53M388.18 241.06l-1.13 2.78M392.7 240.87l-1.57 2.56M395.59 241.58l-1.37 2.67M441.33 241.17l-2.97 0.44M444.6 243.12l-2.84 -0.97M447.26 242.81l-2.46 -1.72M452.11 242.3l-1.84 -2.37M455.16 244.28l-0.81 -2.89M458.83 243.87l-1.54 -2.58M463.39 241.85l-2.77 -1.16M467.53 241.55l-2.98 -0.3M470.01 242.04l-2.96 -0.46M473.56 241.66l-2.99 0.2M477.6 242.45l-3 0.11M482.23 242.58l-2.99 0.25M484.72 241.64l-2.98 0.31M489.46 241.35l-2.79 1.09M493.31 240.85l-2.97 0.4M368.51 245.15l2.27 1.96M372.28 243.53l1.22 2.74M375.1 244.92l1.38 2.66M379.9 244.4l0.01 3M384.45 244.87l-1.13 2.78M388.87 244.06l-1.22 2.74M391.44 243.41l-0.73 2.91M438 244.33l2.93 0.64M442.21 245.49l2.5 -1.66M445.72 247.3l2.13 -2.11M449.24 247.01l0.9 -2.86M453.35 247.94l0.66 -2.93M458.22 247.53l0.66 -2.93M461.12 247.35l-0.05 -3M465.2 247.01l-1.36 -2.67M469.4 246.61l-2.76 -1.18M473.63 245.13l-3 -0.12M477.3 245.3l-2.99 0.22M482.25 244.78l-2.97 0.42M484.31 244.99l-2.78 1.12M488.62 246.34l-2.99 0.21M491.78 245.4l-2.8 1.07M368.4 249.33l2.98 0.33M370.54 247.88l2.58 1.53M376.19 246.67l0.68 2.92M380.93 246.67l-0.6 2.94M384.27 247.68l-1.04 2.81M387.37 247.26l-1.41 2.65M441.49 249.87l3 0.1M446.11 250.19l2.92 -0.69M450.42 249.79l1.73 -2.45M453.76 250.04l1.83 -2.38M456.98 250.72l1.63 -2.52M460.21 251.2l0.93 -2.85M464.25 250.31l0.53 -2.95M470.28 249.08l-2.5 -1.65M474.3 249.21l-2.8 1.07M475.55 249.06l2.95 0.53M482.22 248.97l-2.99 0.22M485.8 248.27l-2.83 1.01M488.1 249.52l-2.86 0.9M491.46 248.45l-0.99 2.83M366.9 253.78l2.92 -0.67M371.29 251.24l2.62 1.45M376.62 251.97l0.31 2.98M381.39 251.18l-1.07 2.8M385.05 250.51l-1.37 2.67M388.28 250.4l-0.76 2.9M411.7 252.52l3 -0.03M416.61 251.21l2.93 0.64M442.31 251.39l2.93 0.66M445.99 252.19l2.99 -0.25M449.04 253.58l2.66 -1.39M453.56 252.73l2.41 -1.79M456.13 253.83l2.39 -1.81M459.61 253.67l2.36 -1.85M464.92 252.95l1.5 -2.6M467.97 252.14l2.96 0.46M473.04 250.4l-1.9 2.33M477.38 251.53l-2.88 0.84M481.89 250.78l-2.41 1.79M483.04 253.41l3 0.01M488.16 250.97l-0.15 3M490.64 251.36l2.76 1.18M367.25 256.78l2.37 -1.84M372.32 255.14l1.64 2.51M375.45 254.09l0.34 2.98M381.19 255.39l-0.85 2.88M385.19 254.04l-0.92 2.86M387.9 254.68l1.12 2.78M411.72 255.98l3 -0.02M414.73 255.23l3 0.16M419 255.67l2.96 0.48M441.51 255.81l2.9 0.76M445.56 255.35l2.98 -0.32M448.77 255.54l3 0.03M451.7 255.86l3 -0.11M456.87 256.32l3 0.11M459.4 255.79l2.85 -0.94M463.86 255.44l2.97 0.41M467.3 255.38l2.8 1.08M474.38 255.42l-2.69 1.32M477.19 254.37l-1.39 2.66M478.81 255.18l0.84 2.88M483.16 254.1l0.8 2.89M488.64 256.24l-2.86 0.9M491.25 253.82l-0.37 2.98M366.97 260.13l2.18 -2.06M372.61 257.14l0.72 2.91M377.79 258.08l-0.85 2.88M380.27 258.88l-1.12 2.78M383.25 257.91l-0.7 2.92M386.78 258.92l2.96 -0.52M441.69 259.18l2.71 1.29M444.44 258.18l2.58 1.53M448.61 258.91l2.93 0.64M452.15 259.31l2.74 1.21M456.96 258.48l2.41 1.79M459.84 258.3l2.43 1.76M464.43 258.9l1.86 2.35M467.6 258.3l2.11 2.13M471.02 257.96l1.36 2.68M476.98 259.32l-2.89 0.81M481.13 258.03l-1.22 2.74M482.32 259.59l2.97 0.41M489.51 259.36l-2.99 0.28M492.37 259.41l-2.58 1.54M369.27 262.43l-0.11 3M373.89 262.02l-1.19 2.75M377.44 262.05l-0.59 2.94M380.69 262.25l-0.79 2.89M382.98 262.01l0.14 3M385.3 263.92l2.53 -1.61M389.67 263.29l2.13 -2.11M438.68 261.92l2.36 1.85M442.92 262.59l2.02 2.22M445.39 261.04l1.95 2.28M449.18 261.8l2.38 1.83M452.1 261.01l2.16 2.08M455.67 261.25l2.34 1.88M461.38 262.37l1.54 2.57M465.1 262.49l1.25 2.73M468.03 261.74l0.88 2.87M471.78 261.41l0.65 2.93M474.36 262.7l2.6 1.5M479.4 262.22l0.29 2.99M483.08 260.52l0.44 2.97M487.85 260.7l-1.26 2.72M492.57 261.44l-1.8 2.4M369.86 266.17l-2.86 -0.91M373.7 266.04l-1.61 2.53M377.61 265.81l-0.98 2.84M380.45 264.57l-1.37 2.67M382.92 267.24l2.57 -1.55M387.26 267.27l1.39 -2.66M390.41 266.99l1.2 -2.75M394.97 267.04l1.39 -2.66M438.2 265.65l0.53 2.95M443.56 265.75l0.65 2.93M445.53 264.6l0.67 2.92M450.65 264.81l0.9 2.86M453.92 264.9l0.09 3M457.82 265.51l0.91 2.86M461.02 264.56l0.75 2.91M465.39 265.22l0.2 2.99M467.69 265.07l0.44 2.97M473.13 265.74l-0.16 3M475.33 264.49l0.14 3M478.32 266.64l2.81 1.06M483.13 265.29l0.47 2.96M486.43 264.41l0.49 2.96M491.1 264.56l1.32 2.69M370.25 268.36l-2.31 1.91M372.89 269.11l-1.76 2.43M375.84 268.7l-0.86 2.87M380.52 269.01l0.81 2.89M383.35 271.7l1.83 -2.38M387.58 271.59l0.56 -2.95M391.06 272.33l0.56 -2.95M394.68 270.92l0.1 -3M439.83 268.13l-0.55 2.95M442.55 268.17l-0.37 2.98M446.38 268l-0.08 3M451.23 268.17l-0.8 2.89M453.38 269.29l-0.54 2.95M459.06 269.11l-0.91 2.86M462.44 269.22l-0.86 2.87M466.28 269.02l-0.22 2.99M467.92 268.06l0.01 3M472.56 268.17l0.07 3M478.21 268.29l-2.57 1.54M478.87 268.82l2.11 2.13M485.76 270.35l-3 0.08M487.18 269.1l-0.43 2.97M491.56 269.26l-1.8 2.4M369.62 271.83l-1.73 2.45M372.7 272.52l-0.79 2.89M376.09 272.73l-0.18 2.99M379.12 274.42l2.86 -0.91M384.29 275.27l0.75 -2.9M387.68 274.94l0.79 -2.89M390.66 275.76l-0.62 -2.94M394.53 275.07l-1.13 -2.78M398.42 274.91l-1.51 -2.59M436.83 272.95l-2.15 2.09M439.67 272.16l-1.54 2.58M443.75 271.67l-2.14 2.11M446.89 271.99l-1.23 2.74M450.64 272.94l-1.29 2.71M455.43 272.27l-1.56 2.56M457.66 271.97l-1.46 2.62M461.7 272.24l-1.53 2.58M465.62 271.4l-0.51 2.96M469.22 272.46l-1.05 2.81M473.65 272.96l-0.99 2.83M476.62 271.62l1.07 2.8M478.65 273.95l2.85 0.95M482.26 272.95l1.6 2.53M486.6 274.01l2.94 0.6M492.82 273.11l-2.32 1.91M369.64 275.88l-1.42 2.64M373.36 274.91l-1.35 2.68M375.78 276.62l1.26 2.72M378.76 278.08l2.42 -1.77M382.6 277.51l1.41 -2.65M387.4 279.49l0.11 -3M390.83 277.6l-0.29 -2.99M394.97 278.3l-2.12 -2.12M400.84 278.13l-2.84 -0.97M402.94 278.4l-2.6 -1.5M414.3 277.87l-3 -0.06M419.34 276.32l-3 -0.11M432.57 275.99l-2.59 1.52M436.47 276.27l-2.74 1.22M441.48 277.17l-2.63 1.44M443.67 275.5l-2.38 1.83M448.37 276.79l-2.37 1.84M451.37 275.24l-2.41 1.79M455.16 275.9l-2.15 2.09M457.9 276.07l-2.09 2.15M461.45 275.62l-1.83 2.38M465.29 274.76l-1.42 2.64M470.67 276.52l-2.1 2.14M473.78 276.06l-1.97 2.26M477.48 274.59l-0.95 2.84M480.39 275.12l0.29 2.99M482.65 276.64l2.91 0.71M489.86 277.84l-3 0.16M490.37 277.17l2.79 1.1" stroke="#222" stroke-width="0.55" opacity="0.7" fill="none"/>
<path d="M428.19 180.87l-1.34 -2.68M432.37 180.14l0.29 -2.99M437.76 178.89l2.79 -1.1M441.1 179.3l3 0.11M448.36 180.97l-1.56 -2.56M450.05 179.95l-1 -2.83M456.64 179.99l2.05 -2.19M460.94 178.48l2.94 -0.61M464.14 179.59l2.96 0.49M425.9 183.01l-2.13 -2.12M429.37 184.4l-2.37 -1.84M440.86 181.73l2.8 1.07M448.83 184.31l-2.38 -1.82M452.14 184.25l-2.29 -1.94M461.01 182.15l2.78 1.14M464.67 182.66l2.56 1.57M426.67 186.61l-2.77 -1.14M430.12 186.78l-2.91 -0.72M432.71 186.68l-3 -0.06M439.41 184.45l1.75 2.43M441.48 184.78l1.91 2.32M449.03 185.8l-2.68 -1.35M450.83 185.74l-2.72 -1.28M464.39 185.11l1.93 2.3M428.87 188.66l-2.99 -0.23M433.57 188.2l-2.78 1.13M436.79 188.42l-1.39 2.66M439.73 187.43l0.4 2.97M442.56 187.5l1.17 2.76M451.9 188.95l-2.99 0.21M456.13 189.54l-2.32 1.9M458.99 188.95l-1.06 2.81M462.11 187.44l0.71 2.92M464.26 187.52l1.2 2.75M420.18 194.86l0.45 -2.97M423.02 193.62l1.36 -2.67M427.5 194.64l2.48 -1.69M433.75 191.91l-2.36 1.85M435.98 191.76l-1.78 2.42M439.84 191.08l-0.44 2.97M455.31 192.23l-2.33 1.89M457.75 192.46l-1.69 2.48M461.3 190.92l-0.43 2.97M464.19 195.18l0.67 -2.92M467.82 194.74l1.83 -2.38M470.47 194.41l2.44 -1.75M416.69 198.46l-1.11 -2.79M420.27 197.68l-0.03 -3M424.22 196.92l1.68 -2.48M426.08 197.56l2.4 -1.8M431.34 196.97l2.99 -0.24M460.98 198.44l-0.88 -2.87M465.68 197.42l0.94 -2.85M467.43 197.78l1.73 -2.45M470.67 196.43l2.64 -1.43M475.44 196.67l3 -0.12M418.22 201.38l-1.71 -2.47M420.29 200.48l-0.93 -2.85M430.49 200.15l2.92 0.71M434.29 200.14l2.79 1.1M462.87 200.89l-1.25 -2.73M471.89 200.62l2.94 0.6M473.89 200.25l2.89 0.8M417.81 204.64l-2.62 -1.45M430.54 202.21l2.49 1.67M433.68 202.47l2.43 1.76M461.72 203.46l-2.34 -1.88M475.36 202.3l2.46 1.71M418.79 208.03l-3 -0.13M422.01 206.6l-2.99 0.19M428.45 205.72l0.32 2.98M430.34 205.29l1.24 2.73M459.8 207.65l-2.94 -0.57M462.08 208.03l-3 -0.09M472.18 204.94l1.01 2.82M476.11 206.56l1.33 2.69M418.55 209.73l-2.98 0.3M423.09 208.95l-2.63 1.44M425.38 208.87l-1.93 2.3M428.23 208.22l-0.57 2.94M432.5 212.63l0.78 -2.9M435.18 212.39l1.59 -2.55M457.06 212.01l1.7 -2.48M463.12 210.18l-2.91 0.75M466.46 208.86l-2.58 1.53M469.64 209.4l-1.46 2.62M472.26 208.2l-0.17 2.99M475.78 208.81l0.7 2.92M428.66 216.04l-0.86 -2.87M431.04 215.25l-0.08 -3M434.63 214.82l1.32 -2.69M438.09 214.82l2.5 -1.65M440.95 215.02l2.92 -0.67M450.49 215.53l-0.68 -2.92M453.3 214.85l0.24 -2.99M456.78 215.66l1.57 -2.56M460.03 214.28l2.55 -1.58M463.3 214.58l2.95 -0.56M428.23 218.87l-1.68 -2.49M432.83 219.49l-0.91 -2.86M438.85 216.95l2.89 -0.81M440.75 217.42l3 0.1M448.42 219.43l-1.93 -2.3M451.81 219.22l-1.5 -2.6M454.68 218.4l-0.17 -3M459.73 217.58l2.87 -0.86M464.52 217.89l2.91 0.75M429.85 221.46l-2.31 -1.91M441.56 219.8l2.64 1.42M448.66 221.11l-2.29 -1.94M451.03 221.49l-2.33 -1.89M464.28 220.84l2.34 1.88M467.63 220.84l2.39 1.82M428.98 225.51l-2.96 -0.51M432.46 225.37l-2.99 0.2M442.22 223.15l1.46 2.62M451.62 224.57l-2.92 -0.67M464.97 223.62l1.51 2.59M467.6 222.48l2.05 2.19M429.89 228.04l-2.98 0.36M432.82 227.41l-2.84 0.97M436.85 227.63l-1.84 2.37M439.34 227.35l-0.82 2.88M442.59 226.87l0.38 2.98M451.07 227.49l-3 0.16M456.03 226.62l-2.65 1.41M458.75 227.46l-1.69 2.48M461.12 225.58l-0.37 2.98M465.1 226.6l0.69 2.92M402.23 233.91l-0.32 -2.98M405.15 233.14l0.67 -2.92M408.43 232.01l1.8 -2.4M411.97 232.42l2.63 -1.45M420.75 232.34l0.83 -2.88M423.15 233.16l1.59 -2.55M427.31 232.78l2.65 -1.41M436.69 230.34l-1.84 2.37M439.08 229.84l-1.15 2.77M455.24 230.12l-2.49 1.67M458.97 229.58l-1.63 2.52M462.39 229.04l-0.52 2.95M401.91 236.85l-1.15 -2.77M405.13 236.84l-0.15 -3M411.68 236.06l2.92 -0.7M417.2 236.12l-0.96 -2.84M420.81 236.95l-0.06 -3M424.32 235.46l2.1 -2.14M426.87 235.08l2.79 -1.1M431.15 234.43l3 -0.07M399.3 239.37l-2.1 -2.14M402.87 240.07l-2.1 -2.14M418.8 240.31l-2.15 -2.09M427.7 237.83l2.97 0.46M429.74 238.04l2.83 0.98M400.69 243.09l-2.78 -1.12M402.84 242.23l-2.71 -1.28M418.38 242.44l-2.76 -1.18M430.19 241.41l1.84 2.37M433.64 241.4l2.1 2.15M395.26 247.96l-0.25 -2.99M398.35 247.23l0.95 -2.85M401.12 246.95l1.99 -2.24M412.46 243.31l0.3 2.99M418.53 245.53l-3 0.05M423.05 245.05l-2.59 1.52M424.62 245.02l-1.97 2.27M428.4 243.66l0.41 2.97M430.71 243.54l1.16 2.77M434.81 245.91l2.67 -1.37M392.58 250.05l-1.34 -2.68M395.62 250.29l-0.8 -2.89M397.99 251.29l-0.24 -2.99M401.35 249.85l2.31 -1.91M405.21 248.96l2.97 -0.4M409.78 247.73l-1.68 2.48M413.31 248.13l-0.53 2.95M415.89 246.62l0.46 2.96M422.46 248.8l-2.38 1.83M424.78 250.97l-1.32 -2.69M430.49 249.6l1.6 -2.54M434.53 248.55l2.86 -0.9M438.52 248.93l2.99 0.28M392.83 253.61l-2.24 -1.99M396.58 253.54l-1.99 -2.25M408.42 251.59l2.74 1.22M422.49 254.08l-2.36 -1.85M425.34 253.23l-2.03 -2.21M437.98 252.54l2.58 1.53M392.24 256.09l-2.71 -1.28M395.66 256.51l-2.89 -0.82M405.41 254.98l1.47 2.61M408.07 254.86l1.93 2.3M426.48 257.18l-2.97 -0.44M438.18 255.01l1.86 2.36M392.91 258.81l-2.97 -0.42M396.79 258.61l-2.98 0.33M400.54 258.61l-2.34 1.88M405.21 258.83l-0.14 3M407.94 259.96l1.66 -2.5M412.17 259.9l2.69 -1.34M415.4 260.56l2.98 -0.38M419.97 260.88l0.19 -2.99M423.55 260.16l1.52 -2.59M429.59 258.27l-2.77 1.15M433.37 258.37l-1.12 2.78M435.09 258.24l-0.21 2.99M438.52 257.55l1.09 2.79M396.61 262.32l-2.77 1.16M400.22 262.64l-2.14 2.1M402.75 263.97l-0.97 -2.84M406.48 264.45l0.45 -2.97M411.93 263.28l2.95 -0.55M418.25 263.5l-0.94 -2.85M420.89 264.55l-0.49 -2.96M427.33 262.59l2.81 -1.05M429.49 262.68l2.99 -0.25M435.81 261.23l-0.52 2.96M399.76 267.05l-2.21 -2.03M404.19 267.12l-1.95 -2.28M418.93 267.02l-2.04 -2.2M421.1 266.8l-1.61 -2.53M430.13 265.12l2.85 0.95M433.7 265.14l2.73 1.25M400.64 270.71l-2.84 -0.96M403.96 270.52l-2.94 -0.59M418.36 270.23l-2.84 -0.95M430.18 268.69l1.67 2.49M433.73 269.43l1.84 2.37M404.6 273.29l-2.93 0.64M407.02 273.13l-2.63 1.45M410.2 272.1l-1.44 2.63M412.43 271.27l-0.03 3M415.99 272.17l0.85 2.88M421.81 273.73l-2.78 1.14M425.14 272.66l-1.97 2.26M427.92 271.92l-0.48 2.96M432.25 272.03l0.95 2.85M407.6 275.17l-2.31 1.92M410.54 276.41l-1.47 2.62M422.26 276.25l-2.5 1.66M426.14 275.1l-1.57 2.56M429.29 274.76l-0.47 2.96" stroke="#111" stroke-width="0.6" opacity="0.8" fill="none"/>
<path d="M438.38 183.59L441.91 185.86M438.35 184.46L441.52 187.87M438.2 184.98L441.3 187.74M437.6 185.94L438.6 189.29M437.65 185.88L439.88 189.8M436.78 186.56L436.23 190.38M436.68 186.61L435.67 190.97M435.58 186.89L433.31 189.58M435.53 186.9L434.37 190.56M434.55 186.78L431.54 189.96M433.87 186.48L430.99 187.53M433.55 186.26L430.97 187.75M432.83 185.44L429.28 186.34M432.55 184.84L429.36 184.71M432.51 184.7L427.94 183.75M432.41 183.63L428.49 181.98M432.5 183.15L429.87 179.69M432.52 183.08L430.33 179.93M432.85 182.32L431.05 179.74M433.45 181.62L433.37 177.87M433.72 181.41L433.16 176.85M434.73 180.98L436.42 177.76M435.39 180.9L436.77 177.54M435.89 180.94L437.27 178.6M436.13 180.99L438.49 179.23M436.83 181.26L439.12 179.78M437.47 181.73L441.65 179.95M438.02 182.44L442.24 183.24M437.94 182.31L440.75 181.71M438.39 183.65L441.93 185.7M459.88 184.23L462.11 186.73M459.87 184.34L462.59 186.05M459.78 184.73L462.2 186.96M459.23 185.8L459.99 189.15M459.17 185.86L460.01 188.47M458.59 186.38L458.94 190.19M458.1 186.65L457.63 190.51M456.95 186.9L455.07 189.49M456.63 186.89L454.25 188.84M455.75 186.67L453.95 188.69M455.54 186.57L453.22 188.4M454.75 185.99L451.22 186.46M454.71 185.96L450.64 186.72M454.16 185.12L451.35 184.97M453.91 184.17L451.21 183.42M453.92 184.28L450.61 182.25M454 183.12L451.31 179.81M454.19 182.61L453.22 179.6M454.43 182.19L451.7 178.85M455.07 181.52L454.5 178.84M455.7 181.15L456.75 177.68M455.94 181.06L456.56 177.73M456.53 180.92L457.52 177.64M456.79 180.9L457.77 178.1M458.09 181.15L460.15 179.43M458.17 181.18L461.55 179.19M459.08 181.83L462.11 180.41M459.42 182.28L463.23 182.85M459.77 183.04L463.6 183.51M459.86 183.39L463.82 185.63M428.08 202.72L430.69 204.44M427.97 203.98L431.29 206.1M427.68 204.62L429.52 208.19M427.72 204.56L430.2 207.35M427.22 205.22L428.12 208.23M426.32 205.84L426.75 209.98M425.79 206.02L425.19 209.8M425.05 206.1L423.47 210.35M424.84 206.09L422.85 209.34M424.56 206.05L422.71 208.1M423.78 205.79L420.74 208.78M422.95 205.19L419.39 207.15M422.54 204.66L419.57 203.91M422.51 204.61L417.92 204.07M422.18 203.78L419.47 202.72M422.11 203.39L418.8 201.6M422.25 202.18L419.61 199.13M422.26 202.14L419.69 199.76M422.69 201.32L420.98 198.15M422.82 201.15L422.33 197.01M423.24 200.74L423.51 197.17M424.35 200.19L424.88 196.03M424.41 200.18L424.81 196.42M425.4 200.12L427.28 196.67M425.64 200.15L428.54 197.31M426.68 200.55L430.11 198.32M426.8 200.63L430.44 199.26M427.49 201.29L430.61 201.88M427.83 201.87L431.34 202.99M427.95 202.15L431.43 202.6M471.2 203.05L474.43 204.88M471.19 203.31L474.05 205.56M470.95 204.3L473.11 206.42M470.44 205.09L471.43 208.74M469.88 205.59L469.25 209.55M469.9 205.57L471.13 209.92M469.17 205.94L467.99 210.18M468.16 206.1L465.83 208.19M467.87 206.08L464.9 208.92M467.46 206.01L465.37 208.62M466.83 205.77L463.67 208.65M466.05 205.19L462.01 207.21M465.65 204.68L462.31 205.21M465.67 204.71L460.92 204.81M465.38 204.11L460.78 202.78M465.23 202.65L462.57 201.22M465.37 202.12L463.45 199.38M465.34 202.19L462.66 199.13M466.06 201L465.37 197.08M466.43 200.68L466.19 196.76M466.96 200.37L468.29 196.76M466.94 200.38L466.46 196.93M467.94 200.11L469.86 196.75M468.07 200.1L469.68 197.7M469.45 200.37L472.71 198.7M469.83 200.58L473.54 198.24M470.28 200.94L473.48 199.11M470.63 201.34L473.29 200.59M471.04 202.13L475.61 203.51M471.11 202.36L475.31 203.98M439.4 221.32L442.94 223.48M439.39 221.44L442.75 223.83M439.11 222.49L440.33 225.87M438.78 223.02L439.93 225.98M438.68 223.15L440.84 227.05M438.21 223.59L438.37 226.61M437.22 224.09L436.63 227.82M437.04 224.13L435.67 227.17M435.97 224.17L434.51 226.96M435.27 223.98L431.93 225.99M434.73 223.69L432.49 225.36M434.44 223.47L430.55 224.54M434.24 223.28L431.01 224.26M433.62 222.32L429.37 222.61M433.44 221.68L430.18 219.4M433.41 220.91L429.4 219.04M433.43 220.8L431.02 219.47M433.53 220.32L431.6 218.38M433.95 219.47L432.08 216.99M434.31 219.05L432.85 214.86M435.25 218.43L436.6 214.97M435.47 218.35L436.91 215.72M436.04 218.22L436.86 214.5M436.75 218.22L439.51 216.18M437.52 218.42L440.1 215.31M438.13 218.75L440.55 217.32M438.72 219.3L442.7 218.86M438.6 219.16L442.88 218.81M438.95 219.62L442.57 219.91M439.21 220.15L443.37 221.18M460.87 221.6L463.07 223.64M460.89 221.42L463.18 222.98M460.59 222.53L462.07 225.6M460.51 222.68L462.13 225.65M459.66 223.63L460.4 227.7M459.64 223.65L459.45 228.11M458.86 224.04L458.69 227.53M458.52 224.13L457.5 228.67M457.35 224.15L454.55 226.7M457.24 224.13L454.66 226.12M456.58 223.89L453.19 226.11M456.04 223.55L452.49 224.85M455.64 223.17L451.48 224.2M455.26 222.63L452.35 222.29M455.07 222.2L450.52 221.74M454.92 221.55L450.65 220.07M455 220.44L452.01 217.62M455.05 220.25L452.39 217.4M455.45 219.47L454.63 215.92M455.8 219.06L454.12 215.23M456.37 218.62L456.19 215.28M457.28 218.27L459 214.78M457.15 218.3L458.71 214.21M458.6 218.28L460.57 215.33M459.17 218.48L462.66 217.29M459.55 218.69L463.69 216.59M459.75 218.84L463.6 218.37M460.49 219.69L463.47 220.16M460.44 219.61L464.86 219.19M460.89 220.95L463.47 223.06M411.89 240.65L415.56 243.14M411.85 240.92L414.68 243.89M411.69 241.5L413.87 244.24M411.37 242.1L412.88 244.74M410.91 242.63L412.28 245.97M410.72 242.78L411.18 246.55M409.52 243.33L407.84 247.51M408.84 243.4L406.66 246.8M408.25 243.33L405.82 245.58M407.95 243.25L404.43 245.94M407.24 242.9L404.12 244.55M406.59 242.31L403.09 243.26M406.51 242.21L402.72 241.78M406.04 241.3L402.81 241.06M405.91 240.65L402.69 239.26M405.91 240.11L402.19 237.59M406.08 239.38L403.63 236.13M406.29 238.92L404.91 235.8M406.76 238.3L406.12 234.8M406.78 238.28L405.36 235.56M407.72 237.64L408.82 234.7M408.34 237.45L410.08 234.63M408.76 237.4L409.93 233.69M409.62 237.49L411.95 234.14M410.2 237.7L413.83 235.53M410.44 237.82L414.39 235.79M410.83 238.1L414.35 237.3M411.39 238.73L414.25 238.27M411.6 239.09L414.66 239.49M411.83 239.74L415.87 241.44M427.3 240.41L430.35 242.33M427.19 241.2L430.55 243.96M427.07 241.54L428.51 243.95M426.65 242.26L428.36 244.98M426.08 242.82L426.63 245.5M425.88 242.95L426.04 245.97M425.3 243.23L423.7 247.52M424.64 243.38L422.26 246.32M423.73 243.35L420.95 245.72M423.41 243.27L420.42 246.11M422.85 243.03L420.39 245.37M422.48 242.78L419.29 243.28M421.64 241.79L417.7 241.24M421.42 241.24L418.36 240.29M421.39 241.15L418.49 239.84M421.3 240.3L418.23 237.99M421.42 239.56L418.83 237.1M421.68 238.94L419.49 235.83M421.78 238.77L419.13 235.67M422.28 238.19L420.85 234.85M422.76 237.83L423.27 233.78M422.97 237.71L423.6 233.49M424.26 237.4L426.48 234.4M424.71 237.43L426.35 233.82M425.16 237.53L428.28 235.94M425.86 237.84L428.86 235.13M426.03 237.95L428.8 237.23M426.76 238.68L430.35 237.58M427.07 239.24L431.41 239.1M427.24 239.82L431.54 240.84M404.1 253.69L407.33 255.09M404.02 254.51L406.47 256.75M403.89 254.9L405.08 257.62M403.74 255.23L404.81 258.45M402.95 256.16L402.64 259.54M402.25 256.57L402.4 260.12M402.1 256.63L401.61 259.58M401.41 256.78L400.28 261.03M400.85 256.79L398.89 260.84M400.55 256.75L398.93 259.98M399.4 256.27L395.81 257.96M398.93 255.87L395.65 256.12M398.81 255.74L396.23 256.53M398.38 255.07L394.83 255.47M398.17 254.44L394.46 253.74M398.1 253.64L395.6 251.26M398.13 253.36L395.52 250.13M398.54 252.23L397.2 249.89M398.61 252.12L396.82 249.3M399.02 251.64L398.84 247.91M399.56 251.22L400.17 248.37M400.27 250.92L401.92 247.81M401.17 250.8L404.07 246.99M401.13 250.8L403.17 247.9M402.11 250.97L404.77 247.54M402.74 251.29L405.55 249.25M403.36 251.83L405.98 251.24M403.46 251.95L407.11 252.47M403.98 252.95L407.12 254.73M404 253.03L407.16 253.41M434.49 253.53L438.05 254.77M434.45 254.34L436.44 256.31M434.17 255.16L436.18 258.55M433.95 255.54L435.7 257.87M433.64 255.91L434.81 258.49M432.6 256.59L432.79 260.48M432.08 256.74L431.77 260.04M431.89 256.77L430.98 259.36M431.08 256.77L428.09 258.94M430.83 256.73L428.23 259.03M430.14 256.47L427.66 259.12M429.42 255.97L426.36 256.19M429.22 255.75L424.98 256.42M428.94 255.36L425.42 254.92M428.57 254.46L425.5 253.29M428.5 253.74L425.49 251.39M428.51 253.56L425.32 251.41M428.79 252.5L426.9 248.98M428.93 252.25L426.73 248.33M429.45 251.61L429.55 248.34M430.18 251.11L430.7 247.5M430.53 250.96L430.93 247.35M431.25 250.81L433.62 246.73M432.22 250.89L434.9 248.23M432.17 250.88L433.67 248.66M433.18 251.32L435.89 250.17M433.64 251.69L437.98 251.05M433.88 251.98L438.05 250.66M434.14 252.38L438.82 253.21M434.42 253.12L438.9 253.57M411.88 267.85L414.79 270.62M411.74 268.48L413.45 271.3M411.7 268.58L414.14 270.8M411.06 269.58L411.87 272.84M410.88 269.76L411.48 272.75M410.4 270.1L410.92 273.36M409.69 270.39L408.95 273.53M408.92 270.5L407.38 274.62M408.24 270.43L406.14 272.83M408.22 270.42L405.97 273.95M407.18 269.96L404.72 271.14M407.19 269.97L403.24 271.83M406.62 269.45L402.53 269.26M406.25 268.91L402.22 267.98M405.95 268.02L402.45 267.06M405.92 267.84L402.91 266.58M406.04 266.6L403.06 263.2M406.12 266.37L403.41 262.56M406.46 265.75L404.95 261.21M406.83 265.33L406.1 261.97M407.77 264.72L407.86 261.41M407.71 264.75L408.34 261.19M408.49 264.53L409.87 261.06M409.39 264.54L413.07 261.55M410.14 264.77L412.88 262.41M410.63 265.05L413.18 263.24M411.15 265.52L414.57 264.66M411.56 266.11L415.24 265.36M411.67 266.34L415.37 265.91M411.76 266.6L415.75 267.32M427.88 267.85L430.77 271.07M427.88 267.83L430.88 270.47M427.72 268.54L430.78 271M427.15 269.49L428.58 272.92M427.17 269.46L427.91 272.24M426.55 270.01L426.15 273.32M425.55 270.43L424.16 273.61M425.12 270.49L422.81 274.47M424.83 270.5L422.44 272.51M423.92 270.33L421.43 273.89M423.54 270.17L420.25 272.07M422.58 269.41L417.94 269.46M422.42 269.19L418 269.49M422.13 268.66L419.38 267.85M421.92 267.87L417.73 266.16M421.91 267.77L418.47 265.93M421.96 266.91L418.51 263.84M422.25 266.09L419.63 262.33M422.54 265.65L420.67 261.72M422.85 265.31L422.09 260.98M423.04 265.15L422.67 260.42M423.56 264.81L422.9 260.94M424.56 264.52L425.37 260.82M425.58 264.58L429 261.7M425.54 264.57L428.61 261.07M426.64 265.06L430.35 263.94M426.69 265.09L430.12 264.68M427.35 265.77L431.09 265.63M427.54 266.07L431.5 265.97M427.88 267.17L430.34 268.96" stroke="#0a0a0a" stroke-width="0.6" opacity="0.85" fill="none"/>
<g filter="url(#blur2)">
<circle cx="435.4" cy="183.9" r="5.0" fill="#000" opacity="0.5"/>
<circle cx="456.9" cy="183.9" r="5.0" fill="#000" opacity="0.5"/>
<circle cx="425.1" cy="203.1" r="5.0" fill="#000" opacity="0.5"/>
<circle cx="468.2" cy="203.1" r="5.0" fill="#000" opacity="0.5"/>
<circle cx="436.4" cy="221.2" r="5.0" fill="#000" opacity="0.5"/>
<circle cx="457.9" cy="221.2" r="5.0" fill="#000" opacity="0.5"/>
<circle cx="408.9" cy="240.4" r="5.0" fill="#000" opacity="0.5"/>
<circle cx="424.3" cy="240.4" r="5.0" fill="#000" opacity="0.5"/>
<circle cx="401.1" cy="253.8" r="5.0" fill="#000" opacity="0.5"/>
<circle cx="431.5" cy="253.8" r="5.0" fill="#000" opacity="0.5"/>
<circle cx="408.9" cy="267.5" r="5.0" fill="#000" opacity="0.5"/>
<circle cx="424.9" cy="267.5" r="5.0" fill="#000" opacity="0.5"/>
</g>
<path d="M437.3 183.91L439.65 185.02M437.21 184.47L439.55 186.49M436.83 185.15L438.3 188.14M436.13 185.65L436.17 189.12M435.48 185.8L434.34 188.93M434.69 185.66L432.76 187.49M433.93 185.11L430.64 186.13M433.68 184.7L430.72 184.79M433.5 183.88L430.82 182.68M433.6 183.28L431.06 181.06M433.95 182.67L432.38 179.64M434.61 182.17L434.62 179.54M435.49 182L436.68 179.74M436.12 182.14L438.2 180.12M436.65 182.47L439.1 181.37M437.18 183.23L440.63 183.33M458.79 184.07L461.06 185.38M458.67 184.58L460.56 186.49M458.28 185.21L459.21 187.58M457.47 185.71L457.17 188.76M456.86 185.8L455.56 188.7M456.35 185.72L454.23 188.29M455.55 185.24L452.76 186.34M455.21 184.77L452.29 184.95M455 183.99L451.73 182.84M455.15 183.15L452.77 180.72M455.45 182.68L454.37 180.37M456.18 182.14L456.17 178.65M456.86 182L458.05 179.04M457.74 182.2L460.29 179.96M458.24 182.55L460.74 181.61M458.6 183.04L461.1 182.97M427 203.03L429.33 204.01M426.78 203.99L428.99 206.64M426.3 204.57L426.97 207.11M425.99 204.78L426.1 207.28M425.2 205L424.22 207.54M424.32 204.83L422 206.98M423.66 204.33L420.62 205.3M423.36 203.87L420.13 203.93M423.2 203.09L420.07 201.78M423.42 202.2L421.44 199.75M423.72 201.8L422.55 199.09M424.41 201.33L424.57 198.78M424.97 201.2L426.03 198.09M425.73 201.31L427.79 199.06M426.56 201.88L429.4 201.06M426.8 202.24L430.08 202M470.1 203.03L472.84 204.1M469.9 203.95L472.13 206.49M469.54 204.45L470.76 207.43M468.98 204.83L468.97 207.51M468.03 204.99L466.47 207.97M467.49 204.86L465.06 207.37M466.94 204.52L464.36 205.69M466.43 203.78L463.19 203.7M466.31 203.26L463.57 202.32M466.49 202.27L464.75 200.18M466.77 201.85L465.21 198.75M467.58 201.3L467.79 197.92M468.03 201.21L469 198.11M468.93 201.35L470.89 199.54M469.66 201.88L472.52 201.02M469.96 202.38L472.63 202.48M438.29 221.04L441.15 221.99M438.19 221.84L439.96 223.61M437.66 222.63L438.47 225.25M436.98 223.01L436.69 226.25M436.41 223.1L435.11 226.33M435.71 222.97L433.65 225.05M434.96 222.44L431.83 223.46M434.66 221.97L431.28 222.07M434.5 221.17L432.14 220.05M434.68 220.39L432.56 218.03M435.16 219.76L434.18 216.75M435.69 219.44L435.75 216.37M436.31 219.3L437.35 216.55M437.22 219.49L439.35 217.67M437.85 219.97L440.65 219.12M438.14 220.43L441.3 220.39M459.79 221.35L462.25 222.69M459.71 221.78L462.38 224M459.23 222.56L460.56 225.78M458.45 223.02L458.14 226.36M457.78 223.1L456.44 225.68M457.21 222.97L455.26 224.89M456.47 222.46L453.48 223.46M456.08 221.75L453.21 221.41M456 221.1L453.65 219.87M456.16 220.43L453.78 217.94M456.43 219.99L454.79 216.96M457.26 219.41L457.4 216M458 219.3L459.4 216.36M458.51 219.4L460.68 216.94M459.35 219.97L461.92 219.25M459.63 220.41L462.88 220.31M410.8 240.46L413.71 241.8M410.66 241.13L412.76 243.29M410.13 241.85L410.97 244.64M409.62 242.16L409.51 244.77M408.77 242.3L407.55 244.5M408.31 242.21L406.29 244.51M407.62 241.81L405.03 242.96M407.18 241.21L404.04 241.34M407.01 240.55L404.22 239.6M407.14 239.68L405.07 237.57M407.47 239.15L406.2 236.45M408.3 238.6L408.59 235.95M408.88 238.5L410.12 235.37M409.79 238.72L412.38 236.57M410.19 239.01L413.03 237.73M410.65 239.66L413.36 239.71M426.2 240.47L428.58 241.67M425.99 241.27L427.77 243.47M425.74 241.63L427.09 244.37M425.18 242.08L425.48 245.36M424.21 242.3L422.83 245.23M423.45 242.1L421.2 243.97M422.97 241.76L419.89 243.07M422.62 241.29L419.94 241.46M422.4 240.51L419.57 239.48M422.62 239.52L420.84 237.29M422.86 239.16L421.81 236.84M423.58 238.64L423.67 235.95M424.48 238.51L425.89 235.96M425.02 238.64L427.31 236.35M425.7 239.11L428.19 238.31M426.02 239.59L428.96 239.51M403 253.79L405.92 255M402.81 254.62L404.4 256.57M402.35 255.23L403.22 257.98M401.96 255.49L402.18 258.66M401 255.7L399.61 258.54M400.47 255.59L398.4 257.84M399.63 255L396.91 255.75M399.4 254.64L396.41 254.8M399.21 253.97L396.44 253.05M399.31 253.16L397.01 251.06M399.64 252.59L398.14 249.72M400.44 252.02L400.64 249.51M401.16 251.9L402.52 248.9M401.67 251.99L403.38 250.11M402.37 252.38L404.71 251.38M402.83 253.01L406.07 252.9M433.4 253.76L436.26 254.91M433.18 254.69L435.3 257.27M432.84 255.15L434.02 258.08M432.32 255.52L432.41 258.42M431.36 255.69L429.97 258.33M430.73 255.54L428.34 257.83M430.06 255.04L427.29 255.89M429.83 254.7L427.14 254.88M429.6 253.84L426.68 252.68M429.79 252.98L427.49 250.46M430.2 252.41L429.29 249.78M430.67 252.09L430.45 248.75M431.44 251.9L432.59 248.87M432.4 252.13L434.99 249.99M432.93 252.55L435.58 251.75M433.29 253.16L436.18 253.35M410.8 267.62L413.67 269.04M410.6 268.34L412.52 270.62M410.21 268.88L411.28 271.76M409.53 269.29L409.31 272.04M408.8 269.4L407.42 272.27M408.23 269.28L406.31 271.19M407.67 268.94L405.34 270.01M407.16 268.26L404.35 268.23M407 267.52L404.05 266.32M407.11 266.86L404.53 264.54M407.46 266.26L406.41 263.92M408.35 265.68L408.68 262.62M408.98 265.6L410.32 262.79M409.62 265.74L411.71 263.73M410.14 266.06L412.92 264.71M410.69 266.86L414.06 267.01M426.8 267.54L429.22 268.69M426.66 268.21L428.52 270.16M426.13 268.95L427.08 271.99M425.66 269.24L425.74 272.71M424.8 269.4L423.51 271.92M424.15 269.25L421.71 271.65M423.46 268.74L420.95 269.45M423.22 268.39L420.14 268.66M423 267.47L420.06 266.18M423.21 266.63L421.06 264.08M423.5 266.21L422.18 263.32M424.01 265.82L423.81 263.04M424.74 265.61L425.74 262.42M425.7 265.78L427.86 263.87M426.15 266.07L428.7 264.89M426.64 266.75L429.76 266.73" stroke="#050505" stroke-width="0.95" fill="none"/>
<circle cx="435.4" cy="183.9" r="1.9" fill="#ffffff"/>
<circle cx="456.9" cy="183.9" r="1.9" fill="#f4bcbc"/>
<circle cx="425.1" cy="203.1" r="1.9" fill="#f4bcbc"/>
<circle cx="468.2" cy="203.1" r="1.9" fill="#f4bcbc"/>
<circle cx="436.4" cy="221.2" r="1.9" fill="#b8bcf4"/>
<circle cx="457.9" cy="221.2" r="1.9" fill="#b8bcf4"/>
<circle cx="408.9" cy="240.4" r="1.9" fill="#f04848"/>
<circle cx="424.3" cy="240.4" r="1.9" fill="#f04848"/>
<circle cx="401.1" cy="253.8" r="1.9" fill="#ffffff"/>
<circle cx="431.5" cy="253.8" r="1.9" fill="#ffffff"/>
<circle cx="408.9" cy="267.5" r="1.9" fill="#b8bcf4"/>
<circle cx="424.9" cy="267.5" r="1.9" fill="#b8bcf4"/>
</g>
<path d="M487.75 181.03l2.6 0.6M430.25 181.03l-2.6 -0.6M485.11 185.57l2.6 0.6M427.61 185.57l-2.6 -0.6M482.48 190.12l2.6 0.6M424.98 190.12l-2.6 -0.6M479.85 194.66l2.6 0.6M422.35 194.66l-2.6 -0.6M477.21 199.21l2.6 0.6M419.71 199.21l-2.6 -0.6M474.58 203.75l2.6 0.6M417.08 203.75l-2.6 -0.6M471.95 208.3l2.6 0.6M414.45 208.3l-2.6 -0.6M469.32 212.84l2.6 0.6M411.82 212.84l-2.6 -0.6M466.69 217.39l2.6 0.6M409.19 217.39l-2.6 -0.6M464.05 221.94l2.6 0.6M406.55 221.94l-2.6 -0.6M461.42 226.48l2.6 0.6M403.92 226.48l-2.6 -0.6M458.79 231.03l2.6 0.6M401.29 231.03l-2.6 -0.6M456.15 235.57l2.6 0.6M398.65 235.57l-2.6 -0.6M453.52 240.12l2.6 0.6M396.02 240.12l-2.6 -0.6M450.89 244.66l2.6 0.6M393.39 244.66l-2.6 -0.6M448.26 249.2l2.6 0.6M390.76 249.2l-2.6 -0.6M445.62 253.75l2.6 0.6M388.12 253.75l-2.6 -0.6M442.99 258.3l2.6 0.6M385.49 258.3l-2.6 -0.6M440.36 262.84l2.6 0.6M382.86 262.84l-2.6 -0.6M437.73 267.38l2.6 0.6M380.23 267.38l-2.6 -0.6M435.1 271.93l2.6 0.6M377.6 271.93l-2.6 -0.6M432.46 276.48l2.6 0.6M374.96 276.48l-2.6 -0.6" stroke="#333" stroke-width="0.5" fill="none" opacity="0.8"/>
<line x1="401.8" y1="228.5" x2="461.3" y2="228.5" stroke="#444" stroke-width="0.5"/>
<polygon points="431,178 490.5,178 432,279 372.5,279" fill="none" stroke="#555" stroke-width="0.6"/>
<polygon points="405.3,178.3 413.5,178.3 355.93,279.3 347.73,279.3" fill="#f4f4f4"/>
<path d="M410.87 183.18L409.7 183.86L408.53 183.18L408.53 181.83L409.7 181.16L410.87 181.83zM406.82 185.52L405.65 186.2L404.48 185.52L404.48 184.17L405.65 183.5L406.82 184.17zM405.47 183.18L404.3 183.86L403.13 183.18L403.13 181.83L404.3 181.16L405.47 181.83zM404.72 193.94L403.55 194.61L402.38 193.94L402.38 192.59L403.55 191.91L404.72 192.59zM402.02 189.26L400.85 189.94L399.68 189.26L399.68 187.91L400.85 187.24L402.02 187.91zM401.28 200.02L400.11 200.69L398.94 200.02L398.94 198.67L400.11 197.99L401.28 198.67zM399.93 202.35L398.76 203.03L397.59 202.35L397.59 201L398.76 200.33L399.93 201zM397.23 202.35L396.06 203.03L394.89 202.35L394.89 201L396.06 200.33L397.23 201zM396.48 208.43L395.31 209.11L394.14 208.43L394.14 207.08L395.31 206.41L396.48 207.08zM395.13 210.77L393.96 211.45L392.79 210.77L392.79 209.42L393.96 208.75L395.13 209.42zM392.43 210.77L391.26 211.45L390.09 210.77L390.09 209.42L391.26 208.75L392.43 209.42zM391.08 208.43L389.91 209.11L388.74 208.43L388.74 207.08L389.91 206.41L391.08 207.08zM392.43 206.1L391.26 206.77L390.09 206.1L390.09 204.75L391.26 204.07L392.43 204.75zM385.53 227.6L384.36 228.28L383.19 227.6L383.19 226.25L384.36 225.58L385.53 226.25zM382.83 227.6L381.66 228.28L380.49 227.6L380.49 226.25L381.66 225.58L382.83 226.25zM381.48 225.27L380.31 225.94L379.14 225.27L379.14 223.92L380.31 223.24L381.48 223.92zM380.74 236.02L379.57 236.7L378.4 236.02L378.4 234.67L379.57 234L380.74 234.67zM373.24 239.76L372.07 240.44L370.9 239.76L370.9 238.41L372.07 237.74L373.24 238.41zM375.94 239.76L374.77 240.44L373.6 239.76L373.6 238.41L374.77 237.74L375.94 238.41zM372.49 250.52L371.32 251.19L370.15 250.52L370.15 249.17L371.32 248.49L372.49 249.17zM368.44 252.85L367.27 253.53L366.1 252.85L366.1 251.5L367.27 250.83L368.44 251.5zM368.44 248.18L367.27 248.85L366.1 248.18L366.1 246.83L367.27 246.15L368.44 246.83zM371.14 248.18L369.97 248.85L368.8 248.18L368.8 246.83L369.97 246.15L371.14 246.83zM363.64 261.27L362.47 261.95L361.3 261.27L361.3 259.92L362.47 259.25L363.64 259.92zM362.29 258.93L361.12 259.61L359.95 258.93L359.95 257.58L361.12 256.91L362.29 257.58zM366.34 256.6L365.17 257.27L364 256.6L364 255.25L365.17 254.57L366.34 255.25zM361.55 269.69L360.38 270.36L359.21 269.69L359.21 268.34L360.38 267.66L361.55 268.34zM357.5 267.35L356.33 268.03L355.16 267.35L355.16 266L356.33 265.32L357.5 266zM356.75 278.1L355.58 278.78L354.41 278.1L354.41 276.75L355.58 276.08L356.75 276.75zM356.75 273.43L355.58 274.1L354.41 273.43L354.41 272.08L355.58 271.4L356.75 272.08z" fill="#ffffff" stroke="#555" stroke-width="0.45"/>
<path d="M409.52 185.52L408.35 186.2L407.18 185.52L407.18 184.17L408.35 183.5L409.52 184.17zM409.52 180.85L408.35 181.52L407.18 180.85L407.18 179.5L408.35 178.82L409.52 179.5zM404.72 189.26L403.55 189.94L402.38 189.26L402.38 187.91L403.55 187.24L404.72 187.91zM397.23 197.68L396.06 198.35L394.89 197.68L394.89 196.33L396.06 195.65L397.23 196.33zM399.93 197.68L398.76 198.35L397.59 197.68L397.59 196.33L398.76 195.65L399.93 196.33zM395.13 206.1L393.96 206.77L392.79 206.1L392.79 204.75L393.96 204.07L395.13 204.75zM387.63 219.19L386.46 219.86L385.29 219.19L385.29 217.84L386.46 217.16L387.63 217.84zM386.28 216.85L385.11 217.53L383.94 216.85L383.94 215.5L385.11 214.83L386.28 215.5zM377.29 242.1L376.12 242.78L374.95 242.1L374.95 240.75L376.12 240.08L377.29 240.75zM371.89 242.1L370.72 242.78L369.55 242.1L369.55 240.75L370.72 240.08L371.89 240.75zM367.69 258.93L366.52 259.61L365.35 258.93L365.35 257.58L366.52 256.91L367.69 257.58zM363.64 256.6L362.47 257.27L361.3 256.6L361.3 255.25L362.47 254.57L363.64 255.25zM358.85 265.01L357.68 265.69L356.51 265.01L356.51 263.66L357.68 262.99L358.85 263.66zM361.55 265.01L360.38 265.69L359.21 265.01L359.21 263.66L360.38 262.99L361.55 263.66zM358.1 275.77L356.93 276.44L355.76 275.77L355.76 274.42L356.93 273.74L358.1 274.42zM354.05 273.43L352.88 274.1L351.71 273.43L351.71 272.08L352.88 271.4L354.05 272.08z" fill="#f4c8c8" stroke="#555" stroke-width="0.45"/>
<path d="M406.82 180.85L405.65 181.52L404.48 180.85L404.48 179.5L405.65 178.82L406.82 179.5zM406.07 191.6L404.9 192.28L403.73 191.6L403.73 190.25L404.9 189.58L406.07 190.25zM402.02 193.94L400.85 194.61L399.68 193.94L399.68 192.59L400.85 191.91L402.02 192.59zM400.67 191.6L399.5 192.28L398.33 191.6L398.33 190.25L399.5 189.58L400.67 190.25zM395.88 200.02L394.71 200.69L393.54 200.02L393.54 198.67L394.71 197.99L395.88 198.67zM391.68 216.85L390.51 217.53L389.34 216.85L389.34 215.5L390.51 214.83L391.68 215.5zM390.33 219.19L389.16 219.86L387.99 219.19L387.99 217.84L389.16 217.16L390.33 217.84zM387.63 214.51L386.46 215.19L385.29 214.51L385.29 213.16L386.46 212.49L387.63 213.16zM390.33 214.51L389.16 215.19L387.99 214.51L387.99 213.16L389.16 212.49L390.33 213.16zM375.94 244.44L374.77 245.11L373.6 244.44L373.6 243.09L374.77 242.41L375.94 243.09zM373.24 244.44L372.07 245.11L370.9 244.44L370.9 243.09L372.07 242.41L373.24 243.09zM371.14 252.85L369.97 253.53L368.8 252.85L368.8 251.5L369.97 250.83L371.14 251.5zM367.09 250.52L365.92 251.19L364.75 250.52L364.75 249.17L365.92 248.49L367.09 249.17zM366.34 261.27L365.17 261.95L364 261.27L364 259.92L365.17 259.25L366.34 259.92zM362.9 267.35L361.73 268.03L360.56 267.35L360.56 266L361.73 265.32L362.9 266zM358.85 269.69L357.68 270.36L356.51 269.69L356.51 268.34L357.68 267.66L358.85 268.34zM354.05 278.1L352.88 278.78L351.71 278.1L351.71 276.75L352.88 276.08L354.05 276.75zM352.7 275.77L351.53 276.44L350.36 275.77L350.36 274.42L351.53 273.74L352.7 274.42z" fill="#c8c8f4" stroke="#555" stroke-width="0.45"/>
<path d="M386.88 225.27L385.71 225.94L384.54 225.27L384.54 223.92L385.71 223.24L386.88 223.92zM385.53 222.93L384.36 223.6L383.19 222.93L383.19 221.58L384.36 220.9L385.53 221.58zM382.09 233.68L380.92 234.36L379.75 233.68L379.75 232.33L380.92 231.66L382.09 232.33z" fill="#f07070" stroke="#555" stroke-width="0.45"/>
<path d="M382.83 222.93L381.66 223.6L380.49 222.93L380.49 221.58L381.66 220.9L382.83 221.58zM378.04 236.02L376.87 236.7L375.7 236.02L375.7 234.67L376.87 234L378.04 234.67zM376.69 233.68L375.52 234.36L374.35 233.68L374.35 232.33L375.52 231.66L376.69 232.33zM378.04 231.35L376.87 232.02L375.7 231.35L375.7 230L376.87 229.32L378.04 230z" fill="#2828e0" stroke="#555" stroke-width="0.45"/>
<path d="M380.74 231.35L379.57 232.02L378.4 231.35L378.4 230L379.57 229.32L380.74 230z" fill="#e02828" stroke="#555" stroke-width="0.45"/>
<path d="M400.5 186.72h8.2M395.7 195.13h8.2M390.91 203.55h8.2M386.11 211.97h8.2M381.31 220.38h8.2M376.51 228.8h8.2M371.72 237.22h8.2M366.92 245.63h8.2M362.12 254.05h8.2M357.32 262.47h8.2M352.53 270.88h8.2" stroke="#888" stroke-width="0.4" fill="none"/>
<polygon points="405.3,178.3 413.5,178.3 355.93,279.3 347.73,279.3" fill="none" stroke="#707070" stroke-width="0.7"/>
<line x1="431" y1="178" x2="389.16" y2="221" stroke="#000" stroke-width="0.9" stroke-dasharray="2.6,1.1"/>
<line x1="372.5" y1="279" x2="379.47" y2="238" stroke="#000" stroke-width="0.9" stroke-dasharray="2.6,1.1"/>
<text x="391" y="182.9" font-size="13.6" text-anchor="start" font-weight="bold" font-style="normal" font-family='"Liberation Sans", sans-serif' fill="#000" >F</text>
<text x="384.8" y="293.6" font-size="10.3" text-anchor="start" font-weight="normal" font-style="normal" font-family='"Liberation Sans", sans-serif' fill="#111" >6.95 kHz</text>
<clipPath id="clipG"><polygon points="540,178 599.5,178 541,279 481.5,279"/></clipPath>
<g clip-path="url(#clipG)">
<g filter="url(#blur1)">
<path fill="#d4d4f8" d="M538 176.5h3.2v3.2h-3.2zM544 182.5h3.2v3.2h-3.2zM592 185.5h3.2v3.2h-3.2zM541 197.5h3.2v3.2h-3.2zM562 212.5h3.2v3.2h-3.2zM526 233.5h3.2v3.2h-3.2zM556 245.5h3.2v3.2h-3.2zM556 248.5h3.2v3.2h-3.2zM496 251.5h3.2v3.2h-3.2zM511 257.5h3.2v3.2h-3.2zM550 257.5h3.2v3.2h-3.2z"/>
<path fill="#dcdcf8" d="M541 176.5h3.2v3.2h-3.2zM544 179.5h3.2v3.2h-3.2zM580 182.5h3.2v3.2h-3.2zM589 182.5h3.2v3.2h-3.2zM571 185.5h3.2v3.2h-3.2zM547 188.5h3.2v3.2h-3.2zM565 191.5h3.2v3.2h-3.2zM538 200.5h3.2v3.2h-3.2zM562 200.5h3.2v3.2h-3.2zM559 218.5h3.2v3.2h-3.2zM574 221.5h3.2v3.2h-3.2zM529 233.5h3.2v3.2h-3.2zM493 251.5h3.2v3.2h-3.2zM538 260.5h3.2v3.2h-3.2zM541 260.5h3.2v3.2h-3.2z"/>
<path fill="#e4e4f8" d="M544 176.5h3.2v3.2h-3.2zM547 182.5h3.2v3.2h-3.2zM592 182.5h3.2v3.2h-3.2zM565 188.5h3.2v3.2h-3.2zM562 194.5h3.2v3.2h-3.2zM520 209.5h3.2v3.2h-3.2zM565 227.5h3.2v3.2h-3.2zM508 230.5h3.2v3.2h-3.2zM547 236.5h3.2v3.2h-3.2zM559 242.5h3.2v3.2h-3.2zM493 254.5h3.2v3.2h-3.2zM502 257.5h3.2v3.2h-3.2zM529 260.5h3.2v3.2h-3.2zM532 260.5h3.2v3.2h-3.2zM547 260.5h3.2v3.2h-3.2z"/>
<path fill="#ececf8" d="M547 176.5h3.2v3.2h-3.2zM595 182.5h3.2v3.2h-3.2zM550 191.5h3.2v3.2h-3.2zM559 215.5h3.2v3.2h-3.2zM571 227.5h3.2v3.2h-3.2zM532 233.5h3.2v3.2h-3.2zM553 236.5h3.2v3.2h-3.2zM556 236.5h3.2v3.2h-3.2zM559 236.5h3.2v3.2h-3.2zM562 236.5h3.2v3.2h-3.2zM562 239.5h3.2v3.2h-3.2zM562 242.5h3.2v3.2h-3.2zM496 257.5h3.2v3.2h-3.2zM520 260.5h3.2v3.2h-3.2zM523 260.5h3.2v3.2h-3.2z"/>
<path fill="#f4f4f8" d="M550 176.5h3.2v3.2h-3.2zM550 179.5h3.2v3.2h-3.2zM574 182.5h3.2v3.2h-3.2zM556 185.5h3.2v3.2h-3.2zM562 185.5h3.2v3.2h-3.2zM556 188.5h3.2v3.2h-3.2zM559 188.5h3.2v3.2h-3.2zM553 191.5h3.2v3.2h-3.2zM556 191.5h3.2v3.2h-3.2zM553 194.5h3.2v3.2h-3.2zM556 194.5h3.2v3.2h-3.2zM547 197.5h3.2v3.2h-3.2zM559 203.5h3.2v3.2h-3.2zM526 209.5h3.2v3.2h-3.2zM559 224.5h3.2v3.2h-3.2zM562 227.5h3.2v3.2h-3.2zM514 230.5h3.2v3.2h-3.2zM559 233.5h3.2v3.2h-3.2zM490 257.5h3.2v3.2h-3.2zM511 260.5h3.2v3.2h-3.2z"/>
<path fill="#f8f4f4" d="M553 176.5h3.2v3.2h-3.2zM589 176.5h3.2v3.2h-3.2zM592 176.5h3.2v3.2h-3.2zM595 176.5h3.2v3.2h-3.2zM598 176.5h3.2v3.2h-3.2zM601 176.5h3.2v3.2h-3.2zM595 179.5h3.2v3.2h-3.2zM598 179.5h3.2v3.2h-3.2zM571 182.5h3.2v3.2h-3.2zM550 197.5h3.2v3.2h-3.2zM553 197.5h3.2v3.2h-3.2zM532 206.5h3.2v3.2h-3.2zM559 209.5h3.2v3.2h-3.2zM535 233.5h3.2v3.2h-3.2zM499 260.5h3.2v3.2h-3.2zM502 260.5h3.2v3.2h-3.2zM541 263.5h3.2v3.2h-3.2zM550 263.5h3.2v3.2h-3.2z"/>
<path fill="#f8ecec" d="M556 176.5h3.2v3.2h-3.2zM559 182.5h3.2v3.2h-3.2zM562 182.5h3.2v3.2h-3.2zM568 182.5h3.2v3.2h-3.2zM538 203.5h3.2v3.2h-3.2zM520 212.5h3.2v3.2h-3.2zM520 230.5h3.2v3.2h-3.2zM535 263.5h3.2v3.2h-3.2zM478 278.5h3.2v3.2h-3.2zM481 278.5h3.2v3.2h-3.2z"/>
<path fill="#f8e4e4" d="M559 176.5h3.2v3.2h-3.2zM547 200.5h3.2v3.2h-3.2zM550 200.5h3.2v3.2h-3.2zM523 212.5h3.2v3.2h-3.2zM526 230.5h3.2v3.2h-3.2zM559 230.5h3.2v3.2h-3.2zM553 233.5h3.2v3.2h-3.2zM487 263.5h3.2v3.2h-3.2zM529 263.5h3.2v3.2h-3.2zM547 266.5h3.2v3.2h-3.2zM481 275.5h3.2v3.2h-3.2zM487 278.5h3.2v3.2h-3.2z"/>
<path fill="#f8dcdc" d="M562 176.5h3.2v3.2h-3.2zM556 206.5h3.2v3.2h-3.2zM556 221.5h3.2v3.2h-3.2zM496 263.5h3.2v3.2h-3.2zM499 263.5h3.2v3.2h-3.2zM517 263.5h3.2v3.2h-3.2zM520 263.5h3.2v3.2h-3.2zM541 266.5h3.2v3.2h-3.2zM487 275.5h3.2v3.2h-3.2zM493 278.5h3.2v3.2h-3.2zM541 278.5h3.2v3.2h-3.2z"/>
<path fill="#f8d8d8" d="M565 176.5h3.2v3.2h-3.2zM577 176.5h3.2v3.2h-3.2zM562 179.5h3.2v3.2h-3.2zM574 179.5h3.2v3.2h-3.2zM541 203.5h3.2v3.2h-3.2zM553 203.5h3.2v3.2h-3.2zM514 215.5h3.2v3.2h-3.2zM556 218.5h3.2v3.2h-3.2zM559 227.5h3.2v3.2h-3.2zM550 233.5h3.2v3.2h-3.2zM502 263.5h3.2v3.2h-3.2zM505 263.5h3.2v3.2h-3.2zM508 263.5h3.2v3.2h-3.2zM511 263.5h3.2v3.2h-3.2zM514 263.5h3.2v3.2h-3.2zM487 266.5h3.2v3.2h-3.2zM484 269.5h3.2v3.2h-3.2zM547 269.5h3.2v3.2h-3.2zM484 272.5h3.2v3.2h-3.2zM496 278.5h3.2v3.2h-3.2zM538 278.5h3.2v3.2h-3.2z"/>
<path fill="#f8d4d4" d="M568 176.5h3.2v3.2h-3.2zM574 176.5h3.2v3.2h-3.2zM565 179.5h3.2v3.2h-3.2zM535 206.5h3.2v3.2h-3.2zM517 215.5h3.2v3.2h-3.2zM511 224.5h3.2v3.2h-3.2zM514 227.5h3.2v3.2h-3.2zM529 230.5h3.2v3.2h-3.2zM541 233.5h3.2v3.2h-3.2zM490 266.5h3.2v3.2h-3.2zM538 266.5h3.2v3.2h-3.2zM487 269.5h3.2v3.2h-3.2zM544 269.5h3.2v3.2h-3.2zM487 272.5h3.2v3.2h-3.2zM490 275.5h3.2v3.2h-3.2zM499 278.5h3.2v3.2h-3.2zM532 278.5h3.2v3.2h-3.2zM535 278.5h3.2v3.2h-3.2z"/>
<path fill="#f8d0d0" d="M571 176.5h3.2v3.2h-3.2zM568 179.5h3.2v3.2h-3.2zM571 179.5h3.2v3.2h-3.2zM556 209.5h3.2v3.2h-3.2zM526 212.5h3.2v3.2h-3.2zM556 215.5h3.2v3.2h-3.2zM511 221.5h3.2v3.2h-3.2zM547 233.5h3.2v3.2h-3.2zM493 266.5h3.2v3.2h-3.2zM535 266.5h3.2v3.2h-3.2zM544 272.5h3.2v3.2h-3.2zM493 275.5h3.2v3.2h-3.2zM541 275.5h3.2v3.2h-3.2zM502 278.5h3.2v3.2h-3.2zM529 278.5h3.2v3.2h-3.2z"/>
<path fill="#f8e0e0" d="M580 176.5h3.2v3.2h-3.2zM559 179.5h3.2v3.2h-3.2zM577 179.5h3.2v3.2h-3.2zM529 209.5h3.2v3.2h-3.2zM538 233.5h3.2v3.2h-3.2zM490 263.5h3.2v3.2h-3.2zM493 263.5h3.2v3.2h-3.2zM523 263.5h3.2v3.2h-3.2zM526 263.5h3.2v3.2h-3.2zM484 266.5h3.2v3.2h-3.2zM544 266.5h3.2v3.2h-3.2zM481 272.5h3.2v3.2h-3.2zM484 275.5h3.2v3.2h-3.2zM490 278.5h3.2v3.2h-3.2z"/>
<path fill="#f8e8e8" d="M583 176.5h3.2v3.2h-3.2zM556 179.5h3.2v3.2h-3.2zM580 179.5h3.2v3.2h-3.2zM565 182.5h3.2v3.2h-3.2zM553 200.5h3.2v3.2h-3.2zM556 203.5h3.2v3.2h-3.2zM508 224.5h3.2v3.2h-3.2zM511 227.5h3.2v3.2h-3.2zM523 230.5h3.2v3.2h-3.2zM532 263.5h3.2v3.2h-3.2zM484 278.5h3.2v3.2h-3.2z"/>
<path fill="#f8f0f0" d="M586 176.5h3.2v3.2h-3.2zM553 179.5h3.2v3.2h-3.2zM583 179.5h3.2v3.2h-3.2zM556 182.5h3.2v3.2h-3.2zM544 200.5h3.2v3.2h-3.2zM556 200.5h3.2v3.2h-3.2zM517 212.5h3.2v3.2h-3.2zM517 230.5h3.2v3.2h-3.2zM556 233.5h3.2v3.2h-3.2zM487 260.5h3.2v3.2h-3.2zM490 260.5h3.2v3.2h-3.2zM493 260.5h3.2v3.2h-3.2zM496 260.5h3.2v3.2h-3.2zM538 263.5h3.2v3.2h-3.2z"/>
<path fill="#c0c0f4" d="M535 179.5h3.2v3.2h-3.2zM541 185.5h3.2v3.2h-3.2zM535 200.5h3.2v3.2h-3.2zM565 200.5h3.2v3.2h-3.2zM571 218.5h3.2v3.2h-3.2zM547 239.5h3.2v3.2h-3.2zM499 242.5h3.2v3.2h-3.2zM499 245.5h3.2v3.2h-3.2zM553 248.5h3.2v3.2h-3.2zM502 251.5h3.2v3.2h-3.2zM508 254.5h3.2v3.2h-3.2zM550 254.5h3.2v3.2h-3.2zM529 257.5h3.2v3.2h-3.2zM532 257.5h3.2v3.2h-3.2zM544 257.5h3.2v3.2h-3.2z"/>
<path fill="#c8c8f4" d="M538 179.5h3.2v3.2h-3.2zM541 182.5h3.2v3.2h-3.2zM568 191.5h3.2v3.2h-3.2zM565 197.5h3.2v3.2h-3.2zM520 206.5h3.2v3.2h-3.2zM577 215.5h3.2v3.2h-3.2zM565 224.5h3.2v3.2h-3.2zM502 236.5h3.2v3.2h-3.2zM553 251.5h3.2v3.2h-3.2zM505 254.5h3.2v3.2h-3.2zM520 257.5h3.2v3.2h-3.2zM547 257.5h3.2v3.2h-3.2z"/>
<path fill="#d0d0f8" d="M541 179.5h3.2v3.2h-3.2zM544 185.5h3.2v3.2h-3.2zM544 191.5h3.2v3.2h-3.2zM592 191.5h3.2v3.2h-3.2zM565 194.5h3.2v3.2h-3.2zM571 221.5h3.2v3.2h-3.2zM562 224.5h3.2v3.2h-3.2zM568 224.5h3.2v3.2h-3.2zM505 233.5h3.2v3.2h-3.2zM517 233.5h3.2v3.2h-3.2zM520 233.5h3.2v3.2h-3.2zM523 233.5h3.2v3.2h-3.2zM496 248.5h3.2v3.2h-3.2zM502 254.5h3.2v3.2h-3.2zM553 254.5h3.2v3.2h-3.2zM514 257.5h3.2v3.2h-3.2z"/>
<path fill="#e8e8f8" d="M547 179.5h3.2v3.2h-3.2zM577 182.5h3.2v3.2h-3.2zM550 185.5h3.2v3.2h-3.2zM568 185.5h3.2v3.2h-3.2zM550 188.5h3.2v3.2h-3.2zM562 191.5h3.2v3.2h-3.2zM547 194.5h3.2v3.2h-3.2zM544 197.5h3.2v3.2h-3.2zM535 203.5h3.2v3.2h-3.2zM517 209.5h3.2v3.2h-3.2zM523 209.5h3.2v3.2h-3.2zM568 227.5h3.2v3.2h-3.2zM511 230.5h3.2v3.2h-3.2zM550 236.5h3.2v3.2h-3.2zM559 239.5h3.2v3.2h-3.2zM499 257.5h3.2v3.2h-3.2zM526 260.5h3.2v3.2h-3.2zM550 260.5h3.2v3.2h-3.2z"/>
<path fill="#f8f8f8" d="M586 179.5h3.2v3.2h-3.2zM589 179.5h3.2v3.2h-3.2zM592 179.5h3.2v3.2h-3.2zM553 182.5h3.2v3.2h-3.2zM559 185.5h3.2v3.2h-3.2zM556 197.5h3.2v3.2h-3.2zM559 206.5h3.2v3.2h-3.2zM559 212.5h3.2v3.2h-3.2zM508 227.5h3.2v3.2h-3.2zM562 230.5h3.2v3.2h-3.2zM505 260.5h3.2v3.2h-3.2zM508 260.5h3.2v3.2h-3.2zM544 263.5h3.2v3.2h-3.2zM547 263.5h3.2v3.2h-3.2z"/>
<path fill="#b0b0f4" d="M535 182.5h3.2v3.2h-3.2zM574 188.5h3.2v3.2h-3.2zM571 191.5h3.2v3.2h-3.2zM586 200.5h3.2v3.2h-3.2zM583 206.5h3.2v3.2h-3.2zM577 212.5h3.2v3.2h-3.2zM565 215.5h3.2v3.2h-3.2zM571 215.5h3.2v3.2h-3.2zM565 221.5h3.2v3.2h-3.2zM511 236.5h3.2v3.2h-3.2zM529 236.5h3.2v3.2h-3.2zM505 239.5h3.2v3.2h-3.2zM514 254.5h3.2v3.2h-3.2zM547 254.5h3.2v3.2h-3.2z"/>
<path fill="#b8b8f4" d="M538 182.5h3.2v3.2h-3.2zM586 185.5h3.2v3.2h-3.2zM589 191.5h3.2v3.2h-3.2zM568 194.5h3.2v3.2h-3.2zM565 203.5h3.2v3.2h-3.2zM565 206.5h3.2v3.2h-3.2zM565 209.5h3.2v3.2h-3.2zM565 212.5h3.2v3.2h-3.2zM574 215.5h3.2v3.2h-3.2zM562 218.5h3.2v3.2h-3.2zM562 221.5h3.2v3.2h-3.2zM532 236.5h3.2v3.2h-3.2zM550 242.5h3.2v3.2h-3.2zM502 248.5h3.2v3.2h-3.2zM505 251.5h3.2v3.2h-3.2zM511 254.5h3.2v3.2h-3.2z"/>
<path fill="#f0f0f8" d="M550 182.5h3.2v3.2h-3.2zM553 185.5h3.2v3.2h-3.2zM565 185.5h3.2v3.2h-3.2zM553 188.5h3.2v3.2h-3.2zM562 188.5h3.2v3.2h-3.2zM559 191.5h3.2v3.2h-3.2zM550 194.5h3.2v3.2h-3.2zM559 194.5h3.2v3.2h-3.2zM559 197.5h3.2v3.2h-3.2zM541 200.5h3.2v3.2h-3.2zM559 200.5h3.2v3.2h-3.2zM565 230.5h3.2v3.2h-3.2zM568 230.5h3.2v3.2h-3.2zM562 233.5h3.2v3.2h-3.2zM565 233.5h3.2v3.2h-3.2zM565 236.5h3.2v3.2h-3.2zM493 257.5h3.2v3.2h-3.2zM514 260.5h3.2v3.2h-3.2zM517 260.5h3.2v3.2h-3.2z"/>
<path fill="#d8d8f8" d="M583 182.5h3.2v3.2h-3.2zM586 182.5h3.2v3.2h-3.2zM568 188.5h3.2v3.2h-3.2zM544 194.5h3.2v3.2h-3.2zM562 203.5h3.2v3.2h-3.2zM562 206.5h3.2v3.2h-3.2zM562 209.5h3.2v3.2h-3.2zM559 221.5h3.2v3.2h-3.2zM541 236.5h3.2v3.2h-3.2zM553 239.5h3.2v3.2h-3.2zM556 242.5h3.2v3.2h-3.2zM556 251.5h3.2v3.2h-3.2zM499 254.5h3.2v3.2h-3.2zM508 257.5h3.2v3.2h-3.2z"/>
<path fill="#9c9cf0" d="M532 185.5h3.2v3.2h-3.2zM583 188.5h3.2v3.2h-3.2zM574 191.5h3.2v3.2h-3.2zM511 239.5h3.2v3.2h-3.2zM508 242.5h3.2v3.2h-3.2zM535 254.5h3.2v3.2h-3.2zM541 254.5h3.2v3.2h-3.2z"/>
<path fill="#a0a0f4" d="M535 185.5h3.2v3.2h-3.2zM577 188.5h3.2v3.2h-3.2zM586 191.5h3.2v3.2h-3.2zM586 194.5h3.2v3.2h-3.2zM538 239.5h3.2v3.2h-3.2zM529 254.5h3.2v3.2h-3.2z"/>
<path fill="#acacf4" d="M538 185.5h3.2v3.2h-3.2zM538 194.5h3.2v3.2h-3.2zM568 197.5h3.2v3.2h-3.2zM523 203.5h3.2v3.2h-3.2zM580 209.5h3.2v3.2h-3.2zM568 215.5h3.2v3.2h-3.2zM565 218.5h3.2v3.2h-3.2zM514 236.5h3.2v3.2h-3.2zM550 245.5h3.2v3.2h-3.2zM505 248.5h3.2v3.2h-3.2zM550 248.5h3.2v3.2h-3.2zM508 251.5h3.2v3.2h-3.2zM517 254.5h3.2v3.2h-3.2z"/>
<path fill="#e0e0f8" d="M547 185.5h3.2v3.2h-3.2zM595 185.5h3.2v3.2h-3.2zM547 191.5h3.2v3.2h-3.2zM562 197.5h3.2v3.2h-3.2zM529 206.5h3.2v3.2h-3.2zM571 224.5h3.2v3.2h-3.2zM505 230.5h3.2v3.2h-3.2zM544 236.5h3.2v3.2h-3.2zM556 239.5h3.2v3.2h-3.2zM559 245.5h3.2v3.2h-3.2zM559 248.5h3.2v3.2h-3.2zM496 254.5h3.2v3.2h-3.2zM505 257.5h3.2v3.2h-3.2zM553 257.5h3.2v3.2h-3.2zM535 260.5h3.2v3.2h-3.2zM544 260.5h3.2v3.2h-3.2z"/>
<path fill="#ccccf4" d="M574 185.5h3.2v3.2h-3.2zM532 203.5h3.2v3.2h-3.2zM508 233.5h3.2v3.2h-3.2zM511 233.5h3.2v3.2h-3.2zM553 242.5h3.2v3.2h-3.2zM496 245.5h3.2v3.2h-3.2zM499 251.5h3.2v3.2h-3.2zM517 257.5h3.2v3.2h-3.2z"/>
<path fill="#bcbcf4" d="M577 185.5h3.2v3.2h-3.2zM541 188.5h3.2v3.2h-3.2zM589 188.5h3.2v3.2h-3.2zM541 191.5h3.2v3.2h-3.2zM589 194.5h3.2v3.2h-3.2zM538 197.5h3.2v3.2h-3.2zM568 221.5h3.2v3.2h-3.2zM505 236.5h3.2v3.2h-3.2zM502 239.5h3.2v3.2h-3.2zM535 257.5h3.2v3.2h-3.2zM538 257.5h3.2v3.2h-3.2zM541 257.5h3.2v3.2h-3.2z"/>
<path fill="#b4b4f4" d="M580 185.5h3.2v3.2h-3.2zM583 185.5h3.2v3.2h-3.2zM520 203.5h3.2v3.2h-3.2zM529 203.5h3.2v3.2h-3.2zM568 218.5h3.2v3.2h-3.2zM508 236.5h3.2v3.2h-3.2zM544 239.5h3.2v3.2h-3.2zM502 242.5h3.2v3.2h-3.2zM502 245.5h3.2v3.2h-3.2zM550 251.5h3.2v3.2h-3.2z"/>
<path fill="#c4c4f4" d="M589 185.5h3.2v3.2h-3.2zM571 188.5h3.2v3.2h-3.2zM541 194.5h3.2v3.2h-3.2zM523 206.5h3.2v3.2h-3.2zM580 212.5h3.2v3.2h-3.2zM562 215.5h3.2v3.2h-3.2zM535 236.5h3.2v3.2h-3.2zM553 245.5h3.2v3.2h-3.2zM499 248.5h3.2v3.2h-3.2zM523 257.5h3.2v3.2h-3.2zM526 257.5h3.2v3.2h-3.2z"/>
<path fill="#9090f0" d="M529 188.5h3.2v3.2h-3.2zM535 191.5h3.2v3.2h-3.2zM583 191.5h3.2v3.2h-3.2zM532 197.5h3.2v3.2h-3.2zM571 197.5h3.2v3.2h-3.2zM526 200.5h3.2v3.2h-3.2zM571 209.5h3.2v3.2h-3.2zM574 209.5h3.2v3.2h-3.2zM529 239.5h3.2v3.2h-3.2zM511 242.5h3.2v3.2h-3.2zM520 251.5h3.2v3.2h-3.2z"/>
<path fill="#8c8cf0" d="M532 188.5h3.2v3.2h-3.2zM577 191.5h3.2v3.2h-3.2zM583 197.5h3.2v3.2h-3.2zM517 239.5h3.2v3.2h-3.2zM520 239.5h3.2v3.2h-3.2zM526 239.5h3.2v3.2h-3.2zM511 245.5h3.2v3.2h-3.2zM514 248.5h3.2v3.2h-3.2zM523 251.5h3.2v3.2h-3.2zM526 251.5h3.2v3.2h-3.2zM544 251.5h3.2v3.2h-3.2z"/>
<path fill="#9494f0" d="M535 188.5h3.2v3.2h-3.2zM535 194.5h3.2v3.2h-3.2zM529 200.5h3.2v3.2h-3.2zM583 200.5h3.2v3.2h-3.2zM514 239.5h3.2v3.2h-3.2zM532 239.5h3.2v3.2h-3.2zM544 242.5h3.2v3.2h-3.2zM511 248.5h3.2v3.2h-3.2zM547 248.5h3.2v3.2h-3.2zM517 251.5h3.2v3.2h-3.2z"/>
<path fill="#a8a8f4" d="M538 188.5h3.2v3.2h-3.2zM586 188.5h3.2v3.2h-3.2zM532 200.5h3.2v3.2h-3.2zM526 203.5h3.2v3.2h-3.2zM568 212.5h3.2v3.2h-3.2zM517 236.5h3.2v3.2h-3.2zM520 236.5h3.2v3.2h-3.2zM523 236.5h3.2v3.2h-3.2zM526 236.5h3.2v3.2h-3.2zM541 239.5h3.2v3.2h-3.2zM505 242.5h3.2v3.2h-3.2zM547 242.5h3.2v3.2h-3.2zM505 245.5h3.2v3.2h-3.2zM520 254.5h3.2v3.2h-3.2z"/>
<path fill="#ccccf8" d="M544 188.5h3.2v3.2h-3.2zM592 188.5h3.2v3.2h-3.2zM526 206.5h3.2v3.2h-3.2zM574 218.5h3.2v3.2h-3.2zM514 233.5h3.2v3.2h-3.2zM538 236.5h3.2v3.2h-3.2zM550 239.5h3.2v3.2h-3.2z"/>
<path fill="#9898f0" d="M580 188.5h3.2v3.2h-3.2zM523 200.5h3.2v3.2h-3.2zM568 203.5h3.2v3.2h-3.2zM568 206.5h3.2v3.2h-3.2zM580 206.5h3.2v3.2h-3.2zM577 209.5h3.2v3.2h-3.2zM535 239.5h3.2v3.2h-3.2zM508 245.5h3.2v3.2h-3.2zM547 245.5h3.2v3.2h-3.2zM514 251.5h3.2v3.2h-3.2zM538 254.5h3.2v3.2h-3.2z"/>
<path fill="#8080f0" d="M529 191.5h3.2v3.2h-3.2zM526 194.5h3.2v3.2h-3.2zM571 203.5h3.2v3.2h-3.2zM517 242.5h3.2v3.2h-3.2zM535 242.5h3.2v3.2h-3.2zM535 251.5h3.2v3.2h-3.2zM538 251.5h3.2v3.2h-3.2z"/>
<path fill="#8484f0" d="M532 191.5h3.2v3.2h-3.2zM532 194.5h3.2v3.2h-3.2zM526 197.5h3.2v3.2h-3.2zM529 197.5h3.2v3.2h-3.2zM571 200.5h3.2v3.2h-3.2zM580 203.5h3.2v3.2h-3.2zM571 206.5h3.2v3.2h-3.2zM577 206.5h3.2v3.2h-3.2zM538 242.5h3.2v3.2h-3.2zM514 245.5h3.2v3.2h-3.2zM544 245.5h3.2v3.2h-3.2zM517 248.5h3.2v3.2h-3.2zM544 248.5h3.2v3.2h-3.2zM532 251.5h3.2v3.2h-3.2zM541 251.5h3.2v3.2h-3.2z"/>
<path fill="#a4a4f4" d="M538 191.5h3.2v3.2h-3.2zM535 197.5h3.2v3.2h-3.2zM586 197.5h3.2v3.2h-3.2zM574 212.5h3.2v3.2h-3.2zM508 239.5h3.2v3.2h-3.2zM511 251.5h3.2v3.2h-3.2zM523 254.5h3.2v3.2h-3.2zM526 254.5h3.2v3.2h-3.2zM544 254.5h3.2v3.2h-3.2z"/>
<path fill="#8888f0" d="M580 191.5h3.2v3.2h-3.2zM574 194.5h3.2v3.2h-3.2zM583 194.5h3.2v3.2h-3.2zM523 239.5h3.2v3.2h-3.2zM514 242.5h3.2v3.2h-3.2zM541 242.5h3.2v3.2h-3.2zM529 251.5h3.2v3.2h-3.2z"/>
<path fill="#7c7cf0" d="M529 194.5h3.2v3.2h-3.2zM577 194.5h3.2v3.2h-3.2zM580 194.5h3.2v3.2h-3.2zM580 200.5h3.2v3.2h-3.2zM574 206.5h3.2v3.2h-3.2zM520 242.5h3.2v3.2h-3.2zM532 242.5h3.2v3.2h-3.2zM517 245.5h3.2v3.2h-3.2zM520 248.5h3.2v3.2h-3.2zM523 248.5h3.2v3.2h-3.2z"/>
<path fill="#a0a0f0" d="M571 194.5h3.2v3.2h-3.2zM568 200.5h3.2v3.2h-3.2zM583 203.5h3.2v3.2h-3.2zM568 209.5h3.2v3.2h-3.2zM571 212.5h3.2v3.2h-3.2zM508 248.5h3.2v3.2h-3.2zM547 251.5h3.2v3.2h-3.2zM532 254.5h3.2v3.2h-3.2z"/>
<path fill="#7878f0" d="M574 197.5h3.2v3.2h-3.2zM580 197.5h3.2v3.2h-3.2zM523 242.5h3.2v3.2h-3.2zM526 242.5h3.2v3.2h-3.2zM529 242.5h3.2v3.2h-3.2zM520 245.5h3.2v3.2h-3.2zM541 245.5h3.2v3.2h-3.2zM526 248.5h3.2v3.2h-3.2zM529 248.5h3.2v3.2h-3.2zM541 248.5h3.2v3.2h-3.2z"/>
<path fill="#7070ec" d="M577 197.5h3.2v3.2h-3.2zM574 200.5h3.2v3.2h-3.2zM532 245.5h3.2v3.2h-3.2zM535 245.5h3.2v3.2h-3.2zM538 245.5h3.2v3.2h-3.2zM538 248.5h3.2v3.2h-3.2z"/>
<path fill="#6c6cec" d="M577 200.5h3.2v3.2h-3.2z"/>
<path fill="#f4cccc" d="M544 203.5h3.2v3.2h-3.2zM490 269.5h3.2v3.2h-3.2zM541 272.5h3.2v3.2h-3.2zM538 275.5h3.2v3.2h-3.2zM508 278.5h3.2v3.2h-3.2zM526 278.5h3.2v3.2h-3.2z"/>
<path fill="#f4c8c8" d="M547 203.5h3.2v3.2h-3.2zM556 212.5h3.2v3.2h-3.2zM496 266.5h3.2v3.2h-3.2zM532 266.5h3.2v3.2h-3.2zM496 275.5h3.2v3.2h-3.2zM511 278.5h3.2v3.2h-3.2zM514 278.5h3.2v3.2h-3.2zM517 278.5h3.2v3.2h-3.2zM520 278.5h3.2v3.2h-3.2zM523 278.5h3.2v3.2h-3.2z"/>
<path fill="#f8cccc" d="M550 203.5h3.2v3.2h-3.2zM520 215.5h3.2v3.2h-3.2zM544 233.5h3.2v3.2h-3.2zM541 269.5h3.2v3.2h-3.2zM490 272.5h3.2v3.2h-3.2zM505 278.5h3.2v3.2h-3.2z"/>
<path fill="#7474ec" d="M574 203.5h3.2v3.2h-3.2zM577 203.5h3.2v3.2h-3.2zM523 245.5h3.2v3.2h-3.2zM526 245.5h3.2v3.2h-3.2zM529 245.5h3.2v3.2h-3.2zM532 248.5h3.2v3.2h-3.2zM535 248.5h3.2v3.2h-3.2z"/>
<path fill="#f4b8b8" d="M538 206.5h3.2v3.2h-3.2zM517 218.5h3.2v3.2h-3.2zM514 221.5h3.2v3.2h-3.2zM523 227.5h3.2v3.2h-3.2zM508 266.5h3.2v3.2h-3.2zM511 266.5h3.2v3.2h-3.2zM514 266.5h3.2v3.2h-3.2zM517 266.5h3.2v3.2h-3.2zM520 266.5h3.2v3.2h-3.2zM499 269.5h3.2v3.2h-3.2zM532 269.5h3.2v3.2h-3.2zM499 272.5h3.2v3.2h-3.2zM505 275.5h3.2v3.2h-3.2zM526 275.5h3.2v3.2h-3.2z"/>
<path fill="#f4a4a4" d="M541 206.5h3.2v3.2h-3.2zM523 218.5h3.2v3.2h-3.2zM511 269.5h3.2v3.2h-3.2zM514 269.5h3.2v3.2h-3.2zM517 269.5h3.2v3.2h-3.2zM520 269.5h3.2v3.2h-3.2zM511 272.5h3.2v3.2h-3.2zM520 272.5h3.2v3.2h-3.2zM523 272.5h3.2v3.2h-3.2z"/>
<path fill="#f09c9c" d="M544 206.5h3.2v3.2h-3.2zM520 221.5h3.2v3.2h-3.2zM523 224.5h3.2v3.2h-3.2zM529 227.5h3.2v3.2h-3.2zM535 230.5h3.2v3.2h-3.2zM553 230.5h3.2v3.2h-3.2z"/>
<path fill="#f0a0a0" d="M547 206.5h3.2v3.2h-3.2zM520 224.5h3.2v3.2h-3.2z"/>
<path fill="#f4acac" d="M550 206.5h3.2v3.2h-3.2zM553 209.5h3.2v3.2h-3.2zM505 269.5h3.2v3.2h-3.2zM526 269.5h3.2v3.2h-3.2zM505 272.5h3.2v3.2h-3.2z"/>
<path fill="#f4c4c4" d="M553 206.5h3.2v3.2h-3.2zM523 215.5h3.2v3.2h-3.2zM514 218.5h3.2v3.2h-3.2zM517 227.5h3.2v3.2h-3.2zM556 230.5h3.2v3.2h-3.2zM499 266.5h3.2v3.2h-3.2zM529 266.5h3.2v3.2h-3.2zM493 269.5h3.2v3.2h-3.2zM538 269.5h3.2v3.2h-3.2zM493 272.5h3.2v3.2h-3.2zM538 272.5h3.2v3.2h-3.2zM499 275.5h3.2v3.2h-3.2zM535 275.5h3.2v3.2h-3.2z"/>
<path fill="#f4c0c0" d="M532 209.5h3.2v3.2h-3.2zM502 266.5h3.2v3.2h-3.2zM526 266.5h3.2v3.2h-3.2zM535 269.5h3.2v3.2h-3.2zM496 272.5h3.2v3.2h-3.2zM532 275.5h3.2v3.2h-3.2z"/>
<path fill="#f09898" d="M535 209.5h3.2v3.2h-3.2zM553 212.5h3.2v3.2h-3.2zM523 221.5h3.2v3.2h-3.2z"/>
<path fill="#f07c7c" d="M538 209.5h3.2v3.2h-3.2zM538 230.5h3.2v3.2h-3.2zM550 230.5h3.2v3.2h-3.2z"/>
<path fill="#ec6868" d="M541 209.5h3.2v3.2h-3.2z"/>
<path fill="#ec6464" d="M544 209.5h3.2v3.2h-3.2zM535 212.5h3.2v3.2h-3.2zM532 215.5h3.2v3.2h-3.2zM541 230.5h3.2v3.2h-3.2zM547 230.5h3.2v3.2h-3.2z"/>
<path fill="#ec7474" d="M547 209.5h3.2v3.2h-3.2zM553 224.5h3.2v3.2h-3.2zM532 227.5h3.2v3.2h-3.2z"/>
<path fill="#f08c8c" d="M550 209.5h3.2v3.2h-3.2zM532 212.5h3.2v3.2h-3.2zM526 221.5h3.2v3.2h-3.2z"/>
<path fill="#f4b4b4" d="M529 212.5h3.2v3.2h-3.2zM532 272.5h3.2v3.2h-3.2zM508 275.5h3.2v3.2h-3.2zM523 275.5h3.2v3.2h-3.2z"/>
<path fill="#e84040" d="M538 212.5h3.2v3.2h-3.2z"/>
<path fill="#e83030" d="M541 212.5h3.2v3.2h-3.2zM544 212.5h3.2v3.2h-3.2zM550 224.5h3.2v3.2h-3.2z"/>
<path fill="#e84848" d="M547 212.5h3.2v3.2h-3.2z"/>
<path fill="#ec6c6c" d="M550 212.5h3.2v3.2h-3.2z"/>
<path fill="#f4b0b0" d="M526 215.5h3.2v3.2h-3.2zM520 218.5h3.2v3.2h-3.2zM526 227.5h3.2v3.2h-3.2zM502 269.5h3.2v3.2h-3.2zM529 269.5h3.2v3.2h-3.2zM502 272.5h3.2v3.2h-3.2zM529 272.5h3.2v3.2h-3.2zM511 275.5h3.2v3.2h-3.2zM514 275.5h3.2v3.2h-3.2zM517 275.5h3.2v3.2h-3.2zM520 275.5h3.2v3.2h-3.2z"/>
<path fill="#f09090" d="M529 215.5h3.2v3.2h-3.2zM553 215.5h3.2v3.2h-3.2z"/>
<path fill="#e83838" d="M535 215.5h3.2v3.2h-3.2z"/>
<path fill="#e41414" d="M538 215.5h3.2v3.2h-3.2zM547 221.5h3.2v3.2h-3.2z"/>
<path fill="#e40808" d="M541 215.5h3.2v3.2h-3.2zM544 215.5h3.2v3.2h-3.2zM538 218.5h3.2v3.2h-3.2zM541 218.5h3.2v3.2h-3.2zM544 218.5h3.2v3.2h-3.2zM538 221.5h3.2v3.2h-3.2zM541 221.5h3.2v3.2h-3.2zM544 221.5h3.2v3.2h-3.2zM538 224.5h3.2v3.2h-3.2zM541 224.5h3.2v3.2h-3.2zM544 224.5h3.2v3.2h-3.2zM547 224.5h3.2v3.2h-3.2zM541 227.5h3.2v3.2h-3.2zM544 227.5h3.2v3.2h-3.2zM547 227.5h3.2v3.2h-3.2z"/>
<path fill="#e82828" d="M547 215.5h3.2v3.2h-3.2zM535 224.5h3.2v3.2h-3.2zM550 227.5h3.2v3.2h-3.2z"/>
<path fill="#ec5454" d="M550 215.5h3.2v3.2h-3.2z"/>
<path fill="#f09494" d="M526 218.5h3.2v3.2h-3.2zM553 218.5h3.2v3.2h-3.2zM553 221.5h3.2v3.2h-3.2zM526 224.5h3.2v3.2h-3.2z"/>
<path fill="#f07878" d="M529 218.5h3.2v3.2h-3.2z"/>
<path fill="#ec5050" d="M532 218.5h3.2v3.2h-3.2zM550 218.5h3.2v3.2h-3.2zM532 221.5h3.2v3.2h-3.2z"/>
<path fill="#e82424" d="M535 218.5h3.2v3.2h-3.2zM535 221.5h3.2v3.2h-3.2z"/>
<path fill="#e41818" d="M547 218.5h3.2v3.2h-3.2zM538 227.5h3.2v3.2h-3.2z"/>
<path fill="#f4a8a8" d="M517 221.5h3.2v3.2h-3.2zM517 224.5h3.2v3.2h-3.2zM508 269.5h3.2v3.2h-3.2zM523 269.5h3.2v3.2h-3.2zM508 272.5h3.2v3.2h-3.2zM526 272.5h3.2v3.2h-3.2z"/>
<path fill="#f07474" d="M529 221.5h3.2v3.2h-3.2z"/>
<path fill="#ec4c4c" d="M550 221.5h3.2v3.2h-3.2z"/>
<path fill="#f4bcbc" d="M514 224.5h3.2v3.2h-3.2zM556 224.5h3.2v3.2h-3.2zM520 227.5h3.2v3.2h-3.2zM532 230.5h3.2v3.2h-3.2zM505 266.5h3.2v3.2h-3.2zM523 266.5h3.2v3.2h-3.2zM496 269.5h3.2v3.2h-3.2zM535 272.5h3.2v3.2h-3.2zM502 275.5h3.2v3.2h-3.2zM529 275.5h3.2v3.2h-3.2z"/>
<path fill="#f08080" d="M529 224.5h3.2v3.2h-3.2z"/>
<path fill="#ec5858" d="M532 224.5h3.2v3.2h-3.2z"/>
<path fill="#e84444" d="M535 227.5h3.2v3.2h-3.2z"/>
<path fill="#ec6060" d="M553 227.5h3.2v3.2h-3.2z"/>
<path fill="#f4a0a0" d="M556 227.5h3.2v3.2h-3.2zM514 272.5h3.2v3.2h-3.2zM517 272.5h3.2v3.2h-3.2z"/>
<path fill="#ec5c5c" d="M544 230.5h3.2v3.2h-3.2z"/>
</g>
<path d="M477.17 178.19l2.71 1.3M481.2 178.3l2.78 1.14M486.82 178.09l-2.88 0.85M488.93 178.24l0.06 3M495.07 177.66l-2.63 1.44M496.66 178.44l-0.91 2.86M500.46 178.01l1.15 2.77M504.23 180.77l1.27 -2.72M505.7 179.99l2 -2.24M509.67 179.83l1.88 -2.34M513.81 180.22l1.79 -2.41M518.32 179.9l2.33 -1.89M521.56 180.09l2.4 -1.8M524.46 179.72l2.25 -1.99M527.6 180.03l2.63 -1.45M532.26 178.98l2.93 -0.63M576.27 180.86l2.36 -1.85M582.46 179.4l-2.31 -1.92M585.17 180.59l0.34 -2.98M588.43 180.15l2.46 -1.72M594.26 179.05l-2.84 -0.95M595.77 179.4l2.79 1.1M601.09 178.84l-3 -0.16M477.24 181.08l2.74 1.22M479.75 181.66l2.16 2.08M485.99 180.41l-0.42 2.97M490.16 181.68l-1.19 2.75M491.16 182l1.81 2.39M496.84 180.69l1.08 2.8M501.67 182.37l-2.83 0.99M502.59 184.25l1.68 -2.49M507.18 182.81l1.67 -2.49M510.66 183.36l1.42 -2.64M514.36 184.17l2.05 -2.19M517.71 183.75l1.55 -2.57M520.89 183.17l2.07 -2.17M524.84 183.51l2.27 -1.96M529.24 181.88l2.94 -0.6M576.3 182.23l2.82 -1.03M579.95 182.91l2.9 -0.79M584.41 181.96l3 -0.16M586.91 182.22l2.99 0.22M591.15 182.26l2.91 0.75M594.95 182.38l2.97 0.41M597.98 182.15l2.6 1.49M478.28 184.61l-1.57 2.56M482.84 186.78l-3 0.14M484.53 184.1l0.74 2.91M489.08 184.04l0.23 2.99M494.06 185.6l-2.38 1.83M495.99 186.12l2.87 0.87M499.18 186.06l2.42 1.77M504.26 188.34l1.11 -2.79M507.02 187.36l1.8 -2.4M509.42 188.18l1.84 -2.37M514.81 186.5l1.37 -2.67M516.85 186.25l2.03 -2.21M521.49 186.91l2.03 -2.21M525.28 186.13l2.29 -1.94M529.08 186.37l2.63 -1.44M575.61 187.15l2.94 -0.62M580.17 186.51l2.98 -0.37M584.05 184.98l2.99 0.26M587.58 186.03l2.88 0.85M591.46 185.67l1.92 2.3M596.64 185.56l1.2 2.75M599.75 185.53l1.27 2.72M476.82 189.13l2.66 1.4M481.59 188.9l-1.21 2.75M486.28 187.51l-1.21 2.75M487.76 187.96l2.2 2.04M494.29 187.74l-1.43 2.64M496.14 188.96l0.84 2.88M500.44 191.04l0.35 -2.98M503.2 190.06l0.89 -2.86M507.45 191.74l1.58 -2.55M509.97 190.74l0.87 -2.87M514.22 189.77l1.64 -2.51M518.4 190.95l1.74 -2.44M521.73 190.13l1.96 -2.27M524.83 190.28l2.02 -2.22M527.93 191.24l2.33 -1.89M533.13 189.22l2.39 1.81M576.56 189.9l2.62 -1.47M580.69 188.55l2.98 0.35M583.55 189.08l2.82 1.03M587.87 188.99l1.39 2.66M591.37 188.15l0.84 2.88M597.28 188.54l-0.27 2.99M599.85 187.13l-0.1 3M478.09 191.31l-0.62 2.93M482.66 192.59l-2.92 0.68M486.07 191.7l-1.57 2.55M489.48 191.33l-1.88 2.34M491 191.93l2.48 1.69M496.65 192.45l-1.54 2.57M501.03 195.23l-0.61 -2.94M503.76 194.82l0.56 -2.95M507.4 194.65l1.26 -2.72M510.37 195.28l1 -2.83M514.78 194.75l1.44 -2.63M518.75 194.2l1.32 -2.7M520.89 194.63l1.07 -2.8M524.79 195.06l1.21 -2.75M552.51 192.02l-1.41 2.65M556.27 192.27l-2.02 2.22M579.42 193.33l2.99 -0.2M585.59 192.4l1.04 2.82M589.04 191.91l0.05 3M591.95 191.54l-0.04 3M597.47 191.78l-1.05 2.81M600.23 191.52l-0.21 2.99M478.54 195.93l-2.59 1.52M481.6 195.45l-1.51 2.59M486.56 195.53l-2.44 1.75M490.02 196.64l-2.91 0.72M495.1 195.05l-2.7 1.31M497.39 197.34l-2.99 0.27M501.53 197.94l-1.19 -2.76M504.94 197.49l-0.6 -2.94M506.65 197.77l0.21 -2.99M510.3 198.52l0.66 -2.93M514.01 197.85l1.17 -2.76M518.99 197.05l1.31 -2.7M521.2 198.53l0.52 -2.95M542.61 194.32l-1.47 2.61M545.22 194.34l-1.23 2.74M549.34 195.11l-2.19 2.05M552.51 195.63l-2.51 1.64M557.11 195.89l-2.98 -0.38M560.2 198.77l-0.15 -3M561.99 197.75l0.83 -2.88M586.08 195.17l-0.25 2.99M589.51 194.69l-0.38 2.98M594.17 195.97l-1 2.83M597.25 195.16l-0.34 2.98M601.69 195.39l-1.31 2.7M478.69 198.64l-2.89 0.8M481.58 198.38l0.29 2.99M486.73 199.88l-2.43 1.76M491.16 198.42l-2.77 1.16M493.95 198.76l-2.69 1.33M497.51 200.48l-3 -0.03M501.99 201.71l-2.53 -1.62M504.63 202.06l-1.67 -2.49M507.36 202.46l-0.62 -2.93M511.25 201.76l0.08 -3M515.74 202.37l0.25 -2.99M518.84 200.53l-0.08 -3M546.01 199.87l-2.55 1.59M548.92 198.62l-2.47 1.71M553.34 199.92l-2.99 0.3M557.07 199.98l-2.37 -1.84M559.71 201.46l-0.73 -2.91M562.91 201.15l0.52 -2.95M588.61 198.03l-0.81 2.89M594.34 199.65l-1.3 2.7M596.13 198.77l-1.39 2.66M600.02 198.35l-1.13 2.78M477.37 202.92l0.63 2.93M483.06 202.35l-2.55 1.57M485.97 202.53l-2.22 2.02M489.95 202l-2.79 1.09M495.07 202.36l-2.79 1.1M497.03 202.51l-2.75 1.2M502.23 204.46l-2.88 -0.83M505.11 204.4l-1.93 -2.3M507.71 204.88l-1.14 -2.77M512.13 204.6l-0.12 -3M515.61 204.09l-1.14 -2.77M518.28 204.54l-0.52 -2.95M545.66 203.79l-2.82 1.02M549.41 202.52l-2.97 0.44M554.38 204.14l-2.9 -0.76M556.52 203.93l-2.62 -1.46M560.54 204.13l-0.9 -2.86M562.19 205.91l0.4 -2.97M590.4 203.01l-1.24 2.73M593.99 202.79l-1.02 2.82M596.02 201.4l-0.7 2.92M601.63 202.41l-1.78 2.42M478.6 206.86l-2.21 2.03M482.4 205.54l-1.88 2.34M486.1 205.75l-1.85 2.36M489.25 205.02l-1.93 2.29M494.01 206.63l-2.54 1.59M498.27 207.07l-2.62 1.47M500.72 205.99l-2.98 0.35M504.63 208.2l-2.76 -1.18M508.89 207.71l-1.47 -2.62M511.28 209.17l-1.45 -2.63M515.29 207.47l-1.27 -2.72M520.57 207.76l-2.31 -1.91M523.2 207.42l-2.85 -0.93M545.73 206.59l-2.98 0.37M550.64 206.6l-2.98 -0.38M553.94 207.18l-2.34 -1.87M556.87 207.31l-2.14 -2.1M559.84 209.39l-0.97 -2.84M563.82 209.18l-0.51 -2.96M589.55 205.75l-1.59 2.54M592.6 205.61l-1.69 2.48M597.86 205.17l-1.17 2.76M600.75 206.35l-1.49 2.6M479.65 209.21l-1.44 2.63M482.42 209.37l-1.74 2.44M485.73 208.63l-1.35 2.68M491.08 209.37l-2.1 2.15M493.78 208.91l-2.29 1.94M497.09 209.64l-2.52 1.63M502.2 210.02l-3 0.04M505 210.97l-2.99 -0.18M509.38 210.34l-2.54 -1.6M513.01 211.72l-2.43 -1.76M516.31 211.04l-2.83 -1M520.44 210.21l-2.93 -0.66M524.44 210.04l-2.98 0.38M547.09 209.44l-2.99 0.23M552.69 212.26l-1.81 -2.39M556.45 212.63l-1.49 -2.61M559.11 211.2l-0.64 -2.93M586.69 208.78l-1.81 2.39M589.09 208.33l-1.59 2.54M593.17 210.01l-1.83 2.38M598.02 209.94l-1.81 2.39M601.54 208.55l-1.93 2.3M477.72 212.98l-1.23 2.74M481.79 211.82l-1.64 2.51M485.76 212.94l-1.04 2.81M490.09 212.11l-1.41 2.65M494.08 211.89l-1.77 2.42M497.74 212.04l-1.4 2.65M501.32 213.41l-2.27 1.96M505.57 213.55l-3 0.14M509.14 214.29l-2.98 -0.34M512.58 213.87l-2.83 -1M517.08 214.6l-2.98 -0.32M519.59 213.72l-2.97 0.44M523.76 213.15l-3 -0.03M527.18 213.13l-2.38 1.83M530.17 212.71l-2.35 1.86M534.33 213.39l-1.9 2.32M553.09 214.75l-1.39 -2.66M579.95 214.01l-2.67 1.38M581.94 212.35l-2.07 2.17M585.26 212.53l-1.79 2.41M590.11 213.07l-1.54 2.58M592.78 212.83l-1.85 2.36M596.45 212.42l-2.02 2.22M600.86 213.22l-2.5 1.66M477.58 215.06l-0.01 3M481.7 215.87l0.01 3M484.57 216.17l0.94 2.85M488.15 216.58l0.72 2.91M492.42 215.73l0.35 2.98M496.18 217.06l1.5 2.6M500.06 215.48l0.04 3M505.82 215.8l-2.11 2.13M508.09 216.26l-2.06 2.18M512.74 216.94l-2.48 1.69M515.51 216.84l-2.89 0.81M520.55 216.49l-3 0.09M523.79 217.92l-2.85 0.93M527.3 216.99l-2.79 1.11M530.56 215.63l-1.75 2.44M575.66 216.23l-2.78 1.13M579.29 217.07l-2.63 1.45M582.01 217.55l-2.46 1.72M585.41 216.03l-2.07 2.17M590.75 216.23l-2.44 1.75M593.21 216.86l-1.89 2.33M598.52 216.86l-2.92 0.67M601.84 219.01l-2.07 -2.17M477.37 218.94l1.59 2.54M481.35 220.62l2.16 2.09M485.01 220.84l2.11 2.13M488 219.33l2.01 2.22M491.21 219.83l1.86 2.35M496.2 220.45l2.34 1.88M498.28 219.41l2.27 1.96M503.94 219.73l1.65 2.51M506.97 218.66l-0.06 3M510.96 220.48l-0.09 3M516.41 219.83l-2.01 2.23M520.28 220.09l-2.33 1.9M524.58 221.02l-2.9 0.76M527.78 220.46l-1.57 2.55M529.33 219.31l-0.61 2.94M579.51 219.38l-2.07 2.17M582.35 220.66l-2.48 1.69M585.57 220.32l-2.15 2.09M589.95 221.17l-2.52 1.63M594.16 219.43l-2.45 1.74M596.28 223.09l-1.59 -2.55M600.38 223.06l-0.32 -2.98M476.67 224.57l2.98 0.34M480.49 224.08l2.84 0.97M484.39 224.61l2.91 0.73M487.59 223.68l2.8 1.08M491.82 223.6l2.93 0.64M494.12 223.21l2.89 0.82M499.45 224.59l2.98 0.36M503.39 224.39l2.76 1.17M505.98 222.75l2.01 2.23M509.69 223.73l1.7 2.48M515.52 222.16l0.27 2.99M518.4 223.38l0.54 2.95M521.07 223.53l2 2.24M524.92 224.79l2.72 1.26M529.02 223.47l1.51 2.59M578.99 223.24l-2.32 1.9M581.77 224.03l-2.23 2.01M586.9 224.32l-2.39 1.81M589.95 224.51l-2.31 1.91M593.39 224.75l-2.81 1.06M595.72 225.11l0.21 -2.99M599.24 225.32l1.3 -2.71M476.16 228.07l2.96 -0.49M480.2 228.36l2.99 -0.28M483.36 228.18l3 -0.17M486.73 227.53l2.99 -0.24M491.64 227.85l2.89 -0.81M494.39 228.19l2.93 -0.65M498.21 227.8l2.99 0.28M501.73 226.92l2.96 0.49M507.14 228.14l2.59 1.52M510.01 225.89l1.69 2.48M514.43 227.83l2.52 1.64M517.44 228.6l2.94 0.6M520.93 227.68l3 0.08M524.8 227.79l2.77 1.15M528.88 227.37l2.45 1.73M532.07 226.46l2.04 2.2M553.12 228.46l-0.71 -2.92M575 226.05l-2.17 2.07M578.99 227.77l-2.59 1.51M582.37 227.99l-2.38 1.82M586.52 227.12l-1.13 2.78M588.56 229.03l2.6 -1.49M592.14 229.18l2.31 -1.91M595.82 228.43l1.82 -2.39M598.76 228.77l1.98 -2.25M477.09 233.41l2.22 -2.02M479.68 232.38l2.81 -1.04M484.09 232.01l2.78 -1.12M486.91 232.03l2.89 -0.81M490.86 230.9l2.95 -0.55M495.08 232.54l2.64 -1.43M499.08 232.45l2.83 -1M502.59 232.79l2.89 -0.82M506.78 231.09l2.84 0.96M524.3 230.94l3 0.06M549.99 231.15l2.85 -0.93M554.43 232.24l2.46 -1.71M558.34 233.24l2.51 -1.64M571.71 230.07l-2.85 0.92M574.52 231l-0.94 2.85M578.31 230.18l-1.18 2.76M580.83 231.14l1.78 2.41M583.46 231.35l2.99 0.27M588.78 232.24l2.34 -1.88M590.91 233.21l2.41 -1.78M595.24 232.21l2.18 -2.06M599.6 232.43l2.28 -1.95M477.35 234.93l2.53 -1.62M480.47 235.6l2.5 -1.66M484.25 235.31l2.51 -1.65M488.24 234.77l2.69 -1.32M491.55 236.42l2.21 -2.03M495.2 236.81l2.27 -1.96M498.04 235.78l2.54 -1.6M502.63 236.04l2.62 -1.46M542.46 234.1l2.98 0.37M546.8 235.56l2.98 0.37M549.68 235.76l2.99 -0.29M554.71 234.94l2.85 -0.93M557.13 235.83l2.82 -1.02M561.71 235.24l2.64 -1.42M567.93 232.93l-1.97 2.26M570.3 234.47l-1.2 2.75M574.8 234.36l0.04 3M577.77 234.18l1.04 2.81M580.24 233.71l2.48 1.68M584.54 235.49l3 -0.17M587.51 235.1l2.55 -1.58M591.89 235.66l2.49 -1.68M594.63 235.38l2.15 -2.09M597.82 235.67l2.58 -1.53M477.23 240.5l1.41 -2.65M481.44 239.5l1.24 -2.73M485.23 240.33l1.95 -2.28M487.94 238.74l2.03 -2.21M492.5 240.06l1.63 -2.52M496.26 239.11l2.01 -2.23M498.59 240.2l2.28 -1.95M503.12 240.22l2.24 -2M543.77 238.89l2.95 0.55M546.66 237.88l2.99 0.18M549.62 238.26l3 0.14M553.84 238.42l3 0.04M558.76 238.34l2.73 1.25M561.7 238.29l2.13 2.11M567.3 237.02l-0.13 3M569.85 237.23l-0.27 2.99M574.64 236.49l0.59 2.94M576.69 237.55l1.39 2.66M579.74 237.57l2.54 1.6M583.72 239.06l2.98 0.33M587.46 239.11l2.78 -1.12M591.79 239.07l2.55 -1.58M597.47 237.34l-1.76 2.43M599.27 238.99l2.99 0.23M477.78 242.91l0.98 -2.83M480.87 244.14l0.69 -2.92M484.29 243.86l0.96 -2.84M489.21 242.56l0.78 -2.9M492.1 243.42l1.08 -2.8M496.79 243.99l0.94 -2.85M499.35 243.07l1.06 -2.81M503.88 242.53l1.74 -2.44M542.53 241.41l2.63 1.44M547.46 240.73l2.63 1.44M551.32 241.61l2.05 2.19M553.84 241.57l2.49 1.68M558.87 240.19l1.9 2.32M562.99 240.28l1.44 2.63M566.02 240.94l-0.02 3M570.54 240l-0.22 2.99M574.29 240.17l1.16 2.76M576.41 240.76l1.52 2.59M580.13 241.4l2.05 2.19M583.18 242.31l2.96 0.46M589.65 240.92l-1.45 2.62M592.29 239.97l1.57 2.56M598.39 240.88l-2.9 0.76M601.35 240.14l-0.62 2.93M477.64 247.19l0.28 -2.99M481.36 246.56l0.71 -2.91M485.03 247.54l-0.1 -3M488.54 247.23l0.24 -2.99M492.79 246.62l-0.19 -2.99M495.48 247.19l0.32 -2.98M500.03 247.85l-0.56 -2.95M503.04 245.98l0.65 -2.93M544.16 244.37l2.63 1.45M546.15 244.14l2.37 1.84M552.34 244.85l1.11 2.79M555.73 243.65l1.18 2.76M559.75 243.24l0.98 2.84M563.83 243.12l0.34 2.98M566.25 243.49l-0.27 2.99M570.5 244.95l-0.04 3M574.39 243.12l1.17 2.76M577.08 244.69l0.32 2.98M581.35 244.02l1.91 2.31M585.5 243.92l-0.78 2.9M589.82 246.03l-2.93 0.65M590.91 244.36l2.96 0.47M596.71 244.92l0.33 2.98M597.77 244.63l2.98 0.38M477.61 250.16l-0.92 -2.86M481.87 250.43l-0.93 -2.85M485.11 250.65l-1.13 -2.78M490.12 249.66l-1.01 -2.82M493.19 250.76l-0.5 -2.96M497.66 249.73l-1.21 -2.74M549.15 246.54l0.1 3M551.89 247.95l0.05 3M556.16 247.41l0.12 3M559.43 246.9l-0.18 2.99M563.37 247.15l-0.15 3M566.44 246.53l-0.18 2.99M571.05 247.15l-0.93 2.85M573.45 246.66l0.34 2.98M577.35 248.08l-0.12 3M580.17 248.22l2.24 1.99M585.25 246.8l-1.72 2.46M588.19 247.07l0.43 2.97M592.04 247.71l1.6 2.54M596.59 248l-0.64 2.93M599.06 247.04l1.55 2.57M478.44 253.36l-1.04 -2.81M482.05 254.07l-1.49 -2.61M485.64 253.6l-2.07 -2.17M490.1 252.8l-1.51 -2.59M493.03 253.75l-2.13 -2.11M497.65 253.67l-1.36 -2.67M523.26 252.59l-2.79 -1.1M526.85 251.91l-2.95 -0.57M552.06 251.07l-0.91 2.86M557.2 250.25l-1.28 2.71M558.94 251.7l-0.75 2.91M563.73 251.1l-1.32 2.69M567.39 252.07l-1.72 2.46M572.21 250.86l-1.42 2.64M575.57 251.72l-1.66 2.5M578.5 251.5l-1.26 2.72M581.12 250.73l-1.04 2.82M584.75 251.71l2.08 2.16M590.28 251.99l-2.99 0.26M595.02 251.43l-2.82 1.02M594.47 251.52l2.29 1.94M598.77 251.2l2 2.24M478.33 256.26l-2.63 -1.44M482.29 256.44l-2.47 -1.71M486.44 256.2l-2.3 -1.92M490.23 256.45l-2.45 -1.73M494.91 257.18l-2.8 -1.08M498.62 256.57l-2.76 -1.17M521.07 256.51l-2.95 -0.56M524.07 256.18l-3 -0.09M526.61 256.29l-2.94 -0.59M553 254.28l-2.07 2.17M555.89 254.42l-1.89 2.33M559.77 255.83l-2.29 1.93M563.47 255.57l-1.76 2.43M568.27 255.81l-2.11 2.13M571.56 255.72l-2.41 1.79M575.61 256.02l-2.5 1.66M579.31 254.58l-2.07 2.17M580.81 255.13l2.84 0.96M584.34 255.21l1.9 2.32M587.43 255.64l2.97 0.43M591.86 254.77l1.3 2.7M595.05 256.04l2.41 1.79M598.53 254.77l1.22 2.74M480.06 259.24l-2.99 -0.25M482.4 259.12l-2.99 0.24M487.3 260.36l-2.99 -0.17M491 260.65l-2.91 -0.72M495.22 259.73l-2.96 -0.46M497.68 259.75l-2.99 -0.18M552.8 258.04l-2.77 1.15M557.25 257.55l-2.15 2.1M560.81 259.08l-2.22 2.02M565.31 259.47l-2.59 1.51M568.03 259.52l-2.9 0.77M571.47 259.57l-2.91 0.71M576.24 258.16l-2.53 1.61M579.44 259.75l-2.82 1.02M580.42 257.91l2.72 1.27M583.56 257.92l2.21 2.03M588.84 257.52l-1.68 2.49M594.38 258.13l-2.64 1.42M595.62 258.97l0.5 2.96M600.76 259.21l-1.76 2.43M479.78 261.76l-2.88 0.84M483.5 262.15l-3 -0.14M486.78 262.56l-3 -0.13M490.33 262.73l-3 0.07M493.64 262.94l-2.99 0.27M497.14 262.53l-2.97 0.42M501.07 264.18l-2.97 -0.41M549.67 263.77l-3 -0.13M552.69 262l-2.95 0.54M557.02 262.74l-2.92 0.67M560.81 263.44l-3 0.03M563.63 263.55l-2.99 -0.22M567.94 263.79l-3 0.01M571.04 261.66l-2.88 0.83M575.35 262.28l-2.98 0.33M580.04 262.99l-2.99 -0.2M582.63 262.78l-3 -0.15M587.35 262.73l-2.76 1.18M589.07 261.85l1.35 2.68M592.02 260.69l0.61 2.94M597.2 262.08l-1.38 2.66M598.61 263.13l2.93 0.64M479.4 265.65l-2.68 1.34M483.43 265.38l-2.82 1.01M487.39 265.55l-2.62 1.46M490.62 266.24l-2.76 1.18M493.83 266.38l-2.79 1.11M497.71 265.81l-2.8 1.08M501.82 266.13l-3 0.11M505.92 266.91l-2.97 0.44M545.93 265.48l-3 0.16M549.35 266.3l-2.99 0.21M552.91 266.3l-3 0.07M557.18 265.91l-3 0.04M561.42 267.75l-2.9 -0.76M563.94 266.98l-2.93 -0.64M567.4 268.08l-2.38 -1.83M572.53 267.16l-2.52 -1.63M575.57 268l-2.19 -2.06M579.17 268.55l-1.83 -2.38M581.87 268.26l-1.88 -2.34M586.4 267.72l-2.49 -1.67M589.24 265.36l1.14 2.77M593.45 264.5l-0.44 2.97M594.97 265.97l1.44 2.63M598.83 265.5l1.54 2.58M478.06 267.82l-1.51 2.59M483.03 268.67l-1.72 2.45M485.98 268.5l-1.93 2.29M490.7 269.06l-2.48 1.69M493.18 269.6l-2.09 2.16M497.11 268.56l-2.21 2.03M502.03 268.89l-2.92 0.68M504.49 268.92l-2.96 0.51M546.23 271.04l-2.73 -1.25M548.5 272.1l-2.01 -2.23M553.33 271.39l-2.49 -1.68M556.62 270.5l-2.47 -1.7M560.79 271.84l-1.78 -2.42M563.94 270.08l-2.56 -1.56M567.87 271.4l-1.99 -2.25M572.05 270.37l-1.84 -2.37M575.9 272.03l-1.49 -2.6M579.33 271.01l-1.8 -2.4M582.71 270.84l-1.54 -2.57M585.11 268.56l1.71 2.47M588.81 269.36l-0.57 2.95M594.61 270.73l-2.99 0.28M596.42 268.5l1.92 2.31M599.9 268.81l-0.68 2.92M476.71 272.99l1.54 2.58M481.21 272.5l0.99 2.83M484.79 271.66l0.36 2.98M487.21 273.07l1.79 2.41M492.34 271.76l0.92 2.85M496.31 271.03l0.36 2.98M500.1 271.95l1.3 2.7M502.04 272.66l2.34 1.87M505.96 272.64l2.32 1.9M545.16 274.64l-0.42 -2.97M547.51 275.54l1.57 -2.55M552.2 274.14l-0.09 -3M555.3 274.46l-0.42 -2.97M559.36 274.91l0.3 -2.99M562.08 274.32l0.52 -2.96M566.1 275.85l0.9 -2.86M570.93 274.37l0.06 -3M574.28 274.83l0.38 -2.98M576.78 275.56l0.86 -2.87M581.91 275.13l0.27 -2.99M583.05 272.05l2.52 1.63M590.12 273.54l-2.9 0.78M592.2 272.18l0.66 2.93M597.17 272.82l-2.91 0.72M598.54 271.7l2.1 2.14M475.97 276.88l2.61 1.48M479.46 277.32l2.69 1.33M484.56 275.24l2.57 1.55M487.27 274.93l2.07 2.17M490.7 277.29l2.83 0.98M495 275.61l2.79 1.1M498.23 276.89l2.75 1.19M502.86 276.15l2.93 0.66M506.49 275.9l2.81 1.06M510.29 276.8l2.87 0.88M525.14 277.73l3 -0.04M540.43 277.67l2.62 -1.46M543.24 277.05l2.77 -1.16M547.89 278.21l2.75 -1.19M550.92 277.54l2.45 -1.73M553.63 278.37l2.43 -1.76M558.19 278.68l2.08 -2.16M561.72 277.59l1.56 -2.56M566.91 278.09l1.74 -2.44M569.78 278.29l2 -2.24M572.61 279.03l1.79 -2.41M576.8 277.68l1.5 -2.6M580.1 278.8l1.54 -2.58M585.12 278.31l1.27 -2.72M587.56 275.85l2.74 1.22M590.49 275.92l2.93 0.66M597.99 276.47l-2.97 0.44M602.09 275.74l-2.9 0.78" stroke="#222" stroke-width="0.55" opacity="0.7" fill="none"/>
<path d="M537.07 179.68l-0.81 -2.89M540.3 180.5l0.14 -3M547.54 178.94l2.97 -0.43M550.34 179.33l2.98 0.36M556.98 180.37l-1.32 -2.7M559.6 180.49l-0.78 -2.9M563.11 180.33l1.02 -2.82M566.2 179.45l2.63 -1.45M569.66 179.11l2.99 -0.19M572.91 179.18l2.96 0.47M535.62 184.03l-2.31 -1.91M538.38 183.89l-2.15 -2.09M547.09 181.26l2.96 0.5M550.84 182.31l2.63 1.44M555.91 183l-2.1 -2.14M560.54 183.15l-1.71 -2.46M568.62 182.13l2.81 1.06M572.5 182.6l2.57 1.54M534.96 185.78l-2.66 -1.38M538.09 186.99l-2.93 -0.63M550.94 184.43l2.13 2.12M556.39 185.85l-2.67 -1.37M561.54 185.93l-2.89 -0.81M570.56 185.64l1.51 2.59M573.28 184.1l2.25 1.99M538.82 190.09l-2.93 0.66M542.9 189.35l-2.25 1.99M544.6 188.31l-1.49 2.6M548.78 188.09l0.55 2.95M550.84 188.06l1.06 2.81M557.77 189.71l-3 -0.03M561.3 189.35l-2.9 0.76M563.48 188.2l-2.68 1.34M566.6 187.72l-1.13 2.78M571.15 188.96l0.55 2.95M572.95 187.19l1.4 2.65M529.93 194.36l1.29 -2.71M531.63 193.96l1.8 -2.4M538.14 192.15l-2.85 0.93M541.29 193.08l-2.38 1.83M545.39 192.39l-1.35 2.68M548.41 191.85l-0.38 2.98M560.66 191.78l-2.78 1.12M564.06 191.7l-2.18 2.06M567.29 192.5l-1.24 2.73M571.06 195.42l0.55 -2.95M573.33 195.19l1.35 -2.68M577.22 193.45l2.36 -1.85M526.75 198.65l-0.59 -2.94M530.11 197.33l1.15 -2.77M532.11 196.8l2.04 -2.2M535.09 196.57l2.77 -1.15M567.83 198.57l-1.06 -2.81M570.19 197.43l-0.13 -3M572.8 197.82l0.88 -2.87M576.57 197.67l2.57 -1.55M580.22 197.01l2.97 -0.41M523.64 200.45l-1.73 -2.45M526.28 201.06l-1.58 -2.55M536 199.3l3 0.14M540.01 200.33l2.75 1.2M567 200.87l-1.82 -2.39M579.23 199.61l2.98 0.34M583.71 200.15l2.76 1.18M524.59 204.91l-2.74 -1.23M528.11 204.44l-2.78 -1.13M539.14 202.49l2.31 1.91M568.17 204.5l-2.68 -1.35M580.53 202.05l2.41 1.79M584.53 202.27l2.4 1.8M528.52 206.55l-2.99 0.18M531.55 206.73l-2.43 1.75M536.91 205.01l1.07 2.8M539.91 206.11l1.33 2.69M568.7 207l-2.98 -0.37M571.8 206.99l-2.97 0.44M577.63 206.26l-0.59 2.94M580.41 204.77l1.28 2.71M584.6 204.91l1.82 2.38M528.09 209.48l-2.84 0.97M531.36 209.57l-2.21 2.02M534.69 208.61l-0.94 2.85M536.63 209.76l-0.39 2.97M541.19 211.78l1.32 -2.69M546.56 212.26l2.57 -1.55M562.95 211.63l1.67 -2.49M566.1 212.01l2.4 -1.81M571.79 210.48l-2.69 1.33M575.82 209.38l-1.78 2.42M578.46 210.02l-0.85 2.88M580.75 208.75l0.12 3M537.52 215.85l-0.37 -2.98M539.63 214.83l0.54 -2.95M543.62 215.62l2.13 -2.11M546.99 214.46l2.8 -1.09M556.48 216.31l-0.87 -2.87M559.05 214.88l0.16 -3M562.11 215.11l1.3 -2.7M566.31 214.17l2.59 -1.51M568.7 213.69l2.86 -0.91M574.42 212.27l-2.09 2.16M534.47 219.3l-1.86 -2.36M537.78 219.18l-1.39 -2.66M546.32 217.04l2.95 -0.57M551.27 217.15l2.93 0.66M557.21 219.69l-1.76 -2.43M559.39 219.63l-1.33 -2.69M568.63 217.84l2.97 0.39M535.66 221.66l-2.39 -1.82M538.28 222.16l-2.51 -1.64M549.93 219.44l2.69 1.34M556.49 221.92l-2.45 -1.74M559.99 222.28l-2.57 -1.54M569.15 219.73l2.66 1.39M572.25 220.97l2.34 1.87M535.76 225.16l-2.93 -0.66M538.28 224.24l-2.94 -0.61M547.31 223.27l0.86 2.87M550.31 222.5l1.85 2.36M556.37 224.29l-2.85 -0.93M561.51 224.54l-2.97 0.42M569.73 223.66l1.27 2.72M573.1 223.68l1.74 2.44M538.55 227.94l-2.91 0.73M542.3 226.57l-2.45 1.73M545.6 227.31l-1.13 2.78M548.65 226.03l0.32 2.98M557.26 227.78l-2.99 0.27M560.89 227.17l-2.79 1.1M564.8 227.51l-1.67 2.49M567.84 226.55l-0.28 2.99M569.32 225.61l0.5 2.96M510.85 233.97l-0.18 -2.99M514.97 232.7l1.34 -2.69M518.38 231.66l2.28 -1.95M521.56 232.62l2.83 -0.99M528.54 233.62l0.6 -2.94M532.52 231.89l1.99 -2.24M536.05 233.01l2.76 -1.16M542.46 230.94l-2.12 2.13M545.94 230.13l-1.21 2.75M547.66 229.98l-0.7 2.92M563.54 229.71l-2.03 2.21M566.98 229.46l-1 2.83M508.99 237.28l-1.43 -2.64M511.35 235.64l-0.44 -2.97M515.31 236.31l1.23 -2.74M517.75 235.63l2.44 -1.74M519.97 235.86l2.93 -0.66M525.76 236.67l-1 -2.83M529.68 236.58l0.54 -2.95M532.38 235.19l2.11 -2.14M535.07 235.85l2.9 -0.78M539.41 234.52l3 0M509.11 239.02l-1.91 -2.32M512.74 240.01l-1.87 -2.34M520.37 238.72l2.8 1.09M527.09 240.48l-2.2 -2.04M536.11 238.67l2.79 1.11M540.47 238.01l2.75 1.21M509.39 242.64l-2.74 -1.22M512.79 242.06l-2.75 -1.19M521.83 240.22l2.22 2.01M527.02 241.84l-2.65 -1.41M536.16 240.63l1.91 2.31M538.83 240.46l2.22 2.02M506.97 245.98l1.43 -2.64M513.3 245.47l-2.93 0.64M519.27 244.03l-0.65 2.93M522.32 244.68l0.53 2.95M528.01 244.94l-2.99 0.23M531.09 244.92l-2.59 1.51M536.57 243.63l0.49 2.96M539 247.57l1.82 -2.39M500.1 250.88l-1.41 -2.65M503.36 250.17l-0.52 -2.95M506.56 250.52l0.85 -2.88M510.34 249.69l2.68 -1.35M512.77 248.89l2.93 -0.63M519.13 247.75l-1.21 2.74M523.07 246.58l0.26 2.99M527.28 248.13l-2.86 0.9M530.89 248.47l-2.31 1.92M534.17 250.74l-0.71 -2.92M536.21 250.72l0.13 -3M543.83 249.79l2.99 -0.25M500.72 253.97l-2.18 -2.07M514.29 251.58l2.89 0.79M517.62 251.34l2.81 1.06M531 254.11l-2.23 -2.01M535 254.3l-2.06 -2.18M546.1 252.48l2.71 1.28M502.15 256.86l-2.81 -1.06M504.9 256.67l-2.9 -0.76M513.23 254.82l1.91 2.31M530.61 257.41l-2.8 -1.07M534.95 257.16l-2.93 -0.64M544.02 254.57l2.03 2.21M547.36 254.29l2.31 1.92M501.98 259.85l-3 -0.05M504.93 258.89l-2.98 0.38M511.4 257.32l-0.21 2.99M515.05 257.57l1.14 2.78M517.83 260.16l2.24 -2M521.68 259.99l2.86 -0.91M526.96 260.52l0.13 -3M528.97 260.12l0.83 -2.88M534.93 258.61l-3 0.02M541.16 258.87l-1.23 2.74M543.79 258.58l0.17 3M548.17 258.83l1.2 2.75M504.88 263.29l-2.66 1.38M508.93 261.58l-1.9 2.32M512.03 264.1l-0.65 -2.93M517.83 262.96l2.5 -1.65M520.25 263.2l2.96 -0.46M526.32 263.55l-0.8 -2.89M530.03 263.98l0.68 -2.92M531.68 263.69l1.84 -2.37M535.19 262.57l2.87 -0.86M540.92 261.12l-1.48 2.61M544.76 261.21l-0.12 3M509.63 266.87l-2.08 -2.16M512.01 267.39l-2.1 -2.14M521.71 265.93l2.7 1.31M526.51 267.03l-2.03 -2.21M536.13 265.18l2.91 0.73M539.86 265.45l2.71 1.29M509.17 270.82l-2.87 -0.87M513.04 270.18l-2.95 -0.52M521.93 268.81l1.58 2.55M528.43 269.6l-2.87 -0.88M536.33 268.23l1.65 2.5M540.36 268.7l1.97 2.26M512.82 272.74l-2.95 0.54M515.55 272.83l-2.53 1.62M519.44 271.22l-0.57 2.95M521.45 272.42l0.06 3M527.85 273.35l-2.94 0.61M531.42 271.98l-2.49 1.67M534.06 271.7l-1.14 2.77M536.78 271.67l0.24 2.99M540.52 272.74l0.93 2.85M515.18 276.87l-2.29 1.93M519.5 275.85l-1.15 2.77M521.91 275.34l-0.37 2.98M531.15 276.33l-2.2 2.04M535.03 275.67l-1.1 2.79M537.41 275.01l-0.29 2.99" stroke="#111" stroke-width="0.6" opacity="0.8" fill="none"/>
<path d="M546.38 183.58L549.82 185.28M546.24 184.88L548.27 188.27M546.27 184.78L548.16 187.48M545.67 185.87L546.53 189.9M545.69 185.84L546.65 188.67M544.54 186.68L543.66 189.74M544.11 186.81L542.29 190.28M543.5 186.9L540.55 190.76M543.48 186.9L541.36 189.96M542.64 186.8L540.46 189.34M541.94 186.52L538.25 187.91M541.69 186.37L538 188.33M540.8 185.39L537.93 184.65M540.69 185.18L537.25 184.64M540.46 184.49L537.18 183.46M540.43 184.32L537.11 182.73M540.42 183.56L536.26 181.71M540.54 182.99L538.98 179.93M540.93 182.19L540.15 179.3M541.54 181.55L541.89 177.68M542.15 181.17L541.77 176.74M542.73 180.98L542.96 176.91M542.7 180.98L543.54 177.57M543.3 180.9L546.05 177.1M544.01 180.96L547.63 178.12M544.97 181.34L547.53 180M545.46 181.72L548.63 181.16M545.93 182.29L550.28 182.95M546.22 182.87L550.39 183.34M546.23 182.91L549.57 183.23M567.9 183.87L570.1 186.27M567.89 184.14L571.85 186.67M567.65 185.1L569.56 187.16M567.07 185.97L567.68 189.28M566.69 186.3L567.8 190.24M566.68 186.32L566.94 190.19M565.88 186.73L565.44 190.75M565.17 186.89L563.21 189.48M564.27 186.83L562.18 190.61M564.27 186.83L562.49 188.93M563.6 186.6L559.98 187.92M563.06 186.27L559.46 188.06M562.27 185.34L558.85 184.5M562.2 185.21L557.7 185.78M562.06 184.87L558.48 183.93M561.9 184.03L558.63 182.06M561.94 183.42L558.49 180.03M562.05 182.96L560 179.87M562.43 182.19L561.74 179.11M562.65 181.92L561.77 178.69M563.05 181.54L562.16 178.27M563.77 181.12L564.03 177.72M564.58 180.92L566.87 177.66M565.6 180.98L568.79 177.84M566.16 181.18L569.45 179.03M566.06 181.13L567.96 179.11M567.13 181.89L571.01 181.96M567.32 182.13L570.74 180.92M567.59 182.58L570.46 183.5M567.74 182.93L571.7 183.65M535.1 202.6L538.58 203.83M534.96 203.62L536.5 206.19M534.89 203.81L538.19 207.06M534.41 204.62L535.96 207.96M534.26 204.78L535.45 207.34M533.26 205.47L531.9 209.82M532.8 205.62L530.82 208.73M532.51 205.67L530.25 208.95M531.83 205.69L529.89 208.28M531.09 205.52L528.63 207.41M530.5 205.24L526.57 207.7M529.83 204.66L526.71 204.43M529.88 204.71L525.71 205.38M529.23 203.56L524.88 202.41M529.13 203.1L526.13 201.9M529.1 202.56L526.42 200.13M529.24 201.79L527.16 199.5M529.38 201.44L527.37 197.36M529.61 201.02L526.88 197.56M529.97 200.59L529.46 197.11M530.24 200.34L528.9 196.24M531.32 199.8L532.9 195.64M531.53 199.76L532.89 195.63M532.42 199.72L533.94 197.46M533.32 199.96L536.38 196.89M533.97 200.35L537.67 199.61M533.99 200.37L537.37 198.55M534.42 200.8L537.92 199.48M534.74 201.27L537.49 201M534.98 201.87L539.21 202.52M578.19 202.4L582.24 205.11M578.19 202.97L581.16 205.25M577.76 204.27L580.15 207.42M577.69 204.38L580.48 207.68M577.43 204.7L578.46 209.16M576.94 205.15L577.21 208.03M576.47 205.42L576.59 209.92M575.28 205.7L573.97 209.26M575.2 205.7L572.76 209.72M574.7 205.66L572.8 208.26M573.8 205.35L571.1 206.53M573.34 205.05L569.49 205.94M573.02 204.76L569.06 205.31M572.6 204.19L568.84 204.56M572.21 202.88L568.97 201.23M572.21 202.47L568.98 201.03M572.31 201.91L570.64 198.91M572.52 201.36L570.16 198.53M572.91 200.76L571.74 197.24M572.9 200.78L572.83 197.52M573.95 199.97L574.36 196.81M574.42 199.8L575.17 197.07M575.18 199.7L576.8 196.13M575.55 199.72L577.36 197.56M575.97 199.8L579.01 198.25M576.58 200.03L580.17 198.65M577.1 200.38L581.29 199.4M577.61 200.92L580.47 200.97M578.05 201.75L581.69 201.64M578.13 202.04L582.31 202.66M546.37 220.76L550.82 222.29M546.26 222.12L548.74 225.87M546.06 222.59L547.71 226.21M545.56 223.28L546.13 227.05M545.21 223.59L545.71 227.25M545.17 223.62L544.99 227.24M544.59 223.96L543.19 227.34M543.82 224.17L542.15 227.34M542.71 224.12L539.84 227.74M542.73 224.12L540 227.75M541.75 223.71L538.83 225.29M541.32 223.36L538.49 223.92M540.95 222.92L537.53 223.29M540.54 222.09L536.23 221.79M540.53 222.08L536.81 220.92M540.41 220.97L537.49 219.53M540.45 220.66L538.37 217.57M540.75 219.8L538.49 216.98M541.11 219.26L539.77 214.67M541.58 218.81L540.05 214.85M542.13 218.48L541.77 214.03M542.28 218.42L542.26 214.5M542.72 218.28L543.57 214.55M543.76 218.22L546.8 214.91M544.64 218.47L546.68 216.62M544.93 218.62L548.75 217.38M545.09 218.72L548.81 216.54M545.71 219.29L549.89 217.76M546.13 219.95L548.84 220.13M546.34 220.61L549.15 221.79M566.9 221.13L569.55 222.74M566.85 221.77L569.17 224.5M566.77 222.07L568.91 225.7M566.45 222.78L567.56 226.19M565.91 223.43L566.57 226.55M565.75 223.56L566.51 227.42M564.67 224.1L564.49 227.41M564.41 224.16L563.25 227.4M563.34 224.15L561.24 226.94M562.78 223.98L559.72 226.64M562.39 223.79L559.4 225.42M561.61 223.13L558.58 223.18M561.41 222.87L558.34 223.37M561.2 222.51L557.89 221.51M560.91 221.42L557.91 219.69M560.91 221.02L556.9 218.82M561.09 220.15L558.19 216.79M561.06 220.24L558.8 217.14M561.65 219.21L561.14 216.16M561.73 219.12L561.21 214.46M562.34 218.64L562.15 214.37M562.86 218.39L564.4 213.75M564.02 218.2L565.4 215.4M563.84 218.2L566.06 215.83M564.9 218.37L567.22 215.32M565.14 218.47L568.18 216.69M566.04 219.1L569.83 217.31M566.52 219.74L570.67 220.05M566.66 220.03L569.47 220.77M566.82 220.51L569.83 221.27M519.9 240.46L523.13 242.5M519.86 240.86L522.94 244.44M519.74 241.35L521.45 244.58M519.47 241.95L520.13 245.21M518.9 242.63L518.76 245.62M518.75 242.76L518.5 246.48M517.68 243.3L516.29 247.09M517.39 243.36L516.49 247.86M516.94 243.4L514.79 246.1M516.03 243.27L512.88 246.44M515.8 243.19L512.64 245.9M514.59 242.31L511.11 242.16M514.67 242.41L510.71 243.29M514.25 241.8L511.12 240.9M513.96 241.02L509.56 239.42M513.92 240.03L511.51 238.65M514.02 239.56L512.47 236.68M514.01 239.58L510.24 237.1M514.62 238.45L513.92 235.02M515.17 237.95L515.01 233.47M515.04 238.04L514.82 235.04M516.16 237.49L517.93 233.09M516.56 237.42L518.17 233.32M517.46 237.45L520.33 234.87M517.9 237.57L519.89 235.71M518.57 237.91L520.86 236.22M518.72 238.01L522.22 235.33M519.26 238.55L523.16 238.37M519.47 238.86L522.71 239.75M519.85 239.87L522.42 241.83M535.28 240.08L538.34 241.48M535.21 241.12L538.67 243.86M535.18 241.25L538.69 243.62M534.5 242.44L535.75 245.84M534 242.87L534.74 246.6M533.74 243.03L532.83 246.86M533.59 243.11L533.75 246.32M532.29 243.4L529.71 245.77M532.27 243.4L530.08 245.7M531.2 243.19L528.26 244.49M530.78 242.99L526.7 244.72M530.52 242.81L527.86 244.41M529.67 241.85L526.87 241.54M529.47 241.4L526.12 240.86M529.31 240.66L526.7 238.27M529.32 240.04L526.28 237.16M529.33 240L526 237.78M529.62 239.05L526.65 235.94M529.92 238.58L528.52 234.28M530.58 237.94L530.6 235M530.56 237.95L531.2 235.01M531.06 237.67L531.51 234.76M531.56 237.49L533.45 234.69M532.23 237.4L533.51 234.91M532.84 237.45L535.44 233.79M533.72 237.76L537.28 235.02M534.15 238.04L537.26 236.28M534.64 238.52L538.1 237.62M535.08 239.28L538.93 240.61M535.24 239.82L538.36 240.97M511.7 254.45L514.48 255.38M511.62 255.08L514.35 258.84M511.33 255.84L514.32 259.14M511.11 256.19L512.29 260.68M510.43 256.85L511.37 260.71M510.17 257.01L509.71 260.71M509.46 257.3L509.33 261.58M509.06 257.38L508.13 260.62M508.35 257.38L505.93 260.66M508.15 257.35L505.31 259.81M507.58 257.18L505.3 259.47M506.64 256.58L502.4 257.18M506.18 256.03L502.91 255.81M506 255.71L501.75 255.62M505.73 254.83L501.97 252.68M505.72 254.73L502.98 252.86M505.74 253.92L503.46 251.47M505.87 253.41L503.11 250.94M506.51 252.35L505.14 249.29M506.76 252.12L505.8 249.39M507.25 251.77L507.51 247.06M507.73 251.56L507.8 247.07M508.55 251.4L509.64 247.22M508.77 251.4L510.04 248.98M509.99 251.69L513.45 249.38M510.18 251.79L513.8 249.8M510.5 252L514.62 251.19M511.09 252.58L514.38 252.45M511.24 252.8L514.86 252.45M511.62 253.71L514.69 255.36M542.49 254.21L546.43 255.24M542.49 254.65L545.71 256.3M542.14 255.83L544.04 259.11M542.11 255.88L544.64 259.23M541.76 256.37L542.22 260.49M540.74 257.13L539.6 260.69M540.23 257.31L539.87 260.72M539.42 257.4L537.62 260.38M538.82 257.32L535.95 258.82M538.63 257.27L536.21 259.58M538.22 257.11L535.9 259.58M537.66 256.77L534.6 257.75M537.16 256.28L533.26 256.67M536.63 255.28L532.57 254.03M536.55 254.95L532.6 253.86M536.5 254.27L533.11 251.46M536.55 253.87L534.25 250.98M536.74 253.22L534.76 250.59M537.26 252.4L536.11 248.39M537.24 252.43L537.32 249.31M538.37 251.62L538.58 247.9M538.98 251.44L540.67 247.73M539.44 251.4L541.77 247.84M539.64 251.4L542.27 249.2M540.66 251.63L544.68 249.53M540.91 251.75L543.54 249.59M541.61 252.27L545.8 250.71M541.94 252.66L545 252.4M542.17 253.03L545.65 254.17M542.39 253.6L546.57 253.6M519.89 267.26L523.38 268.96M519.76 268.42L522.04 270.83M519.76 268.39L522.24 270.5M519.46 269.07L521.4 273.47M519.1 269.54L519.72 273.78M518.44 270.07L517.83 273.65M517.65 270.4L516.37 273.01M516.9 270.5L515.42 274.21M516.24 270.43L514.61 273.21M515.79 270.29L512.24 272.05M515.25 270.01L512.52 272.28M514.87 269.71L511.89 270.86M514.52 269.33L510.24 269.83M514.31 269.01L510.48 268.83M513.91 267.79L510.59 266.93M513.92 267.82L510.08 265.79M514.01 266.68L510.57 264.06M514.28 266.03L511.6 262.88M514.5 265.7L513.2 262.66M514.95 265.22L515.06 261.55M515.1 265.1L513.52 261.06M516.11 264.61L516.35 261.06M516.29 264.56L516.79 261.63M517.15 264.51L518.68 260.52M517.5 264.56L521.13 261.38M518.21 264.8L521.1 263.13M518.57 265.01L521.93 263.02M519.31 265.71L522.98 266.03M519.73 266.51L523.2 267.95M519.86 267.03L523.68 267.69M535.3 267.34L539.61 268.78M535.25 268.06L537.87 270.67M534.89 269.02L536.79 271.76M534.93 268.95L537.36 272.44M534.41 269.63L535.29 272.81M533.53 270.23L533.77 273.9M532.93 270.43L531.01 273.63M532.18 270.5L529.14 273.69M531.7 270.44L529.76 274.05M531.15 270.27L526.77 272.42M530.43 269.85L527.54 271.75M530.32 269.75L526.59 270.99M529.74 269.06L525.33 269.84M529.56 268.72L526.46 267.38M529.4 268.25L526.1 267.61M529.3 267.62L526.27 266.26M529.46 266.53L527.26 263.72M529.73 265.95L527.29 263.02M529.66 266.08L527.67 263.65M530.6 265.03L531.01 262.05M531.18 264.72L531.23 261.45M531.44 264.63L532.89 261.81M531.94 264.52L534.1 261.29M532.65 264.52L535.02 261.45M532.99 264.58L536.39 262.21M533.59 264.79L536.24 262.92M534.19 265.17L537.36 262.96M534.59 265.57L537.25 264.55M535.12 266.48L539.08 267.42M535.2 266.74L538.07 268.49" stroke="#0a0a0a" stroke-width="0.6" opacity="0.85" fill="none"/>
<g filter="url(#blur2)">
<circle cx="543.4" cy="183.9" r="5.0" fill="#000" opacity="0.5"/>
<circle cx="564.9" cy="183.9" r="5.0" fill="#000" opacity="0.5"/>
<circle cx="532.1" cy="202.7" r="5.0" fill="#000" opacity="0.5"/>
<circle cx="575.2" cy="202.7" r="5.0" fill="#000" opacity="0.5"/>
<circle cx="543.4" cy="221.2" r="5.0" fill="#000" opacity="0.5"/>
<circle cx="563.9" cy="221.2" r="5.0" fill="#000" opacity="0.5"/>
<circle cx="516.9" cy="240.4" r="5.0" fill="#000" opacity="0.5"/>
<circle cx="532.3" cy="240.4" r="5.0" fill="#000" opacity="0.5"/>
<circle cx="508.7" cy="254.4" r="5.0" fill="#000" opacity="0.5"/>
<circle cx="539.5" cy="254.4" r="5.0" fill="#000" opacity="0.5"/>
<circle cx="516.9" cy="267.5" r="5.0" fill="#000" opacity="0.5"/>
<circle cx="532.3" cy="267.5" r="5.0" fill="#000" opacity="0.5"/>
</g>
<path d="M545.3 184.02L547.6 185.26M545.12 184.7L547.2 187.01M544.78 185.2L546 188M544.02 185.7L543.84 189.18M543.55 185.79L542.67 188.19M542.51 185.58L540.11 187.5M542.05 185.24L539.48 186.2M541.65 184.63L538.66 184.58M541.5 183.97L538.66 182.88M541.71 183.04L540.13 181.02M542.19 182.44L541.34 179.54M542.58 182.19L542.55 179.67M543.29 182L544.27 179.44M544.18 182.17L546.52 179.98M544.69 182.5L547.42 181.3M545.17 183.2L548.03 183.31M566.8 184.02L569.87 185.51M566.7 184.52L569.12 186.68M566.36 185.11L567.61 187.63M565.46 185.71L565.16 189.02M564.81 185.8L563.35 188.93M564.24 185.68L561.99 188.1M563.47 185.15L560.65 186.05M563.13 184.59L560.58 184.44M563 183.82L560.65 182.63M563.11 183.27L560.91 181.23M563.49 182.63L562.16 179.77M564.08 182.19L563.89 178.86M564.92 182L566.1 179.36M565.48 182.09L567.45 179.81M566.11 182.44L568.74 181.12M566.66 183.18L569.76 183.23M534 202.75L537.19 204.13M533.78 203.59L535.85 206.12M533.51 203.98L534.58 206.47M532.91 204.42L532.98 207.28M532.1 204.6L530.82 207.69M531.35 204.45L529.43 206.18M530.69 203.98L527.43 205.17M530.37 203.49L527.05 203.62M530.2 202.61L527.43 201.28M530.39 201.87L528.7 199.82M530.78 201.33L529.63 198.37M531.3 200.98L531.17 197.77M532.23 200.8L533.68 197.89M532.97 201.01L535.26 199.14M533.53 201.45L536.63 200.42M533.85 201.96L537.32 201.92M577.1 202.79L580.17 204.23M576.99 203.33L578.81 205.12M576.55 204.03L577.54 206.57M575.86 204.48L575.67 207.18M575.2 204.6L574.05 207.23M574.61 204.51L572.88 206.36M573.75 203.93L570.64 204.91M573.49 203.52L570.45 203.65M573.31 202.89L570.75 202.03M573.52 201.82L571.51 199.38M573.87 201.34L572.73 198.43M574.44 200.96L574.47 198.24M575.27 200.8L576.68 197.71M575.85 200.91L577.85 198.8M576.47 201.29L579.03 200.15M577.01 202.11L579.7 202.41M545.3 221.07L548.56 222.13M545.2 221.82L547.63 223.98M544.75 222.53L545.69 225M543.99 223.01L543.71 225.89M543.58 223.09L542.64 226.04M542.52 222.89L540.02 224.98M542.07 222.55L539.01 223.85M541.59 221.77L538.34 221.49M541.5 221.26L538.54 220.12M541.68 220.4L539.9 218.36M542.11 219.8L540.94 216.65M542.77 219.41L542.97 216.27M543.35 219.3L544.48 216.49M544.2 219.48L546.56 217.33M544.77 219.88L547.66 218.79M545.14 220.44L548.39 220.38M565.8 221.08L569.04 222.16M565.58 222.08L567.24 224.2M565.28 222.51L566.5 225.32M564.73 222.91L564.79 225.54M563.77 223.1L562.3 226.08M563.2 222.97L561.33 224.74M562.55 222.54L559.5 223.78M562.11 221.83L559.07 221.63M562.01 221.36L559.12 220.39M562.19 220.37L560.19 218.07M562.47 219.95L561.04 217.01M563.29 219.4L563.54 216.46M563.95 219.3L565.21 216.53M564.58 219.42L566.61 217.36M565.13 219.75L567.91 218.35M565.72 220.64L569.11 220.95M518.8 240.27L521.89 241.31M518.72 240.96L520.83 242.81M518.21 241.78L519.41 244.88M517.47 242.21L517.19 245.55M517.05 242.29L516.09 245.16M516.03 242.09L513.92 243.75M515.49 241.67L512.92 242.49M515.17 241.19L512.37 241.21M515.01 240.57L511.83 239.57M515.17 239.61L513.08 237.33M515.59 239.03L514.74 236.56M516.22 238.63L516.38 235.95M516.99 238.5L518.26 235.98M517.6 238.63L519.91 236.24M518.37 239.19L520.91 238.51M518.7 239.8L521.45 240.07M534.2 240.34L537.04 241.45M534.01 241.22L536.06 243.56M533.66 241.72L534.59 244.13M532.97 242.18L532.82 245.09M532.15 242.29L530.63 245.32M531.67 242.19L529.46 244.68M530.89 241.67L528.36 242.47M530.54 241.11L527.63 241.03M530.41 240.59L527.53 239.68M530.52 239.74L528.47 237.77M530.92 239.09L529.87 236.52M531.41 238.72L531.1 235.42M532.3 238.5L533.55 235.46M533.07 238.66L535.25 236.65M533.69 239.1L536.17 238.28M534.03 239.61L536.92 239.56M510.6 254.36L513.53 255.52M510.46 255.11L512.89 257.47M509.93 255.85L510.87 258.85M509.41 256.16L509.28 258.69M508.89 256.29L508.02 258.87M508 256.17L506.15 257.91M507.41 255.8L504.7 257.01M506.88 254.96L503.56 254.64M506.8 254.51L503.88 253.47M506.99 253.56L505.06 251.3M507.44 252.98L506.5 250.15M507.92 252.67L507.81 249.22M508.7 252.5L509.77 250.21M509.35 252.61L511.67 250.05M509.91 252.93L512.39 251.7M510.38 253.51L512.89 253.37M541.39 254.59L543.75 255.95M541.31 254.97L543.65 256.96M540.77 255.82L541.86 258.94M540.31 256.12L540.48 259.38M539.36 256.29L538.11 258.53M538.79 256.16L536.85 257.99M538.17 255.75L534.96 257.13M537.8 255.25L534.95 255.38M537.6 254.49L534.35 253.33M537.72 253.74L535.65 251.74M538.29 252.93L537.41 249.96M538.66 252.69L538.52 249.72M539.68 252.51L541.02 250.18M540.07 252.59L542.12 250.2M540.8 253.01L543.79 251.65M541.26 253.68L543.91 253.78M518.8 267.36L521.79 268.38M518.64 268.27L520.95 270.69M518.23 268.85L519.3 271.61M517.55 269.29L517.35 272.05M516.75 269.39L515.45 271.7M516.34 269.31L514.18 271.94M515.56 268.85L513.08 269.8M515.19 268.33L512.12 268.47M515.01 267.64L512.12 266.65M515.08 266.94L512.46 264.8M515.68 266.04L514.64 262.77M516.35 265.68L516.69 262.88M516.79 265.6L517.74 263.11M517.79 265.82L520.35 263.72M518.31 266.22L521.24 265.2M518.71 266.93L521.51 267.25M534.2 267.56L537.29 268.95M534.09 268.14L536.28 270.19M533.51 268.96L534.34 271.82M533.18 269.18L533.46 272.41M532.19 269.4L530.78 272.26M531.56 269.25L529.57 271.11M531.05 268.93L528.54 270.1M530.53 268.2L527.67 268.09M530.4 267.37L528.18 266.15M530.57 266.72L528.94 264.82M530.93 266.18L529.96 263.73M531.43 265.81L531.33 263.28M532.24 265.6L533.25 263.25M533.1 265.78L535.59 263.49M533.69 266.21L536.3 265.32M534.03 266.72L536.79 266.72" stroke="#050505" stroke-width="0.95" fill="none"/>
<circle cx="543.4" cy="183.9" r="1.9" fill="#ffffff"/>
<circle cx="564.9" cy="183.9" r="1.9" fill="#f4bcbc"/>
<circle cx="532.1" cy="202.7" r="1.9" fill="#b8bcf4"/>
<circle cx="575.2" cy="202.7" r="1.9" fill="#b8bcf4"/>
<circle cx="543.4" cy="221.2" r="1.9" fill="#f04848"/>
<circle cx="563.9" cy="221.2" r="1.9" fill="#ffffff"/>
<circle cx="516.9" cy="240.4" r="1.9" fill="#b8bcf4"/>
<circle cx="532.3" cy="240.4" r="1.9" fill="#b8bcf4"/>
<circle cx="508.7" cy="254.4" r="1.9" fill="#ffffff"/>
<circle cx="539.5" cy="254.4" r="1.9" fill="#b8bcf4"/>
<circle cx="516.9" cy="267.5" r="1.9" fill="#f4bcbc"/>
<circle cx="532.3" cy="267.5" r="1.9" fill="#f4bcbc"/>
</g>
<path d="M596.75 181.03l2.6 0.6M539.25 181.03l-2.6 -0.6M594.11 185.57l2.6 0.6M536.61 185.57l-2.6 -0.6M591.48 190.12l2.6 0.6M533.98 190.12l-2.6 -0.6M588.85 194.66l2.6 0.6M531.35 194.66l-2.6 -0.6M586.22 199.21l2.6 0.6M528.72 199.21l-2.6 -0.6M583.58 203.75l2.6 0.6M526.08 203.75l-2.6 -0.6M580.95 208.3l2.6 0.6M523.45 208.3l-2.6 -0.6M578.32 212.84l2.6 0.6M520.82 212.84l-2.6 -0.6M575.68 217.39l2.6 0.6M518.18 217.39l-2.6 -0.6M573.05 221.94l2.6 0.6M515.55 221.94l-2.6 -0.6M570.42 226.48l2.6 0.6M512.92 226.48l-2.6 -0.6M567.79 231.03l2.6 0.6M510.29 231.03l-2.6 -0.6M565.15 235.57l2.6 0.6M507.65 235.57l-2.6 -0.6M562.52 240.12l2.6 0.6M505.02 240.12l-2.6 -0.6M559.89 244.66l2.6 0.6M502.39 244.66l-2.6 -0.6M557.26 249.2l2.6 0.6M499.76 249.2l-2.6 -0.6M554.62 253.75l2.6 0.6M497.12 253.75l-2.6 -0.6M551.99 258.3l2.6 0.6M494.49 258.3l-2.6 -0.6M549.36 262.84l2.6 0.6M491.86 262.84l-2.6 -0.6M546.73 267.38l2.6 0.6M489.23 267.38l-2.6 -0.6M544.1 271.93l2.6 0.6M486.6 271.93l-2.6 -0.6M541.46 276.48l2.6 0.6M483.96 276.48l-2.6 -0.6" stroke="#333" stroke-width="0.5" fill="none" opacity="0.8"/>
<line x1="510.8" y1="228.5" x2="570.3" y2="228.5" stroke="#444" stroke-width="0.5"/>
<polygon points="540,178 599.5,178 541,279 481.5,279" fill="none" stroke="#555" stroke-width="0.6"/>
<polygon points="514.3,178.3 522.5,178.3 464.93,279.3 456.73,279.3" fill="#f4f4f4"/>
<path d="M519.87 183.18L518.7 183.86L517.53 183.18L517.53 181.83L518.7 181.16L519.87 181.83zM518.52 185.52L517.35 186.2L516.18 185.52L516.18 184.17L517.35 183.5L518.52 184.17zM515.82 185.52L514.65 186.2L513.48 185.52L513.48 184.17L514.65 183.5L515.82 184.17zM514.47 183.18L513.3 183.86L512.13 183.18L512.13 181.83L513.3 181.16L514.47 181.83zM515.82 180.85L514.65 181.52L513.48 180.85L513.48 179.5L514.65 178.82L515.82 179.5zM518.52 180.85L517.35 181.52L516.18 180.85L516.18 179.5L517.35 178.82L518.52 179.5zM515.07 191.6L513.9 192.28L512.73 191.6L512.73 190.25L513.9 189.58L515.07 190.25zM511.02 193.94L509.85 194.61L508.68 193.94L508.68 192.59L509.85 191.91L511.02 192.59zM509.67 191.6L508.5 192.28L507.33 191.6L507.33 190.25L508.5 189.58L509.67 190.25zM513.72 189.26L512.55 189.94L511.38 189.26L511.38 187.91L512.55 187.24L513.72 187.91zM510.28 200.02L509.11 200.69L507.94 200.02L507.94 198.67L509.11 197.99L510.28 198.67zM508.93 202.35L507.76 203.03L506.59 202.35L506.59 201L507.76 200.33L508.93 201zM506.23 202.35L505.06 203.03L503.89 202.35L503.89 201L505.06 200.33L506.23 201zM504.88 200.02L503.71 200.69L502.54 200.02L502.54 198.67L503.71 197.99L504.88 198.67zM505.48 208.43L504.31 209.11L503.14 208.43L503.14 207.08L504.31 206.41L505.48 207.08zM504.13 210.77L502.96 211.45L501.79 210.77L501.79 209.42L502.96 208.75L504.13 209.42zM501.43 206.1L500.26 206.77L499.09 206.1L499.09 204.75L500.26 204.07L501.43 204.75zM504.13 206.1L502.96 206.77L501.79 206.1L501.79 204.75L502.96 204.07L504.13 204.75zM496.63 219.19L495.46 219.86L494.29 219.19L494.29 217.84L495.46 217.16L496.63 217.84zM495.28 216.85L494.11 217.53L492.94 216.85L492.94 215.5L494.11 214.83L495.28 215.5zM495.88 225.27L494.71 225.94L493.54 225.27L493.54 223.92L494.71 223.24L495.88 223.92zM490.48 225.27L489.31 225.94L488.14 225.27L488.14 223.92L489.31 223.24L490.48 223.92zM491.09 233.68L489.92 234.36L488.75 233.68L488.75 232.33L489.92 231.66L491.09 232.33zM487.04 231.35L485.87 232.02L484.7 231.35L484.7 230L485.87 229.32L487.04 230zM489.74 231.35L488.57 232.02L487.4 231.35L487.4 230L488.57 229.32L489.74 230zM484.94 239.76L483.77 240.44L482.6 239.76L482.6 238.41L483.77 237.74L484.94 238.41zM481.49 250.52L480.32 251.19L479.15 250.52L479.15 249.17L480.32 248.49L481.49 249.17zM480.14 252.85L478.97 253.53L477.8 252.85L477.8 251.5L478.97 250.83L480.14 251.5zM477.44 252.85L476.27 253.53L475.1 252.85L475.1 251.5L476.27 250.83L477.44 251.5zM480.14 248.18L478.97 248.85L477.8 248.18L477.8 246.83L478.97 246.15L480.14 246.83zM476.69 258.93L475.52 259.61L474.35 258.93L474.35 257.58L475.52 256.91L476.69 257.58zM475.34 261.27L474.17 261.95L473 261.27L473 259.92L474.17 259.25L475.34 259.92zM471.29 258.93L470.12 259.61L468.95 258.93L468.95 257.58L470.12 256.91L471.29 257.58zM472.64 256.6L471.47 257.27L470.3 256.6L470.3 255.25L471.47 254.57L472.64 255.25zM467.85 265.01L466.68 265.69L465.51 265.01L465.51 263.66L466.68 262.99L467.85 263.66zM470.55 265.01L469.38 265.69L468.21 265.01L468.21 263.66L469.38 262.99L470.55 263.66zM465.75 278.1L464.58 278.78L463.41 278.1L463.41 276.75L464.58 276.08L465.75 276.75zM463.05 278.1L461.88 278.78L460.71 278.1L460.71 276.75L461.88 276.08L463.05 276.75zM461.7 275.77L460.53 276.44L459.36 275.77L459.36 274.42L460.53 273.74L461.7 274.42z" fill="#ffffff" stroke="#555" stroke-width="0.45"/>
<path d="M513.72 193.94L512.55 194.61L511.38 193.94L511.38 192.59L512.55 191.91L513.72 192.59zM511.02 189.26L509.85 189.94L508.68 189.26L508.68 187.91L509.85 187.24L511.02 187.91zM501.43 210.77L500.26 211.45L499.09 210.77L499.09 209.42L500.26 208.75L501.43 209.42zM500.68 216.85L499.51 217.53L498.34 216.85L498.34 215.5L499.51 214.83L500.68 215.5zM499.33 219.19L498.16 219.86L496.99 219.19L496.99 217.84L498.16 217.16L499.33 217.84zM499.33 214.51L498.16 215.19L496.99 214.51L496.99 213.16L498.16 212.49L499.33 213.16zM486.29 242.1L485.12 242.78L483.95 242.1L483.95 240.75L485.12 240.08L486.29 240.75zM484.94 244.44L483.77 245.11L482.6 244.44L482.6 243.09L483.77 242.41L484.94 243.09zM482.24 239.76L481.07 240.44L479.9 239.76L479.9 238.41L481.07 237.74L482.24 238.41zM477.44 248.18L476.27 248.85L475.1 248.18L475.1 246.83L476.27 246.15L477.44 246.83zM472.64 261.27L471.47 261.95L470.3 261.27L470.3 259.92L471.47 259.25L472.64 259.92zM475.34 256.6L474.17 257.27L473 256.6L473 255.25L474.17 254.57L475.34 255.25zM470.55 269.69L469.38 270.36L468.21 269.69L468.21 268.34L469.38 267.66L470.55 268.34zM467.85 269.69L466.68 270.36L465.51 269.69L465.51 268.34L466.68 267.66L467.85 268.34zM467.1 275.77L465.93 276.44L464.76 275.77L464.76 274.42L465.93 273.74L467.1 274.42z" fill="#c8c8f4" stroke="#555" stroke-width="0.45"/>
<path d="M506.23 197.68L505.06 198.35L503.89 197.68L503.89 196.33L505.06 195.65L506.23 196.33zM508.93 197.68L507.76 198.35L506.59 197.68L506.59 196.33L507.76 195.65L508.93 196.33zM500.08 208.43L498.91 209.11L497.74 208.43L497.74 207.08L498.91 206.41L500.08 207.08zM496.63 214.51L495.46 215.19L494.29 214.51L494.29 213.16L495.46 212.49L496.63 213.16zM482.24 244.44L481.07 245.11L479.9 244.44L479.9 243.09L481.07 242.41L482.24 243.09zM480.89 242.1L479.72 242.78L478.55 242.1L478.55 240.75L479.72 240.08L480.89 240.75zM476.09 250.52L474.92 251.19L473.75 250.52L473.75 249.17L474.92 248.49L476.09 249.17zM471.9 267.35L470.73 268.03L469.56 267.35L469.56 266L470.73 265.32L471.9 266zM466.5 267.35L465.33 268.03L464.16 267.35L464.16 266L465.33 265.32L466.5 266zM463.05 273.43L461.88 274.1L460.71 273.43L460.71 272.08L461.88 271.4L463.05 272.08zM465.75 273.43L464.58 274.1L463.41 273.43L463.41 272.08L464.58 271.4L465.75 272.08z" fill="#f4c8c8" stroke="#555" stroke-width="0.45"/>
<path d="M494.53 227.6L493.36 228.28L492.19 227.6L492.19 226.25L493.36 225.58L494.53 226.25z" fill="#7070f0" stroke="#555" stroke-width="0.45"/>
<path d="M491.83 227.6L490.66 228.28L489.49 227.6L489.49 226.25L490.66 225.58L491.83 226.25zM494.53 222.93L493.36 223.6L492.19 222.93L492.19 221.58L493.36 220.9L494.53 221.58z" fill="#f07070" stroke="#555" stroke-width="0.45"/>
<path d="M491.83 222.93L490.66 223.6L489.49 222.93L489.49 221.58L490.66 220.9L491.83 221.58zM489.74 236.02L488.57 236.7L487.4 236.02L487.4 234.67L488.57 234L489.74 234.67zM485.69 233.68L484.52 234.36L483.35 233.68L483.35 232.33L484.52 231.66L485.69 232.33z" fill="#2828e0" stroke="#555" stroke-width="0.45"/>
<path d="M487.04 236.02L485.87 236.7L484.7 236.02L484.7 234.67L485.87 234L487.04 234.67z" fill="#e02828" stroke="#555" stroke-width="0.45"/>
<path d="M509.5 186.72h8.2M504.7 195.13h8.2M499.91 203.55h8.2M495.11 211.97h8.2M490.31 220.38h8.2M485.51 228.8h8.2M480.72 237.22h8.2M475.92 245.63h8.2M471.12 254.05h8.2M466.32 262.47h8.2M461.53 270.88h8.2" stroke="#888" stroke-width="0.4" fill="none"/>
<polygon points="514.3,178.3 522.5,178.3 464.93,279.3 456.73,279.3" fill="none" stroke="#707070" stroke-width="0.7"/>
<line x1="540" y1="178" x2="498.16" y2="221" stroke="#000" stroke-width="0.9" stroke-dasharray="2.6,1.1"/>
<line x1="481.5" y1="279" x2="488.47" y2="238" stroke="#000" stroke-width="0.9" stroke-dasharray="2.6,1.1"/>
<text x="495" y="182.9" font-size="13.6" text-anchor="start" font-weight="bold" font-style="normal" font-family='"Liberation Sans", sans-serif' fill="#000" >G</text>
<text x="486.9" y="293.6" font-size="10.3" text-anchor="start" font-weight="normal" font-style="normal" font-family='"Liberation Sans", sans-serif' fill="#111" >7.53 kHz</text>
</svg></body></html>
